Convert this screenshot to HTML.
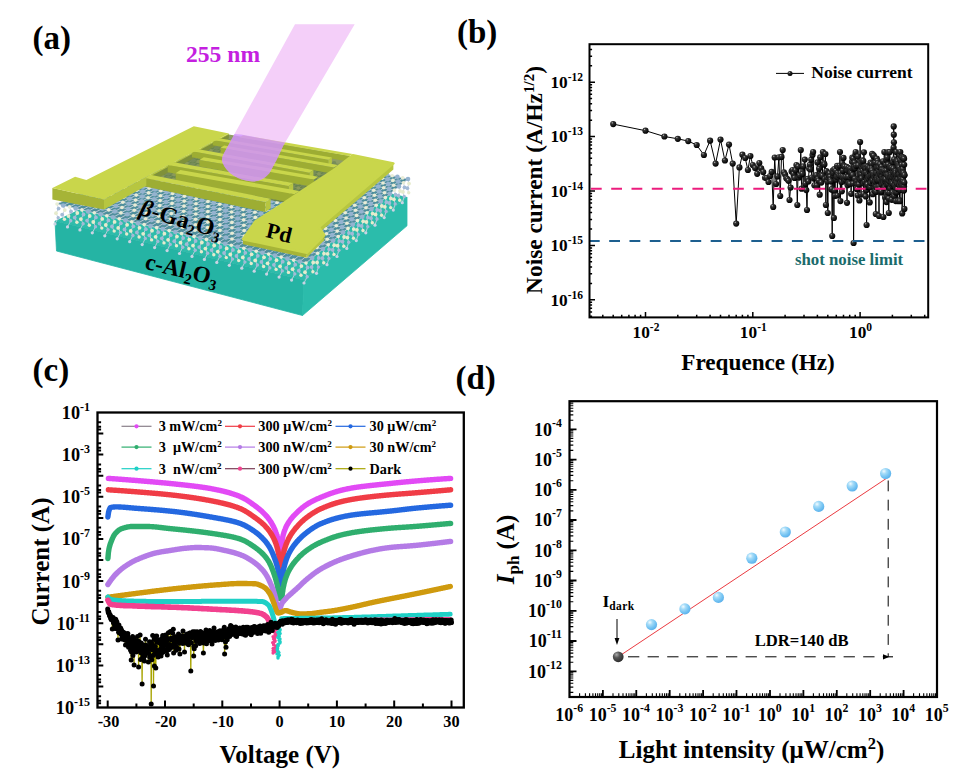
<!DOCTYPE html>
<html><head><meta charset="utf-8"><title>figure</title>
<style>
html,body{margin:0;padding:0;background:#fff;}
body{width:977px;height:775px;overflow:hidden;font-family:"Liberation Serif",serif;}
svg{display:block}
text{font-family:"Liberation Serif",serif;font-weight:bold;}
</style></head><body>
<svg width="977" height="775" viewBox="0 0 977 775">
<defs>
<radialGradient id="gk" cx="35%" cy="30%" r="70%"><stop offset="0" stop-color="#bbb"/><stop offset="0.25" stop-color="#333"/><stop offset="1" stop-color="#000"/></radialGradient>
<radialGradient id="gb" cx="35%" cy="30%" r="75%"><stop offset="0" stop-color="#f2fbff"/><stop offset="0.3" stop-color="#a6dcf8"/><stop offset="0.7" stop-color="#72c2f2"/><stop offset="1" stop-color="#58aeea"/></radialGradient>
<radialGradient id="gg" cx="35%" cy="30%" r="75%"><stop offset="0" stop-color="#aaa"/><stop offset="0.4" stop-color="#555"/><stop offset="1" stop-color="#2a2a2a"/></radialGradient>
<linearGradient id="beam" gradientUnits="userSpaceOnUse" x1="312" y1="25" x2="251" y2="180"><stop offset="0" stop-color="#efb4f6" stop-opacity="0.62"/><stop offset="0.62" stop-color="#eaa6f4" stop-opacity="0.68"/><stop offset="0.74" stop-color="#c98af0" stop-opacity="0.86"/><stop offset="1" stop-color="#c485ee" stop-opacity="0.9"/></linearGradient>
</defs>
<rect width="977" height="775" fill="#fff"/>
<g id="pa">
<text x="32.5" y="48.5" font-size="33" text-anchor="start" fill="#000" >(a)</text>
<text x="186" y="62" font-size="23.6" text-anchor="start" fill="#c41fe0" >255 nm</text>
<polygon points="55,221 304,280 407,197 200,152" fill="#2fbcab" />
<polygon points="55,221 304,280 302.5,315.5 56.5,251" fill="#25b4a4" stroke="#25b4a4" stroke-width="0.8"/>
<polygon points="304,280 407,197 407,225.8 302.5,315.5" fill="#2bbcab" stroke="#2bbcab" stroke-width="0.8"/>
<polygon points="57,204 306,263 408,179 197,134.5" fill="#4f8f9c" />
<path d="M197,134.5L202.3,135.6 M202.3,135.6L207.5,136.7 M207.5,136.7L212.8,137.8 M212.8,137.8L218.1,138.9 M218.1,138.9L223.4,140.1 M223.4,140.1L228.6,141.2 M228.6,141.2L233.9,142.3 M233.9,142.3L239.2,143.4 M239.2,143.4L244.5,144.5 M244.5,144.5L249.8,145.6 M249.8,145.6L255,146.7 M255,146.7L260.3,147.8 M260.3,147.8L265.6,149 M265.6,149L270.9,150.1 M270.9,150.1L276.1,151.2 M276.1,151.2L281.4,152.3 M281.4,152.3L286.7,153.4 M286.7,153.4L291.9,154.5 M291.9,154.5L297.2,155.6 M297.2,155.6L302.5,156.8 M302.5,156.8L307.8,157.9 M307.8,157.9L313.1,159 M313.1,159L318.3,160.1 M318.3,160.1L323.6,161.2 M323.6,161.2L328.9,162.3 M328.9,162.3L334.1,163.4 M334.1,163.4L339.4,164.5 M339.4,164.5L344.7,165.7 M344.7,165.7L350,166.8 M350,166.8L355.2,167.9 M355.2,167.9L360.5,169 M360.5,169L365.8,170.1 M365.8,170.1L371.1,171.2 M371.1,171.2L376.4,172.3 M376.4,172.3L381.6,173.4 M381.6,173.4L386.9,174.5 M386.9,174.5L392.2,175.7 M392.2,175.7L397.4,176.8 M397.4,176.8L402.7,177.9 M402.7,177.9L408,179 M190.9,137.6L196.2,138.7 M190.9,137.6L197,134.5 M196.2,138.7L201.5,139.8 M196.2,138.7L202.3,135.6 M201.5,139.8L206.8,140.9 M201.5,139.8L207.5,136.7 M206.8,140.9L212.1,142.1 M206.8,140.9L212.8,137.8 M212.1,142.1L217.4,143.2 M212.1,142.1L218.1,138.9 M217.4,143.2L222.8,144.3 M217.4,143.2L223.4,140.1 M222.8,144.3L228.1,145.4 M222.8,144.3L228.6,141.2 M228.1,145.4L233.4,146.6 M228.1,145.4L233.9,142.3 M233.4,146.6L238.7,147.7 M233.4,146.6L239.2,143.4 M238.7,147.7L244,148.8 M238.7,147.7L244.5,144.5 M244,148.8L249.3,150 M244,148.8L249.8,145.6 M249.3,150L254.7,151.1 M249.3,150L255,146.7 M254.7,151.1L260,152.2 M254.7,151.1L260.3,147.8 M260,152.2L265.3,153.3 M260,152.2L265.6,149 M265.3,153.3L270.6,154.5 M265.3,153.3L270.9,150.1 M270.6,154.5L275.9,155.6 M270.6,154.5L276.1,151.2 M275.9,155.6L281.2,156.7 M275.9,155.6L281.4,152.3 M281.2,156.7L286.6,157.9 M281.2,156.7L286.7,153.4 M286.6,157.9L291.9,159 M286.6,157.9L291.9,154.5 M291.9,159L297.2,160.1 M291.9,159L297.2,155.6 M297.2,160.1L302.5,161.2 M297.2,160.1L302.5,156.8 M302.5,161.2L307.8,162.4 M302.5,161.2L307.8,157.9 M307.8,162.4L313.1,163.5 M307.8,162.4L313.1,159 M313.1,163.5L318.5,164.6 M313.1,163.5L318.3,160.1 M318.5,164.6L323.8,165.8 M318.5,164.6L323.6,161.2 M323.8,165.8L329.1,166.9 M323.8,165.8L328.9,162.3 M329.1,166.9L334.4,168 M329.1,166.9L334.1,163.4 M334.4,168L339.7,169.1 M334.4,168L339.4,164.5 M339.7,169.1L345,170.3 M339.7,169.1L344.7,165.7 M345,170.3L350.4,171.4 M345,170.3L350,166.8 M350.4,171.4L355.7,172.5 M350.4,171.4L355.2,167.9 M355.7,172.5L361,173.7 M355.7,172.5L360.5,169 M361,173.7L366.3,174.8 M361,173.7L365.8,170.1 M366.3,174.8L371.6,175.9 M366.3,174.8L371.1,171.2 M371.6,175.9L376.9,177 M371.6,175.9L376.4,172.3 M376.9,177L382.3,178.2 M376.9,177L381.6,173.4 M382.3,178.2L387.6,179.3 M382.3,178.2L386.9,174.5 M387.6,179.3L392.9,180.4 M387.6,179.3L392.2,175.7 M392.9,180.4L398.2,181.6 M392.9,180.4L397.4,176.8 M398.2,181.6L403.5,182.7 M398.2,181.6L402.7,177.9 M403.5,182.7L408,179 M184.7,140.6L190,141.8 M184.7,140.6L190.9,137.6 M190,141.8L195.4,142.9 M190,141.8L196.2,138.7 M195.4,142.9L200.8,144 M195.4,142.9L201.5,139.8 M200.8,144L206.1,145.2 M200.8,144L206.8,140.9 M206.1,145.2L211.5,146.3 M206.1,145.2L212.1,142.1 M211.5,146.3L216.8,147.5 M211.5,146.3L217.4,143.2 M216.8,147.5L222.2,148.6 M216.8,147.5L222.8,144.3 M222.2,148.6L227.6,149.8 M222.2,148.6L228.1,145.4 M227.6,149.8L232.9,150.9 M227.6,149.8L233.4,146.6 M232.9,150.9L238.3,152.1 M232.9,150.9L238.7,147.7 M238.3,152.1L243.6,153.2 M238.3,152.1L244,148.8 M243.6,153.2L249,154.3 M243.6,153.2L249.3,150 M249,154.3L254.3,155.5 M249,154.3L254.7,151.1 M254.3,155.5L259.7,156.6 M254.3,155.5L260,152.2 M259.7,156.6L265.1,157.8 M259.7,156.6L265.3,153.3 M265.1,157.8L270.4,158.9 M265.1,157.8L270.6,154.5 M270.4,158.9L275.8,160.1 M270.4,158.9L275.9,155.6 M275.8,160.1L281.1,161.2 M275.8,160.1L281.2,156.7 M281.1,161.2L286.5,162.4 M281.1,161.2L286.6,157.9 M286.5,162.4L291.9,163.5 M286.5,162.4L291.9,159 M291.9,163.5L297.2,164.6 M291.9,163.5L297.2,160.1 M297.2,164.6L302.6,165.8 M297.2,164.6L302.5,161.2 M302.6,165.8L307.9,166.9 M302.6,165.8L307.8,162.4 M307.9,166.9L313.3,168.1 M307.9,166.9L313.1,163.5 M313.3,168.1L318.6,169.2 M313.3,168.1L318.5,164.6 M318.6,169.2L324,170.4 M318.6,169.2L323.8,165.8 M324,170.4L329.4,171.5 M324,170.4L329.1,166.9 M329.4,171.5L334.7,172.7 M329.4,171.5L334.4,168 M334.7,172.7L340.1,173.8 M334.7,172.7L339.7,169.1 M340.1,173.8L345.4,174.9 M340.1,173.8L345,170.3 M345.4,174.9L350.8,176.1 M345.4,174.9L350.4,171.4 M350.8,176.1L356.2,177.2 M350.8,176.1L355.7,172.5 M356.2,177.2L361.5,178.4 M356.2,177.2L361,173.7 M361.5,178.4L366.9,179.5 M361.5,178.4L366.3,174.8 M366.9,179.5L372.2,180.7 M366.9,179.5L371.6,175.9 M372.2,180.7L377.6,181.8 M372.2,180.7L376.9,177 M377.6,181.8L383,183 M377.6,181.8L382.3,178.2 M383,183L388.3,184.1 M383,183L387.6,179.3 M388.3,184.1L393.7,185.2 M388.3,184.1L392.9,180.4 M393.7,185.2L399,186.4 M393.7,185.2L398.2,181.6 M399,186.4L403.5,182.7 M178.5,143.7L183.9,144.8 M178.5,143.7L184.7,140.6 M183.9,144.8L189.3,146 M183.9,144.8L190,141.8 M189.3,146L194.7,147.2 M189.3,146L195.4,142.9 M194.7,147.2L200.1,148.3 M194.7,147.2L200.8,144 M200.1,148.3L205.5,149.5 M200.1,148.3L206.1,145.2 M205.5,149.5L210.9,150.7 M205.5,149.5L211.5,146.3 M210.9,150.7L216.3,151.8 M210.9,150.7L216.8,147.5 M216.3,151.8L221.7,153 M216.3,151.8L222.2,148.6 M221.7,153L227.1,154.1 M221.7,153L227.6,149.8 M227.1,154.1L232.5,155.3 M227.1,154.1L232.9,150.9 M232.5,155.3L237.9,156.5 M232.5,155.3L238.3,152.1 M237.9,156.5L243.3,157.6 M237.9,156.5L243.6,153.2 M243.3,157.6L248.7,158.8 M243.3,157.6L249,154.3 M248.7,158.8L254.1,159.9 M248.7,158.8L254.3,155.5 M254.1,159.9L259.5,161.1 M254.1,159.9L259.7,156.6 M259.5,161.1L264.9,162.3 M259.5,161.1L265.1,157.8 M264.9,162.3L270.3,163.4 M264.9,162.3L270.4,158.9 M270.3,163.4L275.7,164.6 M270.3,163.4L275.8,160.1 M275.7,164.6L281.1,165.7 M275.7,164.6L281.1,161.2 M281.1,165.7L286.5,166.9 M281.1,165.7L286.5,162.4 M286.5,166.9L291.9,168.1 M286.5,166.9L291.9,163.5 M291.9,168.1L297.3,169.2 M291.9,168.1L297.2,164.6 M297.3,169.2L302.7,170.4 M297.3,169.2L302.6,165.8 M302.7,170.4L308.1,171.5 M302.7,170.4L307.9,166.9 M308.1,171.5L313.5,172.7 M308.1,171.5L313.3,168.1 M313.5,172.7L318.9,173.9 M313.5,172.7L318.6,169.2 M318.9,173.9L324.3,175 M318.9,173.9L324,170.4 M324.3,175L329.7,176.2 M324.3,175L329.4,171.5 M329.7,176.2L335.1,177.3 M329.7,176.2L334.7,172.7 M335.1,177.3L340.5,178.5 M335.1,177.3L340.1,173.8 M340.5,178.5L345.9,179.7 M340.5,178.5L345.4,174.9 M345.9,179.7L351.3,180.8 M345.9,179.7L350.8,176.1 M351.3,180.8L356.7,182 M351.3,180.8L356.2,177.2 M356.7,182L362.1,183.1 M356.7,182L361.5,178.4 M362.1,183.1L367.5,184.3 M362.1,183.1L366.9,179.5 M367.5,184.3L372.9,185.5 M367.5,184.3L372.2,180.7 M372.9,185.5L378.3,186.6 M372.9,185.5L377.6,181.8 M378.3,186.6L383.7,187.8 M378.3,186.6L383,183 M383.7,187.8L389.1,188.9 M383.7,187.8L388.3,184.1 M389.1,188.9L394.5,190.1 M389.1,188.9L393.7,185.2 M394.5,190.1L399,186.4 M172.3,146.8L177.7,148 M172.3,146.8L178.5,143.7 M177.7,148L183.2,149.1 M177.7,148L183.9,144.8 M183.2,149.1L188.6,150.3 M183.2,149.1L189.3,146 M188.6,150.3L194,151.5 M188.6,150.3L194.7,147.2 M194,151.5L199.5,152.7 M194,151.5L200.1,148.3 M199.5,152.7L204.9,153.8 M199.5,152.7L205.5,149.5 M204.9,153.8L210.4,155 M204.9,153.8L210.9,150.7 M210.4,155L215.8,156.2 M210.4,155L216.3,151.8 M215.8,156.2L221.3,157.4 M215.8,156.2L221.7,153 M221.3,157.4L226.7,158.5 M221.3,157.4L227.1,154.1 M226.7,158.5L232.1,159.7 M226.7,158.5L232.5,155.3 M232.1,159.7L237.6,160.9 M232.1,159.7L237.9,156.5 M237.6,160.9L243,162.1 M237.6,160.9L243.3,157.6 M243,162.1L248.5,163.3 M243,162.1L248.7,158.8 M248.5,163.3L253.9,164.4 M248.5,163.3L254.1,159.9 M253.9,164.4L259.4,165.6 M253.9,164.4L259.5,161.1 M259.4,165.6L264.8,166.8 M259.4,165.6L264.9,162.3 M264.8,166.8L270.2,168 M264.8,166.8L270.3,163.4 M270.2,168L275.7,169.1 M270.2,168L275.7,164.6 M275.7,169.1L281.1,170.3 M275.7,169.1L281.1,165.7 M281.1,170.3L286.6,171.5 M281.1,170.3L286.5,166.9 M286.6,171.5L292,172.7 M286.6,171.5L291.9,168.1 M292,172.7L297.5,173.8 M292,172.7L297.3,169.2 M297.5,173.8L302.9,175 M297.5,173.8L302.7,170.4 M302.9,175L308.3,176.2 M302.9,175L308.1,171.5 M308.3,176.2L313.8,177.4 M308.3,176.2L313.5,172.7 M313.8,177.4L319.2,178.5 M313.8,177.4L318.9,173.9 M319.2,178.5L324.7,179.7 M319.2,178.5L324.3,175 M324.7,179.7L330.1,180.9 M324.7,179.7L329.7,176.2 M330.1,180.9L335.6,182.1 M330.1,180.9L335.1,177.3 M335.6,182.1L341,183.3 M335.6,182.1L340.5,178.5 M341,183.3L346.4,184.4 M341,183.3L345.9,179.7 M346.4,184.4L351.9,185.6 M346.4,184.4L351.3,180.8 M351.9,185.6L357.3,186.8 M351.9,185.6L356.7,182 M357.3,186.8L362.8,188 M357.3,186.8L362.1,183.1 M362.8,188L368.2,189.1 M362.8,188L367.5,184.3 M368.2,189.1L373.7,190.3 M368.2,189.1L372.9,185.5 M373.7,190.3L379.1,191.5 M373.7,190.3L378.3,186.6 M379.1,191.5L384.5,192.7 M379.1,191.5L383.7,187.8 M384.5,192.7L390,193.8 M384.5,192.7L389.1,188.9 M390,193.8L394.5,190.1 M166,149.9L171.5,151.1 M166,149.9L172.3,146.8 M171.5,151.1L177,152.3 M171.5,151.1L177.7,148 M177,152.3L182.5,153.5 M177,152.3L183.2,149.1 M182.5,153.5L188,154.7 M182.5,153.5L188.6,150.3 M188,154.7L193.4,155.8 M188,154.7L194,151.5 M193.4,155.8L198.9,157 M193.4,155.8L199.5,152.7 M198.9,157L204.4,158.2 M198.9,157L204.9,153.8 M204.4,158.2L209.9,159.4 M204.4,158.2L210.4,155 M209.9,159.4L215.4,160.6 M209.9,159.4L215.8,156.2 M215.4,160.6L220.9,161.8 M215.4,160.6L221.3,157.4 M220.9,161.8L226.4,163 M220.9,161.8L226.7,158.5 M226.4,163L231.8,164.2 M226.4,163L232.1,159.7 M231.8,164.2L237.3,165.4 M231.8,164.2L237.6,160.9 M237.3,165.4L242.8,166.6 M237.3,165.4L243,162.1 M242.8,166.6L248.3,167.8 M242.8,166.6L248.5,163.3 M248.3,167.8L253.8,169 M248.3,167.8L253.9,164.4 M253.8,169L259.3,170.2 M253.8,169L259.4,165.6 M259.3,170.2L264.7,171.4 M259.3,170.2L264.8,166.8 M264.7,171.4L270.2,172.5 M264.7,171.4L270.2,168 M270.2,172.5L275.7,173.7 M270.2,172.5L275.7,169.1 M275.7,173.7L281.2,174.9 M275.7,173.7L281.1,170.3 M281.2,174.9L286.7,176.1 M281.2,174.9L286.6,171.5 M286.7,176.1L292.2,177.3 M286.7,176.1L292,172.7 M292.2,177.3L297.7,178.5 M292.2,177.3L297.5,173.8 M297.7,178.5L303.1,179.7 M297.7,178.5L302.9,175 M303.1,179.7L308.6,180.9 M303.1,179.7L308.3,176.2 M308.6,180.9L314.1,182.1 M308.6,180.9L313.8,177.4 M314.1,182.1L319.6,183.3 M314.1,182.1L319.2,178.5 M319.6,183.3L325.1,184.5 M319.6,183.3L324.7,179.7 M325.1,184.5L330.6,185.7 M325.1,184.5L330.1,180.9 M330.6,185.7L336.1,186.9 M330.6,185.7L335.6,182.1 M336.1,186.9L341.5,188.1 M336.1,186.9L341,183.3 M341.5,188.1L347,189.2 M341.5,188.1L346.4,184.4 M347,189.2L352.5,190.4 M347,189.2L351.9,185.6 M352.5,190.4L358,191.6 M352.5,190.4L357.3,186.8 M358,191.6L363.5,192.8 M358,191.6L362.8,188 M363.5,192.8L369,194 M363.5,192.8L368.2,189.1 M369,194L374.5,195.2 M369,194L373.7,190.3 M374.5,195.2L379.9,196.4 M374.5,195.2L379.1,191.5 M379.9,196.4L385.4,197.6 M379.9,196.4L384.5,192.7 M385.4,197.6L390,193.8 M159.7,153L165.3,154.2 M159.7,153L166,149.9 M165.3,154.2L170.8,155.4 M165.3,154.2L171.5,151.1 M170.8,155.4L176.3,156.6 M170.8,155.4L177,152.3 M176.3,156.6L181.8,157.8 M176.3,156.6L182.5,153.5 M181.8,157.8L187.4,159 M181.8,157.8L188,154.7 M187.4,159L192.9,160.3 M187.4,159L193.4,155.8 M192.9,160.3L198.4,161.5 M192.9,160.3L198.9,157 M198.4,161.5L204,162.7 M198.4,161.5L204.4,158.2 M204,162.7L209.5,163.9 M204,162.7L209.9,159.4 M209.5,163.9L215,165.1 M209.5,163.9L215.4,160.6 M215,165.1L220.5,166.3 M215,165.1L220.9,161.8 M220.5,166.3L226.1,167.5 M220.5,166.3L226.4,163 M226.1,167.5L231.6,168.7 M226.1,167.5L231.8,164.2 M231.6,168.7L237.1,169.9 M231.6,168.7L237.3,165.4 M237.1,169.9L242.6,171.1 M237.1,169.9L242.8,166.6 M242.6,171.1L248.2,172.3 M242.6,171.1L248.3,167.8 M248.2,172.3L253.7,173.6 M248.2,172.3L253.8,169 M253.7,173.6L259.2,174.8 M253.7,173.6L259.3,170.2 M259.2,174.8L264.8,176 M259.2,174.8L264.7,171.4 M264.8,176L270.3,177.2 M264.8,176L270.2,172.5 M270.3,177.2L275.8,178.4 M270.3,177.2L275.7,173.7 M275.8,178.4L281.3,179.6 M275.8,178.4L281.2,174.9 M281.3,179.6L286.9,180.8 M281.3,179.6L286.7,176.1 M286.9,180.8L292.4,182 M286.9,180.8L292.2,177.3 M292.4,182L297.9,183.2 M292.4,182L297.7,178.5 M297.9,183.2L303.5,184.4 M297.9,183.2L303.1,179.7 M303.5,184.4L309,185.6 M303.5,184.4L308.6,180.9 M309,185.6L314.5,186.9 M309,185.6L314.1,182.1 M314.5,186.9L320,188.1 M314.5,186.9L319.6,183.3 M320,188.1L325.6,189.3 M320,188.1L325.1,184.5 M325.6,189.3L331.1,190.5 M325.6,189.3L330.6,185.7 M331.1,190.5L336.6,191.7 M331.1,190.5L336.1,186.9 M336.6,191.7L342.1,192.9 M336.6,191.7L341.5,188.1 M342.1,192.9L347.7,194.1 M342.1,192.9L347,189.2 M347.7,194.1L353.2,195.3 M347.7,194.1L352.5,190.4 M353.2,195.3L358.7,196.5 M353.2,195.3L358,191.6 M358.7,196.5L364.3,197.7 M358.7,196.5L363.5,192.8 M364.3,197.7L369.8,198.9 M364.3,197.7L369,194 M369.8,198.9L375.3,200.2 M369.8,198.9L374.5,195.2 M375.3,200.2L380.8,201.4 M375.3,200.2L379.9,196.4 M380.8,201.4L385.4,197.6 M153.4,156.1L159,157.4 M153.4,156.1L159.7,153 M159,157.4L164.6,158.6 M159,157.4L165.3,154.2 M164.6,158.6L170.1,159.8 M164.6,158.6L170.8,155.4 M170.1,159.8L175.7,161 M170.1,159.8L176.3,156.6 M175.7,161L181.3,162.3 M175.7,161L181.8,157.8 M181.3,162.3L186.8,163.5 M181.3,162.3L187.4,159 M186.8,163.5L192.4,164.7 M186.8,163.5L192.9,160.3 M192.4,164.7L198,165.9 M192.4,164.7L198.4,161.5 M198,165.9L203.5,167.2 M198,165.9L204,162.7 M203.5,167.2L209.1,168.4 M203.5,167.2L209.5,163.9 M209.1,168.4L214.7,169.6 M209.1,168.4L215,165.1 M214.7,169.6L220.3,170.8 M214.7,169.6L220.5,166.3 M220.3,170.8L225.8,172.1 M220.3,170.8L226.1,167.5 M225.8,172.1L231.4,173.3 M225.8,172.1L231.6,168.7 M231.4,173.3L237,174.5 M231.4,173.3L237.1,169.9 M237,174.5L242.5,175.7 M237,174.5L242.6,171.1 M242.5,175.7L248.1,177 M242.5,175.7L248.2,172.3 M248.1,177L253.7,178.2 M248.1,177L253.7,173.6 M253.7,178.2L259.3,179.4 M253.7,178.2L259.2,174.8 M259.3,179.4L264.8,180.6 M259.3,179.4L264.8,176 M264.8,180.6L270.4,181.9 M264.8,180.6L270.3,177.2 M270.4,181.9L276,183.1 M270.4,181.9L275.8,178.4 M276,183.1L281.5,184.3 M276,183.1L281.3,179.6 M281.5,184.3L287.1,185.5 M281.5,184.3L286.9,180.8 M287.1,185.5L292.7,186.8 M287.1,185.5L292.4,182 M292.7,186.8L298.3,188 M292.7,186.8L297.9,183.2 M298.3,188L303.8,189.2 M298.3,188L303.5,184.4 M303.8,189.2L309.4,190.4 M303.8,189.2L309,185.6 M309.4,190.4L315,191.7 M309.4,190.4L314.5,186.9 M315,191.7L320.5,192.9 M315,191.7L320,188.1 M320.5,192.9L326.1,194.1 M320.5,192.9L325.6,189.3 M326.1,194.1L331.7,195.4 M326.1,194.1L331.1,190.5 M331.7,195.4L337.2,196.6 M331.7,195.4L336.6,191.7 M337.2,196.6L342.8,197.8 M337.2,196.6L342.1,192.9 M342.8,197.8L348.4,199 M342.8,197.8L347.7,194.1 M348.4,199L354,200.3 M348.4,199L353.2,195.3 M354,200.3L359.5,201.5 M354,200.3L358.7,196.5 M359.5,201.5L365.1,202.7 M359.5,201.5L364.3,197.7 M365.1,202.7L370.7,203.9 M365.1,202.7L369.8,198.9 M370.7,203.9L376.2,205.2 M370.7,203.9L375.3,200.2 M376.2,205.2L380.8,201.4 M147.1,159.3L152.7,160.5 M147.1,159.3L153.4,156.1 M152.7,160.5L158.3,161.8 M152.7,160.5L159,157.4 M158.3,161.8L163.9,163 M158.3,161.8L164.6,158.6 M163.9,163L169.5,164.3 M163.9,163L170.1,159.8 M169.5,164.3L175.1,165.5 M169.5,164.3L175.7,161 M175.1,165.5L180.7,166.7 M175.1,165.5L181.3,162.3 M180.7,166.7L186.4,168 M180.7,166.7L186.8,163.5 M186.4,168L192,169.2 M186.4,168L192.4,164.7 M192,169.2L197.6,170.5 M192,169.2L198,165.9 M197.6,170.5L203.2,171.7 M197.6,170.5L203.5,167.2 M203.2,171.7L208.8,173 M203.2,171.7L209.1,168.4 M208.8,173L214.4,174.2 M208.8,173L214.7,169.6 M214.4,174.2L220,175.4 M214.4,174.2L220.3,170.8 M220,175.4L225.7,176.7 M220,175.4L225.8,172.1 M225.7,176.7L231.3,177.9 M225.7,176.7L231.4,173.3 M231.3,177.9L236.9,179.2 M231.3,177.9L237,174.5 M236.9,179.2L242.5,180.4 M236.9,179.2L242.5,175.7 M242.5,180.4L248.1,181.6 M242.5,180.4L248.1,177 M248.1,181.6L253.7,182.9 M248.1,181.6L253.7,178.2 M253.7,182.9L259.3,184.1 M253.7,182.9L259.3,179.4 M259.3,184.1L264.9,185.4 M259.3,184.1L264.8,180.6 M264.9,185.4L270.6,186.6 M264.9,185.4L270.4,181.9 M270.6,186.6L276.2,187.9 M270.6,186.6L276,183.1 M276.2,187.9L281.8,189.1 M276.2,187.9L281.5,184.3 M281.8,189.1L287.4,190.3 M281.8,189.1L287.1,185.5 M287.4,190.3L293,191.6 M287.4,190.3L292.7,186.8 M293,191.6L298.6,192.8 M293,191.6L298.3,188 M298.6,192.8L304.2,194.1 M298.6,192.8L303.8,189.2 M304.2,194.1L309.9,195.3 M304.2,194.1L309.4,190.4 M309.9,195.3L315.5,196.5 M309.9,195.3L315,191.7 M315.5,196.5L321.1,197.8 M315.5,196.5L320.5,192.9 M321.1,197.8L326.7,199 M321.1,197.8L326.1,194.1 M326.7,199L332.3,200.3 M326.7,199L331.7,195.4 M332.3,200.3L337.9,201.5 M332.3,200.3L337.2,196.6 M337.9,201.5L343.5,202.8 M337.9,201.5L342.8,197.8 M343.5,202.8L349.2,204 M343.5,202.8L348.4,199 M349.2,204L354.8,205.2 M349.2,204L354,200.3 M354.8,205.2L360.4,206.5 M354.8,205.2L359.5,201.5 M360.4,206.5L366,207.7 M360.4,206.5L365.1,202.7 M366,207.7L371.6,209 M366,207.7L370.7,203.9 M371.6,209L376.2,205.2 M140.7,162.5L146.3,163.7 M140.7,162.5L147.1,159.3 M146.3,163.7L152,165 M146.3,163.7L152.7,160.5 M152,165L157.6,166.2 M152,165L158.3,161.8 M157.6,166.2L163.3,167.5 M157.6,166.2L163.9,163 M163.3,167.5L168.9,168.8 M163.3,167.5L169.5,164.3 M168.9,168.8L174.6,170 M168.9,168.8L175.1,165.5 M174.6,170L180.3,171.3 M174.6,170L180.7,166.7 M180.3,171.3L185.9,172.5 M180.3,171.3L186.4,168 M185.9,172.5L191.6,173.8 M185.9,172.5L192,169.2 M191.6,173.8L197.2,175.1 M191.6,173.8L197.6,170.5 M197.2,175.1L202.9,176.3 M197.2,175.1L203.2,171.7 M202.9,176.3L208.6,177.6 M202.9,176.3L208.8,173 M208.6,177.6L214.2,178.8 M208.6,177.6L214.4,174.2 M214.2,178.8L219.9,180.1 M214.2,178.8L220,175.4 M219.9,180.1L225.5,181.3 M219.9,180.1L225.7,176.7 M225.5,181.3L231.2,182.6 M225.5,181.3L231.3,177.9 M231.2,182.6L236.8,183.9 M231.2,182.6L236.9,179.2 M236.8,183.9L242.5,185.1 M236.8,183.9L242.5,180.4 M242.5,185.1L248.2,186.4 M242.5,185.1L248.1,181.6 M248.2,186.4L253.8,187.6 M248.2,186.4L253.7,182.9 M253.8,187.6L259.5,188.9 M253.8,187.6L259.3,184.1 M259.5,188.9L265.1,190.2 M259.5,188.9L264.9,185.4 M265.1,190.2L270.8,191.4 M265.1,190.2L270.6,186.6 M270.8,191.4L276.4,192.7 M270.8,191.4L276.2,187.9 M276.4,192.7L282.1,193.9 M276.4,192.7L281.8,189.1 M282.1,193.9L287.8,195.2 M282.1,193.9L287.4,190.3 M287.8,195.2L293.4,196.4 M287.8,195.2L293,191.6 M293.4,196.4L299.1,197.7 M293.4,196.4L298.6,192.8 M299.1,197.7L304.7,199 M299.1,197.7L304.2,194.1 M304.7,199L310.4,200.2 M304.7,199L309.9,195.3 M310.4,200.2L316,201.5 M310.4,200.2L315.5,196.5 M316,201.5L321.7,202.7 M316,201.5L321.1,197.8 M321.7,202.7L327.4,204 M321.7,202.7L326.7,199 M327.4,204L333,205.3 M327.4,204L332.3,200.3 M333,205.3L338.7,206.5 M333,205.3L337.9,201.5 M338.7,206.5L344.3,207.8 M338.7,206.5L343.5,202.8 M344.3,207.8L350,209 M344.3,207.8L349.2,204 M350,209L355.6,210.3 M350,209L354.8,205.2 M355.6,210.3L361.3,211.5 M355.6,210.3L360.4,206.5 M361.3,211.5L367,212.8 M361.3,211.5L366,207.7 M367,212.8L371.6,209 M134.2,165.7L139.9,166.9 M134.2,165.7L140.7,162.5 M139.9,166.9L145.6,168.2 M139.9,166.9L146.3,163.7 M145.6,168.2L151.3,169.5 M145.6,168.2L152,165 M151.3,169.5L157,170.8 M151.3,169.5L157.6,166.2 M157,170.8L162.7,172 M157,170.8L163.3,167.5 M162.7,172L168.4,173.3 M162.7,172L168.9,168.8 M168.4,173.3L174.1,174.6 M168.4,173.3L174.6,170 M174.1,174.6L179.8,175.9 M174.1,174.6L180.3,171.3 M179.8,175.9L185.5,177.1 M179.8,175.9L185.9,172.5 M185.5,177.1L191.2,178.4 M185.5,177.1L191.6,173.8 M191.2,178.4L196.9,179.7 M191.2,178.4L197.2,175.1 M196.9,179.7L202.6,181 M196.9,179.7L202.9,176.3 M202.6,181L208.3,182.2 M202.6,181L208.6,177.6 M208.3,182.2L214,183.5 M208.3,182.2L214.2,178.8 M214,183.5L219.7,184.8 M214,183.5L219.9,180.1 M219.7,184.8L225.4,186.1 M219.7,184.8L225.5,181.3 M225.4,186.1L231.1,187.3 M225.4,186.1L231.2,182.6 M231.1,187.3L236.8,188.6 M231.1,187.3L236.8,183.9 M236.8,188.6L242.5,189.9 M236.8,188.6L242.5,185.1 M242.5,189.9L248.2,191.2 M242.5,189.9L248.2,186.4 M248.2,191.2L253.9,192.4 M248.2,191.2L253.8,187.6 M253.9,192.4L259.6,193.7 M253.9,192.4L259.5,188.9 M259.6,193.7L265.3,195 M259.6,193.7L265.1,190.2 M265.3,195L271,196.3 M265.3,195L270.8,191.4 M271,196.3L276.8,197.5 M271,196.3L276.4,192.7 M276.8,197.5L282.5,198.8 M276.8,197.5L282.1,193.9 M282.5,198.8L288.2,200.1 M282.5,198.8L287.8,195.2 M288.2,200.1L293.9,201.4 M288.2,200.1L293.4,196.4 M293.9,201.4L299.6,202.6 M293.9,201.4L299.1,197.7 M299.6,202.6L305.3,203.9 M299.6,202.6L304.7,199 M305.3,203.9L311,205.2 M305.3,203.9L310.4,200.2 M311,205.2L316.7,206.5 M311,205.2L316,201.5 M316.7,206.5L322.4,207.7 M316.7,206.5L321.7,202.7 M322.4,207.7L328.1,209 M322.4,207.7L327.4,204 M328.1,209L333.8,210.3 M328.1,209L333,205.3 M333.8,210.3L339.5,211.6 M333.8,210.3L338.7,206.5 M339.5,211.6L345.2,212.8 M339.5,211.6L344.3,207.8 M345.2,212.8L350.9,214.1 M345.2,212.8L350,209 M350.9,214.1L356.6,215.4 M350.9,214.1L355.6,210.3 M356.6,215.4L362.3,216.7 M356.6,215.4L361.3,211.5 M362.3,216.7L367,212.8 M127.7,168.9L133.5,170.2 M127.7,168.9L134.2,165.7 M133.5,170.2L139.2,171.5 M133.5,170.2L139.9,166.9 M139.2,171.5L145,172.8 M139.2,171.5L145.6,168.2 M145,172.8L150.7,174 M145,172.8L151.3,169.5 M150.7,174L156.5,175.3 M150.7,174L157,170.8 M156.5,175.3L162.2,176.6 M156.5,175.3L162.7,172 M162.2,176.6L168,177.9 M162.2,176.6L168.4,173.3 M168,177.9L173.7,179.2 M168,177.9L174.1,174.6 M173.7,179.2L179.4,180.5 M173.7,179.2L179.8,175.9 M179.4,180.5L185.2,181.8 M179.4,180.5L185.5,177.1 M185.2,181.8L190.9,183.1 M185.2,181.8L191.2,178.4 M190.9,183.1L196.7,184.4 M190.9,183.1L196.9,179.7 M196.7,184.4L202.4,185.7 M196.7,184.4L202.6,181 M202.4,185.7L208.2,187 M202.4,185.7L208.3,182.2 M208.2,187L213.9,188.3 M208.2,187L214,183.5 M213.9,188.3L219.7,189.6 M213.9,188.3L219.7,184.8 M219.7,189.6L225.4,190.8 M219.7,189.6L225.4,186.1 M225.4,190.8L231.2,192.1 M225.4,190.8L231.1,187.3 M231.2,192.1L236.9,193.4 M231.2,192.1L236.8,188.6 M236.9,193.4L242.6,194.7 M236.9,193.4L242.5,189.9 M242.6,194.7L248.4,196 M242.6,194.7L248.2,191.2 M248.4,196L254.1,197.3 M248.4,196L253.9,192.4 M254.1,197.3L259.9,198.6 M254.1,197.3L259.6,193.7 M259.9,198.6L265.6,199.9 M259.9,198.6L265.3,195 M265.6,199.9L271.4,201.2 M265.6,199.9L271,196.3 M271.4,201.2L277.1,202.5 M271.4,201.2L276.8,197.5 M277.1,202.5L282.9,203.8 M277.1,202.5L282.5,198.8 M282.9,203.8L288.6,205.1 M282.9,203.8L288.2,200.1 M288.6,205.1L294.3,206.3 M288.6,205.1L293.9,201.4 M294.3,206.3L300.1,207.6 M294.3,206.3L299.6,202.6 M300.1,207.6L305.8,208.9 M300.1,207.6L305.3,203.9 M305.8,208.9L311.6,210.2 M305.8,208.9L311,205.2 M311.6,210.2L317.3,211.5 M311.6,210.2L316.7,206.5 M317.3,211.5L323.1,212.8 M317.3,211.5L322.4,207.7 M323.1,212.8L328.8,214.1 M323.1,212.8L328.1,209 M328.8,214.1L334.6,215.4 M328.8,214.1L333.8,210.3 M334.6,215.4L340.3,216.7 M334.6,215.4L339.5,211.6 M340.3,216.7L346.1,218 M340.3,216.7L345.2,212.8 M346.1,218L351.8,219.3 M346.1,218L350.9,214.1 M351.8,219.3L357.5,220.6 M351.8,219.3L356.6,215.4 M357.5,220.6L362.3,216.7 M121.2,172.1L127,173.4 M121.2,172.1L127.7,168.9 M127,173.4L132.8,174.7 M127,173.4L133.5,170.2 M132.8,174.7L138.6,176.1 M132.8,174.7L139.2,171.5 M138.6,176.1L144.4,177.4 M138.6,176.1L145,172.8 M144.4,177.4L150.2,178.7 M144.4,177.4L150.7,174 M150.2,178.7L155.9,180 M150.2,178.7L156.5,175.3 M155.9,180L161.7,181.3 M155.9,180L162.2,176.6 M161.7,181.3L167.5,182.6 M161.7,181.3L168,177.9 M167.5,182.6L173.3,183.9 M167.5,182.6L173.7,179.2 M173.3,183.9L179.1,185.2 M173.3,183.9L179.4,180.5 M179.1,185.2L184.9,186.5 M179.1,185.2L185.2,181.8 M184.9,186.5L190.7,187.8 M184.9,186.5L190.9,183.1 M190.7,187.8L196.5,189.1 M190.7,187.8L196.7,184.4 M196.5,189.1L202.3,190.4 M196.5,189.1L202.4,185.7 M202.3,190.4L208,191.8 M202.3,190.4L208.2,187 M208,191.8L213.8,193.1 M208,191.8L213.9,188.3 M213.8,193.1L219.6,194.4 M213.8,193.1L219.7,189.6 M219.6,194.4L225.4,195.7 M219.6,194.4L225.4,190.8 M225.4,195.7L231.2,197 M225.4,195.7L231.2,192.1 M231.2,197L237,198.3 M231.2,197L236.9,193.4 M237,198.3L242.8,199.6 M237,198.3L242.6,194.7 M242.8,199.6L248.6,200.9 M242.8,199.6L248.4,196 M248.6,200.9L254.4,202.2 M248.6,200.9L254.1,197.3 M254.4,202.2L260.2,203.5 M254.4,202.2L259.9,198.6 M260.2,203.5L265.9,204.8 M260.2,203.5L265.6,199.9 M265.9,204.8L271.7,206.2 M265.9,204.8L271.4,201.2 M271.7,206.2L277.5,207.5 M271.7,206.2L277.1,202.5 M277.5,207.5L283.3,208.8 M277.5,207.5L282.9,203.8 M283.3,208.8L289.1,210.1 M283.3,208.8L288.6,205.1 M289.1,210.1L294.9,211.4 M289.1,210.1L294.3,206.3 M294.9,211.4L300.7,212.7 M294.9,211.4L300.1,207.6 M300.7,212.7L306.5,214 M300.7,212.7L305.8,208.9 M306.5,214L312.3,215.3 M306.5,214L311.6,210.2 M312.3,215.3L318,216.6 M312.3,215.3L317.3,211.5 M318,216.6L323.8,217.9 M318,216.6L323.1,212.8 M323.8,217.9L329.6,219.2 M323.8,217.9L328.8,214.1 M329.6,219.2L335.4,220.5 M329.6,219.2L334.6,215.4 M335.4,220.5L341.2,221.9 M335.4,220.5L340.3,216.7 M341.2,221.9L347,223.2 M341.2,221.9L346.1,218 M347,223.2L352.8,224.5 M347,223.2L351.8,219.3 M352.8,224.5L357.5,220.6 M114.6,175.4L120.4,176.7 M114.6,175.4L121.2,172.1 M120.4,176.7L126.3,178.1 M120.4,176.7L127,173.4 M126.3,178.1L132.1,179.4 M126.3,178.1L132.8,174.7 M132.1,179.4L138,180.7 M132.1,179.4L138.6,176.1 M138,180.7L143.8,182 M138,180.7L144.4,177.4 M143.8,182L149.6,183.4 M143.8,182L150.2,178.7 M149.6,183.4L155.5,184.7 M149.6,183.4L155.9,180 M155.5,184.7L161.3,186 M155.5,184.7L161.7,181.3 M161.3,186L167.1,187.3 M161.3,186L167.5,182.6 M167.1,187.3L173,188.7 M167.1,187.3L173.3,183.9 M173,188.7L178.8,190 M173,188.7L179.1,185.2 M178.8,190L184.6,191.3 M178.8,190L184.9,186.5 M184.6,191.3L190.5,192.6 M184.6,191.3L190.7,187.8 M190.5,192.6L196.3,194 M190.5,192.6L196.5,189.1 M196.3,194L202.1,195.3 M196.3,194L202.3,190.4 M202.1,195.3L208,196.6 M202.1,195.3L208,191.8 M208,196.6L213.8,197.9 M208,196.6L213.8,193.1 M213.8,197.9L219.6,199.3 M213.8,197.9L219.6,194.4 M219.6,199.3L225.5,200.6 M219.6,199.3L225.4,195.7 M225.5,200.6L231.3,201.9 M225.5,200.6L231.2,197 M231.3,201.9L237.1,203.2 M231.3,201.9L237,198.3 M237.1,203.2L243,204.6 M237.1,203.2L242.8,199.6 M243,204.6L248.8,205.9 M243,204.6L248.6,200.9 M248.8,205.9L254.6,207.2 M248.8,205.9L254.4,202.2 M254.6,207.2L260.5,208.5 M254.6,207.2L260.2,203.5 M260.5,208.5L266.3,209.9 M260.5,208.5L265.9,204.8 M266.3,209.9L272.1,211.2 M266.3,209.9L271.7,206.2 M272.1,211.2L278,212.5 M272.1,211.2L277.5,207.5 M278,212.5L283.8,213.8 M278,212.5L283.3,208.8 M283.8,213.8L289.6,215.2 M283.8,213.8L289.1,210.1 M289.6,215.2L295.5,216.5 M289.6,215.2L294.9,211.4 M295.5,216.5L301.3,217.8 M295.5,216.5L300.7,212.7 M301.3,217.8L307.1,219.2 M301.3,217.8L306.5,214 M307.1,219.2L313,220.5 M307.1,219.2L312.3,215.3 M313,220.5L318.8,221.8 M313,220.5L318,216.6 M318.8,221.8L324.6,223.1 M318.8,221.8L323.8,217.9 M324.6,223.1L330.5,224.5 M324.6,223.1L329.6,219.2 M330.5,224.5L336.3,225.8 M330.5,224.5L335.4,220.5 M336.3,225.8L342.1,227.1 M336.3,225.8L341.2,221.9 M342.1,227.1L348,228.4 M342.1,227.1L347,223.2 M348,228.4L352.8,224.5 M108,178.7L113.8,180 M108,178.7L114.6,175.4 M113.8,180L119.7,181.4 M113.8,180L120.4,176.7 M119.7,181.4L125.6,182.7 M119.7,181.4L126.3,178.1 M125.6,182.7L131.5,184.1 M125.6,182.7L132.1,179.4 M131.5,184.1L137.3,185.4 M131.5,184.1L138,180.7 M137.3,185.4L143.2,186.8 M137.3,185.4L143.8,182 M143.2,186.8L149.1,188.1 M143.2,186.8L149.6,183.4 M149.1,188.1L155,189.4 M149.1,188.1L155.5,184.7 M155,189.4L160.9,190.8 M155,189.4L161.3,186 M160.9,190.8L166.7,192.1 M160.9,190.8L167.1,187.3 M166.7,192.1L172.6,193.5 M166.7,192.1L173,188.7 M172.6,193.5L178.5,194.8 M172.6,193.5L178.8,190 M178.5,194.8L184.4,196.2 M178.5,194.8L184.6,191.3 M184.4,196.2L190.3,197.5 M184.4,196.2L190.5,192.6 M190.3,197.5L196.1,198.9 M190.3,197.5L196.3,194 M196.1,198.9L202,200.2 M196.1,198.9L202.1,195.3 M202,200.2L207.9,201.5 M202,200.2L208,196.6 M207.9,201.5L213.8,202.9 M207.9,201.5L213.8,197.9 M213.8,202.9L219.7,204.2 M213.8,202.9L219.6,199.3 M219.7,204.2L225.5,205.6 M219.7,204.2L225.5,200.6 M225.5,205.6L231.4,206.9 M225.5,205.6L231.3,201.9 M231.4,206.9L237.3,208.3 M231.4,206.9L237.1,203.2 M237.3,208.3L243.2,209.6 M237.3,208.3L243,204.6 M243.2,209.6L249.1,210.9 M243.2,209.6L248.8,205.9 M249.1,210.9L254.9,212.3 M249.1,210.9L254.6,207.2 M254.9,212.3L260.8,213.6 M254.9,212.3L260.5,208.5 M260.8,213.6L266.7,215 M260.8,213.6L266.3,209.9 M266.7,215L272.6,216.3 M266.7,215L272.1,211.2 M272.6,216.3L278.5,217.7 M272.6,216.3L278,212.5 M278.5,217.7L284.3,219 M278.5,217.7L283.8,213.8 M284.3,219L290.2,220.3 M284.3,219L289.6,215.2 M290.2,220.3L296.1,221.7 M290.2,220.3L295.5,216.5 M296.1,221.7L302,223 M296.1,221.7L301.3,217.8 M302,223L307.8,224.4 M302,223L307.1,219.2 M307.8,224.4L313.7,225.7 M307.8,224.4L313,220.5 M313.7,225.7L319.6,227.1 M313.7,225.7L318.8,221.8 M319.6,227.1L325.5,228.4 M319.6,227.1L324.6,223.1 M325.5,228.4L331.4,229.7 M325.5,228.4L330.5,224.5 M331.4,229.7L337.2,231.1 M331.4,229.7L336.3,225.8 M337.2,231.1L343.1,232.4 M337.2,231.1L342.1,227.1 M343.1,232.4L348,228.4 M101.2,182L107.1,183.4 M101.2,182L108,178.7 M107.1,183.4L113.1,184.8 M107.1,183.4L113.8,180 M113.1,184.8L119,186.1 M113.1,184.8L119.7,181.4 M119,186.1L124.9,187.5 M119,186.1L125.6,182.7 M124.9,187.5L130.8,188.9 M124.9,187.5L131.5,184.1 M130.8,188.9L136.8,190.2 M130.8,188.9L137.3,185.4 M136.8,190.2L142.7,191.6 M136.8,190.2L143.2,186.8 M142.7,191.6L148.6,192.9 M142.7,191.6L149.1,188.1 M148.6,192.9L154.5,194.3 M148.6,192.9L155,189.4 M154.5,194.3L160.5,195.7 M154.5,194.3L160.9,190.8 M160.5,195.7L166.4,197 M160.5,195.7L166.7,192.1 M166.4,197L172.3,198.4 M166.4,197L172.6,193.5 M172.3,198.4L178.2,199.7 M172.3,198.4L178.5,194.8 M178.2,199.7L184.2,201.1 M178.2,199.7L184.4,196.2 M184.2,201.1L190.1,202.5 M184.2,201.1L190.3,197.5 M190.1,202.5L196,203.8 M190.1,202.5L196.1,198.9 M196,203.8L201.9,205.2 M196,203.8L202,200.2 M201.9,205.2L207.9,206.5 M201.9,205.2L207.9,201.5 M207.9,206.5L213.8,207.9 M207.9,206.5L213.8,202.9 M213.8,207.9L219.7,209.3 M213.8,207.9L219.7,204.2 M219.7,209.3L225.6,210.6 M219.7,209.3L225.5,205.6 M225.6,210.6L231.6,212 M225.6,210.6L231.4,206.9 M231.6,212L237.5,213.3 M231.6,212L237.3,208.3 M237.5,213.3L243.4,214.7 M237.5,213.3L243.2,209.6 M243.4,214.7L249.3,216.1 M243.4,214.7L249.1,210.9 M249.3,216.1L255.3,217.4 M249.3,216.1L254.9,212.3 M255.3,217.4L261.2,218.8 M255.3,217.4L260.8,213.6 M261.2,218.8L267.1,220.1 M261.2,218.8L266.7,215 M267.1,220.1L273,221.5 M267.1,220.1L272.6,216.3 M273,221.5L279,222.9 M273,221.5L278.5,217.7 M279,222.9L284.9,224.2 M279,222.9L284.3,219 M284.9,224.2L290.8,225.6 M284.9,224.2L290.2,220.3 M290.8,225.6L296.7,226.9 M290.8,225.6L296.1,221.7 M296.7,226.9L302.7,228.3 M296.7,226.9L302,223 M302.7,228.3L308.6,229.7 M302.7,228.3L307.8,224.4 M308.6,229.7L314.5,231 M308.6,229.7L313.7,225.7 M314.5,231L320.4,232.4 M314.5,231L319.6,227.1 M320.4,232.4L326.4,233.7 M320.4,232.4L325.5,228.4 M326.4,233.7L332.3,235.1 M326.4,233.7L331.4,229.7 M332.3,235.1L338.2,236.5 M332.3,235.1L337.2,231.1 M338.2,236.5L343.1,232.4 M94.4,185.4L100.4,186.8 M94.4,185.4L101.2,182 M100.4,186.8L106.3,188.2 M100.4,186.8L107.1,183.4 M106.3,188.2L112.3,189.6 M106.3,188.2L113.1,184.8 M112.3,189.6L118.3,191 M112.3,189.6L119,186.1 M118.3,191L124.2,192.3 M118.3,191L124.9,187.5 M124.2,192.3L130.2,193.7 M124.2,192.3L130.8,188.9 M130.2,193.7L136.2,195.1 M130.2,193.7L136.8,190.2 M136.2,195.1L142.2,196.5 M136.2,195.1L142.7,191.6 M142.2,196.5L148.1,197.8 M142.2,196.5L148.6,192.9 M148.1,197.8L154.1,199.2 M148.1,197.8L154.5,194.3 M154.1,199.2L160.1,200.6 M154.1,199.2L160.5,195.7 M160.1,200.6L166,202 M160.1,200.6L166.4,197 M166,202L172,203.4 M166,202L172.3,198.4 M172,203.4L178,204.7 M172,203.4L178.2,199.7 M178,204.7L184,206.1 M178,204.7L184.2,201.1 M184,206.1L189.9,207.5 M184,206.1L190.1,202.5 M189.9,207.5L195.9,208.9 M189.9,207.5L196,203.8 M195.9,208.9L201.9,210.2 M195.9,208.9L201.9,205.2 M201.9,210.2L207.8,211.6 M201.9,210.2L207.9,206.5 M207.8,211.6L213.8,213 M207.8,211.6L213.8,207.9 M213.8,213L219.8,214.4 M213.8,213L219.7,209.3 M219.8,214.4L225.8,215.8 M219.8,214.4L225.6,210.6 M225.8,215.8L231.7,217.1 M225.8,215.8L231.6,212 M231.7,217.1L237.7,218.5 M231.7,217.1L237.5,213.3 M237.7,218.5L243.7,219.9 M237.7,218.5L243.4,214.7 M243.7,219.9L249.6,221.3 M243.7,219.9L249.3,216.1 M249.6,221.3L255.6,222.7 M249.6,221.3L255.3,217.4 M255.6,222.7L261.6,224 M255.6,222.7L261.2,218.8 M261.6,224L267.6,225.4 M261.6,224L267.1,220.1 M267.6,225.4L273.5,226.8 M267.6,225.4L273,221.5 M273.5,226.8L279.5,228.2 M273.5,226.8L279,222.9 M279.5,228.2L285.5,229.5 M279.5,228.2L284.9,224.2 M285.5,229.5L291.4,230.9 M285.5,229.5L290.8,225.6 M291.4,230.9L297.4,232.3 M291.4,230.9L296.7,226.9 M297.4,232.3L303.4,233.7 M297.4,232.3L302.7,228.3 M303.4,233.7L309.4,235.1 M303.4,233.7L308.6,229.7 M309.4,235.1L315.3,236.4 M309.4,235.1L314.5,231 M315.3,236.4L321.3,237.8 M315.3,236.4L320.4,232.4 M321.3,237.8L327.3,239.2 M321.3,237.8L326.4,233.7 M327.3,239.2L333.2,240.6 M327.3,239.2L332.3,235.1 M333.2,240.6L338.2,236.5 M87.4,188.9L93.5,190.3 M87.4,188.9L94.4,185.4 M93.5,190.3L99.5,191.7 M93.5,190.3L100.4,186.8 M99.5,191.7L105.5,193.1 M99.5,191.7L106.3,188.2 M105.5,193.1L111.5,194.5 M105.5,193.1L112.3,189.6 M111.5,194.5L117.5,195.9 M111.5,194.5L118.3,191 M117.5,195.9L123.6,197.3 M117.5,195.9L124.2,192.3 M123.6,197.3L129.6,198.7 M123.6,197.3L130.2,193.7 M129.6,198.7L135.6,200.1 M129.6,198.7L136.2,195.1 M135.6,200.1L141.6,201.4 M135.6,200.1L142.2,196.5 M141.6,201.4L147.6,202.8 M141.6,201.4L148.1,197.8 M147.6,202.8L153.7,204.2 M147.6,202.8L154.1,199.2 M153.7,204.2L159.7,205.6 M153.7,204.2L160.1,200.6 M159.7,205.6L165.7,207 M159.7,205.6L166,202 M165.7,207L171.7,208.4 M165.7,207L172,203.4 M171.7,208.4L177.7,209.8 M171.7,208.4L178,204.7 M177.7,209.8L183.7,211.2 M177.7,209.8L184,206.1 M183.7,211.2L189.8,212.6 M183.7,211.2L189.9,207.5 M189.8,212.6L195.8,214 M189.8,212.6L195.9,208.9 M195.8,214L201.8,215.4 M195.8,214L201.9,210.2 M201.8,215.4L207.8,216.8 M201.8,215.4L207.8,211.6 M207.8,216.8L213.8,218.2 M207.8,216.8L213.8,213 M213.8,218.2L219.9,219.6 M213.8,218.2L219.8,214.4 M219.9,219.6L225.9,221 M219.9,219.6L225.8,215.8 M225.9,221L231.9,222.4 M225.9,221L231.7,217.1 M231.9,222.4L237.9,223.8 M231.9,222.4L237.7,218.5 M237.9,223.8L243.9,225.2 M237.9,223.8L243.7,219.9 M243.9,225.2L249.9,226.6 M243.9,225.2L249.6,221.3 M249.9,226.6L256,228 M249.9,226.6L255.6,222.7 M256,228L262,229.4 M256,228L261.6,224 M262,229.4L268,230.8 M262,229.4L267.6,225.4 M268,230.8L274,232.2 M268,230.8L273.5,226.8 M274,232.2L280,233.6 M274,232.2L279.5,228.2 M280,233.6L286.1,235 M280,233.6L285.5,229.5 M286.1,235L292.1,236.4 M286.1,235L291.4,230.9 M292.1,236.4L298.1,237.7 M292.1,236.4L297.4,232.3 M298.1,237.7L304.1,239.1 M298.1,237.7L303.4,233.7 M304.1,239.1L310.1,240.5 M304.1,239.1L309.4,235.1 M310.1,240.5L316.1,241.9 M310.1,240.5L315.3,236.4 M316.1,241.9L322.2,243.3 M316.1,241.9L321.3,237.8 M322.2,243.3L328.2,244.7 M322.2,243.3L327.3,239.2 M328.2,244.7L333.2,240.6 M80.4,192.4L86.4,193.8 M80.4,192.4L87.4,188.9 M86.4,193.8L92.5,195.2 M86.4,193.8L93.5,190.3 M92.5,195.2L98.6,196.6 M92.5,195.2L99.5,191.7 M98.6,196.6L104.6,198.1 M98.6,196.6L105.5,193.1 M104.6,198.1L110.7,199.5 M104.6,198.1L111.5,194.5 M110.7,199.5L116.8,200.9 M110.7,199.5L117.5,195.9 M116.8,200.9L122.8,202.3 M116.8,200.9L123.6,197.3 M122.8,202.3L128.9,203.7 M122.8,202.3L129.6,198.7 M128.9,203.7L135,205.1 M128.9,203.7L135.6,200.1 M135,205.1L141,206.5 M135,205.1L141.6,201.4 M141,206.5L147.1,208 M141,206.5L147.6,202.8 M147.1,208L153.2,209.4 M147.1,208L153.7,204.2 M153.2,209.4L159.2,210.8 M153.2,209.4L159.7,205.6 M159.2,210.8L165.3,212.2 M159.2,210.8L165.7,207 M165.3,212.2L171.4,213.6 M165.3,212.2L171.7,208.4 M171.4,213.6L177.4,215 M171.4,213.6L177.7,209.8 M177.4,215L183.5,216.4 M177.4,215L183.7,211.2 M183.5,216.4L189.6,217.9 M183.5,216.4L189.8,212.6 M189.6,217.9L195.6,219.3 M189.6,217.9L195.8,214 M195.6,219.3L201.7,220.7 M195.6,219.3L201.8,215.4 M201.7,220.7L207.8,222.1 M201.7,220.7L207.8,216.8 M207.8,222.1L213.8,223.5 M207.8,222.1L213.8,218.2 M213.8,223.5L219.9,224.9 M213.8,223.5L219.9,219.6 M219.9,224.9L226,226.3 M219.9,224.9L225.9,221 M226,226.3L232,227.8 M226,226.3L231.9,222.4 M232,227.8L238.1,229.2 M232,227.8L237.9,223.8 M238.1,229.2L244.2,230.6 M238.1,229.2L243.9,225.2 M244.2,230.6L250.2,232 M244.2,230.6L249.9,226.6 M250.2,232L256.3,233.4 M250.2,232L256,228 M256.3,233.4L262.4,234.8 M256.3,233.4L262,229.4 M262.4,234.8L268.4,236.2 M262.4,234.8L268,230.8 M268.4,236.2L274.5,237.7 M268.4,236.2L274,232.2 M274.5,237.7L280.6,239.1 M274.5,237.7L280,233.6 M280.6,239.1L286.6,240.5 M280.6,239.1L286.1,235 M286.6,240.5L292.7,241.9 M286.6,240.5L292.1,236.4 M292.7,241.9L298.8,243.3 M292.7,241.9L298.1,237.7 M298.8,243.3L304.8,244.7 M298.8,243.3L304.1,239.1 M304.8,244.7L310.9,246.1 M304.8,244.7L310.1,240.5 M310.9,246.1L317,247.6 M310.9,246.1L316.1,241.9 M317,247.6L323,249 M317,247.6L322.2,243.3 M323,249L328.2,244.7 M73.1,196L79.2,197.4 M73.1,196L80.4,192.4 M79.2,197.4L85.3,198.9 M79.2,197.4L86.4,193.8 M85.3,198.9L91.4,200.3 M85.3,198.9L92.5,195.2 M91.4,200.3L97.6,201.7 M91.4,200.3L98.6,196.6 M97.6,201.7L103.7,203.2 M97.6,201.7L104.6,198.1 M103.7,203.2L109.8,204.6 M103.7,203.2L110.7,199.5 M109.8,204.6L115.9,206 M109.8,204.6L116.8,200.9 M115.9,206L122,207.5 M115.9,206L122.8,202.3 M122,207.5L128.1,208.9 M122,207.5L128.9,203.7 M128.1,208.9L134.3,210.3 M128.1,208.9L135,205.1 M134.3,210.3L140.4,211.8 M134.3,210.3L141,206.5 M140.4,211.8L146.5,213.2 M140.4,211.8L147.1,208 M146.5,213.2L152.6,214.6 M146.5,213.2L153.2,209.4 M152.6,214.6L158.7,216.1 M152.6,214.6L159.2,210.8 M158.7,216.1L164.8,217.5 M158.7,216.1L165.3,212.2 M164.8,217.5L170.9,218.9 M164.8,217.5L171.4,213.6 M170.9,218.9L177.1,220.4 M170.9,218.9L177.4,215 M177.1,220.4L183.2,221.8 M177.1,220.4L183.5,216.4 M183.2,221.8L189.3,223.2 M183.2,221.8L189.6,217.9 M189.3,223.2L195.4,224.7 M189.3,223.2L195.6,219.3 M195.4,224.7L201.5,226.1 M195.4,224.7L201.7,220.7 M201.5,226.1L207.6,227.5 M201.5,226.1L207.8,222.1 M207.6,227.5L213.8,229 M207.6,227.5L213.8,223.5 M213.8,229L219.9,230.4 M213.8,229L219.9,224.9 M219.9,230.4L226,231.8 M219.9,230.4L226,226.3 M226,231.8L232.1,233.3 M226,231.8L232,227.8 M232.1,233.3L238.2,234.7 M232.1,233.3L238.1,229.2 M238.2,234.7L244.3,236.1 M238.2,234.7L244.2,230.6 M244.3,236.1L250.5,237.6 M244.3,236.1L250.2,232 M250.5,237.6L256.6,239 M250.5,237.6L256.3,233.4 M256.6,239L262.7,240.4 M256.6,239L262.4,234.8 M262.7,240.4L268.8,241.9 M262.7,240.4L268.4,236.2 M268.8,241.9L274.9,243.3 M268.8,241.9L274.5,237.7 M274.9,243.3L281,244.7 M274.9,243.3L280.6,239.1 M281,244.7L287.1,246.2 M281,244.7L286.6,240.5 M287.1,246.2L293.3,247.6 M287.1,246.2L292.7,241.9 M293.3,247.6L299.4,249 M293.3,247.6L298.8,243.3 M299.4,249L305.5,250.5 M299.4,249L304.8,244.7 M305.5,250.5L311.6,251.9 M305.5,250.5L310.9,246.1 M311.6,251.9L317.7,253.3 M311.6,251.9L317,247.6 M317.7,253.3L323,249 M65.5,199.8L71.7,201.2 M65.5,199.8L73.1,196 M71.7,201.2L77.8,202.7 M71.7,201.2L79.2,197.4 M77.8,202.7L84,204.1 M77.8,202.7L85.3,198.9 M84,204.1L90.2,205.6 M84,204.1L91.4,200.3 M90.2,205.6L96.3,207 M90.2,205.6L97.6,201.7 M96.3,207L102.5,208.5 M96.3,207L103.7,203.2 M102.5,208.5L108.7,209.9 M102.5,208.5L109.8,204.6 M108.7,209.9L114.8,211.4 M108.7,209.9L115.9,206 M114.8,211.4L121,212.9 M114.8,211.4L122,207.5 M121,212.9L127.2,214.3 M121,212.9L128.1,208.9 M127.2,214.3L133.3,215.8 M127.2,214.3L134.3,210.3 M133.3,215.8L139.5,217.2 M133.3,215.8L140.4,211.8 M139.5,217.2L145.7,218.7 M139.5,217.2L146.5,213.2 M145.7,218.7L151.8,220.1 M145.7,218.7L152.6,214.6 M151.8,220.1L158,221.6 M151.8,220.1L158.7,216.1 M158,221.6L164.2,223 M158,221.6L164.8,217.5 M164.2,223L170.3,224.5 M164.2,223L170.9,218.9 M170.3,224.5L176.5,225.9 M170.3,224.5L177.1,220.4 M176.5,225.9L182.7,227.4 M176.5,225.9L183.2,221.8 M182.7,227.4L188.9,228.8 M182.7,227.4L189.3,223.2 M188.9,228.8L195,230.3 M188.9,228.8L195.4,224.7 M195,230.3L201.2,231.7 M195,230.3L201.5,226.1 M201.2,231.7L207.4,233.2 M201.2,231.7L207.6,227.5 M207.4,233.2L213.5,234.6 M207.4,233.2L213.8,229 M213.5,234.6L219.7,236.1 M213.5,234.6L219.9,230.4 M219.7,236.1L225.9,237.6 M219.7,236.1L226,231.8 M225.9,237.6L232,239 M225.9,237.6L232.1,233.3 M232,239L238.2,240.5 M232,239L238.2,234.7 M238.2,240.5L244.4,241.9 M238.2,240.5L244.3,236.1 M244.4,241.9L250.5,243.4 M244.4,241.9L250.5,237.6 M250.5,243.4L256.7,244.8 M250.5,243.4L256.6,239 M256.7,244.8L262.9,246.3 M256.7,244.8L262.7,240.4 M262.9,246.3L269,247.7 M262.9,246.3L268.8,241.9 M269,247.7L275.2,249.2 M269,247.7L274.9,243.3 M275.2,249.2L281.4,250.6 M275.2,249.2L281,244.7 M281.4,250.6L287.5,252.1 M281.4,250.6L287.1,246.2 M287.5,252.1L293.7,253.5 M287.5,252.1L293.3,247.6 M293.7,253.5L299.9,255 M293.7,253.5L299.4,249 M299.9,255L306,256.4 M299.9,255L305.5,250.5 M306,256.4L312.2,257.9 M306,256.4L311.6,251.9 M312.2,257.9L317.7,253.3 M57,204L63.2,205.5 M57,204L65.5,199.8 M63.2,205.5L69.5,206.9 M63.2,205.5L71.7,201.2 M69.5,206.9L75.7,208.4 M69.5,206.9L77.8,202.7 M75.7,208.4L81.9,209.9 M75.7,208.4L84,204.1 M81.9,209.9L88.1,211.4 M81.9,209.9L90.2,205.6 M88.1,211.4L94.3,212.8 M88.1,211.4L96.3,207 M94.3,212.8L100.6,214.3 M94.3,212.8L102.5,208.5 M100.6,214.3L106.8,215.8 M100.6,214.3L108.7,209.9 M106.8,215.8L113,217.3 M106.8,215.8L114.8,211.4 M113,217.3L119.2,218.8 M113,217.3L121,212.9 M119.2,218.8L125.5,220.2 M119.2,218.8L127.2,214.3 M125.5,220.2L131.7,221.7 M125.5,220.2L133.3,215.8 M131.7,221.7L137.9,223.2 M131.7,221.7L139.5,217.2 M137.9,223.2L144.2,224.6 M137.9,223.2L145.7,218.7 M144.2,224.6L150.4,226.1 M144.2,224.6L151.8,220.1 M150.4,226.1L156.6,227.6 M150.4,226.1L158,221.6 M156.6,227.6L162.8,229.1 M156.6,227.6L164.2,223 M162.8,229.1L169.1,230.6 M162.8,229.1L170.3,224.5 M169.1,230.6L175.3,232 M169.1,230.6L176.5,225.9 M175.3,232L181.5,233.5 M175.3,232L182.7,227.4 M181.5,233.5L187.7,235 M181.5,233.5L188.9,228.8 M187.7,235L194,236.4 M187.7,235L195,230.3 M194,236.4L200.2,237.9 M194,236.4L201.2,231.7 M200.2,237.9L206.4,239.4 M200.2,237.9L207.4,233.2 M206.4,239.4L212.6,240.9 M206.4,239.4L213.5,234.6 M212.6,240.9L218.8,242.4 M212.6,240.9L219.7,236.1 M218.8,242.4L225.1,243.8 M218.8,242.4L225.9,237.6 M225.1,243.8L231.3,245.3 M225.1,243.8L232,239 M231.3,245.3L237.5,246.8 M231.3,245.3L238.2,240.5 M237.5,246.8L243.8,248.2 M237.5,246.8L244.4,241.9 M243.8,248.2L250,249.7 M243.8,248.2L250.5,243.4 M250,249.7L256.2,251.2 M250,249.7L256.7,244.8 M256.2,251.2L262.4,252.7 M256.2,251.2L262.9,246.3 M262.4,252.7L268.6,254.1 M262.4,252.7L269,247.7 M268.6,254.1L274.9,255.6 M268.6,254.1L275.2,249.2 M274.9,255.6L281.1,257.1 M274.9,255.6L281.4,250.6 M281.1,257.1L287.3,258.6 M281.1,257.1L287.5,252.1 M287.3,258.6L293.6,260.1 M287.3,258.6L293.7,253.5 M293.6,260.1L299.8,261.5 M293.6,260.1L299.9,255 M299.8,261.5L306,263 M299.8,261.5L306,256.4 M306,263L312.2,257.9 M57,204L58.6,208.6 M58.6,208.6L56,213.2 M56,213.2L58.2,217.8 M58.2,217.8L55,224 M63.2,205.5L64.8,210.1 M64.8,210.1L62.2,214.7 M62.2,214.7L64.4,219.3 M69.5,206.9L71,211.5 M71,211.5L68.5,216.1 M68.5,216.1L70.7,220.8 M70.7,220.8L67.5,226.9 M75.7,208.4L77.3,213 M77.3,213L74.7,217.6 M74.7,217.6L76.9,222.2 M81.9,209.9L83.5,214.5 M83.5,214.5L80.9,219.1 M80.9,219.1L83.1,223.7 M83.1,223.7L79.9,229.9 M88.1,211.4L89.7,216 M89.7,216L87.1,220.6 M87.1,220.6L89.3,225.2 M94.3,212.8L95.9,217.4 M95.9,217.4L93.3,222 M93.3,222L95.5,226.7 M95.5,226.7L92.3,232.8 M100.6,214.3L102.2,218.9 M102.2,218.9L99.6,223.5 M99.6,223.5L101.8,228.1 M106.8,215.8L108.4,220.4 M108.4,220.4L105.8,225 M105.8,225L108,229.6 M108,229.6L104.8,235.8 M113,217.3L114.6,221.9 M114.6,221.9L112,226.5 M112,226.5L114.2,231.1 M119.2,218.8L120.8,223.3 M120.8,223.3L118.2,227.9 M118.2,227.9L120.5,232.6 M120.5,232.6L117.2,238.8 M125.5,220.2L127.1,224.8 M127.1,224.8L124.5,229.4 M124.5,229.4L126.7,234 M131.7,221.7L133.3,226.3 M133.3,226.3L130.7,230.9 M130.7,230.9L132.9,235.5 M132.9,235.5L129.7,241.7 M137.9,223.2L139.5,227.8 M139.5,227.8L136.9,232.4 M136.9,232.4L139.1,237 M144.2,224.6L145.8,229.2 M145.8,229.2L143.2,233.8 M143.2,233.8L145.3,238.4 M145.3,238.4L142.2,244.6 M150.4,226.1L152,230.7 M152,230.7L149.4,235.3 M149.4,235.3L151.6,239.9 M156.6,227.6L158.2,232.2 M158.2,232.2L155.6,236.8 M155.6,236.8L157.8,241.4 M157.8,241.4L154.6,247.6 M162.8,229.1L164.4,233.7 M164.4,233.7L161.8,238.3 M161.8,238.3L164,242.9 M169.1,230.6L170.7,235.2 M170.7,235.2L168.1,239.8 M168.1,239.8L170.2,244.4 M170.2,244.4L167.1,250.6 M175.3,232L176.9,236.6 M176.9,236.6L174.3,241.2 M174.3,241.2L176.5,245.8 M181.5,233.5L183.1,238.1 M183.1,238.1L180.5,242.7 M180.5,242.7L182.7,247.3 M182.7,247.3L179.5,253.5 M187.7,235L189.3,239.6 M189.3,239.6L186.7,244.2 M186.7,244.2L188.9,248.8 M194,236.4L195.6,241 M195.6,241L193,245.6 M193,245.6L195.2,250.2 M195.2,250.2L192,256.4 M200.2,237.9L201.8,242.5 M201.8,242.5L199.2,247.1 M199.2,247.1L201.4,251.7 M206.4,239.4L208,244 M208,244L205.4,248.6 M205.4,248.6L207.6,253.2 M207.6,253.2L204.4,259.4 M212.6,240.9L214.2,245.5 M214.2,245.5L211.6,250.1 M211.6,250.1L213.8,254.7 M218.8,242.4L220.4,247 M220.4,247L217.8,251.6 M217.8,251.6L220,256.2 M220,256.2L216.8,262.4 M225.1,243.8L226.7,248.4 M226.7,248.4L224.1,253 M224.1,253L226.3,257.6 M231.3,245.3L232.9,249.9 M232.9,249.9L230.3,254.5 M230.3,254.5L232.5,259.1 M232.5,259.1L229.3,265.3 M237.5,246.8L239.1,251.4 M239.1,251.4L236.5,256 M236.5,256L238.7,260.6 M243.8,248.2L245.3,252.8 M245.3,252.8L242.8,257.4 M242.8,257.4L244.9,262.1 M244.9,262.1L241.8,268.2 M250,249.7L251.6,254.3 M251.6,254.3L249,258.9 M249,258.9L251.2,263.5 M256.2,251.2L257.8,255.8 M257.8,255.8L255.2,260.4 M255.2,260.4L257.4,265 M257.4,265L254.2,271.2 M262.4,252.7L264,257.3 M264,257.3L261.4,261.9 M261.4,261.9L263.6,266.5 M268.6,254.1L270.2,258.8 M270.2,258.8L267.6,263.3 M267.6,263.3L269.8,267.9 M269.8,267.9L266.6,274.1 M274.9,255.6L276.5,260.2 M276.5,260.2L273.9,264.8 M273.9,264.8L276.1,269.4 M281.1,257.1L282.7,261.7 M282.7,261.7L280.1,266.3 M280.1,266.3L282.3,270.9 M282.3,270.9L279.1,277.1 M287.3,258.6L288.9,263.2 M288.9,263.2L286.3,267.8 M286.3,267.8L288.5,272.4 M293.6,260.1L295.2,264.7 M295.2,264.7L292.6,269.2 M292.6,269.2L294.8,273.9 M294.8,273.9L291.6,280.1 M299.8,261.5L301.4,266.1 M301.4,266.1L298.8,270.7 M298.8,270.7L301,275.3 M306,263L307.6,267.6 M307.6,267.6L305,272.2 M305,272.2L307.2,276.8 M307.2,276.8L304,283 M312.2,257.9L313.2,262.5 M313.2,262.5L311.6,267.1 M311.6,267.1L312.9,271.7 M317.7,253.3L318.7,257.9 M318.7,257.9L317.1,262.5 M317.1,262.5L318.4,267.1 M318.4,267.1L316.5,273.3 M323,249L324,253.6 M324,253.6L322.4,258.2 M322.4,258.2L323.7,262.8 M328.2,244.7L329.1,249.3 M329.1,249.3L327.6,253.9 M327.6,253.9L328.9,258.5 M328.9,258.5L327,264.7 M333.2,240.6L334.2,245.2 M334.2,245.2L332.6,249.8 M332.6,249.8L334,254.4 M338.2,236.5L339.2,241.1 M339.2,241.1L337.6,245.7 M337.6,245.7L338.9,250.3 M338.9,250.3L337,256.5 M343.1,232.4L344.1,237 M344.1,237L342.5,241.6 M342.5,241.6L343.8,246.2 M348,228.4L348.9,233 M348.9,233L347.4,237.6 M347.4,237.6L348.7,242.2 M348.7,242.2L346.8,248.4 M352.8,224.5L353.7,229.1 M353.7,229.1L352.2,233.7 M352.2,233.7L353.5,238.3 M357.5,220.6L358.5,225.2 M358.5,225.2L356.9,229.8 M356.9,229.8L358.3,234.4 M358.3,234.4L356.3,240.6 M362.3,216.7L363.2,221.3 M363.2,221.3L361.7,225.9 M361.7,225.9L363,230.5 M367,212.8L367.9,217.4 M367.9,217.4L366.4,222 M366.4,222L367.7,226.6 M367.7,226.6L365.8,232.8 M371.6,209L372.6,213.6 M372.6,213.6L371,218.2 M371,218.2L372.3,222.8 M376.2,205.2L377.2,209.8 M377.2,209.8L375.6,214.4 M375.6,214.4L377,219 M377,219L375,225.2 M380.8,201.4L381.8,206 M381.8,206L380.2,210.6 M380.2,210.6L381.6,215.2 M385.4,197.6L386.4,202.2 M386.4,202.2L384.8,206.8 M384.8,206.8L386.1,211.4 M386.1,211.4L384.2,217.6 M390,193.8L390.9,198.4 M390.9,198.4L389.4,203 M389.4,203L390.7,207.6 M394.5,190.1L395.5,194.7 M395.5,194.7L393.9,199.3 M393.9,199.3L395.2,203.9 M395.2,203.9L393.3,210.1 M399,186.4L400,191 M400,191L398.4,195.6 M398.4,195.6L399.7,200.2 M403.5,182.7L404.5,187.3 M404.5,187.3L402.9,191.9 M402.9,191.9L404.2,196.5 M404.2,196.5L402.3,202.7 M408,179L409,183.6 M409,183.6L407.4,188.2 M407.4,188.2L408.7,192.8" stroke="#c3cedb" stroke-width="0.9" fill="none"/>
<g fill="#94b3cf"><circle cx="197" cy="134.5" r="2.3"/><circle cx="207.5" cy="136.7" r="2.3"/><circle cx="218.1" cy="138.9" r="2.3"/><circle cx="228.6" cy="141.2" r="2.3"/><circle cx="239.2" cy="143.4" r="2.3"/><circle cx="249.8" cy="145.6" r="2.3"/><circle cx="260.3" cy="147.8" r="2.3"/><circle cx="270.9" cy="150.1" r="2.3"/><circle cx="281.4" cy="152.3" r="2.3"/><circle cx="291.9" cy="154.5" r="2.3"/><circle cx="302.5" cy="156.8" r="2.3"/><circle cx="313.1" cy="159" r="2.3"/><circle cx="323.6" cy="161.2" r="2.3"/><circle cx="334.1" cy="163.4" r="2.3"/><circle cx="344.7" cy="165.7" r="2.3"/><circle cx="355.2" cy="167.9" r="2.3"/><circle cx="365.8" cy="170.1" r="2.3"/><circle cx="376.4" cy="172.3" r="2.3"/><circle cx="386.9" cy="174.5" r="2.3"/><circle cx="397.4" cy="176.8" r="2.3"/><circle cx="408" cy="179" r="2.3"/><circle cx="196.2" cy="138.7" r="2.3"/><circle cx="206.8" cy="140.9" r="2.3"/><circle cx="217.4" cy="143.2" r="2.3"/><circle cx="228.1" cy="145.4" r="2.3"/><circle cx="238.7" cy="147.7" r="2.3"/><circle cx="249.3" cy="150" r="2.3"/><circle cx="260" cy="152.2" r="2.3"/><circle cx="270.6" cy="154.5" r="2.3"/><circle cx="281.2" cy="156.7" r="2.3"/><circle cx="291.9" cy="159" r="2.3"/><circle cx="302.5" cy="161.2" r="2.3"/><circle cx="313.1" cy="163.5" r="2.3"/><circle cx="323.8" cy="165.8" r="2.3"/><circle cx="334.4" cy="168" r="2.3"/><circle cx="345" cy="170.3" r="2.3"/><circle cx="355.7" cy="172.5" r="2.3"/><circle cx="366.3" cy="174.8" r="2.3"/><circle cx="376.9" cy="177" r="2.3"/><circle cx="387.6" cy="179.3" r="2.3"/><circle cx="398.2" cy="181.6" r="2.3"/><circle cx="184.7" cy="140.6" r="2.3"/><circle cx="195.4" cy="142.9" r="2.3"/><circle cx="206.1" cy="145.2" r="2.3"/><circle cx="216.8" cy="147.5" r="2.3"/><circle cx="227.6" cy="149.8" r="2.3"/><circle cx="238.3" cy="152.1" r="2.3"/><circle cx="249" cy="154.3" r="2.3"/><circle cx="259.7" cy="156.6" r="2.3"/><circle cx="270.4" cy="158.9" r="2.3"/><circle cx="281.1" cy="161.2" r="2.3"/><circle cx="291.9" cy="163.5" r="2.3"/><circle cx="302.6" cy="165.8" r="2.3"/><circle cx="313.3" cy="168.1" r="2.3"/><circle cx="324" cy="170.4" r="2.3"/><circle cx="334.7" cy="172.7" r="2.3"/><circle cx="345.4" cy="174.9" r="2.3"/><circle cx="356.2" cy="177.2" r="2.3"/><circle cx="366.9" cy="179.5" r="2.3"/><circle cx="377.6" cy="181.8" r="2.3"/><circle cx="388.3" cy="184.1" r="2.3"/><circle cx="399" cy="186.4" r="2.3"/><circle cx="183.9" cy="144.8" r="2.3"/><circle cx="194.7" cy="147.2" r="2.3"/><circle cx="205.5" cy="149.5" r="2.3"/><circle cx="216.3" cy="151.8" r="2.3"/><circle cx="227.1" cy="154.1" r="2.3"/><circle cx="237.9" cy="156.5" r="2.3"/><circle cx="248.7" cy="158.8" r="2.3"/><circle cx="259.5" cy="161.1" r="2.3"/><circle cx="270.3" cy="163.4" r="2.3"/><circle cx="281.1" cy="165.7" r="2.3"/><circle cx="291.9" cy="168.1" r="2.3"/><circle cx="302.7" cy="170.4" r="2.3"/><circle cx="313.5" cy="172.7" r="2.3"/><circle cx="324.3" cy="175" r="2.3"/><circle cx="335.1" cy="177.3" r="2.3"/><circle cx="345.9" cy="179.7" r="2.3"/><circle cx="356.7" cy="182" r="2.3"/><circle cx="367.5" cy="184.3" r="2.3"/><circle cx="378.3" cy="186.6" r="2.3"/><circle cx="389.1" cy="188.9" r="2.3"/><circle cx="172.3" cy="146.8" r="2.3"/><circle cx="183.2" cy="149.1" r="2.3"/><circle cx="194" cy="151.5" r="2.3"/><circle cx="204.9" cy="153.8" r="2.3"/><circle cx="215.8" cy="156.2" r="2.3"/><circle cx="226.7" cy="158.5" r="2.3"/><circle cx="237.6" cy="160.9" r="2.3"/><circle cx="248.5" cy="163.3" r="2.3"/><circle cx="259.4" cy="165.6" r="2.3"/><circle cx="270.2" cy="168" r="2.3"/><circle cx="281.1" cy="170.3" r="2.3"/><circle cx="292" cy="172.7" r="2.3"/><circle cx="302.9" cy="175" r="2.3"/><circle cx="313.8" cy="177.4" r="2.3"/><circle cx="324.7" cy="179.7" r="2.3"/><circle cx="335.6" cy="182.1" r="2.3"/><circle cx="346.4" cy="184.4" r="2.3"/><circle cx="357.3" cy="186.8" r="2.3"/><circle cx="368.2" cy="189.1" r="2.3"/><circle cx="379.1" cy="191.5" r="2.3"/><circle cx="390" cy="193.8" r="2.3"/><circle cx="171.5" cy="151.1" r="2.3"/><circle cx="182.5" cy="153.5" r="2.3"/><circle cx="193.4" cy="155.8" r="2.3"/><circle cx="204.4" cy="158.2" r="2.3"/><circle cx="215.4" cy="160.6" r="2.3"/><circle cx="226.4" cy="163" r="2.3"/><circle cx="237.3" cy="165.4" r="2.3"/><circle cx="248.3" cy="167.8" r="2.3"/><circle cx="259.3" cy="170.2" r="2.3"/><circle cx="270.2" cy="172.5" r="2.3"/><circle cx="281.2" cy="174.9" r="2.3"/><circle cx="292.2" cy="177.3" r="2.3"/><circle cx="303.1" cy="179.7" r="2.3"/><circle cx="314.1" cy="182.1" r="2.3"/><circle cx="325.1" cy="184.5" r="2.3"/><circle cx="336.1" cy="186.9" r="2.3"/><circle cx="347" cy="189.2" r="2.3"/><circle cx="358" cy="191.6" r="2.3"/><circle cx="369" cy="194" r="2.3"/><circle cx="379.9" cy="196.4" r="2.3"/><circle cx="159.7" cy="153" r="2.3"/><circle cx="170.8" cy="155.4" r="2.3"/><circle cx="181.8" cy="157.8" r="2.3"/><circle cx="192.9" cy="160.3" r="2.3"/><circle cx="204" cy="162.7" r="2.3"/><circle cx="215" cy="165.1" r="2.3"/><circle cx="226.1" cy="167.5" r="2.3"/><circle cx="237.1" cy="169.9" r="2.3"/><circle cx="248.2" cy="172.3" r="2.3"/><circle cx="259.2" cy="174.8" r="2.3"/><circle cx="270.3" cy="177.2" r="2.3"/><circle cx="281.3" cy="179.6" r="2.3"/><circle cx="292.4" cy="182" r="2.3"/><circle cx="303.5" cy="184.4" r="2.3"/><circle cx="314.5" cy="186.9" r="2.3"/><circle cx="325.6" cy="189.3" r="2.3"/><circle cx="336.6" cy="191.7" r="2.3"/><circle cx="347.7" cy="194.1" r="2.3"/><circle cx="358.7" cy="196.5" r="2.3"/><circle cx="369.8" cy="198.9" r="2.3"/><circle cx="380.8" cy="201.4" r="2.3"/><circle cx="159" cy="157.4" r="2.3"/><circle cx="170.1" cy="159.8" r="2.3"/><circle cx="181.3" cy="162.3" r="2.3"/><circle cx="192.4" cy="164.7" r="2.3"/><circle cx="203.5" cy="167.2" r="2.3"/><circle cx="214.7" cy="169.6" r="2.3"/><circle cx="225.8" cy="172.1" r="2.3"/><circle cx="237" cy="174.5" r="2.3"/><circle cx="248.1" cy="177" r="2.3"/><circle cx="259.3" cy="179.4" r="2.3"/><circle cx="270.4" cy="181.9" r="2.3"/><circle cx="281.5" cy="184.3" r="2.3"/><circle cx="292.7" cy="186.8" r="2.3"/><circle cx="303.8" cy="189.2" r="2.3"/><circle cx="315" cy="191.7" r="2.3"/><circle cx="326.1" cy="194.1" r="2.3"/><circle cx="337.2" cy="196.6" r="2.3"/><circle cx="348.4" cy="199" r="2.3"/><circle cx="359.5" cy="201.5" r="2.3"/><circle cx="370.7" cy="203.9" r="2.3"/><circle cx="147.1" cy="159.3" r="2.3"/><circle cx="158.3" cy="161.8" r="2.3"/><circle cx="169.5" cy="164.3" r="2.3"/><circle cx="180.7" cy="166.7" r="2.3"/><circle cx="192" cy="169.2" r="2.3"/><circle cx="203.2" cy="171.7" r="2.3"/><circle cx="214.4" cy="174.2" r="2.3"/><circle cx="225.7" cy="176.7" r="2.3"/><circle cx="236.9" cy="179.2" r="2.3"/><circle cx="248.1" cy="181.6" r="2.3"/><circle cx="259.3" cy="184.1" r="2.3"/><circle cx="270.6" cy="186.6" r="2.3"/><circle cx="281.8" cy="189.1" r="2.3"/><circle cx="293" cy="191.6" r="2.3"/><circle cx="304.2" cy="194.1" r="2.3"/><circle cx="315.5" cy="196.5" r="2.3"/><circle cx="326.7" cy="199" r="2.3"/><circle cx="337.9" cy="201.5" r="2.3"/><circle cx="349.2" cy="204" r="2.3"/><circle cx="360.4" cy="206.5" r="2.3"/><circle cx="371.6" cy="209" r="2.3"/><circle cx="146.3" cy="163.7" r="2.3"/><circle cx="157.6" cy="166.2" r="2.3"/><circle cx="168.9" cy="168.8" r="2.3"/><circle cx="180.3" cy="171.3" r="2.3"/><circle cx="191.6" cy="173.8" r="2.3"/><circle cx="202.9" cy="176.3" r="2.3"/><circle cx="214.2" cy="178.8" r="2.3"/><circle cx="225.5" cy="181.3" r="2.3"/><circle cx="236.8" cy="183.9" r="2.3"/><circle cx="248.2" cy="186.4" r="2.3"/><circle cx="259.5" cy="188.9" r="2.3"/><circle cx="270.8" cy="191.4" r="2.3"/><circle cx="282.1" cy="193.9" r="2.3"/><circle cx="293.4" cy="196.4" r="2.3"/><circle cx="304.7" cy="199" r="2.3"/><circle cx="316" cy="201.5" r="2.3"/><circle cx="327.4" cy="204" r="2.3"/><circle cx="338.7" cy="206.5" r="2.3"/><circle cx="350" cy="209" r="2.3"/><circle cx="361.3" cy="211.5" r="2.3"/><circle cx="134.2" cy="165.7" r="2.3"/><circle cx="145.6" cy="168.2" r="2.3"/><circle cx="157" cy="170.8" r="2.3"/><circle cx="168.4" cy="173.3" r="2.3"/><circle cx="179.8" cy="175.9" r="2.3"/><circle cx="191.2" cy="178.4" r="2.3"/><circle cx="202.6" cy="181" r="2.3"/><circle cx="214" cy="183.5" r="2.3"/><circle cx="225.4" cy="186.1" r="2.3"/><circle cx="236.8" cy="188.6" r="2.3"/><circle cx="248.2" cy="191.2" r="2.3"/><circle cx="259.6" cy="193.7" r="2.3"/><circle cx="271" cy="196.3" r="2.3"/><circle cx="282.5" cy="198.8" r="2.3"/><circle cx="293.9" cy="201.4" r="2.3"/><circle cx="305.3" cy="203.9" r="2.3"/><circle cx="316.7" cy="206.5" r="2.3"/><circle cx="328.1" cy="209" r="2.3"/><circle cx="339.5" cy="211.6" r="2.3"/><circle cx="350.9" cy="214.1" r="2.3"/><circle cx="362.3" cy="216.7" r="2.3"/><circle cx="133.5" cy="170.2" r="2.3"/><circle cx="145" cy="172.8" r="2.3"/><circle cx="156.5" cy="175.3" r="2.3"/><circle cx="168" cy="177.9" r="2.3"/><circle cx="179.4" cy="180.5" r="2.3"/><circle cx="190.9" cy="183.1" r="2.3"/><circle cx="202.4" cy="185.7" r="2.3"/><circle cx="213.9" cy="188.3" r="2.3"/><circle cx="225.4" cy="190.8" r="2.3"/><circle cx="236.9" cy="193.4" r="2.3"/><circle cx="248.4" cy="196" r="2.3"/><circle cx="259.9" cy="198.6" r="2.3"/><circle cx="271.4" cy="201.2" r="2.3"/><circle cx="282.9" cy="203.8" r="2.3"/><circle cx="294.3" cy="206.3" r="2.3"/><circle cx="305.8" cy="208.9" r="2.3"/><circle cx="317.3" cy="211.5" r="2.3"/><circle cx="328.8" cy="214.1" r="2.3"/><circle cx="340.3" cy="216.7" r="2.3"/><circle cx="351.8" cy="219.3" r="2.3"/><circle cx="121.2" cy="172.1" r="2.3"/><circle cx="132.8" cy="174.7" r="2.3"/><circle cx="144.4" cy="177.4" r="2.3"/><circle cx="155.9" cy="180" r="2.3"/><circle cx="167.5" cy="182.6" r="2.3"/><circle cx="179.1" cy="185.2" r="2.3"/><circle cx="190.7" cy="187.8" r="2.3"/><circle cx="202.3" cy="190.4" r="2.3"/><circle cx="213.8" cy="193.1" r="2.3"/><circle cx="225.4" cy="195.7" r="2.3"/><circle cx="237" cy="198.3" r="2.3"/><circle cx="248.6" cy="200.9" r="2.3"/><circle cx="260.2" cy="203.5" r="2.3"/><circle cx="271.7" cy="206.2" r="2.3"/><circle cx="283.3" cy="208.8" r="2.3"/><circle cx="294.9" cy="211.4" r="2.3"/><circle cx="306.5" cy="214" r="2.3"/><circle cx="318" cy="216.6" r="2.3"/><circle cx="329.6" cy="219.2" r="2.3"/><circle cx="341.2" cy="221.9" r="2.3"/><circle cx="352.8" cy="224.5" r="2.3"/><circle cx="120.4" cy="176.7" r="2.3"/><circle cx="132.1" cy="179.4" r="2.3"/><circle cx="143.8" cy="182" r="2.3"/><circle cx="155.5" cy="184.7" r="2.3"/><circle cx="167.1" cy="187.3" r="2.3"/><circle cx="178.8" cy="190" r="2.3"/><circle cx="190.5" cy="192.6" r="2.3"/><circle cx="202.1" cy="195.3" r="2.3"/><circle cx="213.8" cy="197.9" r="2.3"/><circle cx="225.5" cy="200.6" r="2.3"/><circle cx="237.1" cy="203.2" r="2.3"/><circle cx="248.8" cy="205.9" r="2.3"/><circle cx="260.5" cy="208.5" r="2.3"/><circle cx="272.1" cy="211.2" r="2.3"/><circle cx="283.8" cy="213.8" r="2.3"/><circle cx="295.5" cy="216.5" r="2.3"/><circle cx="307.1" cy="219.2" r="2.3"/><circle cx="318.8" cy="221.8" r="2.3"/><circle cx="330.5" cy="224.5" r="2.3"/><circle cx="342.1" cy="227.1" r="2.3"/><circle cx="108" cy="178.7" r="2.3"/><circle cx="119.7" cy="181.4" r="2.3"/><circle cx="131.5" cy="184.1" r="2.3"/><circle cx="143.2" cy="186.8" r="2.3"/><circle cx="155" cy="189.4" r="2.3"/><circle cx="166.7" cy="192.1" r="2.3"/><circle cx="178.5" cy="194.8" r="2.3"/><circle cx="190.3" cy="197.5" r="2.3"/><circle cx="202" cy="200.2" r="2.3"/><circle cx="213.8" cy="202.9" r="2.3"/><circle cx="225.5" cy="205.6" r="2.3"/><circle cx="237.3" cy="208.3" r="2.3"/><circle cx="249.1" cy="210.9" r="2.3"/><circle cx="260.8" cy="213.6" r="2.3"/><circle cx="272.6" cy="216.3" r="2.3"/><circle cx="284.3" cy="219" r="2.3"/><circle cx="296.1" cy="221.7" r="2.3"/><circle cx="307.8" cy="224.4" r="2.3"/><circle cx="319.6" cy="227.1" r="2.3"/><circle cx="331.4" cy="229.7" r="2.3"/><circle cx="343.1" cy="232.4" r="2.3"/><circle cx="107.1" cy="183.4" r="2.3"/><circle cx="119" cy="186.1" r="2.3"/><circle cx="130.8" cy="188.9" r="2.3"/><circle cx="142.7" cy="191.6" r="2.3"/><circle cx="154.5" cy="194.3" r="2.3"/><circle cx="166.4" cy="197" r="2.3"/><circle cx="178.2" cy="199.7" r="2.3"/><circle cx="190.1" cy="202.5" r="2.3"/><circle cx="201.9" cy="205.2" r="2.3"/><circle cx="213.8" cy="207.9" r="2.3"/><circle cx="225.6" cy="210.6" r="2.3"/><circle cx="237.5" cy="213.3" r="2.3"/><circle cx="249.3" cy="216.1" r="2.3"/><circle cx="261.2" cy="218.8" r="2.3"/><circle cx="273" cy="221.5" r="2.3"/><circle cx="284.9" cy="224.2" r="2.3"/><circle cx="296.7" cy="226.9" r="2.3"/><circle cx="308.6" cy="229.7" r="2.3"/><circle cx="320.4" cy="232.4" r="2.3"/><circle cx="332.3" cy="235.1" r="2.3"/><circle cx="94.4" cy="185.4" r="2.3"/><circle cx="106.3" cy="188.2" r="2.3"/><circle cx="118.3" cy="191" r="2.3"/><circle cx="130.2" cy="193.7" r="2.3"/><circle cx="142.2" cy="196.5" r="2.3"/><circle cx="154.1" cy="199.2" r="2.3"/><circle cx="166" cy="202" r="2.3"/><circle cx="178" cy="204.7" r="2.3"/><circle cx="189.9" cy="207.5" r="2.3"/><circle cx="201.9" cy="210.2" r="2.3"/><circle cx="213.8" cy="213" r="2.3"/><circle cx="225.8" cy="215.8" r="2.3"/><circle cx="237.7" cy="218.5" r="2.3"/><circle cx="249.6" cy="221.3" r="2.3"/><circle cx="261.6" cy="224" r="2.3"/><circle cx="273.5" cy="226.8" r="2.3"/><circle cx="285.5" cy="229.5" r="2.3"/><circle cx="297.4" cy="232.3" r="2.3"/><circle cx="309.4" cy="235.1" r="2.3"/><circle cx="321.3" cy="237.8" r="2.3"/><circle cx="333.2" cy="240.6" r="2.3"/><circle cx="93.5" cy="190.3" r="2.3"/><circle cx="105.5" cy="193.1" r="2.3"/><circle cx="117.5" cy="195.9" r="2.3"/><circle cx="129.6" cy="198.7" r="2.3"/><circle cx="141.6" cy="201.4" r="2.3"/><circle cx="153.7" cy="204.2" r="2.3"/><circle cx="165.7" cy="207" r="2.3"/><circle cx="177.7" cy="209.8" r="2.3"/><circle cx="189.8" cy="212.6" r="2.3"/><circle cx="201.8" cy="215.4" r="2.3"/><circle cx="213.8" cy="218.2" r="2.3"/><circle cx="225.9" cy="221" r="2.3"/><circle cx="237.9" cy="223.8" r="2.3"/><circle cx="249.9" cy="226.6" r="2.3"/><circle cx="262" cy="229.4" r="2.3"/><circle cx="274" cy="232.2" r="2.3"/><circle cx="286.1" cy="235" r="2.3"/><circle cx="298.1" cy="237.7" r="2.3"/><circle cx="310.1" cy="240.5" r="2.3"/><circle cx="322.2" cy="243.3" r="2.3"/><circle cx="80.4" cy="192.4" r="2.3"/><circle cx="92.5" cy="195.2" r="2.3"/><circle cx="104.6" cy="198.1" r="2.3"/><circle cx="116.8" cy="200.9" r="2.3"/><circle cx="128.9" cy="203.7" r="2.3"/><circle cx="141" cy="206.5" r="2.3"/><circle cx="153.2" cy="209.4" r="2.3"/><circle cx="165.3" cy="212.2" r="2.3"/><circle cx="177.4" cy="215" r="2.3"/><circle cx="189.6" cy="217.9" r="2.3"/><circle cx="201.7" cy="220.7" r="2.3"/><circle cx="213.8" cy="223.5" r="2.3"/><circle cx="226" cy="226.3" r="2.3"/><circle cx="238.1" cy="229.2" r="2.3"/><circle cx="250.2" cy="232" r="2.3"/><circle cx="262.4" cy="234.8" r="2.3"/><circle cx="274.5" cy="237.7" r="2.3"/><circle cx="286.6" cy="240.5" r="2.3"/><circle cx="298.8" cy="243.3" r="2.3"/><circle cx="310.9" cy="246.1" r="2.3"/><circle cx="323" cy="249" r="2.3"/><circle cx="79.2" cy="197.4" r="2.3"/><circle cx="91.4" cy="200.3" r="2.3"/><circle cx="103.7" cy="203.2" r="2.3"/><circle cx="115.9" cy="206" r="2.3"/><circle cx="128.1" cy="208.9" r="2.3"/><circle cx="140.4" cy="211.8" r="2.3"/><circle cx="152.6" cy="214.6" r="2.3"/><circle cx="164.8" cy="217.5" r="2.3"/><circle cx="177.1" cy="220.4" r="2.3"/><circle cx="189.3" cy="223.2" r="2.3"/><circle cx="201.5" cy="226.1" r="2.3"/><circle cx="213.8" cy="229" r="2.3"/><circle cx="226" cy="231.8" r="2.3"/><circle cx="238.2" cy="234.7" r="2.3"/><circle cx="250.5" cy="237.6" r="2.3"/><circle cx="262.7" cy="240.4" r="2.3"/><circle cx="274.9" cy="243.3" r="2.3"/><circle cx="287.1" cy="246.2" r="2.3"/><circle cx="299.4" cy="249" r="2.3"/><circle cx="311.6" cy="251.9" r="2.3"/><circle cx="65.5" cy="199.8" r="2.3"/><circle cx="77.8" cy="202.7" r="2.3"/><circle cx="90.2" cy="205.6" r="2.3"/><circle cx="102.5" cy="208.5" r="2.3"/><circle cx="114.8" cy="211.4" r="2.3"/><circle cx="127.2" cy="214.3" r="2.3"/><circle cx="139.5" cy="217.2" r="2.3"/><circle cx="151.8" cy="220.1" r="2.3"/><circle cx="164.2" cy="223" r="2.3"/><circle cx="176.5" cy="225.9" r="2.3"/><circle cx="188.9" cy="228.8" r="2.3"/><circle cx="201.2" cy="231.7" r="2.3"/><circle cx="213.5" cy="234.6" r="2.3"/><circle cx="225.9" cy="237.6" r="2.3"/><circle cx="238.2" cy="240.5" r="2.3"/><circle cx="250.5" cy="243.4" r="2.3"/><circle cx="262.9" cy="246.3" r="2.3"/><circle cx="275.2" cy="249.2" r="2.3"/><circle cx="287.5" cy="252.1" r="2.3"/><circle cx="299.9" cy="255" r="2.3"/><circle cx="312.2" cy="257.9" r="2.3"/><circle cx="63.2" cy="205.5" r="2.3"/><circle cx="75.7" cy="208.4" r="2.3"/><circle cx="88.1" cy="211.4" r="2.3"/><circle cx="100.6" cy="214.3" r="2.3"/><circle cx="113" cy="217.3" r="2.3"/><circle cx="125.5" cy="220.2" r="2.3"/><circle cx="137.9" cy="223.2" r="2.3"/><circle cx="150.4" cy="226.1" r="2.3"/><circle cx="162.8" cy="229.1" r="2.3"/><circle cx="175.3" cy="232" r="2.3"/><circle cx="187.7" cy="235" r="2.3"/><circle cx="200.2" cy="237.9" r="2.3"/><circle cx="212.6" cy="240.9" r="2.3"/><circle cx="225.1" cy="243.8" r="2.3"/><circle cx="237.5" cy="246.8" r="2.3"/><circle cx="250" cy="249.7" r="2.3"/><circle cx="262.4" cy="252.7" r="2.3"/><circle cx="274.9" cy="255.6" r="2.3"/><circle cx="287.3" cy="258.6" r="2.3"/><circle cx="299.8" cy="261.5" r="2.3"/></g>
<g fill="#e9edd6"><circle cx="202.3" cy="135.6" r="1.8"/><circle cx="212.8" cy="137.8" r="1.8"/><circle cx="223.4" cy="140.1" r="1.8"/><circle cx="233.9" cy="142.3" r="1.8"/><circle cx="244.5" cy="144.5" r="1.8"/><circle cx="255" cy="146.7" r="1.8"/><circle cx="265.6" cy="149" r="1.8"/><circle cx="276.1" cy="151.2" r="1.8"/><circle cx="286.7" cy="153.4" r="1.8"/><circle cx="297.2" cy="155.6" r="1.8"/><circle cx="307.8" cy="157.9" r="1.8"/><circle cx="318.3" cy="160.1" r="1.8"/><circle cx="328.9" cy="162.3" r="1.8"/><circle cx="339.4" cy="164.5" r="1.8"/><circle cx="350" cy="166.8" r="1.8"/><circle cx="360.5" cy="169" r="1.8"/><circle cx="371.1" cy="171.2" r="1.8"/><circle cx="381.6" cy="173.4" r="1.8"/><circle cx="392.2" cy="175.7" r="1.8"/><circle cx="402.7" cy="177.9" r="1.8"/><circle cx="190.9" cy="137.6" r="1.8"/><circle cx="201.5" cy="139.8" r="1.8"/><circle cx="212.1" cy="142.1" r="1.8"/><circle cx="222.8" cy="144.3" r="1.8"/><circle cx="233.4" cy="146.6" r="1.8"/><circle cx="244" cy="148.8" r="1.8"/><circle cx="254.7" cy="151.1" r="1.8"/><circle cx="265.3" cy="153.3" r="1.8"/><circle cx="275.9" cy="155.6" r="1.8"/><circle cx="286.6" cy="157.9" r="1.8"/><circle cx="297.2" cy="160.1" r="1.8"/><circle cx="307.8" cy="162.4" r="1.8"/><circle cx="318.5" cy="164.6" r="1.8"/><circle cx="329.1" cy="166.9" r="1.8"/><circle cx="339.7" cy="169.1" r="1.8"/><circle cx="350.4" cy="171.4" r="1.8"/><circle cx="361" cy="173.7" r="1.8"/><circle cx="371.6" cy="175.9" r="1.8"/><circle cx="382.3" cy="178.2" r="1.8"/><circle cx="392.9" cy="180.4" r="1.8"/><circle cx="403.5" cy="182.7" r="1.8"/><circle cx="190" cy="141.8" r="1.8"/><circle cx="200.8" cy="144" r="1.8"/><circle cx="211.5" cy="146.3" r="1.8"/><circle cx="222.2" cy="148.6" r="1.8"/><circle cx="232.9" cy="150.9" r="1.8"/><circle cx="243.6" cy="153.2" r="1.8"/><circle cx="254.3" cy="155.5" r="1.8"/><circle cx="265.1" cy="157.8" r="1.8"/><circle cx="275.8" cy="160.1" r="1.8"/><circle cx="286.5" cy="162.4" r="1.8"/><circle cx="297.2" cy="164.6" r="1.8"/><circle cx="307.9" cy="166.9" r="1.8"/><circle cx="318.6" cy="169.2" r="1.8"/><circle cx="329.4" cy="171.5" r="1.8"/><circle cx="340.1" cy="173.8" r="1.8"/><circle cx="350.8" cy="176.1" r="1.8"/><circle cx="361.5" cy="178.4" r="1.8"/><circle cx="372.2" cy="180.7" r="1.8"/><circle cx="383" cy="183" r="1.8"/><circle cx="393.7" cy="185.2" r="1.8"/><circle cx="178.5" cy="143.7" r="1.8"/><circle cx="189.3" cy="146" r="1.8"/><circle cx="200.1" cy="148.3" r="1.8"/><circle cx="210.9" cy="150.7" r="1.8"/><circle cx="221.7" cy="153" r="1.8"/><circle cx="232.5" cy="155.3" r="1.8"/><circle cx="243.3" cy="157.6" r="1.8"/><circle cx="254.1" cy="159.9" r="1.8"/><circle cx="264.9" cy="162.3" r="1.8"/><circle cx="275.7" cy="164.6" r="1.8"/><circle cx="286.5" cy="166.9" r="1.8"/><circle cx="297.3" cy="169.2" r="1.8"/><circle cx="308.1" cy="171.5" r="1.8"/><circle cx="318.9" cy="173.9" r="1.8"/><circle cx="329.7" cy="176.2" r="1.8"/><circle cx="340.5" cy="178.5" r="1.8"/><circle cx="351.3" cy="180.8" r="1.8"/><circle cx="362.1" cy="183.1" r="1.8"/><circle cx="372.9" cy="185.5" r="1.8"/><circle cx="383.7" cy="187.8" r="1.8"/><circle cx="394.5" cy="190.1" r="1.8"/><circle cx="177.7" cy="148" r="1.8"/><circle cx="188.6" cy="150.3" r="1.8"/><circle cx="199.5" cy="152.7" r="1.8"/><circle cx="210.4" cy="155" r="1.8"/><circle cx="221.3" cy="157.4" r="1.8"/><circle cx="232.1" cy="159.7" r="1.8"/><circle cx="243" cy="162.1" r="1.8"/><circle cx="253.9" cy="164.4" r="1.8"/><circle cx="264.8" cy="166.8" r="1.8"/><circle cx="275.7" cy="169.1" r="1.8"/><circle cx="286.6" cy="171.5" r="1.8"/><circle cx="297.5" cy="173.8" r="1.8"/><circle cx="308.3" cy="176.2" r="1.8"/><circle cx="319.2" cy="178.5" r="1.8"/><circle cx="330.1" cy="180.9" r="1.8"/><circle cx="341" cy="183.3" r="1.8"/><circle cx="351.9" cy="185.6" r="1.8"/><circle cx="362.8" cy="188" r="1.8"/><circle cx="373.7" cy="190.3" r="1.8"/><circle cx="384.5" cy="192.7" r="1.8"/><circle cx="166" cy="149.9" r="1.8"/><circle cx="177" cy="152.3" r="1.8"/><circle cx="188" cy="154.7" r="1.8"/><circle cx="198.9" cy="157" r="1.8"/><circle cx="209.9" cy="159.4" r="1.8"/><circle cx="220.9" cy="161.8" r="1.8"/><circle cx="231.8" cy="164.2" r="1.8"/><circle cx="242.8" cy="166.6" r="1.8"/><circle cx="253.8" cy="169" r="1.8"/><circle cx="264.7" cy="171.4" r="1.8"/><circle cx="275.7" cy="173.7" r="1.8"/><circle cx="286.7" cy="176.1" r="1.8"/><circle cx="297.7" cy="178.5" r="1.8"/><circle cx="308.6" cy="180.9" r="1.8"/><circle cx="319.6" cy="183.3" r="1.8"/><circle cx="330.6" cy="185.7" r="1.8"/><circle cx="341.5" cy="188.1" r="1.8"/><circle cx="352.5" cy="190.4" r="1.8"/><circle cx="363.5" cy="192.8" r="1.8"/><circle cx="374.5" cy="195.2" r="1.8"/><circle cx="385.4" cy="197.6" r="1.8"/><circle cx="165.3" cy="154.2" r="1.8"/><circle cx="176.3" cy="156.6" r="1.8"/><circle cx="187.4" cy="159" r="1.8"/><circle cx="198.4" cy="161.5" r="1.8"/><circle cx="209.5" cy="163.9" r="1.8"/><circle cx="220.5" cy="166.3" r="1.8"/><circle cx="231.6" cy="168.7" r="1.8"/><circle cx="242.6" cy="171.1" r="1.8"/><circle cx="253.7" cy="173.6" r="1.8"/><circle cx="264.8" cy="176" r="1.8"/><circle cx="275.8" cy="178.4" r="1.8"/><circle cx="286.9" cy="180.8" r="1.8"/><circle cx="297.9" cy="183.2" r="1.8"/><circle cx="309" cy="185.6" r="1.8"/><circle cx="320" cy="188.1" r="1.8"/><circle cx="331.1" cy="190.5" r="1.8"/><circle cx="342.1" cy="192.9" r="1.8"/><circle cx="353.2" cy="195.3" r="1.8"/><circle cx="364.3" cy="197.7" r="1.8"/><circle cx="375.3" cy="200.2" r="1.8"/><circle cx="153.4" cy="156.1" r="1.8"/><circle cx="164.6" cy="158.6" r="1.8"/><circle cx="175.7" cy="161" r="1.8"/><circle cx="186.8" cy="163.5" r="1.8"/><circle cx="198" cy="165.9" r="1.8"/><circle cx="209.1" cy="168.4" r="1.8"/><circle cx="220.3" cy="170.8" r="1.8"/><circle cx="231.4" cy="173.3" r="1.8"/><circle cx="242.5" cy="175.7" r="1.8"/><circle cx="253.7" cy="178.2" r="1.8"/><circle cx="264.8" cy="180.6" r="1.8"/><circle cx="276" cy="183.1" r="1.8"/><circle cx="287.1" cy="185.5" r="1.8"/><circle cx="298.3" cy="188" r="1.8"/><circle cx="309.4" cy="190.4" r="1.8"/><circle cx="320.5" cy="192.9" r="1.8"/><circle cx="331.7" cy="195.4" r="1.8"/><circle cx="342.8" cy="197.8" r="1.8"/><circle cx="354" cy="200.3" r="1.8"/><circle cx="365.1" cy="202.7" r="1.8"/><circle cx="376.2" cy="205.2" r="1.8"/><circle cx="152.7" cy="160.5" r="1.8"/><circle cx="163.9" cy="163" r="1.8"/><circle cx="175.1" cy="165.5" r="1.8"/><circle cx="186.4" cy="168" r="1.8"/><circle cx="197.6" cy="170.5" r="1.8"/><circle cx="208.8" cy="173" r="1.8"/><circle cx="220" cy="175.4" r="1.8"/><circle cx="231.3" cy="177.9" r="1.8"/><circle cx="242.5" cy="180.4" r="1.8"/><circle cx="253.7" cy="182.9" r="1.8"/><circle cx="264.9" cy="185.4" r="1.8"/><circle cx="276.2" cy="187.9" r="1.8"/><circle cx="287.4" cy="190.3" r="1.8"/><circle cx="298.6" cy="192.8" r="1.8"/><circle cx="309.9" cy="195.3" r="1.8"/><circle cx="321.1" cy="197.8" r="1.8"/><circle cx="332.3" cy="200.3" r="1.8"/><circle cx="343.5" cy="202.8" r="1.8"/><circle cx="354.8" cy="205.2" r="1.8"/><circle cx="366" cy="207.7" r="1.8"/><circle cx="140.7" cy="162.5" r="1.8"/><circle cx="152" cy="165" r="1.8"/><circle cx="163.3" cy="167.5" r="1.8"/><circle cx="174.6" cy="170" r="1.8"/><circle cx="185.9" cy="172.5" r="1.8"/><circle cx="197.2" cy="175.1" r="1.8"/><circle cx="208.6" cy="177.6" r="1.8"/><circle cx="219.9" cy="180.1" r="1.8"/><circle cx="231.2" cy="182.6" r="1.8"/><circle cx="242.5" cy="185.1" r="1.8"/><circle cx="253.8" cy="187.6" r="1.8"/><circle cx="265.1" cy="190.2" r="1.8"/><circle cx="276.4" cy="192.7" r="1.8"/><circle cx="287.8" cy="195.2" r="1.8"/><circle cx="299.1" cy="197.7" r="1.8"/><circle cx="310.4" cy="200.2" r="1.8"/><circle cx="321.7" cy="202.7" r="1.8"/><circle cx="333" cy="205.3" r="1.8"/><circle cx="344.3" cy="207.8" r="1.8"/><circle cx="355.6" cy="210.3" r="1.8"/><circle cx="367" cy="212.8" r="1.8"/><circle cx="139.9" cy="166.9" r="1.8"/><circle cx="151.3" cy="169.5" r="1.8"/><circle cx="162.7" cy="172" r="1.8"/><circle cx="174.1" cy="174.6" r="1.8"/><circle cx="185.5" cy="177.1" r="1.8"/><circle cx="196.9" cy="179.7" r="1.8"/><circle cx="208.3" cy="182.2" r="1.8"/><circle cx="219.7" cy="184.8" r="1.8"/><circle cx="231.1" cy="187.3" r="1.8"/><circle cx="242.5" cy="189.9" r="1.8"/><circle cx="253.9" cy="192.4" r="1.8"/><circle cx="265.3" cy="195" r="1.8"/><circle cx="276.8" cy="197.5" r="1.8"/><circle cx="288.2" cy="200.1" r="1.8"/><circle cx="299.6" cy="202.6" r="1.8"/><circle cx="311" cy="205.2" r="1.8"/><circle cx="322.4" cy="207.7" r="1.8"/><circle cx="333.8" cy="210.3" r="1.8"/><circle cx="345.2" cy="212.8" r="1.8"/><circle cx="356.6" cy="215.4" r="1.8"/><circle cx="127.7" cy="168.9" r="1.8"/><circle cx="139.2" cy="171.5" r="1.8"/><circle cx="150.7" cy="174" r="1.8"/><circle cx="162.2" cy="176.6" r="1.8"/><circle cx="173.7" cy="179.2" r="1.8"/><circle cx="185.2" cy="181.8" r="1.8"/><circle cx="196.7" cy="184.4" r="1.8"/><circle cx="208.2" cy="187" r="1.8"/><circle cx="219.7" cy="189.6" r="1.8"/><circle cx="231.2" cy="192.1" r="1.8"/><circle cx="242.6" cy="194.7" r="1.8"/><circle cx="254.1" cy="197.3" r="1.8"/><circle cx="265.6" cy="199.9" r="1.8"/><circle cx="277.1" cy="202.5" r="1.8"/><circle cx="288.6" cy="205.1" r="1.8"/><circle cx="300.1" cy="207.6" r="1.8"/><circle cx="311.6" cy="210.2" r="1.8"/><circle cx="323.1" cy="212.8" r="1.8"/><circle cx="334.6" cy="215.4" r="1.8"/><circle cx="346.1" cy="218" r="1.8"/><circle cx="357.5" cy="220.6" r="1.8"/><circle cx="127" cy="173.4" r="1.8"/><circle cx="138.6" cy="176.1" r="1.8"/><circle cx="150.2" cy="178.7" r="1.8"/><circle cx="161.7" cy="181.3" r="1.8"/><circle cx="173.3" cy="183.9" r="1.8"/><circle cx="184.9" cy="186.5" r="1.8"/><circle cx="196.5" cy="189.1" r="1.8"/><circle cx="208" cy="191.8" r="1.8"/><circle cx="219.6" cy="194.4" r="1.8"/><circle cx="231.2" cy="197" r="1.8"/><circle cx="242.8" cy="199.6" r="1.8"/><circle cx="254.4" cy="202.2" r="1.8"/><circle cx="265.9" cy="204.8" r="1.8"/><circle cx="277.5" cy="207.5" r="1.8"/><circle cx="289.1" cy="210.1" r="1.8"/><circle cx="300.7" cy="212.7" r="1.8"/><circle cx="312.3" cy="215.3" r="1.8"/><circle cx="323.8" cy="217.9" r="1.8"/><circle cx="335.4" cy="220.5" r="1.8"/><circle cx="347" cy="223.2" r="1.8"/><circle cx="114.6" cy="175.4" r="1.8"/><circle cx="126.3" cy="178.1" r="1.8"/><circle cx="138" cy="180.7" r="1.8"/><circle cx="149.6" cy="183.4" r="1.8"/><circle cx="161.3" cy="186" r="1.8"/><circle cx="173" cy="188.7" r="1.8"/><circle cx="184.6" cy="191.3" r="1.8"/><circle cx="196.3" cy="194" r="1.8"/><circle cx="208" cy="196.6" r="1.8"/><circle cx="219.6" cy="199.3" r="1.8"/><circle cx="231.3" cy="201.9" r="1.8"/><circle cx="243" cy="204.6" r="1.8"/><circle cx="254.6" cy="207.2" r="1.8"/><circle cx="266.3" cy="209.9" r="1.8"/><circle cx="278" cy="212.5" r="1.8"/><circle cx="289.6" cy="215.2" r="1.8"/><circle cx="301.3" cy="217.8" r="1.8"/><circle cx="313" cy="220.5" r="1.8"/><circle cx="324.6" cy="223.1" r="1.8"/><circle cx="336.3" cy="225.8" r="1.8"/><circle cx="348" cy="228.4" r="1.8"/><circle cx="113.8" cy="180" r="1.8"/><circle cx="125.6" cy="182.7" r="1.8"/><circle cx="137.3" cy="185.4" r="1.8"/><circle cx="149.1" cy="188.1" r="1.8"/><circle cx="160.9" cy="190.8" r="1.8"/><circle cx="172.6" cy="193.5" r="1.8"/><circle cx="184.4" cy="196.2" r="1.8"/><circle cx="196.1" cy="198.9" r="1.8"/><circle cx="207.9" cy="201.5" r="1.8"/><circle cx="219.7" cy="204.2" r="1.8"/><circle cx="231.4" cy="206.9" r="1.8"/><circle cx="243.2" cy="209.6" r="1.8"/><circle cx="254.9" cy="212.3" r="1.8"/><circle cx="266.7" cy="215" r="1.8"/><circle cx="278.5" cy="217.7" r="1.8"/><circle cx="290.2" cy="220.3" r="1.8"/><circle cx="302" cy="223" r="1.8"/><circle cx="313.7" cy="225.7" r="1.8"/><circle cx="325.5" cy="228.4" r="1.8"/><circle cx="337.2" cy="231.1" r="1.8"/><circle cx="101.2" cy="182" r="1.8"/><circle cx="113.1" cy="184.8" r="1.8"/><circle cx="124.9" cy="187.5" r="1.8"/><circle cx="136.8" cy="190.2" r="1.8"/><circle cx="148.6" cy="192.9" r="1.8"/><circle cx="160.5" cy="195.7" r="1.8"/><circle cx="172.3" cy="198.4" r="1.8"/><circle cx="184.2" cy="201.1" r="1.8"/><circle cx="196" cy="203.8" r="1.8"/><circle cx="207.9" cy="206.5" r="1.8"/><circle cx="219.7" cy="209.3" r="1.8"/><circle cx="231.6" cy="212" r="1.8"/><circle cx="243.4" cy="214.7" r="1.8"/><circle cx="255.3" cy="217.4" r="1.8"/><circle cx="267.1" cy="220.1" r="1.8"/><circle cx="279" cy="222.9" r="1.8"/><circle cx="290.8" cy="225.6" r="1.8"/><circle cx="302.7" cy="228.3" r="1.8"/><circle cx="314.5" cy="231" r="1.8"/><circle cx="326.4" cy="233.7" r="1.8"/><circle cx="338.2" cy="236.5" r="1.8"/><circle cx="100.4" cy="186.8" r="1.8"/><circle cx="112.3" cy="189.6" r="1.8"/><circle cx="124.2" cy="192.3" r="1.8"/><circle cx="136.2" cy="195.1" r="1.8"/><circle cx="148.1" cy="197.8" r="1.8"/><circle cx="160.1" cy="200.6" r="1.8"/><circle cx="172" cy="203.4" r="1.8"/><circle cx="184" cy="206.1" r="1.8"/><circle cx="195.9" cy="208.9" r="1.8"/><circle cx="207.8" cy="211.6" r="1.8"/><circle cx="219.8" cy="214.4" r="1.8"/><circle cx="231.7" cy="217.1" r="1.8"/><circle cx="243.7" cy="219.9" r="1.8"/><circle cx="255.6" cy="222.7" r="1.8"/><circle cx="267.6" cy="225.4" r="1.8"/><circle cx="279.5" cy="228.2" r="1.8"/><circle cx="291.4" cy="230.9" r="1.8"/><circle cx="303.4" cy="233.7" r="1.8"/><circle cx="315.3" cy="236.4" r="1.8"/><circle cx="327.3" cy="239.2" r="1.8"/><circle cx="87.4" cy="188.9" r="1.8"/><circle cx="99.5" cy="191.7" r="1.8"/><circle cx="111.5" cy="194.5" r="1.8"/><circle cx="123.6" cy="197.3" r="1.8"/><circle cx="135.6" cy="200.1" r="1.8"/><circle cx="147.6" cy="202.8" r="1.8"/><circle cx="159.7" cy="205.6" r="1.8"/><circle cx="171.7" cy="208.4" r="1.8"/><circle cx="183.7" cy="211.2" r="1.8"/><circle cx="195.8" cy="214" r="1.8"/><circle cx="207.8" cy="216.8" r="1.8"/><circle cx="219.9" cy="219.6" r="1.8"/><circle cx="231.9" cy="222.4" r="1.8"/><circle cx="243.9" cy="225.2" r="1.8"/><circle cx="256" cy="228" r="1.8"/><circle cx="268" cy="230.8" r="1.8"/><circle cx="280" cy="233.6" r="1.8"/><circle cx="292.1" cy="236.4" r="1.8"/><circle cx="304.1" cy="239.1" r="1.8"/><circle cx="316.1" cy="241.9" r="1.8"/><circle cx="328.2" cy="244.7" r="1.8"/><circle cx="86.4" cy="193.8" r="1.8"/><circle cx="98.6" cy="196.6" r="1.8"/><circle cx="110.7" cy="199.5" r="1.8"/><circle cx="122.8" cy="202.3" r="1.8"/><circle cx="135" cy="205.1" r="1.8"/><circle cx="147.1" cy="208" r="1.8"/><circle cx="159.2" cy="210.8" r="1.8"/><circle cx="171.4" cy="213.6" r="1.8"/><circle cx="183.5" cy="216.4" r="1.8"/><circle cx="195.6" cy="219.3" r="1.8"/><circle cx="207.8" cy="222.1" r="1.8"/><circle cx="219.9" cy="224.9" r="1.8"/><circle cx="232" cy="227.8" r="1.8"/><circle cx="244.2" cy="230.6" r="1.8"/><circle cx="256.3" cy="233.4" r="1.8"/><circle cx="268.4" cy="236.2" r="1.8"/><circle cx="280.6" cy="239.1" r="1.8"/><circle cx="292.7" cy="241.9" r="1.8"/><circle cx="304.8" cy="244.7" r="1.8"/><circle cx="317" cy="247.6" r="1.8"/><circle cx="73.1" cy="196" r="1.8"/><circle cx="85.3" cy="198.9" r="1.8"/><circle cx="97.6" cy="201.7" r="1.8"/><circle cx="109.8" cy="204.6" r="1.8"/><circle cx="122" cy="207.5" r="1.8"/><circle cx="134.3" cy="210.3" r="1.8"/><circle cx="146.5" cy="213.2" r="1.8"/><circle cx="158.7" cy="216.1" r="1.8"/><circle cx="170.9" cy="218.9" r="1.8"/><circle cx="183.2" cy="221.8" r="1.8"/><circle cx="195.4" cy="224.7" r="1.8"/><circle cx="207.6" cy="227.5" r="1.8"/><circle cx="219.9" cy="230.4" r="1.8"/><circle cx="232.1" cy="233.3" r="1.8"/><circle cx="244.3" cy="236.1" r="1.8"/><circle cx="256.6" cy="239" r="1.8"/><circle cx="268.8" cy="241.9" r="1.8"/><circle cx="281" cy="244.7" r="1.8"/><circle cx="293.3" cy="247.6" r="1.8"/><circle cx="305.5" cy="250.5" r="1.8"/><circle cx="317.7" cy="253.3" r="1.8"/><circle cx="71.7" cy="201.2" r="1.8"/><circle cx="84" cy="204.1" r="1.8"/><circle cx="96.3" cy="207" r="1.8"/><circle cx="108.7" cy="209.9" r="1.8"/><circle cx="121" cy="212.9" r="1.8"/><circle cx="133.3" cy="215.8" r="1.8"/><circle cx="145.7" cy="218.7" r="1.8"/><circle cx="158" cy="221.6" r="1.8"/><circle cx="170.3" cy="224.5" r="1.8"/><circle cx="182.7" cy="227.4" r="1.8"/><circle cx="195" cy="230.3" r="1.8"/><circle cx="207.4" cy="233.2" r="1.8"/><circle cx="219.7" cy="236.1" r="1.8"/><circle cx="232" cy="239" r="1.8"/><circle cx="244.4" cy="241.9" r="1.8"/><circle cx="256.7" cy="244.8" r="1.8"/><circle cx="269" cy="247.7" r="1.8"/><circle cx="281.4" cy="250.6" r="1.8"/><circle cx="293.7" cy="253.5" r="1.8"/><circle cx="306" cy="256.4" r="1.8"/><circle cx="57" cy="204" r="1.8"/><circle cx="69.5" cy="206.9" r="1.8"/><circle cx="81.9" cy="209.9" r="1.8"/><circle cx="94.3" cy="212.8" r="1.8"/><circle cx="106.8" cy="215.8" r="1.8"/><circle cx="119.2" cy="218.8" r="1.8"/><circle cx="131.7" cy="221.7" r="1.8"/><circle cx="144.2" cy="224.6" r="1.8"/><circle cx="156.6" cy="227.6" r="1.8"/><circle cx="169.1" cy="230.6" r="1.8"/><circle cx="181.5" cy="233.5" r="1.8"/><circle cx="194" cy="236.4" r="1.8"/><circle cx="206.4" cy="239.4" r="1.8"/><circle cx="218.8" cy="242.4" r="1.8"/><circle cx="231.3" cy="245.3" r="1.8"/><circle cx="243.8" cy="248.2" r="1.8"/><circle cx="256.2" cy="251.2" r="1.8"/><circle cx="268.6" cy="254.1" r="1.8"/><circle cx="281.1" cy="257.1" r="1.8"/><circle cx="293.6" cy="260.1" r="1.8"/><circle cx="306" cy="263" r="1.8"/></g>
<g fill="#a3bad6"><circle cx="58.6" cy="208.6" r="1.9"/><circle cx="58.2" cy="217.8" r="1.7"/><circle cx="62.2" cy="214.7" r="1.9"/><circle cx="71" cy="211.5" r="1.9"/><circle cx="70.7" cy="220.8" r="1.7"/><circle cx="74.7" cy="217.6" r="1.9"/><circle cx="83.5" cy="214.5" r="1.9"/><circle cx="83.1" cy="223.7" r="1.7"/><circle cx="87.1" cy="220.6" r="1.9"/><circle cx="95.9" cy="217.4" r="1.9"/><circle cx="95.5" cy="226.7" r="1.7"/><circle cx="99.6" cy="223.5" r="1.9"/><circle cx="108.4" cy="220.4" r="1.9"/><circle cx="108" cy="229.6" r="1.7"/><circle cx="112" cy="226.5" r="1.9"/><circle cx="120.8" cy="223.3" r="1.9"/><circle cx="120.5" cy="232.6" r="1.7"/><circle cx="124.5" cy="229.4" r="1.9"/><circle cx="133.3" cy="226.3" r="1.9"/><circle cx="132.9" cy="235.5" r="1.7"/><circle cx="136.9" cy="232.4" r="1.9"/><circle cx="145.8" cy="229.2" r="1.9"/><circle cx="145.3" cy="238.4" r="1.7"/><circle cx="149.4" cy="235.3" r="1.9"/><circle cx="158.2" cy="232.2" r="1.9"/><circle cx="157.8" cy="241.4" r="1.7"/><circle cx="161.8" cy="238.3" r="1.9"/><circle cx="170.7" cy="235.2" r="1.9"/><circle cx="170.2" cy="244.4" r="1.7"/><circle cx="174.3" cy="241.2" r="1.9"/><circle cx="183.1" cy="238.1" r="1.9"/><circle cx="182.7" cy="247.3" r="1.7"/><circle cx="186.7" cy="244.2" r="1.9"/><circle cx="195.6" cy="241" r="1.9"/><circle cx="195.2" cy="250.2" r="1.7"/><circle cx="199.2" cy="247.1" r="1.9"/><circle cx="208" cy="244" r="1.9"/><circle cx="207.6" cy="253.2" r="1.7"/><circle cx="211.6" cy="250.1" r="1.9"/><circle cx="220.4" cy="247" r="1.9"/><circle cx="220" cy="256.2" r="1.7"/><circle cx="224.1" cy="253" r="1.9"/><circle cx="232.9" cy="249.9" r="1.9"/><circle cx="232.5" cy="259.1" r="1.7"/><circle cx="236.5" cy="256" r="1.9"/><circle cx="245.3" cy="252.8" r="1.9"/><circle cx="244.9" cy="262.1" r="1.7"/><circle cx="249" cy="258.9" r="1.9"/><circle cx="257.8" cy="255.8" r="1.9"/><circle cx="257.4" cy="265" r="1.7"/><circle cx="261.4" cy="261.9" r="1.9"/><circle cx="270.2" cy="258.8" r="1.9"/><circle cx="269.8" cy="267.9" r="1.7"/><circle cx="273.9" cy="264.8" r="1.9"/><circle cx="282.7" cy="261.7" r="1.9"/><circle cx="282.3" cy="270.9" r="1.7"/><circle cx="286.3" cy="267.8" r="1.9"/><circle cx="295.2" cy="264.7" r="1.9"/><circle cx="294.8" cy="273.9" r="1.7"/><circle cx="298.8" cy="270.7" r="1.9"/><circle cx="307.6" cy="267.6" r="1.9"/><circle cx="307.2" cy="276.8" r="1.7"/><circle cx="311.6" cy="267.1" r="1.9"/><circle cx="318.7" cy="257.9" r="1.9"/><circle cx="318.4" cy="267.1" r="1.7"/><circle cx="322.4" cy="258.2" r="1.9"/><circle cx="329.1" cy="249.3" r="1.9"/><circle cx="328.9" cy="258.5" r="1.7"/><circle cx="332.6" cy="249.8" r="1.9"/><circle cx="339.2" cy="241.1" r="1.9"/><circle cx="338.9" cy="250.3" r="1.7"/><circle cx="342.5" cy="241.6" r="1.9"/><circle cx="348.9" cy="233" r="1.9"/><circle cx="348.7" cy="242.2" r="1.7"/><circle cx="352.2" cy="233.7" r="1.9"/><circle cx="358.5" cy="225.2" r="1.9"/><circle cx="358.3" cy="234.4" r="1.7"/><circle cx="361.7" cy="225.9" r="1.9"/><circle cx="367.9" cy="217.4" r="1.9"/><circle cx="367.7" cy="226.6" r="1.7"/><circle cx="371" cy="218.2" r="1.9"/><circle cx="377.2" cy="209.8" r="1.9"/><circle cx="377" cy="219" r="1.7"/><circle cx="380.2" cy="210.6" r="1.9"/><circle cx="386.4" cy="202.2" r="1.9"/><circle cx="386.1" cy="211.4" r="1.7"/><circle cx="389.4" cy="203" r="1.9"/><circle cx="395.5" cy="194.7" r="1.9"/><circle cx="395.2" cy="203.9" r="1.7"/><circle cx="398.4" cy="195.6" r="1.9"/><circle cx="404.5" cy="187.3" r="1.9"/><circle cx="404.2" cy="196.5" r="1.7"/><circle cx="407.4" cy="188.2" r="1.9"/></g>
<g fill="#e6ebcd"><circle cx="56" cy="213.2" r="1.9"/><circle cx="64.8" cy="210.1" r="1.9"/><circle cx="64.4" cy="219.3" r="1.7"/><circle cx="68.5" cy="216.1" r="1.9"/><circle cx="77.3" cy="213" r="1.9"/><circle cx="76.9" cy="222.2" r="1.7"/><circle cx="80.9" cy="219.1" r="1.9"/><circle cx="89.7" cy="216" r="1.9"/><circle cx="89.3" cy="225.2" r="1.7"/><circle cx="93.3" cy="222" r="1.9"/><circle cx="102.2" cy="218.9" r="1.9"/><circle cx="101.8" cy="228.1" r="1.7"/><circle cx="105.8" cy="225" r="1.9"/><circle cx="114.6" cy="221.9" r="1.9"/><circle cx="114.2" cy="231.1" r="1.7"/><circle cx="118.2" cy="227.9" r="1.9"/><circle cx="127.1" cy="224.8" r="1.9"/><circle cx="126.7" cy="234" r="1.7"/><circle cx="130.7" cy="230.9" r="1.9"/><circle cx="139.5" cy="227.8" r="1.9"/><circle cx="139.1" cy="237" r="1.7"/><circle cx="143.2" cy="233.8" r="1.9"/><circle cx="152" cy="230.7" r="1.9"/><circle cx="151.6" cy="239.9" r="1.7"/><circle cx="155.6" cy="236.8" r="1.9"/><circle cx="164.4" cy="233.7" r="1.9"/><circle cx="164" cy="242.9" r="1.7"/><circle cx="168.1" cy="239.8" r="1.9"/><circle cx="176.9" cy="236.6" r="1.9"/><circle cx="176.5" cy="245.8" r="1.7"/><circle cx="180.5" cy="242.7" r="1.9"/><circle cx="189.3" cy="239.6" r="1.9"/><circle cx="188.9" cy="248.8" r="1.7"/><circle cx="193" cy="245.6" r="1.9"/><circle cx="201.8" cy="242.5" r="1.9"/><circle cx="201.4" cy="251.7" r="1.7"/><circle cx="205.4" cy="248.6" r="1.9"/><circle cx="214.2" cy="245.5" r="1.9"/><circle cx="213.8" cy="254.7" r="1.7"/><circle cx="217.8" cy="251.6" r="1.9"/><circle cx="226.7" cy="248.4" r="1.9"/><circle cx="226.3" cy="257.6" r="1.7"/><circle cx="230.3" cy="254.5" r="1.9"/><circle cx="239.1" cy="251.4" r="1.9"/><circle cx="238.7" cy="260.6" r="1.7"/><circle cx="242.8" cy="257.4" r="1.9"/><circle cx="251.6" cy="254.3" r="1.9"/><circle cx="251.2" cy="263.5" r="1.7"/><circle cx="255.2" cy="260.4" r="1.9"/><circle cx="264" cy="257.3" r="1.9"/><circle cx="263.6" cy="266.5" r="1.7"/><circle cx="267.6" cy="263.3" r="1.9"/><circle cx="276.5" cy="260.2" r="1.9"/><circle cx="276.1" cy="269.4" r="1.7"/><circle cx="280.1" cy="266.3" r="1.9"/><circle cx="288.9" cy="263.2" r="1.9"/><circle cx="288.5" cy="272.4" r="1.7"/><circle cx="292.6" cy="269.2" r="1.9"/><circle cx="301.4" cy="266.1" r="1.9"/><circle cx="301" cy="275.3" r="1.7"/><circle cx="305" cy="272.2" r="1.9"/><circle cx="313.2" cy="262.5" r="1.9"/><circle cx="312.9" cy="271.7" r="1.7"/><circle cx="317.1" cy="262.5" r="1.9"/><circle cx="324" cy="253.6" r="1.9"/><circle cx="323.7" cy="262.8" r="1.7"/><circle cx="327.6" cy="253.9" r="1.9"/><circle cx="334.2" cy="245.2" r="1.9"/><circle cx="334" cy="254.4" r="1.7"/><circle cx="337.6" cy="245.7" r="1.9"/><circle cx="344.1" cy="237" r="1.9"/><circle cx="343.8" cy="246.2" r="1.7"/><circle cx="347.4" cy="237.6" r="1.9"/><circle cx="353.7" cy="229.1" r="1.9"/><circle cx="353.5" cy="238.3" r="1.7"/><circle cx="356.9" cy="229.8" r="1.9"/><circle cx="363.2" cy="221.3" r="1.9"/><circle cx="363" cy="230.5" r="1.7"/><circle cx="366.4" cy="222" r="1.9"/><circle cx="372.6" cy="213.6" r="1.9"/><circle cx="372.3" cy="222.8" r="1.7"/><circle cx="375.6" cy="214.4" r="1.9"/><circle cx="381.8" cy="206" r="1.9"/><circle cx="381.6" cy="215.2" r="1.7"/><circle cx="384.8" cy="206.8" r="1.9"/><circle cx="390.9" cy="198.4" r="1.9"/><circle cx="390.7" cy="207.6" r="1.7"/><circle cx="393.9" cy="199.3" r="1.9"/><circle cx="400" cy="191" r="1.9"/><circle cx="399.7" cy="200.2" r="1.7"/><circle cx="402.9" cy="191.9" r="1.9"/><circle cx="409" cy="183.6" r="1.9"/><circle cx="408.7" cy="192.8" r="1.7"/></g>
<g fill="#c9d3e3"><circle cx="55" cy="224" r="1.6"/><circle cx="67.5" cy="226.9" r="1.6"/><circle cx="79.9" cy="229.9" r="1.6"/><circle cx="92.3" cy="232.8" r="1.6"/><circle cx="104.8" cy="235.8" r="1.6"/><circle cx="117.2" cy="238.8" r="1.6"/><circle cx="129.7" cy="241.7" r="1.6"/><circle cx="142.2" cy="244.6" r="1.6"/><circle cx="154.6" cy="247.6" r="1.6"/><circle cx="167.1" cy="250.6" r="1.6"/><circle cx="179.5" cy="253.5" r="1.6"/><circle cx="192" cy="256.4" r="1.6"/><circle cx="204.4" cy="259.4" r="1.6"/><circle cx="216.8" cy="262.4" r="1.6"/><circle cx="229.3" cy="265.3" r="1.6"/><circle cx="241.8" cy="268.2" r="1.6"/><circle cx="254.2" cy="271.2" r="1.6"/><circle cx="266.6" cy="274.1" r="1.6"/><circle cx="279.1" cy="277.1" r="1.6"/><circle cx="291.6" cy="280.1" r="1.6"/><circle cx="304" cy="283" r="1.6"/><circle cx="316.5" cy="273.3" r="1.6"/><circle cx="327" cy="264.7" r="1.6"/><circle cx="337" cy="256.5" r="1.6"/><circle cx="346.8" cy="248.4" r="1.6"/><circle cx="356.3" cy="240.6" r="1.6"/><circle cx="365.8" cy="232.8" r="1.6"/><circle cx="375" cy="225.2" r="1.6"/><circle cx="384.2" cy="217.6" r="1.6"/><circle cx="393.3" cy="210.1" r="1.6"/><circle cx="402.3" cy="202.7" r="1.6"/></g>
<polygon points="228.9,133.4 146.3,176.8 146.3,184.8 228.9,138.4" fill="#b7c640" />
<polygon points="146.3,178.5 228.9,134.5 352.8,156.5 286.4,203" fill="#6f8238" opacity="0.78"/>
<polygon points="239.7,137.4 349.4,156.1 349.4,161.7 239.7,142.1" fill="#9dad33" />
<polygon points="239.7,137.4 349.4,156.1 352.6,153.9 243,135.2" fill="#c9d64b" />
<polygon points="212.8,140.1 328.4,159.8 328.4,165.8 212.8,145.2" fill="#9dad33" />
<polygon points="328.4,159.8 331.9,157.4 331.9,163.4 328.4,165.8" fill="#b7c640" />
<polygon points="212.8,140.1 328.4,159.8 331.9,157.4 216.2,137.8" fill="#c9d64b" />
<polygon points="220.6,147.8 334.1,167.4 334.1,173.9 220.6,153.3" fill="#9dad33" />
<polygon points="220.6,147.8 334.1,167.4 337.9,165 224.2,145.4" fill="#c9d64b" />
<polygon points="192,151.3 309.4,172.7 309.4,179.7 192,157.2" fill="#9dad33" />
<polygon points="309.4,172.7 313.4,170.1 313.4,177.1 309.4,179.7" fill="#b7c640" />
<polygon points="192,151.3 309.4,172.7 313.4,170.1 196,148.7" fill="#c9d64b" />
<polygon points="199.4,159.9 313.9,179.5 313.9,187.1 199.4,166.4" fill="#9dad33" />
<polygon points="199.4,159.9 313.9,179.5 318.1,176.8 203.8,157.2" fill="#c9d64b" />
<polygon points="167.7,165.1 288.6,186.1 288.6,194.4 167.7,172.2" fill="#9dad33" />
<polygon points="288.6,186.1 293.2,183.1 293.2,191.4 288.6,194.4" fill="#b7c640" />
<polygon points="167.7,165.1 288.6,186.1 293.2,183.1 172.3,162.1" fill="#c9d64b" />
<polygon points="175.6,173.2 294.6,194.2 294.6,203.2 175.6,180.8" fill="#9dad33" />
<polygon points="175.6,173.2 294.6,194.2 299.4,191 180.4,170" fill="#c9d64b" />
<polygon points="144.9,178.1 265.4,202.1 265.4,211.9 144.9,186.4" fill="#9dad33" />
<polygon points="265.4,202.1 270.6,198.7 270.6,208.5 265.4,211.9" fill="#b7c640" />
<polygon points="144.9,178.1 265.4,202.1 270.6,198.7 150.1,174.7" fill="#c9d64b" />
<polygon points="243,239.2 306.7,252.8 306.7,257.8 243,244.2" fill="#a6b437" />
<polygon points="306.7,252.8 324.3,235.2 324.3,240.2 306.7,257.8" fill="#b7c640" />
<polygon points="318.9,227 393.4,163.4 393.4,169.4 318.9,233" fill="#b7c640" />
<polygon points="324.3,235.2 318.9,227 318.9,233 324.3,240.2" fill="#a6b437" />
<polygon points="352.8,155.2 393.4,163.4 318.9,227 324.3,235.2 306.7,252.8 243,239.2 255.2,221.6 278.3,206.7 286.4,201.3 333.8,170.1" fill="#c9d64b" stroke="#c9d64b" stroke-width="2.5" stroke-linejoin="round"/>
<polygon points="52.4,188.1 104,199.5 104,209.5 52.4,199.6" fill="#a6b437" />
<polygon points="104,199.5 146.3,176.8 146.3,185.8 104,209.5" fill="#b7c640" />
<polygon points="52.4,188.1 75.1,176.8 86.4,179.9 193.8,126.2 228.9,133.4 146.3,176.8 104,199.5" fill="#c9d64b" />
<path d="M295,24.2 L354.7,24.2 L283.4,145.4 Q277,160 269.4,173.3 Q262,182 252,181.6 Q241,180.5 233.4,175.6 Q225,170 222.3,162 Q221.3,158.5 223.5,154 Z" fill="#eeb2f6" fill-opacity="0.62"/>
<clipPath id="devclip"><polygon points="193.8,126.2 228.9,133.4 241,134.5 352.8,155.2 393,163 300,215 146,178"/></clipPath>
<path d="M295,24.2 L354.7,24.2 L283.4,145.4 Q277,160 269.4,173.3 Q262,182 252,181.6 Q241,180.5 233.4,175.6 Q225,170 222.3,162 Q221.3,158.5 223.5,154 Z" fill="#c684ff" fill-opacity="0.58" clip-path="url(#devclip)"/>
<text transform="translate(138.5,214.6) rotate(16.5)" font-size="23.8"><tspan font-style="italic">&#946;</tspan>-Ga<tspan font-size="15" baseline-shift="-5">2</tspan>O<tspan font-size="15" baseline-shift="-5">3</tspan></text>
<text transform="translate(144,268.5) rotate(13.5)" font-size="23.2">c-Al<tspan font-size="15" baseline-shift="-5">2</tspan>O<tspan font-size="15" baseline-shift="-5">3</tspan></text>
<text transform="translate(265,237) rotate(13.5)" font-size="22">Pd</text>
</g>
<g id="pb">
<text x="457" y="42.5" font-size="33" text-anchor="start" fill="#000" >(b)</text>
<polyline fill="none" stroke="#000" stroke-width="1" points="613.2,124.1 645.5,130.7 664.4,136.5 677.8,138.8 688.2,141.1 696.7,145 703.9,155 710.1,140.7 715.6,163.6 720.5,139.6 724.9,160.5 729,144.6 732.7,163.6 736.2,223.6 739.4,167.4 742.4,154.7 745.2,158 747.9,170 750.4,156 752.8,165 755.1,168.1 757.2,173.8 759.3,163 761.3,168.4 763.2,172 765,177.8 766.8,178 768.5,182 770.1,176 771.7,171.9 773.2,207 774.7,157.5 776.1,184 777.5,176.4 778.9,157.3 780.2,196 781.5,156.9 782.7,150 783.9,172.3 785.1,174.5 786.3,178.2 787.4,179.1 788.5,180.8 789.5,200 790.6,187.6 791.6,171.4 792.6,170 793.6,173.9 794.6,178 795.5,170.3 796.4,165 797.3,205 798.2,166.5 799.1,177.6 799.9,175.5 800.8,150 801.6,188.7 802.4,173.9 803.2,166.4 804,186 804.8,159.6 805.5,183.7 806.3,190.1 807,210 807.7,178.8 808.4,181.5 809.1,168.6 809.8,164.8 810.5,169.4 811.2,159.7 811.8,177.5 812.5,155.1 813.1,152 813.8,178.6 814.4,185.3 815,177.7 815.6,177.5 816.2,175.2 816.8,185.5 817.4,162.4 818,179.2 818.6,180.6 819.1,168.6 819.7,194.7 820.2,157.4 820.8,175.9 821.3,182.6 821.8,174.9 822.4,175.9 822.9,152 823.4,164.5 823.9,163.3 824.4,164.4 824.9,179 825.4,154 825.9,205 826.4,171 826.9,177.9 827.3,181.6 827.8,213 828.3,178 828.7,175.2 829.2,175.1 829.6,173.4 830.1,176.8 830.5,179.8 831,181.4 831.4,189.6 831.8,189.2 832.2,236 832.7,170.6 833.1,175.5 833.5,173.2 833.9,217.9 834.3,169.2 834.7,190.4 835.1,195.8 835.5,172.2 835.9,170.8 836.3,179.7 836.7,176.7 837.1,165.8 837.4,195.5 837.8,173.1 838.2,174.5 838.6,167.5 838.9,177.5 839.3,175.5 839.7,165.7 840,152 840.4,201.1 840.7,173 841.1,176 841.4,181.9 841.8,191.3 842.1,163.2 842.5,176.4 842.8,170.8 843.1,178.5 843.5,157.9 843.8,177.3 844.1,165.8 844.5,166.6 844.8,181.5 845.1,177.6 845.4,179.8 845.8,177.1 846.1,169.5 846.4,169.6 846.7,166.9 847,202.8 847.3,177.5 847.6,185.2 847.9,170.5 848.2,176.9 848.5,182.8 848.8,168 849.1,170.8 849.4,183.3 849.7,169.7 850,184 850.3,168.8 850.6,177.5 850.9,172.5 851.1,193.8 851.4,175.5 851.7,172.9 852,161.8 852.3,157.7 852.5,168.7 852.8,175.1 853.1,183.5 853.3,158.6 853.6,243 853.9,168.3 854.1,165.5 854.4,166.9 854.7,162.6 854.9,178.8 855.2,168.3 855.4,154.6 855.7,152 856,165.8 856.2,183.2 856.5,182.8 856.7,189 857,181.9 857.2,184.4 857.5,188.7 857.7,195.4 858,156.5 858.2,165.3 858.4,182.2 858.7,180.9 858.9,184.5 859.2,178.1 859.4,200.5 859.6,173.1 859.9,175.7 860.1,142 860.3,171.2 860.6,174.7 860.8,179.9 861,194.6 861.3,174.3 861.5,180.5 861.7,178.4 861.9,167.6 862.2,160.3 862.4,168 862.6,170.8 862.8,164.8 863,162.5 863.3,160.9 863.5,194.1 863.7,183.5 863.9,152.3 864.1,167.1 864.3,167.4 864.5,173.7 864.8,181.7 865,177.2 865.2,175.5 865.4,166.3 865.6,173.8 865.8,196.4 866,168.5 866.2,172.9 866.4,190.2 866.6,225 866.8,187 867,180.3 867.2,166 867.4,184.6 867.6,173.9 867.8,168 868,166.9 868.2,177.8 868.4,177.9 868.6,177.3 868.8,178.8 869,170.9 869.2,167.5 869.4,169.1 869.6,176.5 869.7,202.4 869.9,168.3 870.1,183.8 870.3,187.2 870.5,162.7 870.7,177 870.9,183.2 871.1,175.3 871.2,177.2 871.4,175.6 871.6,163.9 871.8,168.4 872,170.4 872.1,153.9 872.3,180.9 872.5,174.4 872.7,194.2 872.9,180.4 873,173.1 873.2,155.9 873.4,155.1 873.6,174.5 873.7,155.8 873.9,163.8 874.1,175.3 874.3,177.6 874.4,190.8 874.6,187.2 874.8,163.9 874.9,184.5 875.1,174.9 875.3,162.6 875.4,190.7 875.6,181.9 875.8,214 875.9,173.3 876.1,191.9 876.3,187.1 876.4,173.1 876.6,167.7 876.8,158.6 876.9,180.2 877.1,177.8 877.3,179.4 877.4,187.8 877.6,167.4 877.7,160.8 877.9,163.3 878.1,173.8 878.2,180.5 878.4,170.7 878.5,186.6 878.7,176.3 878.8,167.1 879,216 879.1,177.6 879.3,178.4 879.5,188.4 879.6,180.4 879.8,173.4 879.9,187.4 880.1,164.3 880.2,188.5 880.4,175.2 880.5,173.1 880.7,180.5 880.8,175.3 881,174.5 881.1,192.5 881.3,191.4 881.4,172.5 881.6,184.8 881.7,166.6 881.9,169.7 882,179.6 882.1,176.5 882.3,182.3 882.4,171.9 882.6,178.7 882.7,184.4 882.9,180.6 883,161.3 883.2,178.8 883.3,169.9 883.4,217 883.6,175.3 883.7,182.7 883.9,183.3 884,183.5 884.1,173 884.3,152 884.4,170.8 884.6,187.7 884.7,178.8 884.8,181.1 885,179.3 885.1,197.4 885.2,179.4 885.4,180.3 885.5,181.5 885.6,179.2 885.8,188.3 885.9,163.6 886,164.9 886.2,173.5 886.3,170.3 886.4,202.1 886.6,160.6 886.7,159.8 886.8,175.1 887,185.6 887.1,195.9 887.2,157.6 887.4,184.4 887.5,182 887.6,192.6 887.7,166.3 887.9,175 888,180 888.1,164.6 888.3,152.2 888.4,176.1 888.5,184 888.6,177.6 888.8,213 888.9,198.5 889,180.5 889.1,180.8 889.3,178.1 889.4,177.6 889.5,169.3 889.6,192.7 889.8,152 889.9,181.5 890,167.4 890.1,176.2 890.3,188.4 890.4,166.4 890.5,167.9 890.6,178.9 890.7,175.4 890.9,177.7 891,172.1 891.1,168.6 891.2,167.9 891.3,174.8 891.5,178.2 891.6,168.1 891.7,167.8 891.8,199.8 891.9,176.8 892,185.8 892.2,181.4 892.3,183.4 892.4,177.2 892.5,177.7 892.6,192.5 892.7,162 892.9,183.5 893,171.1 893.1,174.9 893.2,172.3 893.3,168.4 893.4,150 893.6,147.5 893.7,126.4 893.8,134.7 893.9,142.3 894,194.2 894.1,159.4 894.2,196.1 894.3,177.6 894.5,184.5 894.6,172 894.7,176.4 894.8,181 894.9,171.7 895,185.6 895.1,177 895.2,177.7 895.3,175.7 895.4,174.2 895.6,192.4 895.7,171.3 895.8,201.1 895.9,173.1 896,186.1 896.1,187.9 896.2,179.3 896.3,152 896.4,179.1 896.5,174.9 896.6,186.1 896.7,182.7 896.8,192.3 896.9,177.1 897.1,160.8 897.2,163.1 897.3,189 897.4,175.1 897.5,183.9 897.6,161.5 897.7,201.1 897.8,174.6 897.9,179.4 898,172.1 898.1,163.9 898.2,163.6 898.3,164.2 898.4,172.3 898.5,170.4 898.6,165.7 898.7,170.9 898.8,175.1 898.9,182.9 899,166.8 899.1,170.6 899.2,167.4 899.3,174.6 899.4,179.9 899.5,174.7 899.6,200.2 899.7,155.4 899.8,185.5 899.9,201.2 900,160.4 900.1,190.1 900.2,179.4 900.3,152 900.4,169.6 900.5,170 900.6,177.3 900.7,182.7 900.8,175.5 900.9,176.5 901,178.6 901.1,183.3 901.2,171.4 901.3,173.9 901.4,160.7 901.5,170.4 901.6,171.4 901.7,164.8 901.8,183.7 901.9,172.4 902,156.8 902,185.5 902.1,180.5 902.2,213.4 902.3,157.7 902.4,184 902.5,185.8 902.6,176.5 902.7,178.8 902.8,172.6 902.9,169.1 903,174.8 903.1,179.5 903.2,172.7 903.3,181.8 903.4,173.6 903.4,186.9 903.5,173.2 903.6,157.7 903.7,189.7 903.8,184.8 903.9,190.6 904,186.2 904.1,158.8 904.2,164.8 904.3,182.5 904.4,175.3 904.4,208.9 904.5,175.1"/>
<g fill="url(#gk)">
<circle cx="613.2" cy="124.1" r="3.1"/>
<circle cx="645.5" cy="130.7" r="3.1"/>
<circle cx="664.4" cy="136.5" r="3.1"/>
<circle cx="677.8" cy="138.8" r="3.1"/>
<circle cx="688.2" cy="141.1" r="3.1"/>
<circle cx="696.7" cy="145" r="3.1"/>
<circle cx="703.9" cy="155" r="3.1"/>
<circle cx="710.1" cy="140.7" r="3.1"/>
<circle cx="715.6" cy="163.6" r="3.1"/>
<circle cx="720.5" cy="139.6" r="3.1"/>
<circle cx="724.9" cy="160.5" r="3.1"/>
<circle cx="729" cy="144.6" r="3.1"/>
<circle cx="732.7" cy="163.6" r="3.1"/>
<circle cx="736.2" cy="223.6" r="3.1"/>
<circle cx="739.4" cy="167.4" r="3.1"/>
<circle cx="742.4" cy="154.7" r="3.1"/>
<circle cx="745.2" cy="158" r="3.1"/>
<circle cx="747.9" cy="170" r="3.1"/>
<circle cx="750.4" cy="156" r="3.1"/>
<circle cx="752.8" cy="165" r="3.1"/>
<circle cx="755.1" cy="168.1" r="3.1"/>
<circle cx="757.2" cy="173.8" r="3.1"/>
<circle cx="759.3" cy="163" r="3.1"/>
<circle cx="761.3" cy="168.4" r="3.1"/>
<circle cx="763.2" cy="172" r="3.1"/>
<circle cx="765" cy="177.8" r="3.1"/>
<circle cx="766.8" cy="178" r="3.1"/>
<circle cx="768.5" cy="182" r="3.1"/>
<circle cx="770.1" cy="176" r="3.1"/>
<circle cx="771.7" cy="171.9" r="3.1"/>
<circle cx="773.2" cy="207" r="3.1"/>
<circle cx="774.7" cy="157.5" r="3.1"/>
<circle cx="776.1" cy="184" r="3.1"/>
<circle cx="777.5" cy="176.4" r="3.1"/>
<circle cx="778.9" cy="157.3" r="3.1"/>
<circle cx="780.2" cy="196" r="3.1"/>
<circle cx="781.5" cy="156.9" r="3.1"/>
<circle cx="782.7" cy="150" r="3.1"/>
<circle cx="783.9" cy="172.3" r="3.1"/>
<circle cx="785.1" cy="174.5" r="3.1"/>
<circle cx="786.3" cy="178.2" r="3.1"/>
<circle cx="787.4" cy="179.1" r="3.1"/>
<circle cx="788.5" cy="180.8" r="3.1"/>
<circle cx="789.5" cy="200" r="3.1"/>
<circle cx="790.6" cy="187.6" r="3.1"/>
<circle cx="791.6" cy="171.4" r="3.1"/>
<circle cx="792.6" cy="170" r="3.1"/>
<circle cx="793.6" cy="173.9" r="3.1"/>
<circle cx="794.6" cy="178" r="3.1"/>
<circle cx="795.5" cy="170.3" r="3.1"/>
<circle cx="796.4" cy="165" r="3.1"/>
<circle cx="797.3" cy="205" r="3.1"/>
<circle cx="798.2" cy="166.5" r="3.1"/>
<circle cx="799.1" cy="177.6" r="3.1"/>
<circle cx="799.9" cy="175.5" r="3.1"/>
<circle cx="800.8" cy="150" r="3.1"/>
<circle cx="801.6" cy="188.7" r="3.1"/>
<circle cx="802.4" cy="173.9" r="3.1"/>
<circle cx="803.2" cy="166.4" r="3.1"/>
<circle cx="804" cy="186" r="3.1"/>
<circle cx="804.8" cy="159.6" r="3.1"/>
<circle cx="805.5" cy="183.7" r="3.1"/>
<circle cx="806.3" cy="190.1" r="3.1"/>
<circle cx="807" cy="210" r="3.1"/>
<circle cx="807.7" cy="178.8" r="3.1"/>
<circle cx="808.4" cy="181.5" r="3.1"/>
<circle cx="809.1" cy="168.6" r="3.1"/>
<circle cx="809.8" cy="164.8" r="3.1"/>
<circle cx="810.5" cy="169.4" r="3.1"/>
<circle cx="811.2" cy="159.7" r="3.1"/>
<circle cx="811.8" cy="177.5" r="3.1"/>
<circle cx="812.5" cy="155.1" r="3.1"/>
<circle cx="813.1" cy="152" r="3.1"/>
<circle cx="813.8" cy="178.6" r="3.1"/>
<circle cx="814.4" cy="185.3" r="3.1"/>
<circle cx="815" cy="177.7" r="3.1"/>
<circle cx="815.6" cy="177.5" r="3.1"/>
<circle cx="816.2" cy="175.2" r="3.1"/>
<circle cx="816.8" cy="185.5" r="3.1"/>
<circle cx="817.4" cy="162.4" r="3.1"/>
<circle cx="818" cy="179.2" r="3.1"/>
<circle cx="818.6" cy="180.6" r="3.1"/>
<circle cx="819.1" cy="168.6" r="3.1"/>
<circle cx="819.7" cy="194.7" r="3.1"/>
<circle cx="820.2" cy="157.4" r="3.1"/>
<circle cx="820.8" cy="175.9" r="3.1"/>
<circle cx="821.3" cy="182.6" r="3.1"/>
<circle cx="821.8" cy="174.9" r="3.1"/>
<circle cx="822.4" cy="175.9" r="3.1"/>
<circle cx="822.9" cy="152" r="3.1"/>
<circle cx="823.4" cy="164.5" r="3.1"/>
<circle cx="823.9" cy="163.3" r="3.1"/>
<circle cx="824.4" cy="164.4" r="3.1"/>
<circle cx="824.9" cy="179" r="3.1"/>
<circle cx="825.4" cy="154" r="3.1"/>
<circle cx="825.9" cy="205" r="3.1"/>
<circle cx="826.4" cy="171" r="3.1"/>
<circle cx="826.9" cy="177.9" r="3.1"/>
<circle cx="827.3" cy="181.6" r="3.1"/>
<circle cx="827.8" cy="213" r="3.1"/>
<circle cx="828.3" cy="178" r="3.1"/>
<circle cx="828.7" cy="175.2" r="3.1"/>
<circle cx="829.2" cy="175.1" r="3.1"/>
<circle cx="829.6" cy="173.4" r="3.1"/>
<circle cx="830.1" cy="176.8" r="3.1"/>
<circle cx="830.5" cy="179.8" r="3.1"/>
<circle cx="831" cy="181.4" r="3.1"/>
<circle cx="831.4" cy="189.6" r="3.1"/>
<circle cx="831.8" cy="189.2" r="3.1"/>
<circle cx="832.2" cy="236" r="3.1"/>
<circle cx="832.7" cy="170.6" r="3.1"/>
<circle cx="833.1" cy="175.5" r="3.1"/>
<circle cx="833.5" cy="173.2" r="3.1"/>
<circle cx="833.9" cy="217.9" r="3.1"/>
<circle cx="834.3" cy="169.2" r="3.1"/>
<circle cx="834.7" cy="190.4" r="3.1"/>
<circle cx="835.1" cy="195.8" r="3.1"/>
<circle cx="835.5" cy="172.2" r="3.1"/>
<circle cx="835.9" cy="170.8" r="3.1"/>
<circle cx="836.3" cy="179.7" r="3.1"/>
<circle cx="836.7" cy="176.7" r="3.1"/>
<circle cx="837.1" cy="165.8" r="3.1"/>
<circle cx="837.4" cy="195.5" r="3.1"/>
<circle cx="837.8" cy="173.1" r="3.1"/>
<circle cx="838.2" cy="174.5" r="3.1"/>
<circle cx="838.6" cy="167.5" r="3.1"/>
<circle cx="838.9" cy="177.5" r="3.1"/>
<circle cx="839.3" cy="175.5" r="3.1"/>
<circle cx="839.7" cy="165.7" r="3.1"/>
<circle cx="840" cy="152" r="3.1"/>
<circle cx="840.4" cy="201.1" r="3.1"/>
<circle cx="840.7" cy="173" r="3.1"/>
<circle cx="841.1" cy="176" r="3.1"/>
<circle cx="841.4" cy="181.9" r="3.1"/>
<circle cx="841.8" cy="191.3" r="3.1"/>
<circle cx="842.1" cy="163.2" r="3.1"/>
<circle cx="842.5" cy="176.4" r="3.1"/>
<circle cx="842.8" cy="170.8" r="3.1"/>
<circle cx="843.1" cy="178.5" r="3.1"/>
<circle cx="843.5" cy="157.9" r="3.1"/>
<circle cx="843.8" cy="177.3" r="3.1"/>
<circle cx="844.1" cy="165.8" r="3.1"/>
<circle cx="844.5" cy="166.6" r="3.1"/>
<circle cx="844.8" cy="181.5" r="3.1"/>
<circle cx="845.1" cy="177.6" r="3.1"/>
<circle cx="845.4" cy="179.8" r="3.1"/>
<circle cx="845.8" cy="177.1" r="3.1"/>
<circle cx="846.1" cy="169.5" r="3.1"/>
<circle cx="846.4" cy="169.6" r="3.1"/>
<circle cx="846.7" cy="166.9" r="3.1"/>
<circle cx="847" cy="202.8" r="3.1"/>
<circle cx="847.3" cy="177.5" r="3.1"/>
<circle cx="847.6" cy="185.2" r="3.1"/>
<circle cx="847.9" cy="170.5" r="3.1"/>
<circle cx="848.2" cy="176.9" r="3.1"/>
<circle cx="848.5" cy="182.8" r="3.1"/>
<circle cx="848.8" cy="168" r="3.1"/>
<circle cx="849.1" cy="170.8" r="3.1"/>
<circle cx="849.4" cy="183.3" r="3.1"/>
<circle cx="849.7" cy="169.7" r="3.1"/>
<circle cx="850" cy="184" r="3.1"/>
<circle cx="850.3" cy="168.8" r="3.1"/>
<circle cx="850.6" cy="177.5" r="3.1"/>
<circle cx="850.9" cy="172.5" r="3.1"/>
<circle cx="851.1" cy="193.8" r="3.1"/>
<circle cx="851.4" cy="175.5" r="3.1"/>
<circle cx="851.7" cy="172.9" r="3.1"/>
<circle cx="852" cy="161.8" r="3.1"/>
<circle cx="852.3" cy="157.7" r="3.1"/>
<circle cx="852.5" cy="168.7" r="3.1"/>
<circle cx="852.8" cy="175.1" r="3.1"/>
<circle cx="853.1" cy="183.5" r="3.1"/>
<circle cx="853.3" cy="158.6" r="3.1"/>
<circle cx="853.6" cy="243" r="3.1"/>
<circle cx="853.9" cy="168.3" r="3.1"/>
<circle cx="854.1" cy="165.5" r="3.1"/>
<circle cx="854.4" cy="166.9" r="3.1"/>
<circle cx="854.7" cy="162.6" r="3.1"/>
<circle cx="854.9" cy="178.8" r="3.1"/>
<circle cx="855.2" cy="168.3" r="3.1"/>
<circle cx="855.4" cy="154.6" r="3.1"/>
<circle cx="855.7" cy="152" r="3.1"/>
<circle cx="856" cy="165.8" r="3.1"/>
<circle cx="856.2" cy="183.2" r="3.1"/>
<circle cx="856.5" cy="182.8" r="3.1"/>
<circle cx="856.7" cy="189" r="3.1"/>
<circle cx="857" cy="181.9" r="3.1"/>
<circle cx="857.2" cy="184.4" r="3.1"/>
<circle cx="857.5" cy="188.7" r="3.1"/>
<circle cx="857.7" cy="195.4" r="3.1"/>
<circle cx="858" cy="156.5" r="3.1"/>
<circle cx="858.2" cy="165.3" r="3.1"/>
<circle cx="858.4" cy="182.2" r="3.1"/>
<circle cx="858.7" cy="180.9" r="3.1"/>
<circle cx="858.9" cy="184.5" r="3.1"/>
<circle cx="859.2" cy="178.1" r="3.1"/>
<circle cx="859.4" cy="200.5" r="3.1"/>
<circle cx="859.6" cy="173.1" r="3.1"/>
<circle cx="859.9" cy="175.7" r="3.1"/>
<circle cx="860.1" cy="142" r="3.1"/>
<circle cx="860.3" cy="171.2" r="3.1"/>
<circle cx="860.6" cy="174.7" r="3.1"/>
<circle cx="860.8" cy="179.9" r="3.1"/>
<circle cx="861" cy="194.6" r="3.1"/>
<circle cx="861.3" cy="174.3" r="3.1"/>
<circle cx="861.5" cy="180.5" r="3.1"/>
<circle cx="861.7" cy="178.4" r="3.1"/>
<circle cx="861.9" cy="167.6" r="3.1"/>
<circle cx="862.2" cy="160.3" r="3.1"/>
<circle cx="862.4" cy="168" r="3.1"/>
<circle cx="862.6" cy="170.8" r="3.1"/>
<circle cx="862.8" cy="164.8" r="3.1"/>
<circle cx="863" cy="162.5" r="3.1"/>
<circle cx="863.3" cy="160.9" r="3.1"/>
<circle cx="863.5" cy="194.1" r="3.1"/>
<circle cx="863.7" cy="183.5" r="3.1"/>
<circle cx="863.9" cy="152.3" r="3.1"/>
<circle cx="864.1" cy="167.1" r="3.1"/>
<circle cx="864.3" cy="167.4" r="3.1"/>
<circle cx="864.5" cy="173.7" r="3.1"/>
<circle cx="864.8" cy="181.7" r="3.1"/>
<circle cx="865" cy="177.2" r="3.1"/>
<circle cx="865.2" cy="175.5" r="3.1"/>
<circle cx="865.4" cy="166.3" r="3.1"/>
<circle cx="865.6" cy="173.8" r="3.1"/>
<circle cx="865.8" cy="196.4" r="3.1"/>
<circle cx="866" cy="168.5" r="3.1"/>
<circle cx="866.2" cy="172.9" r="3.1"/>
<circle cx="866.4" cy="190.2" r="3.1"/>
<circle cx="866.6" cy="225" r="3.1"/>
<circle cx="866.8" cy="187" r="3.1"/>
<circle cx="867" cy="180.3" r="3.1"/>
<circle cx="867.2" cy="166" r="3.1"/>
<circle cx="867.4" cy="184.6" r="3.1"/>
<circle cx="867.6" cy="173.9" r="3.1"/>
<circle cx="867.8" cy="168" r="3.1"/>
<circle cx="868" cy="166.9" r="3.1"/>
<circle cx="868.2" cy="177.8" r="3.1"/>
<circle cx="868.4" cy="177.9" r="3.1"/>
<circle cx="868.6" cy="177.3" r="3.1"/>
<circle cx="868.8" cy="178.8" r="3.1"/>
<circle cx="869" cy="170.9" r="3.1"/>
<circle cx="869.2" cy="167.5" r="3.1"/>
<circle cx="869.4" cy="169.1" r="3.1"/>
<circle cx="869.6" cy="176.5" r="3.1"/>
<circle cx="869.7" cy="202.4" r="3.1"/>
<circle cx="869.9" cy="168.3" r="3.1"/>
<circle cx="870.1" cy="183.8" r="3.1"/>
<circle cx="870.3" cy="187.2" r="3.1"/>
<circle cx="870.5" cy="162.7" r="3.1"/>
<circle cx="870.7" cy="177" r="3.1"/>
<circle cx="870.9" cy="183.2" r="3.1"/>
<circle cx="871.1" cy="175.3" r="3.1"/>
<circle cx="871.2" cy="177.2" r="3.1"/>
<circle cx="871.4" cy="175.6" r="3.1"/>
<circle cx="871.6" cy="163.9" r="3.1"/>
<circle cx="871.8" cy="168.4" r="3.1"/>
<circle cx="872" cy="170.4" r="3.1"/>
<circle cx="872.1" cy="153.9" r="3.1"/>
<circle cx="872.3" cy="180.9" r="3.1"/>
<circle cx="872.5" cy="174.4" r="3.1"/>
<circle cx="872.7" cy="194.2" r="3.1"/>
<circle cx="872.9" cy="180.4" r="3.1"/>
<circle cx="873" cy="173.1" r="3.1"/>
<circle cx="873.2" cy="155.9" r="3.1"/>
<circle cx="873.4" cy="155.1" r="3.1"/>
<circle cx="873.6" cy="174.5" r="3.1"/>
<circle cx="873.7" cy="155.8" r="3.1"/>
<circle cx="873.9" cy="163.8" r="3.1"/>
<circle cx="874.1" cy="175.3" r="3.1"/>
<circle cx="874.3" cy="177.6" r="3.1"/>
<circle cx="874.4" cy="190.8" r="3.1"/>
<circle cx="874.6" cy="187.2" r="3.1"/>
<circle cx="874.8" cy="163.9" r="3.1"/>
<circle cx="874.9" cy="184.5" r="3.1"/>
<circle cx="875.1" cy="174.9" r="3.1"/>
<circle cx="875.3" cy="162.6" r="3.1"/>
<circle cx="875.4" cy="190.7" r="3.1"/>
<circle cx="875.6" cy="181.9" r="3.1"/>
<circle cx="875.8" cy="214" r="3.1"/>
<circle cx="875.9" cy="173.3" r="3.1"/>
<circle cx="876.1" cy="191.9" r="3.1"/>
<circle cx="876.3" cy="187.1" r="3.1"/>
<circle cx="876.4" cy="173.1" r="3.1"/>
<circle cx="876.6" cy="167.7" r="3.1"/>
<circle cx="876.8" cy="158.6" r="3.1"/>
<circle cx="876.9" cy="180.2" r="3.1"/>
<circle cx="877.1" cy="177.8" r="3.1"/>
<circle cx="877.3" cy="179.4" r="3.1"/>
<circle cx="877.4" cy="187.8" r="3.1"/>
<circle cx="877.6" cy="167.4" r="3.1"/>
<circle cx="877.7" cy="160.8" r="3.1"/>
<circle cx="877.9" cy="163.3" r="3.1"/>
<circle cx="878.1" cy="173.8" r="3.1"/>
<circle cx="878.2" cy="180.5" r="3.1"/>
<circle cx="878.4" cy="170.7" r="3.1"/>
<circle cx="878.5" cy="186.6" r="3.1"/>
<circle cx="878.7" cy="176.3" r="3.1"/>
<circle cx="878.8" cy="167.1" r="3.1"/>
<circle cx="879" cy="216" r="3.1"/>
<circle cx="879.1" cy="177.6" r="3.1"/>
<circle cx="879.3" cy="178.4" r="3.1"/>
<circle cx="879.5" cy="188.4" r="3.1"/>
<circle cx="879.6" cy="180.4" r="3.1"/>
<circle cx="879.8" cy="173.4" r="3.1"/>
<circle cx="879.9" cy="187.4" r="3.1"/>
<circle cx="880.1" cy="164.3" r="3.1"/>
<circle cx="880.2" cy="188.5" r="3.1"/>
<circle cx="880.4" cy="175.2" r="3.1"/>
<circle cx="880.5" cy="173.1" r="3.1"/>
<circle cx="880.7" cy="180.5" r="3.1"/>
<circle cx="880.8" cy="175.3" r="3.1"/>
<circle cx="881" cy="174.5" r="3.1"/>
<circle cx="881.1" cy="192.5" r="3.1"/>
<circle cx="881.3" cy="191.4" r="3.1"/>
<circle cx="881.4" cy="172.5" r="3.1"/>
<circle cx="881.6" cy="184.8" r="3.1"/>
<circle cx="881.7" cy="166.6" r="3.1"/>
<circle cx="881.9" cy="169.7" r="3.1"/>
<circle cx="882" cy="179.6" r="3.1"/>
<circle cx="882.1" cy="176.5" r="3.1"/>
<circle cx="882.3" cy="182.3" r="3.1"/>
<circle cx="882.4" cy="171.9" r="3.1"/>
<circle cx="882.6" cy="178.7" r="3.1"/>
<circle cx="882.7" cy="184.4" r="3.1"/>
<circle cx="882.9" cy="180.6" r="3.1"/>
<circle cx="883" cy="161.3" r="3.1"/>
<circle cx="883.2" cy="178.8" r="3.1"/>
<circle cx="883.3" cy="169.9" r="3.1"/>
<circle cx="883.4" cy="217" r="3.1"/>
<circle cx="883.6" cy="175.3" r="3.1"/>
<circle cx="883.7" cy="182.7" r="3.1"/>
<circle cx="883.9" cy="183.3" r="3.1"/>
<circle cx="884" cy="183.5" r="3.1"/>
<circle cx="884.1" cy="173" r="3.1"/>
<circle cx="884.3" cy="152" r="3.1"/>
<circle cx="884.4" cy="170.8" r="3.1"/>
<circle cx="884.6" cy="187.7" r="3.1"/>
<circle cx="884.7" cy="178.8" r="3.1"/>
<circle cx="884.8" cy="181.1" r="3.1"/>
<circle cx="885" cy="179.3" r="3.1"/>
<circle cx="885.1" cy="197.4" r="3.1"/>
<circle cx="885.2" cy="179.4" r="3.1"/>
<circle cx="885.4" cy="180.3" r="3.1"/>
<circle cx="885.5" cy="181.5" r="3.1"/>
<circle cx="885.6" cy="179.2" r="3.1"/>
<circle cx="885.8" cy="188.3" r="3.1"/>
<circle cx="885.9" cy="163.6" r="3.1"/>
<circle cx="886" cy="164.9" r="3.1"/>
<circle cx="886.2" cy="173.5" r="3.1"/>
<circle cx="886.3" cy="170.3" r="3.1"/>
<circle cx="886.4" cy="202.1" r="3.1"/>
<circle cx="886.6" cy="160.6" r="3.1"/>
<circle cx="886.7" cy="159.8" r="3.1"/>
<circle cx="886.8" cy="175.1" r="3.1"/>
<circle cx="887" cy="185.6" r="3.1"/>
<circle cx="887.1" cy="195.9" r="3.1"/>
<circle cx="887.2" cy="157.6" r="3.1"/>
<circle cx="887.4" cy="184.4" r="3.1"/>
<circle cx="887.5" cy="182" r="3.1"/>
<circle cx="887.6" cy="192.6" r="3.1"/>
<circle cx="887.7" cy="166.3" r="3.1"/>
<circle cx="887.9" cy="175" r="3.1"/>
<circle cx="888" cy="180" r="3.1"/>
<circle cx="888.1" cy="164.6" r="3.1"/>
<circle cx="888.3" cy="152.2" r="3.1"/>
<circle cx="888.4" cy="176.1" r="3.1"/>
<circle cx="888.5" cy="184" r="3.1"/>
<circle cx="888.6" cy="177.6" r="3.1"/>
<circle cx="888.8" cy="213" r="3.1"/>
<circle cx="888.9" cy="198.5" r="3.1"/>
<circle cx="889" cy="180.5" r="3.1"/>
<circle cx="889.1" cy="180.8" r="3.1"/>
<circle cx="889.3" cy="178.1" r="3.1"/>
<circle cx="889.4" cy="177.6" r="3.1"/>
<circle cx="889.5" cy="169.3" r="3.1"/>
<circle cx="889.6" cy="192.7" r="3.1"/>
<circle cx="889.8" cy="152" r="3.1"/>
<circle cx="889.9" cy="181.5" r="3.1"/>
<circle cx="890" cy="167.4" r="3.1"/>
<circle cx="890.1" cy="176.2" r="3.1"/>
<circle cx="890.3" cy="188.4" r="3.1"/>
<circle cx="890.4" cy="166.4" r="3.1"/>
<circle cx="890.5" cy="167.9" r="3.1"/>
<circle cx="890.6" cy="178.9" r="3.1"/>
<circle cx="890.7" cy="175.4" r="3.1"/>
<circle cx="890.9" cy="177.7" r="3.1"/>
<circle cx="891" cy="172.1" r="3.1"/>
<circle cx="891.1" cy="168.6" r="3.1"/>
<circle cx="891.2" cy="167.9" r="3.1"/>
<circle cx="891.3" cy="174.8" r="3.1"/>
<circle cx="891.5" cy="178.2" r="3.1"/>
<circle cx="891.6" cy="168.1" r="3.1"/>
<circle cx="891.7" cy="167.8" r="3.1"/>
<circle cx="891.8" cy="199.8" r="3.1"/>
<circle cx="891.9" cy="176.8" r="3.1"/>
<circle cx="892" cy="185.8" r="3.1"/>
<circle cx="892.2" cy="181.4" r="3.1"/>
<circle cx="892.3" cy="183.4" r="3.1"/>
<circle cx="892.4" cy="177.2" r="3.1"/>
<circle cx="892.5" cy="177.7" r="3.1"/>
<circle cx="892.6" cy="192.5" r="3.1"/>
<circle cx="892.7" cy="162" r="3.1"/>
<circle cx="892.9" cy="183.5" r="3.1"/>
<circle cx="893" cy="171.1" r="3.1"/>
<circle cx="893.1" cy="174.9" r="3.1"/>
<circle cx="893.2" cy="172.3" r="3.1"/>
<circle cx="893.3" cy="168.4" r="3.1"/>
<circle cx="893.4" cy="150" r="3.1"/>
<circle cx="893.6" cy="147.5" r="3.1"/>
<circle cx="893.7" cy="126.4" r="3.1"/>
<circle cx="893.8" cy="134.7" r="3.1"/>
<circle cx="893.9" cy="142.3" r="3.1"/>
<circle cx="894" cy="194.2" r="3.1"/>
<circle cx="894.1" cy="159.4" r="3.1"/>
<circle cx="894.2" cy="196.1" r="3.1"/>
<circle cx="894.3" cy="177.6" r="3.1"/>
<circle cx="894.5" cy="184.5" r="3.1"/>
<circle cx="894.6" cy="172" r="3.1"/>
<circle cx="894.7" cy="176.4" r="3.1"/>
<circle cx="894.8" cy="181" r="3.1"/>
<circle cx="894.9" cy="171.7" r="3.1"/>
<circle cx="895" cy="185.6" r="3.1"/>
<circle cx="895.1" cy="177" r="3.1"/>
<circle cx="895.2" cy="177.7" r="3.1"/>
<circle cx="895.3" cy="175.7" r="3.1"/>
<circle cx="895.4" cy="174.2" r="3.1"/>
<circle cx="895.6" cy="192.4" r="3.1"/>
<circle cx="895.7" cy="171.3" r="3.1"/>
<circle cx="895.8" cy="201.1" r="3.1"/>
<circle cx="895.9" cy="173.1" r="3.1"/>
<circle cx="896" cy="186.1" r="3.1"/>
<circle cx="896.1" cy="187.9" r="3.1"/>
<circle cx="896.2" cy="179.3" r="3.1"/>
<circle cx="896.3" cy="152" r="3.1"/>
<circle cx="896.4" cy="179.1" r="3.1"/>
<circle cx="896.5" cy="174.9" r="3.1"/>
<circle cx="896.6" cy="186.1" r="3.1"/>
<circle cx="896.7" cy="182.7" r="3.1"/>
<circle cx="896.8" cy="192.3" r="3.1"/>
<circle cx="896.9" cy="177.1" r="3.1"/>
<circle cx="897.1" cy="160.8" r="3.1"/>
<circle cx="897.2" cy="163.1" r="3.1"/>
<circle cx="897.3" cy="189" r="3.1"/>
<circle cx="897.4" cy="175.1" r="3.1"/>
<circle cx="897.5" cy="183.9" r="3.1"/>
<circle cx="897.6" cy="161.5" r="3.1"/>
<circle cx="897.7" cy="201.1" r="3.1"/>
<circle cx="897.8" cy="174.6" r="3.1"/>
<circle cx="897.9" cy="179.4" r="3.1"/>
<circle cx="898" cy="172.1" r="3.1"/>
<circle cx="898.1" cy="163.9" r="3.1"/>
<circle cx="898.2" cy="163.6" r="3.1"/>
<circle cx="898.3" cy="164.2" r="3.1"/>
<circle cx="898.4" cy="172.3" r="3.1"/>
<circle cx="898.5" cy="170.4" r="3.1"/>
<circle cx="898.6" cy="165.7" r="3.1"/>
<circle cx="898.7" cy="170.9" r="3.1"/>
<circle cx="898.8" cy="175.1" r="3.1"/>
<circle cx="898.9" cy="182.9" r="3.1"/>
<circle cx="899" cy="166.8" r="3.1"/>
<circle cx="899.1" cy="170.6" r="3.1"/>
<circle cx="899.2" cy="167.4" r="3.1"/>
<circle cx="899.3" cy="174.6" r="3.1"/>
<circle cx="899.4" cy="179.9" r="3.1"/>
<circle cx="899.5" cy="174.7" r="3.1"/>
<circle cx="899.6" cy="200.2" r="3.1"/>
<circle cx="899.7" cy="155.4" r="3.1"/>
<circle cx="899.8" cy="185.5" r="3.1"/>
<circle cx="899.9" cy="201.2" r="3.1"/>
<circle cx="900" cy="160.4" r="3.1"/>
<circle cx="900.1" cy="190.1" r="3.1"/>
<circle cx="900.2" cy="179.4" r="3.1"/>
<circle cx="900.3" cy="152" r="3.1"/>
<circle cx="900.4" cy="169.6" r="3.1"/>
<circle cx="900.5" cy="170" r="3.1"/>
<circle cx="900.6" cy="177.3" r="3.1"/>
<circle cx="900.7" cy="182.7" r="3.1"/>
<circle cx="900.8" cy="175.5" r="3.1"/>
<circle cx="900.9" cy="176.5" r="3.1"/>
<circle cx="901" cy="178.6" r="3.1"/>
<circle cx="901.1" cy="183.3" r="3.1"/>
<circle cx="901.2" cy="171.4" r="3.1"/>
<circle cx="901.3" cy="173.9" r="3.1"/>
<circle cx="901.4" cy="160.7" r="3.1"/>
<circle cx="901.5" cy="170.4" r="3.1"/>
<circle cx="901.6" cy="171.4" r="3.1"/>
<circle cx="901.7" cy="164.8" r="3.1"/>
<circle cx="901.8" cy="183.7" r="3.1"/>
<circle cx="901.9" cy="172.4" r="3.1"/>
<circle cx="902" cy="156.8" r="3.1"/>
<circle cx="902" cy="185.5" r="3.1"/>
<circle cx="902.1" cy="180.5" r="3.1"/>
<circle cx="902.2" cy="213.4" r="3.1"/>
<circle cx="902.3" cy="157.7" r="3.1"/>
<circle cx="902.4" cy="184" r="3.1"/>
<circle cx="902.5" cy="185.8" r="3.1"/>
<circle cx="902.6" cy="176.5" r="3.1"/>
<circle cx="902.7" cy="178.8" r="3.1"/>
<circle cx="902.8" cy="172.6" r="3.1"/>
<circle cx="902.9" cy="169.1" r="3.1"/>
<circle cx="903" cy="174.8" r="3.1"/>
<circle cx="903.1" cy="179.5" r="3.1"/>
<circle cx="903.2" cy="172.7" r="3.1"/>
<circle cx="903.3" cy="181.8" r="3.1"/>
<circle cx="903.4" cy="173.6" r="3.1"/>
<circle cx="903.4" cy="186.9" r="3.1"/>
<circle cx="903.5" cy="173.2" r="3.1"/>
<circle cx="903.6" cy="157.7" r="3.1"/>
<circle cx="903.7" cy="189.7" r="3.1"/>
<circle cx="903.8" cy="184.8" r="3.1"/>
<circle cx="903.9" cy="190.6" r="3.1"/>
<circle cx="904" cy="186.2" r="3.1"/>
<circle cx="904.1" cy="158.8" r="3.1"/>
<circle cx="904.2" cy="164.8" r="3.1"/>
<circle cx="904.3" cy="182.5" r="3.1"/>
<circle cx="904.4" cy="175.3" r="3.1"/>
<circle cx="904.4" cy="208.9" r="3.1"/>
<circle cx="904.5" cy="175.1" r="3.1"/>
</g>
<line x1="589.5" y1="188.8" x2="928.2" y2="188.8" stroke="#ec1c7d" stroke-width="2" stroke-dasharray="10.8 9.5" stroke-dashoffset="-1.4"/>
<line x1="589.5" y1="241.0" x2="928.2" y2="241.0" stroke="#1d5f8f" stroke-width="2" stroke-dasharray="10.8 9.5" stroke-dashoffset="0.6"/>
<rect x="589.5" y="44.2" width="338.70000000000005" height="273.2" fill="none" stroke="#000" stroke-width="2"/>
<path d="M589.5,299.8h5.5 M589.5,283.4h2.6 M589.5,273.8h2.6 M589.5,267h2.6 M589.5,261.8h2.6 M589.5,257.5h2.6 M589.5,253.8h2.6 M589.5,250.7h2.6 M589.5,247.9h2.6 M589.5,245.4h5.5 M589.5,229h2.6 M589.5,219.4h2.6 M589.5,212.6h2.6 M589.5,207.4h2.6 M589.5,203.1h2.6 M589.5,199.4h2.6 M589.5,196.3h2.6 M589.5,193.5h2.6 M589.5,191h5.5 M589.5,174.6h2.6 M589.5,165h2.6 M589.5,158.2h2.6 M589.5,153h2.6 M589.5,148.7h2.6 M589.5,145h2.6 M589.5,141.9h2.6 M589.5,139.1h2.6 M589.5,136.6h5.5 M589.5,120.2h2.6 M589.5,110.6h2.6 M589.5,103.8h2.6 M589.5,98.6h2.6 M589.5,94.3h2.6 M589.5,90.6h2.6 M589.5,87.5h2.6 M589.5,84.7h2.6 M589.5,82.2h5.5 M589.5,65.8h2.6 M589.5,56.2h2.6 M589.5,49.4h2.6 M589.5,316.2h2.6 M589.5,311.9h2.6 M589.5,308.2h2.6 M589.5,305.1h2.6 M589.5,302.3h2.6 M602.8,317.4v-2.6 M613.2,317.4v-2.6 M621.7,317.4v-2.6 M628.9,317.4v-2.6 M635.1,317.4v-2.6 M640.6,317.4v-2.6 M645.5,317.4v-5.5 M677.8,317.4v-2.6 M696.7,317.4v-2.6 M710.1,317.4v-2.6 M720.5,317.4v-2.6 M729,317.4v-2.6 M736.2,317.4v-2.6 M742.4,317.4v-2.6 M747.9,317.4v-2.6 M752.8,317.4v-5.5 M785.1,317.4v-2.6 M804,317.4v-2.6 M817.4,317.4v-2.6 M827.8,317.4v-2.6 M836.3,317.4v-2.6 M843.5,317.4v-2.6 M849.7,317.4v-2.6 M855.2,317.4v-2.6 M860.1,317.4v-5.5 M892.4,317.4v-2.6 M911.3,317.4v-2.6 M924.7,317.4v-2.6" stroke="#000" stroke-width="1.5" fill="none"/>
<text x="583" y="305.6" font-size="17.3" text-anchor="end" fill="#000" >10<tspan font-size="11.5" baseline-shift="7.5">-16</tspan></text>
<text x="583" y="251.2" font-size="17.3" text-anchor="end" fill="#000" >10<tspan font-size="11.5" baseline-shift="7.5">-15</tspan></text>
<text x="583" y="196.8" font-size="17.3" text-anchor="end" fill="#000" >10<tspan font-size="11.5" baseline-shift="7.5">-14</tspan></text>
<text x="583" y="142.4" font-size="17.3" text-anchor="end" fill="#000" >10<tspan font-size="11.5" baseline-shift="7.5">-13</tspan></text>
<text x="583" y="88" font-size="17.3" text-anchor="end" fill="#000" >10<tspan font-size="11.5" baseline-shift="7.5">-12</tspan></text>
<text x="646" y="338.3" font-size="17.3" text-anchor="middle" fill="#000" >10<tspan font-size="11.5" baseline-shift="7.5">-2</tspan></text>
<text x="753.3" y="338.3" font-size="17.3" text-anchor="middle" fill="#000" >10<tspan font-size="11.5" baseline-shift="7.5">-1</tspan></text>
<text x="860.6" y="338.3" font-size="17.3" text-anchor="middle" fill="#000" >10<tspan font-size="11.5" baseline-shift="7.5">0</tspan></text>
<text x="758" y="370" font-size="23.2" text-anchor="middle" fill="#000" >Frequence (Hz)</text>
<text transform="translate(541.5,180) rotate(-90)" font-size="23.4" text-anchor="middle">Noise current (A/Hz<tspan font-size="15" baseline-shift="8">1/2</tspan>)</text>
<line x1="776" y1="73.4" x2="804" y2="73.4" stroke="#000" stroke-width="1"/>
<circle cx="790" cy="73.4" r="2.5" fill="url(#gk)"/>
<text x="811.3" y="78.4" font-size="17.5" text-anchor="start" fill="#000" >Noise current</text>
<text x="795" y="265.4" font-size="16.8" text-anchor="start" fill="#1a6b6b" >shot noise limit</text>
</g>
<g id="pc">
<text x="32.5" y="380.5" font-size="33" text-anchor="start" fill="#000" >(c)</text>
<polyline fill="none" stroke="#e24af5" stroke-width="5.4" stroke-linejoin="round" stroke-linecap="round" points="108.4,478.4 108.4,478.4 108.9,478.4 109.4,478.5 109.9,478.5 110.4,478.5 110.9,478.6 111.4,478.6 111.9,478.6 112.4,478.7 112.9,478.7 113.4,478.8 113.9,478.8 114.4,478.8 114.9,478.9 115.4,478.9 115.9,478.9 116.4,479 116.9,479 117.4,479 117.9,479.1 118.4,479.1 118.9,479.2 119.4,479.2 119.9,479.2 120.4,479.3 120.9,479.3 121.4,479.3 121.9,479.4 122.4,479.4 122.9,479.5 123.4,479.5 123.9,479.5 124.4,479.6 124.9,479.6 125.4,479.6 125.9,479.7 126.4,479.7 126.9,479.8 127.4,479.8 127.9,479.8 128.4,479.9 128.9,479.9 129.4,480 129.9,480 130.4,480 130.9,480.1 131.4,480.1 131.9,480.2 132.4,480.2 132.9,480.2 133.4,480.3 133.9,480.3 134.4,480.3 134.9,480.4 135.4,480.4 135.9,480.5 136.4,480.5 136.9,480.5 137.4,480.6 137.9,480.6 138.4,480.7 138.9,480.7 139.4,480.8 139.9,480.8 140.4,480.8 140.9,480.9 141.4,480.9 141.9,481 142.4,481 142.9,481 143.4,481.1 143.9,481.1 144.4,481.2 144.9,481.2 145.4,481.2 145.9,481.3 146.4,481.3 146.9,481.4 147.4,481.4 147.9,481.5 148.4,481.5 148.9,481.5 149.4,481.6 149.9,481.6 150.4,481.7 150.9,481.7 151.4,481.8 151.9,481.8 152.4,481.8 152.9,481.9 153.4,481.9 153.9,482 154.4,482 154.9,482.1 155.4,482.1 155.9,482.2 156.4,482.2 156.9,482.3 157.4,482.3 157.9,482.3 158.4,482.4 158.9,482.4 159.4,482.5 159.9,482.5 160.4,482.6 160.9,482.6 161.4,482.7 161.9,482.7 162.4,482.8 162.9,482.8 163.4,482.9 163.9,482.9 164.4,482.9 164.9,483 165.4,483 165.9,483.1 166.4,483.1 166.9,483.2 167.4,483.2 167.9,483.3 168.4,483.3 168.9,483.4 169.4,483.4 169.9,483.5 170.4,483.5 170.9,483.6 171.4,483.6 171.9,483.7 172.4,483.7 172.9,483.8 173.4,483.8 173.9,483.9 174.4,483.9 174.9,484 175.4,484 175.9,484.1 176.4,484.2 176.9,484.2 177.4,484.3 177.9,484.3 178.4,484.4 178.9,484.4 179.4,484.5 179.9,484.5 180.4,484.6 180.9,484.6 181.4,484.7 181.9,484.7 182.4,484.8 182.9,484.8 183.4,484.9 183.9,484.9 184.4,485 184.9,485.1 185.4,485.1 185.9,485.2 186.4,485.2 186.9,485.3 187.4,485.3 187.9,485.4 188.4,485.5 188.9,485.5 189.4,485.6 189.9,485.6 190.4,485.7 190.9,485.7 191.4,485.8 191.9,485.9 192.4,485.9 192.9,486 193.4,486 193.9,486.1 194.4,486.2 194.9,486.2 195.4,486.3 195.9,486.4 196.4,486.4 196.9,486.5 197.4,486.5 197.9,486.6 198.4,486.7 198.9,486.7 199.4,486.8 199.9,486.9 200.4,487 200.9,487 201.4,487.1 201.9,487.2 202.4,487.2 202.9,487.3 203.4,487.4 203.9,487.5 204.4,487.5 204.9,487.6 205.4,487.7 205.9,487.8 206.4,487.8 206.9,487.9 207.4,488 207.9,488.1 208.4,488.2 208.9,488.3 209.4,488.3 209.9,488.4 210.4,488.5 210.9,488.6 211.4,488.7 211.9,488.8 212.4,488.9 212.9,489 213.4,489.1 213.9,489.2 214.4,489.3 214.9,489.4 215.4,489.5 215.9,489.6 216.4,489.7 216.9,489.8 217.4,489.9 217.9,490 218.4,490.1 218.9,490.2 219.4,490.3 219.9,490.4 220.4,490.5 220.9,490.6 221.4,490.8 221.9,490.9 222.4,491 222.9,491.1 223.4,491.2 223.9,491.3 224.4,491.5 224.9,491.6 225.4,491.7 225.9,491.9 226.4,492 226.9,492.1 227.4,492.3 227.9,492.4 228.4,492.5 228.9,492.7 229.4,492.8 229.9,493 230.4,493.1 230.9,493.3 231.4,493.4 231.9,493.6 232.4,493.7 232.9,493.9 233.4,494.1 233.9,494.2 234.4,494.4 234.9,494.6 235.4,494.7 235.9,494.9 236.4,495.1 236.9,495.3 237.4,495.5 237.9,495.7 238.4,495.8 238.9,496 239.4,496.3 239.9,496.5 240.4,496.7 240.9,496.9 241.4,497.1 241.9,497.4 242.4,497.6 242.9,497.9 243.4,498.1 243.9,498.4 244.4,498.7 244.9,498.9 245.4,499.2 245.9,499.5 246.4,499.8 246.9,500.1 247.4,500.5 247.9,500.8 248.4,501.1 248.9,501.5 249.4,501.8 249.9,502.1 250.4,502.5 250.9,502.8 251.4,503.2 251.9,503.6 252.4,503.9 252.9,504.3 253.4,504.6 253.9,505 254.4,505.3 254.9,505.7 255.4,506.1 255.9,506.4 256.4,506.8 256.9,507.2 257.4,507.6 257.9,508 258.4,508.4 258.9,508.8 259.4,509.2 259.9,509.6 260.4,510 260.9,510.5 261.4,510.9 261.9,511.4 262.4,511.8 262.9,512.3 263.4,512.8 263.9,513.3 264.4,513.8 264.9,514.3 265.4,514.8 265.9,515.4 266.4,516 266.9,516.5 267.4,517.1 267.9,517.8 268.4,518.4 268.9,519.1 269.4,519.8 269.9,520.5 270.4,521.2 270.9,522 271.4,522.8 271.9,523.7 272.4,524.6 272.9,525.5 273.4,526.5 273.9,527.5 274.4,528.6 274.9,529.7 274.9,529.9 275,530.1 275.1,530.3 275.2,530.6 275.3,530.8 275.4,531.1 275.5,531.3 275.6,531.6 275.8,531.8 275.8,532.1 275.9,532.4 276,532.7 276.1,532.9 276.2,533.2 276.3,533.5 276.4,533.8 276.5,534.1 276.6,534.4 276.8,534.7 276.8,535 276.9,535.4 277,535.7 277.1,536 277.2,536.4 277.3,536.7 277.4,537.1 277.5,537.4 277.6,537.8 277.8,538.2 277.8,538.6 277.9,539 278,539.4 278.1,539.8 278.2,540.3 278.3,540.7 278.4,541.2 278.5,541.7 278.6,542.2 278.8,542.7 278.8,543.2 278.9,543.7 279,544.3 279.1,545 279.2,545.7 279.3,546.5 279.4,547.3 279.5,548.2 279.6,549.1 279.8,550.2 279.8,551.3 279.9,552.5 280,553.9 280.1,555.4 280.2,557.1 280.3,559.2 280.4,560 280.5,560 280.6,560 280.8,560 280.8,560 280.9,560 280.9,560 281,560 281.1,557.3 281.2,553.9 281.3,551.4 281.4,549.4 281.5,547.7 281.6,546.3 281.8,545 281.8,543.9 281.9,542.9 282,542 282.1,541.1 282.2,540.3 282.3,539.6 282.4,538.9 282.5,538.3 282.6,537.7 282.8,537.2 282.8,536.7 282.9,536.2 283,535.8 283.1,535.4 283.2,535 283.3,534.6 283.4,534.3 283.5,533.9 283.6,533.5 283.8,533.2 283.8,532.9 283.9,532.5 284,532.2 284.1,531.9 284.2,531.6 284.3,531.3 284.4,531 284.5,530.7 284.6,530.4 284.8,530.2 284.8,529.9 284.9,529.6 285,529.4 285.1,529.1 285.2,528.9 285.3,528.6 285.4,528.4 285.5,528.1 285.6,527.9 285.8,527.7 285.8,527.5 285.9,527.2 286,527 286.1,526.8 286.2,526.6 286.3,526.4 286.4,526.2 286.5,526 286.6,525.8 286.8,525.6 286.8,525.4 286.9,525.3 287.4,524.4 287.9,523.5 288.4,522.7 288.9,521.9 289.4,521.2 289.9,520.5 290.4,519.8 290.9,519.1 291.4,518.5 291.9,517.9 292.4,517.3 292.9,516.7 293.4,516.2 293.9,515.6 294.4,515.1 294.9,514.6 295.4,514.1 295.9,513.6 296.4,513.1 296.9,512.6 297.4,512.1 297.9,511.7 298.4,511.2 298.9,510.7 299.4,510.3 299.9,509.8 300.4,509.4 300.9,508.9 301.4,508.5 301.9,508.1 302.4,507.7 302.9,507.2 303.4,506.9 303.9,506.5 304.4,506.1 304.9,505.7 305.4,505.4 305.9,505 306.4,504.7 306.9,504.4 307.4,504.1 307.9,503.7 308.4,503.4 308.9,503.1 309.4,502.9 309.9,502.6 310.4,502.3 310.9,502 311.4,501.7 311.9,501.5 312.4,501.2 312.9,501 313.4,500.7 313.9,500.5 314.4,500.2 314.9,500 315.4,499.7 315.9,499.5 316.4,499.3 316.9,499.1 317.4,498.8 317.9,498.6 318.4,498.4 318.9,498.2 319.4,498 319.9,497.7 320.4,497.5 320.9,497.3 321.4,497.1 321.9,496.9 322.4,496.7 322.9,496.5 323.4,496.3 323.9,496.1 324.4,495.9 324.9,495.7 325.4,495.5 325.9,495.3 326.4,495.1 326.9,494.9 327.4,494.7 327.9,494.5 328.4,494.3 328.9,494.2 329.4,494 329.9,493.8 330.4,493.6 330.9,493.4 331.4,493.3 331.9,493.1 332.4,492.9 332.9,492.8 333.4,492.6 333.9,492.4 334.4,492.3 334.9,492.1 335.4,491.9 335.9,491.8 336.4,491.6 336.9,491.5 337.4,491.3 337.9,491.2 338.4,491.1 338.9,490.9 339.4,490.8 339.9,490.6 340.4,490.5 340.9,490.4 341.4,490.2 341.9,490.1 342.4,490 342.9,489.9 343.4,489.7 343.9,489.6 344.4,489.5 344.9,489.4 345.4,489.3 345.9,489.2 346.4,489.1 346.9,489 347.4,488.9 347.9,488.7 348.4,488.6 348.9,488.6 349.4,488.5 349.9,488.4 350.4,488.3 350.9,488.2 351.4,488.1 351.9,488 352.4,487.9 352.9,487.8 353.4,487.8 353.9,487.7 354.4,487.6 354.9,487.5 355.4,487.4 355.9,487.4 356.4,487.3 356.9,487.2 357.4,487.1 357.9,487.1 358.4,487 358.9,486.9 359.4,486.9 359.9,486.8 360.4,486.7 360.9,486.7 361.4,486.6 361.9,486.5 362.4,486.5 362.9,486.4 363.4,486.4 363.9,486.3 364.4,486.2 364.9,486.2 365.4,486.1 365.9,486.1 366.4,486 366.9,485.9 367.4,485.9 367.9,485.8 368.4,485.8 368.9,485.7 369.4,485.7 369.9,485.6 370.4,485.5 370.9,485.5 371.4,485.4 371.9,485.4 372.4,485.3 372.9,485.3 373.4,485.2 373.9,485.2 374.4,485.1 374.9,485.1 375.4,485 375.9,485 376.4,484.9 376.9,484.8 377.4,484.8 377.9,484.7 378.4,484.7 378.9,484.6 379.4,484.6 379.9,484.5 380.4,484.5 380.9,484.4 381.4,484.4 381.9,484.3 382.4,484.3 382.9,484.2 383.4,484.2 383.9,484.1 384.4,484.1 384.9,484 385.4,484 385.9,483.9 386.4,483.9 386.9,483.8 387.4,483.8 387.9,483.7 388.4,483.7 388.9,483.6 389.4,483.6 389.9,483.5 390.4,483.5 390.9,483.4 391.4,483.4 391.9,483.3 392.4,483.3 392.9,483.2 393.4,483.1 393.9,483.1 394.4,483 394.9,483 395.4,482.9 395.9,482.9 396.4,482.8 396.9,482.8 397.4,482.7 397.9,482.7 398.4,482.6 398.9,482.6 399.4,482.5 399.9,482.5 400.4,482.4 400.9,482.4 401.4,482.3 401.9,482.3 402.4,482.2 402.9,482.2 403.4,482.1 403.9,482.1 404.4,482 404.9,482 405.4,481.9 405.9,481.9 406.4,481.8 406.9,481.8 407.4,481.7 407.9,481.7 408.4,481.7 408.9,481.6 409.4,481.6 409.9,481.5 410.4,481.5 410.9,481.4 411.4,481.4 411.9,481.3 412.4,481.3 412.9,481.2 413.4,481.2 413.9,481.2 414.4,481.1 414.9,481.1 415.4,481 415.9,481 416.4,480.9 416.9,480.9 417.4,480.9 417.9,480.8 418.4,480.8 418.9,480.7 419.4,480.7 419.9,480.6 420.4,480.6 420.9,480.6 421.4,480.5 421.9,480.5 422.4,480.4 422.9,480.4 423.4,480.4 423.9,480.3 424.4,480.3 424.9,480.2 425.4,480.2 425.9,480.2 426.4,480.1 426.9,480.1 427.4,480 427.9,480 428.4,480 428.9,479.9 429.4,479.9 429.9,479.9 430.4,479.8 430.9,479.8 431.4,479.7 431.9,479.7 432.4,479.7 432.9,479.6 433.4,479.6 433.9,479.6 434.4,479.5 434.9,479.5 435.4,479.4 435.9,479.4 436.4,479.4 436.9,479.3 437.4,479.3 437.9,479.3 438.4,479.2 438.9,479.2 439.4,479.2 439.9,479.1 440.4,479.1 440.9,479.1 441.4,479 441.9,479 442.4,478.9 442.9,478.9 443.4,478.9 443.9,478.8 444.4,478.8 444.9,478.8 445.4,478.7 445.9,478.7 446.4,478.7 446.9,478.6 447.4,478.6 447.9,478.6 448.4,478.5 448.9,478.5 449.4,478.5 449.9,478.4 450.4,478.4 450.6,478.4"/>
<polyline fill="none" stroke="#f03c46" stroke-width="5.4" stroke-linejoin="round" stroke-linecap="round" points="108.4,489.8 108.8,489.8 109.3,489.9 109.8,489.9 110.3,489.9 110.8,490 111.3,490 111.8,490 112.3,490.1 112.8,490.1 113.3,490.1 113.8,490.2 114.3,490.2 114.8,490.2 115.3,490.3 115.8,490.3 116.3,490.3 116.8,490.4 117.3,490.4 117.8,490.4 118.3,490.5 118.8,490.5 119.3,490.5 119.8,490.6 120.3,490.6 120.8,490.6 121.3,490.7 121.8,490.7 122.3,490.8 122.8,490.8 123.3,490.8 123.8,490.9 124.3,490.9 124.8,490.9 125.3,491 125.8,491 126.3,491 126.8,491.1 127.3,491.1 127.8,491.2 128.3,491.2 128.8,491.2 129.3,491.3 129.8,491.3 130.3,491.3 130.8,491.4 131.3,491.4 131.8,491.5 132.3,491.5 132.8,491.5 133.3,491.6 133.8,491.6 134.3,491.6 134.8,491.7 135.3,491.7 135.8,491.8 136.3,491.8 136.8,491.8 137.3,491.9 137.8,491.9 138.3,492 138.8,492 139.3,492 139.8,492.1 140.3,492.1 140.8,492.2 141.3,492.2 141.8,492.2 142.3,492.3 142.8,492.3 143.3,492.4 143.8,492.4 144.3,492.4 144.8,492.5 145.3,492.5 145.8,492.6 146.3,492.6 146.8,492.6 147.3,492.7 147.8,492.7 148.3,492.8 148.8,492.8 149.3,492.9 149.8,492.9 150.3,492.9 150.8,493 151.3,493 151.8,493.1 152.3,493.1 152.8,493.2 153.3,493.2 153.8,493.2 154.3,493.3 154.8,493.3 155.3,493.4 155.8,493.4 156.3,493.5 156.8,493.5 157.3,493.5 157.8,493.6 158.3,493.6 158.8,493.7 159.3,493.7 159.8,493.8 160.3,493.8 160.8,493.9 161.3,493.9 161.8,494 162.3,494 162.8,494.1 163.3,494.1 163.8,494.2 164.3,494.2 164.8,494.3 165.3,494.3 165.8,494.4 166.3,494.4 166.8,494.5 167.3,494.5 167.8,494.6 168.3,494.6 168.8,494.7 169.3,494.7 169.8,494.8 170.3,494.8 170.8,494.9 171.3,494.9 171.8,495 172.3,495.1 172.8,495.1 173.3,495.2 173.8,495.2 174.3,495.3 174.8,495.3 175.3,495.4 175.8,495.4 176.3,495.5 176.8,495.6 177.3,495.6 177.8,495.7 178.3,495.7 178.8,495.8 179.3,495.9 179.8,495.9 180.3,496 180.8,496.1 181.3,496.1 181.8,496.2 182.3,496.2 182.8,496.3 183.3,496.4 183.8,496.4 184.3,496.5 184.8,496.6 185.3,496.6 185.8,496.7 186.3,496.8 186.8,496.8 187.3,496.9 187.8,497 188.3,497 188.8,497.1 189.3,497.2 189.8,497.2 190.3,497.3 190.8,497.4 191.3,497.5 191.8,497.5 192.3,497.6 192.8,497.7 193.3,497.7 193.8,497.8 194.3,497.9 194.8,498 195.3,498 195.8,498.1 196.3,498.2 196.8,498.3 197.3,498.4 197.8,498.4 198.3,498.5 198.8,498.6 199.3,498.7 199.8,498.8 200.3,498.8 200.8,498.9 201.3,499 201.8,499.1 202.3,499.2 202.8,499.3 203.3,499.3 203.8,499.4 204.3,499.5 204.8,499.6 205.3,499.7 205.8,499.8 206.3,499.9 206.8,500 207.3,500.1 207.8,500.1 208.3,500.2 208.8,500.3 209.3,500.4 209.8,500.5 210.3,500.6 210.8,500.7 211.3,500.8 211.8,500.9 212.3,501 212.8,501.1 213.3,501.2 213.8,501.3 214.3,501.4 214.8,501.5 215.3,501.6 215.8,501.7 216.3,501.8 216.8,501.9 217.3,502 217.8,502.1 218.3,502.2 218.8,502.3 219.3,502.5 219.8,502.6 220.3,502.7 220.8,502.8 221.3,502.9 221.8,503 222.3,503.1 222.8,503.2 223.3,503.4 223.8,503.5 224.3,503.6 224.8,503.7 225.3,503.9 225.8,504 226.3,504.1 226.8,504.2 227.3,504.4 227.8,504.5 228.3,504.6 228.8,504.8 229.3,504.9 229.8,505 230.3,505.2 230.8,505.3 231.3,505.5 231.8,505.6 232.3,505.8 232.8,505.9 233.3,506.1 233.8,506.2 234.3,506.4 234.8,506.6 235.3,506.7 235.8,506.9 236.3,507.1 236.8,507.3 237.3,507.5 237.8,507.6 238.3,507.8 238.8,508 239.3,508.2 239.8,508.4 240.3,508.6 240.8,508.8 241.3,509.1 241.8,509.3 242.3,509.5 242.8,509.8 243.3,510 243.8,510.3 244.3,510.6 244.8,510.8 245.3,511.1 245.8,511.4 246.3,511.7 246.8,512 247.3,512.3 247.8,512.6 248.3,513 248.8,513.3 249.3,513.6 249.8,513.9 250.3,514.3 250.8,514.6 251.3,515 251.8,515.3 252.3,515.7 252.8,516 253.3,516.4 253.8,516.7 254.3,517.1 254.8,517.4 255.3,517.8 255.8,518.1 256.3,518.5 256.8,518.9 257.3,519.2 257.8,519.6 258.3,520 258.8,520.4 259.3,520.8 259.8,521.2 260.3,521.6 260.8,522 261.3,522.4 261.8,522.9 262.3,523.3 262.8,523.8 263.3,524.2 263.8,524.7 264.3,525.2 264.8,525.7 265.3,526.2 265.8,526.8 266.3,527.3 266.8,527.9 267.3,528.4 267.8,529 268.3,529.7 268.8,530.3 269.3,531 269.8,531.7 270.3,532.4 270.8,533.2 271.3,534 271.8,534.8 272.3,535.7 272.8,536.6 273.3,537.6 273.8,538.6 274.3,539.7 274.8,540.8 274.9,541 274.9,541.2 275.1,541.4 275.2,541.7 275.2,542 275.4,542.2 275.4,542.5 275.6,542.7 275.7,543 275.8,543.3 275.9,543.6 275.9,543.8 276.1,544.1 276.2,544.4 276.2,544.7 276.4,545 276.4,545.3 276.6,545.6 276.7,546 276.8,546.3 276.9,546.6 276.9,547 277.1,547.3 277.2,547.7 277.2,548.1 277.4,548.4 277.4,548.8 277.6,549.2 277.7,549.6 277.8,550 277.9,550.5 277.9,550.9 278.1,551.4 278.2,551.8 278.2,552.3 278.4,552.8 278.4,553.3 278.6,553.9 278.7,554.4 278.8,555 278.9,555.6 278.9,556.3 279.1,557 279.2,557.8 279.2,558.6 279.4,559.5 279.4,560.4 279.6,561.4 279.7,562.5 279.8,563.7 279.9,565 279.9,566.5 280.1,568 280.2,568 280.2,568 280.4,568 280.4,568 280.6,568 280.7,568 280.8,568 280.8,568 280.9,568 280.9,568 281.1,568 281.2,568 281.2,568 281.4,568 281.4,568 281.6,568 281.7,567.7 281.8,566.3 281.9,565 281.9,563.8 282.1,562.7 282.2,561.7 282.2,560.8 282.4,560 282.4,559.2 282.6,558.4 282.7,557.7 282.8,557 282.9,556.4 282.9,555.9 283.1,555.4 283.2,554.9 283.2,554.4 283.4,553.9 283.4,553.4 283.6,553 283.7,552.5 283.8,552.1 283.9,551.7 283.9,551.3 284.1,550.9 284.2,550.5 284.2,550.1 284.4,549.8 284.4,549.4 284.6,549 284.7,548.7 284.8,548.4 284.9,548 284.9,547.7 285.1,547.4 285.2,547.1 285.2,546.8 285.4,546.5 285.4,546.2 285.6,545.9 285.7,545.6 285.8,545.3 285.9,545 285.9,544.8 286.1,544.5 286.2,544.2 286.2,544 286.4,543.7 286.4,543.5 286.6,543.2 286.7,543 286.8,542.7 286.8,542.6 287.3,541.4 287.8,540.4 288.3,539.3 288.8,538.3 289.3,537.4 289.8,536.5 290.3,535.7 290.8,534.8 291.3,534.1 291.8,533.3 292.3,532.6 292.8,531.9 293.3,531.2 293.8,530.5 294.3,529.9 294.8,529.2 295.3,528.6 295.8,528 296.3,527.5 296.8,526.9 297.3,526.3 297.8,525.8 298.3,525.2 298.8,524.7 299.3,524.2 299.8,523.7 300.3,523.2 300.8,522.7 301.3,522.2 301.8,521.7 302.3,521.2 302.8,520.8 303.3,520.3 303.8,519.9 304.3,519.4 304.8,519 305.3,518.6 305.8,518.2 306.3,517.8 306.8,517.4 307.3,517 307.8,516.7 308.3,516.3 308.8,515.9 309.3,515.6 309.8,515.2 310.3,514.9 310.8,514.5 311.3,514.2 311.8,513.8 312.3,513.5 312.8,513.2 313.3,512.9 313.8,512.6 314.3,512.3 314.8,512 315.3,511.7 315.8,511.4 316.3,511.1 316.8,510.8 317.3,510.5 317.8,510.3 318.3,510 318.8,509.8 319.3,509.5 319.8,509.3 320.3,509.1 320.8,508.8 321.3,508.6 321.8,508.4 322.3,508.2 322.8,507.9 323.3,507.7 323.8,507.5 324.3,507.3 324.8,507.1 325.3,506.9 325.8,506.7 326.3,506.5 326.8,506.3 327.3,506.1 327.8,505.9 328.3,505.7 328.8,505.5 329.3,505.3 329.8,505.2 330.3,505 330.8,504.8 331.3,504.6 331.8,504.5 332.3,504.3 332.8,504.1 333.3,504 333.8,503.8 334.3,503.6 334.8,503.5 335.3,503.3 335.8,503.2 336.3,503 336.8,502.9 337.3,502.7 337.8,502.6 338.3,502.4 338.8,502.3 339.3,502.2 339.8,502 340.3,501.9 340.8,501.8 341.3,501.7 341.8,501.5 342.3,501.4 342.8,501.3 343.3,501.2 343.8,501 344.3,500.9 344.8,500.8 345.3,500.7 345.8,500.6 346.3,500.5 346.8,500.4 347.3,500.3 347.8,500.2 348.3,500.1 348.8,500 349.3,499.9 349.8,499.8 350.3,499.7 350.8,499.6 351.3,499.5 351.8,499.4 352.3,499.3 352.8,499.2 353.3,499.2 353.8,499.1 354.3,499 354.8,498.9 355.3,498.8 355.8,498.7 356.3,498.7 356.8,498.6 357.3,498.5 357.8,498.4 358.3,498.4 358.8,498.3 359.3,498.2 359.8,498.1 360.3,498.1 360.8,498 361.3,497.9 361.8,497.9 362.3,497.8 362.8,497.7 363.3,497.7 363.8,497.6 364.3,497.5 364.8,497.5 365.3,497.4 365.8,497.3 366.3,497.3 366.8,497.2 367.3,497.2 367.8,497.1 368.3,497 368.8,497 369.3,496.9 369.8,496.9 370.3,496.8 370.8,496.7 371.3,496.7 371.8,496.6 372.3,496.6 372.8,496.5 373.3,496.5 373.8,496.4 374.3,496.3 374.8,496.3 375.3,496.2 375.8,496.2 376.3,496.1 376.8,496.1 377.3,496 377.8,496 378.3,495.9 378.8,495.9 379.3,495.8 379.8,495.8 380.3,495.7 380.8,495.7 381.3,495.6 381.8,495.6 382.3,495.5 382.8,495.5 383.3,495.4 383.8,495.4 384.3,495.3 384.8,495.3 385.3,495.2 385.8,495.2 386.3,495.1 386.8,495.1 387.3,495 387.8,495 388.3,495 388.8,494.9 389.3,494.9 389.8,494.8 390.3,494.8 390.8,494.7 391.3,494.7 391.8,494.6 392.3,494.6 392.8,494.6 393.3,494.5 393.8,494.5 394.3,494.4 394.8,494.4 395.3,494.4 395.8,494.3 396.3,494.3 396.8,494.2 397.3,494.2 397.8,494.2 398.3,494.1 398.8,494.1 399.3,494 399.8,494 400.3,494 400.8,493.9 401.3,493.9 401.8,493.9 402.3,493.8 402.8,493.8 403.3,493.7 403.8,493.7 404.3,493.7 404.8,493.6 405.3,493.6 405.8,493.6 406.3,493.5 406.8,493.5 407.3,493.5 407.8,493.4 408.3,493.4 408.8,493.3 409.3,493.3 409.8,493.3 410.3,493.2 410.8,493.2 411.3,493.2 411.8,493.1 412.3,493.1 412.8,493 413.3,493 413.8,493 414.3,492.9 414.8,492.9 415.3,492.8 415.8,492.8 416.3,492.8 416.8,492.7 417.3,492.7 417.8,492.6 418.3,492.6 418.8,492.5 419.3,492.5 419.8,492.5 420.3,492.4 420.8,492.4 421.3,492.3 421.8,492.3 422.3,492.3 422.8,492.2 423.3,492.2 423.8,492.1 424.3,492.1 424.8,492 425.3,492 425.8,492 426.3,491.9 426.8,491.9 427.3,491.8 427.8,491.8 428.3,491.7 428.8,491.7 429.3,491.7 429.8,491.6 430.3,491.6 430.8,491.5 431.3,491.5 431.8,491.4 432.3,491.4 432.8,491.4 433.3,491.3 433.8,491.3 434.3,491.2 434.8,491.2 435.3,491.1 435.8,491.1 436.3,491.1 436.8,491 437.3,491 437.8,490.9 438.3,490.9 438.8,490.8 439.3,490.8 439.8,490.7 440.3,490.7 440.8,490.7 441.3,490.6 441.8,490.6 442.3,490.5 442.8,490.5 443.3,490.4 443.8,490.4 444.3,490.4 444.8,490.3 445.3,490.3 445.8,490.2 446.3,490.2 446.8,490.1 447.3,490.1 447.8,490 448.3,490 448.8,490 449.3,489.9 449.8,489.9 450.3,489.8 450.6,489.8"/>
<polyline fill="none" stroke="#2468e0" stroke-width="5.4" stroke-linejoin="round" stroke-linecap="round" points="107.9,517 108.1,515.3 108.6,512 109.1,510.2 109.6,508.9 110.1,507.9 110.6,507.6 111.1,507.4 111.6,507.3 112.1,507.2 112.6,507.1 113.1,507.1 113.6,507 114.1,507 114.6,506.9 115.1,506.9 115.6,506.9 116.1,506.9 116.6,506.9 117.1,506.9 117.6,506.9 118.1,506.9 118.6,506.9 119.1,507 119.6,507 120.1,507 120.6,507 121.1,507.1 121.6,507.1 122.1,507.1 122.6,507.1 123.1,507.2 123.6,507.2 124.1,507.2 124.6,507.3 125.1,507.3 125.6,507.4 126.1,507.4 126.6,507.5 127.1,507.5 127.6,507.5 128.1,507.6 128.6,507.6 129.1,507.7 129.6,507.7 130.1,507.8 130.6,507.8 131.1,507.9 131.6,507.9 132.1,507.9 132.6,508 133.1,508 133.6,508.1 134.1,508.1 134.6,508.2 135.1,508.2 135.6,508.2 136.1,508.3 136.6,508.3 137.1,508.4 137.6,508.4 138.1,508.4 138.6,508.5 139.1,508.5 139.6,508.5 140.1,508.6 140.6,508.6 141.1,508.7 141.6,508.7 142.1,508.7 142.6,508.8 143.1,508.8 143.6,508.8 144.1,508.9 144.6,508.9 145.1,509 145.6,509 146.1,509 146.6,509.1 147.1,509.1 147.6,509.1 148.1,509.2 148.6,509.2 149.1,509.3 149.6,509.3 150.1,509.3 150.6,509.4 151.1,509.4 151.6,509.5 152.1,509.5 152.6,509.5 153.1,509.6 153.6,509.6 154.1,509.7 154.6,509.7 155.1,509.7 155.6,509.8 156.1,509.8 156.6,509.9 157.1,509.9 157.6,509.9 158.1,510 158.6,510 159.1,510.1 159.6,510.1 160.1,510.2 160.6,510.2 161.1,510.2 161.6,510.3 162.1,510.3 162.6,510.4 163.1,510.4 163.6,510.5 164.1,510.5 164.6,510.6 165.1,510.6 165.6,510.7 166.1,510.7 166.6,510.8 167.1,510.8 167.6,510.9 168.1,510.9 168.6,511 169.1,511 169.6,511.1 170.1,511.1 170.6,511.2 171.1,511.2 171.6,511.3 172.1,511.3 172.6,511.4 173.1,511.4 173.6,511.5 174.1,511.5 174.6,511.6 175.1,511.7 175.6,511.7 176.1,511.8 176.6,511.8 177.1,511.9 177.6,511.9 178.1,512 178.6,512.1 179.1,512.1 179.6,512.2 180.1,512.3 180.6,512.3 181.1,512.4 181.6,512.4 182.1,512.5 182.6,512.6 183.1,512.6 183.6,512.7 184.1,512.8 184.6,512.8 185.1,512.9 185.6,513 186.1,513 186.6,513.1 187.1,513.2 187.6,513.3 188.1,513.3 188.6,513.4 189.1,513.5 189.6,513.5 190.1,513.6 190.6,513.7 191.1,513.8 191.6,513.8 192.1,513.9 192.6,514 193.1,514.1 193.6,514.1 194.1,514.2 194.6,514.3 195.1,514.4 195.6,514.4 196.1,514.5 196.6,514.6 197.1,514.7 197.6,514.8 198.1,514.8 198.6,514.9 199.1,515 199.6,515.1 200.1,515.2 200.6,515.3 201.1,515.3 201.6,515.4 202.1,515.5 202.6,515.6 203.1,515.7 203.6,515.8 204.1,515.8 204.6,515.9 205.1,516 205.6,516.1 206.1,516.2 206.6,516.3 207.1,516.3 207.6,516.4 208.1,516.5 208.6,516.6 209.1,516.7 209.6,516.8 210.1,516.9 210.6,517 211.1,517 211.6,517.1 212.1,517.2 212.6,517.3 213.1,517.4 213.6,517.5 214.1,517.6 214.6,517.7 215.1,517.7 215.6,517.8 216.1,517.9 216.6,518 217.1,518.1 217.6,518.2 218.1,518.3 218.6,518.4 219.1,518.5 219.6,518.5 220.1,518.6 220.6,518.7 221.1,518.8 221.6,518.9 222.1,519 222.6,519.1 223.1,519.2 223.6,519.3 224.1,519.4 224.6,519.5 225.1,519.6 225.6,519.7 226.1,519.8 226.6,519.9 227.1,520 227.6,520.1 228.1,520.2 228.6,520.3 229.1,520.4 229.6,520.5 230.1,520.6 230.6,520.7 231.1,520.9 231.6,521 232.1,521.1 232.6,521.2 233.1,521.3 233.6,521.5 234.1,521.6 234.6,521.7 235.1,521.9 235.6,522 236.1,522.2 236.6,522.3 237.1,522.4 237.6,522.6 238.1,522.8 238.6,522.9 239.1,523.1 239.6,523.3 240.1,523.4 240.6,523.6 241.1,523.8 241.6,524 242.1,524.2 242.6,524.4 243.1,524.6 243.6,524.9 244.1,525.1 244.6,525.3 245.1,525.6 245.6,525.9 246.1,526.1 246.6,526.4 247.1,526.7 247.6,526.9 248.1,527.2 248.6,527.5 249.1,527.8 249.6,528.1 250.1,528.5 250.6,528.8 251.1,529.1 251.6,529.4 252.1,529.8 252.6,530.1 253.1,530.4 253.6,530.8 254.1,531.1 254.6,531.5 255.1,531.8 255.6,532.2 256.1,532.6 256.6,532.9 257.1,533.3 257.6,533.7 258.1,534.1 258.6,534.5 259.1,535 259.6,535.4 260.1,535.8 260.6,536.3 261.1,536.8 261.6,537.3 262.1,537.7 262.6,538.3 263.1,538.8 263.6,539.3 264.1,539.9 264.6,540.4 265.1,541 265.6,541.6 266.1,542.2 266.6,542.9 267.1,543.6 267.6,544.2 268.1,545 268.6,545.7 269.1,546.5 269.6,547.3 270.1,548.2 270.6,549.1 271.1,550.1 271.6,551.1 272.1,552.2 272.6,553.3 273.1,554.5 273.6,555.8 274.1,557.1 274.6,558.4 274.7,558.6 274.8,558.9 274.9,559.1 275,559.4 275.1,559.7 275.2,560 275.2,560.3 275.4,560.6 275.5,560.9 275.6,561.1 275.7,561.4 275.8,561.7 275.9,562 276,562.3 276.1,562.6 276.2,563 276.2,563.3 276.4,563.6 276.5,563.9 276.6,564.3 276.7,564.6 276.8,565 276.9,565.3 277,565.7 277.1,566.1 277.2,566.4 277.2,566.8 277.4,567.2 277.5,567.6 277.6,568 277.7,568.4 277.8,568.9 277.9,569.3 278,569.7 278.1,570.2 278.2,570.6 278.2,571.1 278.4,571.6 278.5,572 278.6,572.5 278.7,573 278.8,573.5 278.9,574.1 279,574.9 279.1,575.6 279.2,576.5 279.2,577.3 279.4,578.3 279.5,579.3 279.6,580.4 279.7,581.7 279.8,583 279.9,584.6 280,585 280.1,585 280.2,585 280.2,585 280.4,585 280.5,585 280.6,585 280.6,585 280.7,585 280.8,585 280.9,585 281,585 281.1,585 281.2,585 281.2,585 281.4,585 281.5,585 281.6,585 281.7,584.9 281.8,583.6 281.9,582.3 282,581.2 282.1,580.1 282.2,579.1 282.2,578.1 282.4,577.2 282.5,576.4 282.6,575.6 282.7,574.9 282.8,574.1 282.9,573.5 283,572.9 283.1,572.3 283.2,571.7 283.2,571.1 283.4,570.6 283.5,570.1 283.6,569.6 283.7,569.1 283.8,568.6 283.9,568.2 284,567.7 284.1,567.3 284.2,566.8 284.2,566.4 284.4,566 284.5,565.6 284.6,565.2 284.7,564.8 284.8,564.5 284.9,564.1 285,563.8 285.1,563.4 285.2,563.1 285.2,562.7 285.4,562.4 285.5,562.1 285.6,561.8 285.7,561.4 285.8,561.1 285.9,560.8 286,560.5 286.1,560.2 286.2,560 286.2,559.7 286.4,559.4 286.5,559.1 286.6,558.9 286.6,558.7 287.1,557.4 287.6,556.3 288.1,555.1 288.6,554.1 289.1,553.1 289.6,552.1 290.1,551.2 290.6,550.4 291.1,549.5 291.6,548.7 292.1,548 292.6,547.2 293.1,546.5 293.6,545.8 294.1,545.2 294.6,544.5 295.1,543.9 295.6,543.3 296.1,542.7 296.6,542.1 297.1,541.5 297.6,541 298.1,540.4 298.6,539.9 299.1,539.4 299.6,538.8 300.1,538.3 300.6,537.8 301.1,537.3 301.6,536.9 302.1,536.4 302.6,535.9 303.1,535.5 303.6,535 304.1,534.6 304.6,534.2 305.1,533.8 305.6,533.4 306.1,533 306.6,532.6 307.1,532.2 307.6,531.8 308.1,531.4 308.6,531.1 309.1,530.7 309.6,530.3 310.1,530 310.6,529.6 311.1,529.2 311.6,528.9 312.1,528.6 312.6,528.2 313.1,527.9 313.6,527.6 314.1,527.3 314.6,527 315.1,526.7 315.6,526.4 316.1,526.1 316.6,525.8 317.1,525.5 317.6,525.3 318.1,525 318.6,524.8 319.1,524.5 319.6,524.3 320.1,524.1 320.6,523.8 321.1,523.6 321.6,523.4 322.1,523.2 322.6,523 323.1,522.8 323.6,522.6 324.1,522.4 324.6,522.2 325.1,522 325.6,521.8 326.1,521.6 326.6,521.4 327.1,521.2 327.6,521 328.1,520.9 328.6,520.7 329.1,520.5 329.6,520.3 330.1,520.2 330.6,520 331.1,519.8 331.6,519.7 332.1,519.5 332.6,519.4 333.1,519.2 333.6,519.1 334.1,518.9 334.6,518.8 335.1,518.6 335.6,518.5 336.1,518.4 336.6,518.2 337.1,518.1 337.6,518 338.1,517.8 338.6,517.7 339.1,517.6 339.6,517.5 340.1,517.3 340.6,517.2 341.1,517.1 341.6,517 342.1,516.9 342.6,516.8 343.1,516.7 343.6,516.6 344.1,516.4 344.6,516.3 345.1,516.2 345.6,516.1 346.1,516 346.6,516 347.1,515.9 347.6,515.8 348.1,515.7 348.6,515.6 349.1,515.5 349.6,515.4 350.1,515.3 350.6,515.3 351.1,515.2 351.6,515.1 352.1,515 352.6,514.9 353.1,514.9 353.6,514.8 354.1,514.7 354.6,514.7 355.1,514.6 355.6,514.5 356.1,514.5 356.6,514.4 357.1,514.3 357.6,514.3 358.1,514.2 358.6,514.2 359.1,514.1 359.6,514.1 360.1,514 360.6,513.9 361.1,513.9 361.6,513.8 362.1,513.8 362.6,513.7 363.1,513.7 363.6,513.6 364.1,513.6 364.6,513.5 365.1,513.5 365.6,513.4 366.1,513.4 366.6,513.3 367.1,513.3 367.6,513.2 368.1,513.2 368.6,513.1 369.1,513.1 369.6,513 370.1,513 370.6,513 371.1,512.9 371.6,512.9 372.1,512.8 372.6,512.8 373.1,512.7 373.6,512.7 374.1,512.6 374.6,512.6 375.1,512.5 375.6,512.5 376.1,512.5 376.6,512.4 377.1,512.4 377.6,512.3 378.1,512.3 378.6,512.2 379.1,512.2 379.6,512.1 380.1,512.1 380.6,512 381.1,512 381.6,511.9 382.1,511.9 382.6,511.8 383.1,511.8 383.6,511.7 384.1,511.7 384.6,511.6 385.1,511.6 385.6,511.5 386.1,511.5 386.6,511.4 387.1,511.4 387.6,511.3 388.1,511.3 388.6,511.2 389.1,511.2 389.6,511.1 390.1,511.1 390.6,511 391.1,511 391.6,510.9 392.1,510.9 392.6,510.8 393.1,510.8 393.6,510.7 394.1,510.6 394.6,510.6 395.1,510.5 395.6,510.5 396.1,510.4 396.6,510.4 397.1,510.3 397.6,510.2 398.1,510.2 398.6,510.1 399.1,510.1 399.6,510 400.1,509.9 400.6,509.9 401.1,509.8 401.6,509.8 402.1,509.7 402.6,509.6 403.1,509.6 403.6,509.5 404.1,509.5 404.6,509.4 405.1,509.3 405.6,509.3 406.1,509.2 406.6,509.2 407.1,509.1 407.6,509 408.1,509 408.6,508.9 409.1,508.9 409.6,508.8 410.1,508.8 410.6,508.7 411.1,508.7 411.6,508.6 412.1,508.5 412.6,508.5 413.1,508.4 413.6,508.4 414.1,508.3 414.6,508.3 415.1,508.2 415.6,508.2 416.1,508.1 416.6,508.1 417.1,508 417.6,508 418.1,507.9 418.6,507.9 419.1,507.8 419.6,507.8 420.1,507.8 420.6,507.7 421.1,507.7 421.6,507.6 422.1,507.6 422.6,507.5 423.1,507.5 423.6,507.4 424.1,507.4 424.6,507.3 425.1,507.3 425.6,507.2 426.1,507.2 426.6,507.2 427.1,507.1 427.6,507.1 428.1,507 428.6,507 429.1,506.9 429.6,506.9 430.1,506.8 430.6,506.8 431.1,506.8 431.6,506.7 432.1,506.7 432.6,506.6 433.1,506.6 433.6,506.5 434.1,506.5 434.6,506.5 435.1,506.4 435.6,506.4 436.1,506.3 436.6,506.3 437.1,506.2 437.6,506.2 438.1,506.2 438.6,506.1 439.1,506.1 439.6,506 440.1,506 440.6,506 441.1,505.9 441.6,505.9 442.1,505.8 442.6,505.8 443.1,505.8 443.6,505.7 444.1,505.7 444.6,505.7 445.1,505.6 445.6,505.6 446.1,505.5 446.6,505.5 447.1,505.5 447.6,505.4 448.1,505.4 448.6,505.3 449.1,505.3 449.6,505.3 450.1,505.2 450.6,505.2 450.6,505.2"/>
<polyline fill="none" stroke="#2fae6e" stroke-width="5.4" stroke-linejoin="round" stroke-linecap="round" points="107.9,558.5 107.9,558.5 108.4,552.6 108.9,549.3 109.4,547 109.9,545.2 110.4,543.7 110.9,542.3 111.4,541 111.9,539.7 112.4,538.6 112.9,537.5 113.4,536.4 113.9,535.5 114.4,534.7 114.9,534 115.4,533.3 115.9,532.8 116.4,532.3 116.9,531.8 117.4,531.3 117.9,530.9 118.4,530.5 118.9,530.1 119.4,529.8 119.9,529.5 120.4,529.2 120.9,529 121.4,528.7 121.9,528.6 122.4,528.4 122.9,528.2 123.4,528.1 123.9,527.9 124.4,527.8 124.9,527.7 125.4,527.5 125.9,527.4 126.4,527.3 126.9,527.2 127.4,527 127.9,526.9 128.4,526.9 128.9,526.8 129.4,526.7 129.9,526.6 130.4,526.6 130.9,526.5 131.4,526.5 131.9,526.5 132.4,526.5 132.9,526.5 133.4,526.5 133.9,526.5 134.4,526.5 134.9,526.5 135.4,526.5 135.9,526.5 136.4,526.5 136.9,526.5 137.4,526.5 137.9,526.5 138.4,526.5 138.9,526.5 139.4,526.5 139.9,526.5 140.4,526.5 140.9,526.5 141.4,526.5 141.9,526.5 142.4,526.5 142.9,526.5 143.4,526.5 143.9,526.5 144.4,526.5 144.9,526.5 145.4,526.5 145.9,526.5 146.4,526.5 146.9,526.5 147.4,526.5 147.9,526.5 148.4,526.5 148.9,526.5 149.4,526.5 149.9,526.6 150.4,526.6 150.9,526.6 151.4,526.6 151.9,526.7 152.4,526.7 152.9,526.7 153.4,526.8 153.9,526.8 154.4,526.9 154.9,526.9 155.4,526.9 155.9,527 156.4,527 156.9,527.1 157.4,527.1 157.9,527.2 158.4,527.2 158.9,527.3 159.4,527.4 159.9,527.4 160.4,527.5 160.9,527.5 161.4,527.6 161.9,527.7 162.4,527.7 162.9,527.8 163.4,527.8 163.9,527.9 164.4,528 164.9,528 165.4,528.1 165.9,528.1 166.4,528.2 166.9,528.3 167.4,528.3 167.9,528.4 168.4,528.4 168.9,528.5 169.4,528.5 169.9,528.6 170.4,528.6 170.9,528.7 171.4,528.7 171.9,528.8 172.4,528.8 172.9,528.9 173.4,528.9 173.9,529 174.4,529 174.9,529.1 175.4,529.1 175.9,529.2 176.4,529.2 176.9,529.3 177.4,529.3 177.9,529.4 178.4,529.4 178.9,529.5 179.4,529.5 179.9,529.6 180.4,529.6 180.9,529.7 181.4,529.7 181.9,529.8 182.4,529.8 182.9,529.9 183.4,529.9 183.9,530 184.4,530 184.9,530.1 185.4,530.1 185.9,530.2 186.4,530.2 186.9,530.3 187.4,530.4 187.9,530.4 188.4,530.5 188.9,530.5 189.4,530.6 189.9,530.6 190.4,530.7 190.9,530.7 191.4,530.8 191.9,530.8 192.4,530.9 192.9,531 193.4,531 193.9,531.1 194.4,531.1 194.9,531.2 195.4,531.2 195.9,531.3 196.4,531.4 196.9,531.4 197.4,531.5 197.9,531.5 198.4,531.6 198.9,531.7 199.4,531.7 199.9,531.8 200.4,531.8 200.9,531.9 201.4,532 201.9,532 202.4,532.1 202.9,532.2 203.4,532.2 203.9,532.3 204.4,532.4 204.9,532.4 205.4,532.5 205.9,532.6 206.4,532.6 206.9,532.7 207.4,532.8 207.9,532.8 208.4,532.9 208.9,533 209.4,533.1 209.9,533.1 210.4,533.2 210.9,533.3 211.4,533.3 211.9,533.4 212.4,533.5 212.9,533.6 213.4,533.6 213.9,533.7 214.4,533.8 214.9,533.9 215.4,533.9 215.9,534 216.4,534.1 216.9,534.2 217.4,534.2 217.9,534.3 218.4,534.4 218.9,534.5 219.4,534.6 219.9,534.6 220.4,534.7 220.9,534.8 221.4,534.9 221.9,535 222.4,535 222.9,535.1 223.4,535.2 223.9,535.3 224.4,535.4 224.9,535.5 225.4,535.5 225.9,535.6 226.4,535.7 226.9,535.8 227.4,535.9 227.9,536 228.4,536.1 228.9,536.2 229.4,536.3 229.9,536.4 230.4,536.5 230.9,536.6 231.4,536.7 231.9,536.8 232.4,536.9 232.9,537 233.4,537.2 233.9,537.3 234.4,537.4 234.9,537.5 235.4,537.7 235.9,537.8 236.4,537.9 236.9,538.1 237.4,538.2 237.9,538.3 238.4,538.5 238.9,538.6 239.4,538.8 239.9,539 240.4,539.1 240.9,539.3 241.4,539.5 241.9,539.7 242.4,539.9 242.9,540.1 243.4,540.3 243.9,540.6 244.4,540.8 244.9,541 245.4,541.3 245.9,541.5 246.4,541.8 246.9,542.1 247.4,542.4 247.9,542.7 248.4,543 248.9,543.3 249.4,543.6 249.9,543.9 250.4,544.2 250.9,544.6 251.4,544.9 251.9,545.2 252.4,545.6 252.9,545.9 253.4,546.2 253.9,546.6 254.4,546.9 254.9,547.3 255.4,547.6 255.9,548 256.4,548.4 256.9,548.8 257.4,549.1 257.9,549.5 258.4,549.9 258.9,550.3 259.4,550.8 259.9,551.2 260.4,551.6 260.9,552.1 261.4,552.5 261.9,553 262.4,553.5 262.9,554 263.4,554.5 263.9,555.1 264.4,555.6 264.9,556.2 265.4,556.8 265.9,557.4 266.4,558.1 266.9,558.8 267.4,559.5 267.9,560.2 268.4,561 268.9,561.8 269.4,562.7 269.9,563.7 270.4,564.7 270.9,565.8 271.4,567 271.9,568.2 272.4,569.5 272.9,570.8 273.4,572.1 273.9,573.5 274.4,574.9 274.4,575.1 274.5,575.4 274.6,575.7 274.8,576 274.8,576.3 274.9,576.6 275,576.9 275.1,577.2 275.2,577.5 275.3,577.8 275.4,578.2 275.5,578.5 275.6,578.9 275.8,579.2 275.8,579.5 275.9,579.9 276,580.3 276.1,580.6 276.2,581 276.3,581.4 276.4,581.7 276.5,582.1 276.6,582.5 276.8,582.9 276.8,583.3 276.9,583.7 277,584.1 277.1,584.5 277.2,585 277.3,585.4 277.4,585.8 277.5,586.3 277.6,586.8 277.8,587.3 277.8,587.9 277.9,588.6 278,589.2 278.1,589.9 278.2,590.6 278.3,591.3 278.4,592.1 278.5,592.9 278.6,593.7 278.8,594.6 278.8,595.6 278.9,596.6 279,597.7 279.1,598.5 279.2,598.5 279.3,598.5 279.4,598.5 279.5,598.5 279.6,598.5 279.8,598.5 279.8,598.5 279.9,598.5 280,598.5 280.1,598.5 280.2,598.5 280.3,598.5 280.4,598.5 280.4,598.5 280.5,598.5 280.6,598.5 280.8,598.5 280.8,598.5 280.9,598.5 281,598.5 281.1,598.5 281.2,598.5 281.3,598.5 281.4,598.5 281.5,598.5 281.6,598.5 281.8,598.5 281.8,598.5 281.9,597.6 282,596.6 282.1,595.6 282.2,594.8 282.3,593.9 282.4,593.1 282.5,592.4 282.6,591.7 282.8,591 282.8,590.3 282.9,589.7 283,589.1 283.1,588.5 283.2,588 283.3,587.5 283.4,586.9 283.5,586.4 283.6,586 283.8,585.5 283.8,585 283.9,584.6 284,584.1 284.1,583.7 284.2,583.3 284.3,582.9 284.4,582.5 284.5,582.1 284.6,581.8 284.8,581.4 284.8,581 284.9,580.7 285,580.3 285.1,580 285.2,579.7 285.3,579.3 285.4,579 285.5,578.7 285.6,578.4 285.8,578.1 285.8,577.8 285.9,577.5 286,577.2 286.1,576.9 286.2,576.7 286.3,576.4 286.4,576.2 286.9,574.9 287.4,573.7 287.9,572.6 288.4,571.6 288.9,570.6 289.4,569.7 289.9,568.8 290.4,568 290.9,567.2 291.4,566.4 291.9,565.6 292.4,564.9 292.9,564.2 293.4,563.6 293.9,562.9 294.4,562.3 294.9,561.7 295.4,561.1 295.9,560.5 296.4,559.9 296.9,559.4 297.4,558.8 297.9,558.3 298.4,557.8 298.9,557.2 299.4,556.7 299.9,556.2 300.4,555.7 300.9,555.3 301.4,554.8 301.9,554.3 302.4,553.9 302.9,553.4 303.4,553 303.9,552.6 304.4,552.2 304.9,551.8 305.4,551.4 305.9,551 306.4,550.6 306.9,550.3 307.4,549.9 307.9,549.5 308.4,549.2 308.9,548.9 309.4,548.5 309.9,548.2 310.4,547.9 310.9,547.5 311.4,547.2 311.9,546.9 312.4,546.6 312.9,546.3 313.4,546 313.9,545.7 314.4,545.4 314.9,545.2 315.4,544.9 315.9,544.6 316.4,544.4 316.9,544.1 317.4,543.8 317.9,543.6 318.4,543.4 318.9,543.1 319.4,542.9 319.9,542.6 320.4,542.4 320.9,542.2 321.4,542 321.9,541.7 322.4,541.5 322.9,541.3 323.4,541.1 323.9,540.9 324.4,540.7 324.9,540.5 325.4,540.3 325.9,540.1 326.4,539.9 326.9,539.7 327.4,539.5 327.9,539.3 328.4,539.1 328.9,538.9 329.4,538.7 329.9,538.5 330.4,538.3 330.9,538.2 331.4,538 331.9,537.8 332.4,537.6 332.9,537.5 333.4,537.3 333.9,537.1 334.4,537 334.9,536.8 335.4,536.7 335.9,536.5 336.4,536.3 336.9,536.2 337.4,536 337.9,535.9 338.4,535.8 338.9,535.6 339.4,535.5 339.9,535.3 340.4,535.2 340.9,535.1 341.4,534.9 341.9,534.8 342.4,534.7 342.9,534.6 343.4,534.4 343.9,534.3 344.4,534.2 344.9,534.1 345.4,534 345.9,533.9 346.4,533.8 346.9,533.7 347.4,533.6 347.9,533.5 348.4,533.4 348.9,533.3 349.4,533.2 349.9,533.1 350.4,533 350.9,532.9 351.4,532.8 351.9,532.7 352.4,532.6 352.9,532.5 353.4,532.4 353.9,532.4 354.4,532.3 354.9,532.2 355.4,532.1 355.9,532 356.4,532 356.9,531.9 357.4,531.8 357.9,531.7 358.4,531.7 358.9,531.6 359.4,531.5 359.9,531.4 360.4,531.4 360.9,531.3 361.4,531.2 361.9,531.2 362.4,531.1 362.9,531 363.4,531 363.9,530.9 364.4,530.8 364.9,530.8 365.4,530.7 365.9,530.6 366.4,530.6 366.9,530.5 367.4,530.5 367.9,530.4 368.4,530.3 368.9,530.3 369.4,530.2 369.9,530.2 370.4,530.1 370.9,530 371.4,530 371.9,529.9 372.4,529.9 372.9,529.8 373.4,529.8 373.9,529.7 374.4,529.7 374.9,529.6 375.4,529.6 375.9,529.5 376.4,529.5 376.9,529.4 377.4,529.4 377.9,529.3 378.4,529.3 378.9,529.2 379.4,529.2 379.9,529.1 380.4,529.1 380.9,529 381.4,529 381.9,528.9 382.4,528.9 382.9,528.8 383.4,528.8 383.9,528.7 384.4,528.7 384.9,528.6 385.4,528.6 385.9,528.6 386.4,528.5 386.9,528.5 387.4,528.4 387.9,528.4 388.4,528.3 388.9,528.3 389.4,528.3 389.9,528.2 390.4,528.2 390.9,528.1 391.4,528.1 391.9,528 392.4,528 392.9,528 393.4,527.9 393.9,527.9 394.4,527.9 394.9,527.8 395.4,527.8 395.9,527.8 396.4,527.7 396.9,527.7 397.4,527.6 397.9,527.6 398.4,527.6 398.9,527.5 399.4,527.5 399.9,527.5 400.4,527.5 400.9,527.4 401.4,527.4 401.9,527.4 402.4,527.3 402.9,527.3 403.4,527.3 403.9,527.2 404.4,527.2 404.9,527.2 405.4,527.1 405.9,527.1 406.4,527.1 406.9,527 407.4,527 407.9,527 408.4,526.9 408.9,526.9 409.4,526.9 409.9,526.8 410.4,526.8 410.9,526.8 411.4,526.7 411.9,526.7 412.4,526.7 412.9,526.6 413.4,526.6 413.9,526.5 414.4,526.5 414.9,526.5 415.4,526.4 415.9,526.4 416.4,526.4 416.9,526.3 417.4,526.3 417.9,526.2 418.4,526.2 418.9,526.2 419.4,526.1 419.9,526.1 420.4,526 420.9,526 421.4,526 421.9,525.9 422.4,525.9 422.9,525.8 423.4,525.8 423.9,525.8 424.4,525.7 424.9,525.7 425.4,525.6 425.9,525.6 426.4,525.5 426.9,525.5 427.4,525.5 427.9,525.4 428.4,525.4 428.9,525.3 429.4,525.3 429.9,525.2 430.4,525.2 430.9,525.2 431.4,525.1 431.9,525.1 432.4,525 432.9,525 433.4,524.9 433.9,524.9 434.4,524.9 434.9,524.8 435.4,524.8 435.9,524.7 436.4,524.7 436.9,524.6 437.4,524.6 437.9,524.5 438.4,524.5 438.9,524.5 439.4,524.4 439.9,524.4 440.4,524.3 440.9,524.3 441.4,524.2 441.9,524.2 442.4,524.1 442.9,524.1 443.4,524.1 443.9,524 444.4,524 444.9,523.9 445.4,523.9 445.9,523.8 446.4,523.8 446.9,523.7 447.4,523.7 447.9,523.6 448.4,523.6 448.9,523.6 449.4,523.5 449.9,523.5 450.4,523.4 450.6,523.4"/>
<polyline fill="none" stroke="#b47be6" stroke-width="5.4" stroke-linejoin="round" stroke-linecap="round" points="107.9,584.5 108,584.4 108.5,583.6 109,582.9 109.5,582.1 110,581.4 110.5,580.7 111,580 111.5,579.3 112,578.7 112.5,578 113,577.4 113.5,576.8 114,576.2 114.5,575.6 115,575 115.5,574.5 116,574 116.5,573.5 117,573 117.5,572.5 118,572.1 118.5,571.6 119,571.1 119.5,570.7 120,570.3 120.5,569.8 121,569.4 121.5,569 122,568.6 122.5,568.2 123,567.8 123.5,567.5 124,567.1 124.5,566.7 125,566.4 125.5,566 126,565.7 126.5,565.4 127,565 127.5,564.7 128,564.4 128.5,564.1 129,563.8 129.5,563.5 130,563.2 130.5,562.9 131,562.6 131.5,562.3 132,562 132.5,561.7 133,561.5 133.5,561.2 134,561 134.5,560.7 135,560.5 135.5,560.3 136,560 136.5,559.8 137,559.6 137.5,559.4 138,559.2 138.5,559 139,558.8 139.5,558.5 140,558.3 140.5,558.1 141,557.9 141.5,557.7 142,557.5 142.5,557.3 143,557.1 143.5,556.9 144,556.7 144.5,556.5 145,556.4 145.5,556.2 146,556 146.5,555.8 147,555.6 147.5,555.4 148,555.3 148.5,555.1 149,554.9 149.5,554.8 150,554.6 150.5,554.4 151,554.3 151.5,554.1 152,554 152.5,553.8 153,553.7 153.5,553.5 154,553.4 154.5,553.3 155,553.1 155.5,553 156,552.9 156.5,552.8 157,552.7 157.5,552.6 158,552.5 158.5,552.4 159,552.3 159.5,552.2 160,552.1 160.5,552 161,551.9 161.5,551.8 162,551.7 162.5,551.6 163,551.6 163.5,551.5 164,551.4 164.5,551.3 165,551.3 165.5,551.2 166,551.1 166.5,551 167,551 167.5,550.9 168,550.8 168.5,550.7 169,550.7 169.5,550.6 170,550.5 170.5,550.4 171,550.3 171.5,550.3 172,550.2 172.5,550.1 173,550 173.5,549.9 174,549.9 174.5,549.8 175,549.7 175.5,549.6 176,549.5 176.5,549.4 177,549.4 177.5,549.3 178,549.2 178.5,549.1 179,549.1 179.5,549 180,548.9 180.5,548.8 181,548.8 181.5,548.7 182,548.6 182.5,548.6 183,548.5 183.5,548.4 184,548.4 184.5,548.3 185,548.3 185.5,548.3 186,548.2 186.5,548.2 187,548.1 187.5,548.1 188,548 188.5,548 189,547.9 189.5,547.9 190,547.9 190.5,547.8 191,547.8 191.5,547.7 192,547.7 192.5,547.7 193,547.6 193.5,547.6 194,547.6 194.5,547.6 195,547.5 195.5,547.5 196,547.5 196.5,547.5 197,547.5 197.5,547.5 198,547.5 198.5,547.5 199,547.5 199.5,547.5 200,547.5 200.5,547.5 201,547.5 201.5,547.6 202,547.6 202.5,547.6 203,547.6 203.5,547.6 204,547.6 204.5,547.7 205,547.7 205.5,547.7 206,547.7 206.5,547.7 207,547.8 207.5,547.8 208,547.8 208.5,547.8 209,547.9 209.5,547.9 210,547.9 210.5,547.9 211,548 211.5,548 212,548.1 212.5,548.1 213,548.2 213.5,548.3 214,548.3 214.5,548.4 215,548.5 215.5,548.5 216,548.6 216.5,548.7 217,548.8 217.5,548.9 218,549 218.5,549.1 219,549.2 219.5,549.3 220,549.4 220.5,549.5 221,549.6 221.5,549.7 222,549.8 222.5,550 223,550.1 223.5,550.2 224,550.3 224.5,550.4 225,550.5 225.5,550.6 226,550.7 226.5,550.8 227,550.9 227.5,551 228,551.2 228.5,551.3 229,551.4 229.5,551.5 230,551.6 230.5,551.8 231,551.9 231.5,552 232,552.1 232.5,552.3 233,552.4 233.5,552.5 234,552.7 234.5,552.8 235,553 235.5,553.1 236,553.3 236.5,553.4 237,553.6 237.5,553.7 238,553.9 238.5,554.1 239,554.2 239.5,554.4 240,554.6 240.5,554.8 241,555 241.5,555.2 242,555.4 242.5,555.6 243,555.8 243.5,556 244,556.3 244.5,556.5 245,556.8 245.5,557 246,557.3 246.5,557.5 247,557.8 247.5,558.1 248,558.4 248.5,558.7 249,558.9 249.5,559.3 250,559.6 250.5,559.9 251,560.2 251.5,560.5 252,560.9 252.5,561.2 253,561.5 253.5,561.9 254,562.3 254.5,562.6 255,563 255.5,563.4 256,563.8 256.5,564.2 257,564.6 257.5,565 258,565.4 258.5,565.9 259,566.3 259.5,566.8 260,567.3 260.5,567.8 261,568.3 261.5,568.8 262,569.4 262.5,569.9 263,570.5 263.5,571.1 264,571.7 264.5,572.4 265,573.1 265.5,573.8 266,574.6 266.5,575.4 267,576.2 267.5,577.1 268,578.1 268.5,579.1 269,580.1 269.5,581.2 270,582.3 270.5,583.5 271,584.6 271.5,585.8 272,587 272.5,588.3 272.6,588.4 272.6,588.7 272.8,589 272.9,589.3 272.9,589.5 273.1,589.8 273.1,590.1 273.2,590.4 273.4,590.7 273.4,591 273.6,591.3 273.6,591.6 273.8,591.9 273.9,592.2 273.9,592.5 274.1,592.8 274.1,593.2 274.2,593.5 274.4,593.8 274.4,594.2 274.6,594.5 274.6,594.8 274.8,595.2 274.9,595.5 274.9,595.9 275.1,596.2 275.1,596.6 275.2,597 275.4,597.3 275.4,597.7 275.6,598.1 275.6,598.6 275.8,599.2 275.9,599.7 275.9,600.2 276.1,600.8 276.1,601.4 276.2,602 276.4,602.7 276.4,603.4 276.6,604.1 276.6,604.9 276.8,605.7 276.9,606.5 276.9,607.4 277.1,607.5 277.1,607.5 277.2,607.5 277.4,607.5 277.4,607.5 277.6,607.5 277.6,607.5 277.8,607.5 277.9,607.5 277.9,607.5 278.1,607.5 278.1,607.5 278.2,607.5 278.4,607.5 278.4,607.5 278.5,607.5 278.6,607.5 278.6,607.5 278.8,607.5 278.9,607.5 278.9,607.5 279.1,607.5 279.1,607.5 279.2,607.5 279.4,607.5 279.4,607.5 279.6,607.5 279.6,607.5 279.8,607.5 279.9,607.5 279.9,607.5 280.1,607.5 280.1,607.5 280.2,607.5 280.4,607.5 280.4,607.4 280.6,607 280.6,606.7 280.8,606.4 280.9,606.1 280.9,605.8 281.1,605.5 281.1,605.2 281.2,604.9 281.4,604.7 281.4,604.4 281.6,604.2 281.6,604 281.8,603.8 281.9,603.5 281.9,603.3 282.1,603.1 282.1,602.9 282.2,602.7 282.4,602.5 282.4,602.4 282.6,602.2 282.6,602.1 282.8,602 282.9,601.9 282.9,601.8 283.1,601.7 283.1,601.6 283.2,601.5 283.4,601.4 283.4,601.3 283.6,601.2 283.6,601.1 283.8,601 283.9,600.9 283.9,600.7 284.1,600.6 284.1,600.5 284.2,600.4 284.4,600.3 284.4,600.2 284.5,600.1 285,599.6 285.5,599 286,598.5 286.5,597.9 287,597.4 287.5,596.9 288,596.4 288.5,596 289,595.5 289.5,595.1 290,594.7 290.5,594.2 291,593.8 291.5,593.3 292,592.9 292.5,592.4 293,592 293.5,591.5 294,591.1 294.5,590.7 295,590.2 295.5,589.8 296,589.3 296.5,588.9 297,588.4 297.5,588 298,587.5 298.5,587 299,586.6 299.5,586.1 300,585.6 300.5,585.1 301,584.6 301.5,584.1 302,583.6 302.5,583.2 303,582.7 303.5,582.2 304,581.8 304.5,581.3 305,580.9 305.5,580.4 306,580 306.5,579.6 307,579.2 307.5,578.7 308,578.3 308.5,577.9 309,577.5 309.5,577.1 310,576.7 310.5,576.3 311,575.9 311.5,575.5 312,575.1 312.5,574.7 313,574.3 313.5,573.9 314,573.5 314.5,573.2 315,572.8 315.5,572.5 316,572.1 316.5,571.8 317,571.4 317.5,571.1 318,570.8 318.5,570.4 319,570.1 319.5,569.8 320,569.5 320.5,569.2 321,568.9 321.5,568.6 322,568.3 322.5,568 323,567.8 323.5,567.5 324,567.2 324.5,566.9 325,566.7 325.5,566.4 326,566.1 326.5,565.9 327,565.6 327.5,565.4 328,565.1 328.5,564.9 329,564.6 329.5,564.4 330,564.1 330.5,563.9 331,563.6 331.5,563.4 332,563.2 332.5,563 333,562.7 333.5,562.5 334,562.3 334.5,562.1 335,561.9 335.5,561.6 336,561.4 336.5,561.2 337,561 337.5,560.8 338,560.6 338.5,560.4 339,560.2 339.5,560 340,559.8 340.5,559.6 341,559.5 341.5,559.3 342,559.1 342.5,558.9 343,558.7 343.5,558.5 344,558.4 344.5,558.2 345,558 345.5,557.9 346,557.7 346.5,557.5 347,557.4 347.5,557.2 348,557 348.5,556.9 349,556.7 349.5,556.6 350,556.4 350.5,556.3 351,556.1 351.5,556 352,555.8 352.5,555.6 353,555.5 353.5,555.3 354,555.2 354.5,555 355,554.9 355.5,554.8 356,554.6 356.5,554.5 357,554.3 357.5,554.2 358,554 358.5,553.9 359,553.7 359.5,553.6 360,553.5 360.5,553.3 361,553.2 361.5,553.1 362,552.9 362.5,552.8 363,552.7 363.5,552.5 364,552.4 364.5,552.3 365,552.1 365.5,552 366,551.9 366.5,551.8 367,551.6 367.5,551.5 368,551.4 368.5,551.3 369,551.2 369.5,551 370,550.9 370.5,550.8 371,550.7 371.5,550.6 372,550.5 372.5,550.4 373,550.3 373.5,550.2 374,550.1 374.5,550 375,549.9 375.5,549.8 376,549.7 376.5,549.6 377,549.5 377.5,549.4 378,549.3 378.5,549.2 379,549.1 379.5,549 380,548.9 380.5,548.8 381,548.8 381.5,548.7 382,548.6 382.5,548.5 383,548.4 383.5,548.4 384,548.3 384.5,548.2 385,548.1 385.5,548.1 386,548 386.5,547.9 387,547.9 387.5,547.8 388,547.7 388.5,547.7 389,547.6 389.5,547.6 390,547.5 390.5,547.4 391,547.4 391.5,547.3 392,547.3 392.5,547.2 393,547.2 393.5,547.1 394,547.1 394.5,547 395,547 395.5,547 396,546.9 396.5,546.9 397,546.8 397.5,546.8 398,546.8 398.5,546.7 399,546.7 399.5,546.6 400,546.6 400.5,546.6 401,546.5 401.5,546.5 402,546.5 402.5,546.4 403,546.4 403.5,546.4 404,546.3 404.5,546.3 405,546.3 405.5,546.2 406,546.2 406.5,546.2 407,546.1 407.5,546.1 408,546 408.5,546 409,546 409.5,545.9 410,545.9 410.5,545.8 411,545.8 411.5,545.8 412,545.7 412.5,545.7 413,545.6 413.5,545.6 414,545.5 414.5,545.5 415,545.5 415.5,545.4 416,545.4 416.5,545.3 417,545.3 417.5,545.2 418,545.2 418.5,545.1 419,545.1 419.5,545 420,545 420.5,544.9 421,544.9 421.5,544.8 422,544.8 422.5,544.7 423,544.6 423.5,544.6 424,544.5 424.5,544.5 425,544.4 425.5,544.4 426,544.3 426.5,544.3 427,544.2 427.5,544.2 428,544.1 428.5,544 429,544 429.5,543.9 430,543.9 430.5,543.8 431,543.8 431.5,543.7 432,543.6 432.5,543.6 433,543.5 433.5,543.5 434,543.4 434.5,543.4 435,543.3 435.5,543.2 436,543.2 436.5,543.1 437,543.1 437.5,543 438,542.9 438.5,542.9 439,542.8 439.5,542.8 440,542.7 440.5,542.6 441,542.6 441.5,542.5 442,542.5 442.5,542.4 443,542.3 443.5,542.3 444,542.2 444.5,542.2 445,542.1 445.5,542 446,542 446.5,541.9 447,541.8 447.5,541.8 448,541.7 448.5,541.7 449,541.6 449.5,541.5 450,541.5 450.5,541.4 450.6,541.4"/>
<polyline fill="none" stroke="#cf9a0e" stroke-width="5.4" stroke-linejoin="round" stroke-linecap="round" points="107.9,597.3 108.3,597.2 108.7,597.2 109.1,597.1 109.5,597.1 109.9,597 110.3,597 110.7,596.9 111.1,596.8 111.5,596.8 111.9,596.7 112.3,596.7 112.7,596.6 113.1,596.6 113.5,596.5 113.9,596.4 114.3,596.4 114.7,596.3 115.1,596.3 115.5,596.2 115.9,596.2 116.3,596.1 116.7,596 117.1,596 117.5,595.9 117.9,595.9 118.3,595.8 118.7,595.8 119.1,595.7 119.5,595.7 119.9,595.6 120.3,595.5 120.7,595.5 121.1,595.4 121.5,595.4 121.9,595.3 122.3,595.3 122.7,595.2 123.1,595.2 123.5,595.1 123.9,595.1 124.3,595 124.7,594.9 125.1,594.9 125.5,594.8 125.9,594.8 126.3,594.7 126.7,594.7 127.1,594.6 127.5,594.6 127.9,594.5 128.3,594.5 128.7,594.4 129.1,594.3 129.5,594.3 129.9,594.2 130.3,594.2 130.7,594.1 131.1,594.1 131.5,594 131.9,594 132.3,593.9 132.7,593.9 133.1,593.8 133.5,593.8 133.9,593.7 134.3,593.7 134.7,593.6 135.1,593.6 135.5,593.5 135.9,593.5 136.3,593.4 136.7,593.3 137.1,593.3 137.5,593.2 137.9,593.2 138.3,593.1 138.7,593.1 139.1,593 139.5,593 139.9,592.9 140.3,592.9 140.7,592.8 141.1,592.8 141.5,592.7 141.9,592.7 142.3,592.6 142.7,592.6 143.1,592.5 143.5,592.5 143.9,592.4 144.3,592.4 144.7,592.3 145.1,592.3 145.5,592.2 145.9,592.2 146.3,592.1 146.7,592.1 147.1,592 147.5,592 147.9,591.9 148.3,591.9 148.7,591.8 149.1,591.8 149.5,591.7 149.9,591.6 150.3,591.6 150.7,591.5 151.1,591.5 151.5,591.4 151.9,591.4 152.3,591.3 152.7,591.3 153.1,591.2 153.5,591.2 153.9,591.1 154.3,591.1 154.7,591 155.1,591 155.5,590.9 155.9,590.9 156.3,590.8 156.7,590.8 157.1,590.7 157.5,590.7 157.9,590.6 158.3,590.6 158.7,590.6 159.1,590.5 159.5,590.5 159.9,590.4 160.3,590.4 160.7,590.3 161.1,590.3 161.5,590.2 161.9,590.2 162.3,590.1 162.7,590.1 163.1,590 163.5,590 163.9,589.9 164.3,589.9 164.7,589.8 165.1,589.8 165.5,589.7 165.9,589.7 166.3,589.6 166.7,589.6 167.1,589.6 167.5,589.5 167.9,589.5 168.3,589.4 168.7,589.4 169.1,589.3 169.5,589.3 169.9,589.2 170.3,589.2 170.7,589.1 171.1,589.1 171.5,589.1 171.9,589 172.3,589 172.7,588.9 173.1,588.9 173.5,588.8 173.9,588.8 174.3,588.7 174.7,588.7 175.1,588.7 175.5,588.6 175.9,588.6 176.3,588.5 176.7,588.5 177.1,588.5 177.5,588.4 177.9,588.4 178.3,588.3 178.7,588.3 179.1,588.2 179.5,588.2 179.9,588.2 180.3,588.1 180.7,588.1 181.1,588 181.5,588 181.9,588 182.3,587.9 182.7,587.9 183.1,587.8 183.5,587.8 183.9,587.8 184.3,587.7 184.7,587.7 185.1,587.6 185.5,587.6 185.9,587.6 186.3,587.5 186.7,587.5 187.1,587.4 187.5,587.4 187.9,587.4 188.3,587.3 188.7,587.3 189.1,587.2 189.5,587.2 189.9,587.2 190.3,587.1 190.7,587.1 191.1,587 191.5,587 191.9,587 192.3,586.9 192.7,586.9 193.1,586.8 193.5,586.8 193.9,586.8 194.3,586.7 194.7,586.7 195.1,586.7 195.5,586.6 195.9,586.6 196.3,586.5 196.7,586.5 197.1,586.5 197.5,586.4 197.9,586.4 198.3,586.4 198.7,586.3 199.1,586.3 199.5,586.2 199.9,586.2 200.3,586.2 200.7,586.1 201.1,586.1 201.5,586.1 201.9,586 202.3,586 202.7,586 203.1,585.9 203.5,585.9 203.9,585.9 204.3,585.8 204.7,585.8 205.1,585.8 205.5,585.7 205.9,585.7 206.3,585.7 206.7,585.6 207.1,585.6 207.5,585.6 207.9,585.5 208.3,585.5 208.7,585.5 209.1,585.4 209.5,585.4 209.9,585.4 210.3,585.3 210.7,585.3 211.1,585.3 211.5,585.2 211.9,585.2 212.3,585.2 212.7,585.1 213.1,585.1 213.5,585.1 213.9,585 214.3,585 214.7,585 215.1,585 215.5,584.9 215.9,584.9 216.3,584.9 216.7,584.8 217.1,584.8 217.5,584.8 217.9,584.8 218.3,584.7 218.7,584.7 219.1,584.7 219.5,584.7 219.9,584.6 220.3,584.6 220.7,584.6 221.1,584.5 221.5,584.5 221.9,584.5 222.3,584.4 222.7,584.4 223.1,584.4 223.5,584.4 223.9,584.3 224.3,584.3 224.7,584.3 225.1,584.2 225.5,584.2 225.9,584.2 226.3,584.1 226.7,584.1 227.1,584.1 227.5,584.1 227.9,584 228.3,584 228.7,584 229.1,583.9 229.5,583.9 229.9,583.9 230.3,583.9 230.7,583.8 231.1,583.8 231.5,583.8 231.9,583.8 232.3,583.7 232.7,583.7 233.1,583.7 233.5,583.7 233.9,583.7 234.3,583.6 234.7,583.6 235.1,583.6 235.5,583.6 235.9,583.6 236.3,583.6 236.7,583.5 237.1,583.5 237.5,583.5 237.9,583.5 238.3,583.5 238.7,583.5 239.1,583.5 239.5,583.5 239.9,583.5 240.3,583.5 240.7,583.5 241.1,583.5 241.5,583.5 241.9,583.5 242.3,583.5 242.7,583.5 243.1,583.5 243.5,583.5 243.9,583.5 244.3,583.5 244.7,583.5 245.1,583.5 245.5,583.5 245.9,583.5 246.3,583.5 246.7,583.5 247.1,583.5 247.5,583.6 247.9,583.6 248.3,583.6 248.7,583.6 249.1,583.6 249.5,583.6 249.9,583.6 250.3,583.6 250.7,583.6 251.1,583.6 251.5,583.6 251.9,583.6 252.3,583.6 252.7,583.7 253.1,583.7 253.5,583.7 253.9,583.7 254.3,583.7 254.7,583.7 255.1,583.8 255.5,583.8 255.9,583.9 256.3,583.9 256.7,584 257.1,584.1 257.5,584.2 257.9,584.4 258.3,584.5 258.7,584.6 259.1,584.8 259.5,584.9 259.9,585.1 260.3,585.3 260.7,585.4 261.1,585.6 261.5,585.8 261.9,586 262.3,586.2 262.7,586.4 263.1,586.6 263.5,586.9 263.9,587.1 264.3,587.3 264.7,587.6 265.1,587.9 265.5,588.2 265.9,588.6 266.3,589 266.7,589.4 267.1,589.9 267.5,590.4 267.9,590.9 268.3,591.4 268.7,592 269.1,592.5 269.5,593.1 269.9,593.8 270.3,594.4 270.7,595.2 271.1,596.1 271.5,597 271.9,598 272.3,599 272.7,600 273.1,601.1 273.5,602.2 273.9,603.2 274.3,604.4 274.7,605.7 275.1,607.1 275.5,608.4 275.9,609.7 276.3,610.6 276.7,611.3 277.1,611.9 277.5,612.5 277.9,612.9 278.3,613 278.7,613 279.1,612.9 279.5,612.8 279.9,612.7 280.3,612.6 280.7,612.5 281.1,612.4 281.5,612.2 281.9,612.1 282.3,611.9 282.7,611.7 283.1,611.4 283.5,611.2 283.9,611 284.3,610.9 284.7,610.7 285.1,610.6 285.5,610.6 285.9,610.6 286.3,610.7 286.7,610.7 287.1,610.8 287.5,610.9 287.9,611.1 288.3,611.2 288.7,611.4 289.1,611.5 289.5,611.7 289.9,611.8 290.3,611.9 290.7,612 291.1,612.1 291.5,612.2 291.9,612.3 292.3,612.4 292.7,612.5 293.1,612.7 293.5,612.8 293.9,612.9 294.3,612.9 294.7,613 295.1,613.1 295.5,613.2 295.9,613.3 296.3,613.4 296.7,613.4 297.1,613.5 297.5,613.6 297.9,613.7 298.3,613.7 298.7,613.8 299.1,613.8 299.5,613.9 299.9,613.9 300.3,614 300.7,614 301.1,614 301.5,614 301.9,614 302.3,614 302.7,614 303.1,614 303.5,614 303.9,614 304.3,613.9 304.7,613.9 305.1,613.9 305.5,613.9 305.9,613.9 306.3,613.9 306.7,613.9 307.1,613.8 307.5,613.8 307.9,613.8 308.3,613.8 308.7,613.8 309.1,613.7 309.5,613.7 309.9,613.7 310.3,613.7 310.7,613.6 311.1,613.6 311.5,613.6 311.9,613.6 312.3,613.5 312.7,613.5 313.1,613.4 313.5,613.4 313.9,613.3 314.3,613.3 314.7,613.2 315.1,613.2 315.5,613.1 315.9,613 316.3,613 316.7,612.9 317.1,612.8 317.5,612.8 317.9,612.7 318.3,612.6 318.7,612.6 319.1,612.5 319.5,612.5 319.9,612.4 320.3,612.4 320.7,612.3 321.1,612.3 321.5,612.2 321.9,612.2 322.3,612.1 322.7,612.1 323.1,612 323.5,612 323.9,611.9 324.3,611.9 324.7,611.8 325.1,611.8 325.5,611.7 325.9,611.7 326.3,611.6 326.7,611.6 327.1,611.5 327.5,611.5 327.9,611.4 328.3,611.4 328.7,611.3 329.1,611.3 329.5,611.2 329.9,611.2 330.3,611.1 330.7,611.1 331.1,611 331.5,611 331.9,610.9 332.3,610.8 332.7,610.8 333.1,610.7 333.5,610.7 333.9,610.6 334.3,610.5 334.7,610.5 335.1,610.4 335.5,610.3 335.9,610.3 336.3,610.2 336.7,610.1 337.1,610.1 337.5,610 337.9,609.9 338.3,609.8 338.7,609.8 339.1,609.7 339.5,609.6 339.9,609.5 340.3,609.5 340.7,609.4 341.1,609.3 341.5,609.2 341.9,609.2 342.3,609.1 342.7,609 343.1,608.9 343.5,608.9 343.9,608.8 344.3,608.7 344.7,608.6 345.1,608.5 345.5,608.5 345.9,608.4 346.3,608.3 346.7,608.2 347.1,608.1 347.5,608.1 347.9,608 348.3,607.9 348.7,607.8 349.1,607.7 349.5,607.6 349.9,607.6 350.3,607.5 350.7,607.4 351.1,607.3 351.5,607.2 351.9,607.1 352.3,607.1 352.7,607 353.1,606.9 353.5,606.8 353.9,606.7 354.3,606.6 354.7,606.6 355.1,606.5 355.5,606.4 355.9,606.3 356.3,606.2 356.7,606.1 357.1,606 357.5,605.9 357.9,605.8 358.3,605.7 358.7,605.7 359.1,605.6 359.5,605.5 359.9,605.4 360.3,605.3 360.7,605.2 361.1,605.1 361.5,605 361.9,604.9 362.3,604.8 362.7,604.7 363.1,604.6 363.5,604.5 363.9,604.4 364.3,604.3 364.7,604.2 365.1,604.2 365.5,604.1 365.9,604 366.3,603.9 366.7,603.8 367.1,603.7 367.5,603.6 367.9,603.5 368.3,603.4 368.7,603.3 369.1,603.2 369.5,603.1 369.9,603 370.3,602.9 370.7,602.9 371.1,602.8 371.5,602.7 371.9,602.6 372.3,602.5 372.7,602.4 373.1,602.3 373.5,602.2 373.9,602.1 374.3,602.1 374.7,602 375.1,601.9 375.5,601.8 375.9,601.7 376.3,601.6 376.7,601.6 377.1,601.5 377.5,601.4 377.9,601.3 378.3,601.2 378.7,601.1 379.1,601.1 379.5,601 379.9,600.9 380.3,600.8 380.7,600.7 381.1,600.6 381.5,600.6 381.9,600.5 382.3,600.4 382.7,600.3 383.1,600.2 383.5,600.2 383.9,600.1 384.3,600 384.7,599.9 385.1,599.8 385.5,599.8 385.9,599.7 386.3,599.6 386.7,599.5 387.1,599.4 387.5,599.4 387.9,599.3 388.3,599.2 388.7,599.1 389.1,599 389.5,599 389.9,598.9 390.3,598.8 390.7,598.7 391.1,598.6 391.5,598.6 391.9,598.5 392.3,598.4 392.7,598.3 393.1,598.2 393.5,598.2 393.9,598.1 394.3,598 394.7,597.9 395.1,597.9 395.5,597.8 395.9,597.7 396.3,597.6 396.7,597.5 397.1,597.5 397.5,597.4 397.9,597.3 398.3,597.2 398.7,597.2 399.1,597.1 399.5,597 399.9,596.9 400.3,596.8 400.7,596.8 401.1,596.7 401.5,596.6 401.9,596.5 402.3,596.4 402.7,596.4 403.1,596.3 403.5,596.2 403.9,596.1 404.3,596.1 404.7,596 405.1,595.9 405.5,595.8 405.9,595.7 406.3,595.7 406.7,595.6 407.1,595.5 407.5,595.4 407.9,595.3 408.3,595.3 408.7,595.2 409.1,595.1 409.5,595 409.9,594.9 410.3,594.9 410.7,594.8 411.1,594.7 411.5,594.6 411.9,594.5 412.3,594.4 412.7,594.4 413.1,594.3 413.5,594.2 413.9,594.1 414.3,594 414.7,594 415.1,593.9 415.5,593.8 415.9,593.7 416.3,593.6 416.7,593.5 417.1,593.5 417.5,593.4 417.9,593.3 418.3,593.2 418.7,593.1 419.1,593.1 419.5,593 419.9,592.9 420.3,592.8 420.7,592.7 421.1,592.6 421.5,592.6 421.9,592.5 422.3,592.4 422.7,592.3 423.1,592.2 423.5,592.1 423.9,592.1 424.3,592 424.7,591.9 425.1,591.8 425.5,591.7 425.9,591.6 426.3,591.6 426.7,591.5 427.1,591.4 427.5,591.3 427.9,591.2 428.3,591.1 428.7,591.1 429.1,591 429.5,590.9 429.9,590.8 430.3,590.7 430.7,590.6 431.1,590.5 431.5,590.5 431.9,590.4 432.3,590.3 432.7,590.2 433.1,590.1 433.5,590 433.9,590 434.3,589.9 434.7,589.8 435.1,589.7 435.5,589.6 435.9,589.5 436.3,589.5 436.7,589.4 437.1,589.3 437.5,589.2 437.9,589.1 438.3,589 438.7,588.9 439.1,588.9 439.5,588.8 439.9,588.7 440.3,588.6 440.7,588.5 441.1,588.4 441.5,588.3 441.9,588.3 442.3,588.2 442.7,588.1 443.1,588 443.5,587.9 443.9,587.8 444.3,587.7 444.7,587.7 445.1,587.6 445.5,587.5 445.9,587.4 446.3,587.3 446.7,587.2 447.1,587.2 447.5,587.1 447.9,587 448.3,586.9 448.7,586.8 449.1,586.7 449.5,586.6 449.9,586.6 450.3,586.5"/>
<polyline fill="none" stroke="#1fd0c6" stroke-width="5.0" stroke-linejoin="round" stroke-linecap="round" points="107.9,597 108.3,597.5 108.7,598.1 109.1,598.5 109.5,598.8 109.9,599 110.3,599.1 110.7,599.3 111.1,599.4 111.5,599.5 111.9,599.6 112.3,599.7 112.7,599.8 113.1,599.9 113.5,599.9 113.9,600 114.3,600.1 114.7,600.1 115.1,600.2 115.5,600.2 115.9,600.2 116.3,600.3 116.7,600.3 117.1,600.3 117.5,600.4 117.9,600.4 118.3,600.4 118.7,600.5 119.1,600.5 119.5,600.5 119.9,600.5 120.3,600.6 120.7,600.6 121.1,600.6 121.5,600.6 121.9,600.7 122.3,600.7 122.7,600.7 123.1,600.7 123.5,600.8 123.9,600.8 124.3,600.8 124.7,600.8 125.1,600.8 125.5,600.9 125.9,600.9 126.3,600.9 126.7,600.9 127.1,600.9 127.5,601 127.9,601 128.3,601 128.7,601 129.1,601 129.5,601 129.9,601 130.3,601.1 130.7,601.1 131.1,601.1 131.5,601.1 131.9,601.1 132.3,601.1 132.7,601.1 133.1,601.1 133.5,601.1 133.9,601.2 134.3,601.2 134.7,601.2 135.1,601.2 135.5,601.2 135.9,601.2 136.3,601.2 136.7,601.2 137.1,601.2 137.5,601.2 137.9,601.2 138.3,601.2 138.7,601.2 139.1,601.2 139.5,601.3 139.9,601.3 140.3,601.3 140.7,601.3 141.1,601.3 141.5,601.3 141.9,601.3 142.3,601.3 142.7,601.3 143.1,601.3 143.5,601.3 143.9,601.3 144.3,601.3 144.7,601.3 145.1,601.3 145.5,601.3 145.9,601.4 146.3,601.4 146.7,601.4 147.1,601.4 147.5,601.4 147.9,601.4 148.3,601.4 148.7,601.4 149.1,601.4 149.5,601.4 149.9,601.4 150.3,601.4 150.7,601.4 151.1,601.4 151.5,601.4 151.9,601.4 152.3,601.4 152.7,601.4 153.1,601.4 153.5,601.5 153.9,601.5 154.3,601.5 154.7,601.5 155.1,601.5 155.5,601.5 155.9,601.5 156.3,601.5 156.7,601.5 157.1,601.5 157.5,601.5 157.9,601.5 158.3,601.5 158.7,601.5 159.1,601.5 159.5,601.5 159.9,601.5 160.3,601.5 160.7,601.5 161.1,601.5 161.5,601.5 161.9,601.5 162.3,601.5 162.7,601.5 163.1,601.5 163.5,601.5 163.9,601.6 164.3,601.6 164.7,601.6 165.1,601.6 165.5,601.6 165.9,601.6 166.3,601.6 166.7,601.6 167.1,601.6 167.5,601.6 167.9,601.6 168.3,601.6 168.7,601.6 169.1,601.6 169.5,601.6 169.9,601.6 170.3,601.6 170.7,601.6 171.1,601.6 171.5,601.6 171.9,601.6 172.3,601.6 172.7,601.6 173.1,601.6 173.5,601.6 173.9,601.6 174.3,601.6 174.7,601.6 175.1,601.6 175.5,601.6 175.9,601.6 176.3,601.6 176.7,601.6 177.1,601.6 177.5,601.6 177.9,601.6 178.3,601.6 178.7,601.6 179.1,601.6 179.5,601.6 179.9,601.6 180.3,601.6 180.7,601.6 181.1,601.6 181.5,601.6 181.9,601.6 182.3,601.6 182.7,601.6 183.1,601.6 183.5,601.6 183.9,601.6 184.3,601.6 184.7,601.6 185.1,601.6 185.5,601.6 185.9,601.6 186.3,601.6 186.7,601.6 187.1,601.5 187.5,601.5 187.9,601.5 188.3,601.5 188.7,601.5 189.1,601.5 189.5,601.5 189.9,601.5 190.3,601.5 190.7,601.5 191.1,601.5 191.5,601.5 191.9,601.5 192.3,601.5 192.7,601.5 193.1,601.5 193.5,601.5 193.9,601.5 194.3,601.5 194.7,601.5 195.1,601.4 195.5,601.4 195.9,601.4 196.3,601.4 196.7,601.4 197.1,601.4 197.5,601.4 197.9,601.4 198.3,601.4 198.7,601.4 199.1,601.4 199.5,601.4 199.9,601.4 200.3,601.4 200.7,601.4 201.1,601.4 201.5,601.4 201.9,601.3 202.3,601.3 202.7,601.3 203.1,601.3 203.5,601.3 203.9,601.3 204.3,601.3 204.7,601.3 205.1,601.3 205.5,601.3 205.9,601.3 206.3,601.3 206.7,601.3 207.1,601.3 207.5,601.3 207.9,601.3 208.3,601.3 208.7,601.3 209.1,601.3 209.5,601.3 209.9,601.2 210.3,601.2 210.7,601.2 211.1,601.2 211.5,601.2 211.9,601.2 212.3,601.2 212.7,601.2 213.1,601.2 213.5,601.2 213.9,601.2 214.3,601.2 214.7,601.2 215.1,601.2 215.5,601.2 215.9,601.2 216.3,601.2 216.7,601.2 217.1,601.2 217.5,601.2 217.9,601.2 218.3,601.2 218.7,601.2 219.1,601.2 219.5,601.2 219.9,601.2 220.3,601.2 220.7,601.2 221.1,601.2 221.5,601.2 221.9,601.2 222.3,601.2 222.7,601.2 223.1,601.2 223.5,601.2 223.9,601.2 224.3,601.2 224.7,601.2 225.1,601.2 225.5,601.2 225.9,601.2 226.3,601.2 226.7,601.2 227.1,601.2 227.5,601.2 227.9,601.2 228.3,601.2 228.7,601.2 229.1,601.2 229.5,601.2 229.9,601.2 230.3,601.2 230.7,601.2 231.1,601.2 231.5,601.2 231.9,601.2 232.3,601.2 232.7,601.2 233.1,601.2 233.5,601.2 233.9,601.2 234.3,601.2 234.7,601.2 235.1,601.2 235.5,601.2 235.9,601.2 236.3,601.2 236.7,601.2 237.1,601.2 237.5,601.2 237.9,601.2 238.3,601.2 238.7,601.2 239.1,601.2 239.5,601.2 239.9,601.2 240.3,601.2 240.7,601.2 241.1,601.2 241.5,601.2 241.9,601.2 242.3,601.2 242.7,601.2 243.1,601.2 243.5,601.3 243.9,601.3 244.3,601.3 244.7,601.3 245.1,601.3 245.5,601.3 245.9,601.3 246.3,601.3 246.7,601.3 247.1,601.3 247.5,601.3 247.9,601.3 248.3,601.3 248.7,601.3 249.1,601.3 249.5,601.3 249.9,601.3 250.3,601.3 250.7,601.3 251.1,601.3 251.5,601.3 251.9,601.3 252.3,601.3 252.7,601.3 253.1,601.3 253.5,601.3 253.9,601.3 254.3,601.3 254.7,601.3 255.1,601.3 255.5,601.3 255.9,601.3 256.3,601.3 256.7,601.3 257.1,601.4 257.5,601.4 257.9,601.4 258.3,601.4 258.7,601.4 259.1,601.4 259.5,601.4 259.9,601.4 260.3,601.4 260.7,601.4 261.1,601.4 261.5,601.4 261.9,601.4 262.3,601.5 262.7,601.6 263.1,601.7 263.5,601.8 263.9,602 264.3,602.2 264.7,602.3 265.1,602.6 265.5,602.8 265.9,603.1 266.3,603.3 266.7,603.6 267.1,603.9 267.5,604.2 267.9,604.6 268.3,604.9 268.7,605.3 269.1,605.9 269.5,606.6 269.9,607.5 270.3,608.3 270.7,609.3 271.1,610.2 271.5,611.3 271.9,612.4 272.3,613.7 272.7,615 273.1,616.3 273.5,617.7 273.9,619.2 274.3,620.8 274.7,622.4 275.1,624.2 275.5,626"/>
<polyline fill="none" stroke="#1fd0c6" stroke-width="4.8" stroke-linejoin="round" stroke-linecap="round" points="281.5,618.6 281.9,618.6 282.3,618.6 282.7,618.6 283.1,618.6 283.5,618.5 283.9,618.5 284.3,618.5 284.7,618.5 285.1,618.5 285.5,618.5 285.9,618.5 286.3,618.5 286.7,618.5 287.1,618.5 287.5,618.5 287.9,618.4 288.3,618.4 288.7,618.4 289.1,618.4 289.5,618.4 289.9,618.4 290.3,618.4 290.7,618.4 291.1,618.4 291.5,618.4 291.9,618.4 292.3,618.4 292.7,618.4 293.1,618.3 293.5,618.3 293.9,618.3 294.3,618.3 294.7,618.3 295.1,618.3 295.5,618.3 295.9,618.3 296.3,618.3 296.7,618.3 297.1,618.3 297.5,618.3 297.9,618.3 298.3,618.3 298.7,618.3 299.1,618.3 299.5,618.3 299.9,618.3 300.3,618.2 300.7,618.2 301.1,618.2 301.5,618.2 301.9,618.2 302.3,618.2 302.7,618.2 303.1,618.2 303.5,618.2 303.9,618.2 304.3,618.2 304.7,618.2 305.1,618.2 305.5,618.2 305.9,618.2 306.3,618.2 306.7,618.2 307.1,618.2 307.5,618.2 307.9,618.2 308.3,618.2 308.7,618.2 309.1,618.1 309.5,618.1 309.9,618.1 310.3,618.1 310.7,618.1 311.1,618.1 311.5,618.1 311.9,618.1 312.3,618.1 312.7,618.1 313.1,618.1 313.5,618.1 313.9,618.1 314.3,618.1 314.7,618.1 315.1,618.1 315.5,618.1 315.9,618.1 316.3,618.1 316.7,618.1 317.1,618 317.5,618 317.9,618 318.3,618 318.7,618 319.1,618 319.5,618 319.9,618 320.3,618 320.7,618 321.1,618 321.5,618 321.9,618 322.3,618 322.7,618 323.1,617.9 323.5,617.9 323.9,617.9 324.3,617.9 324.7,617.9 325.1,617.9 325.5,617.9 325.9,617.9 326.3,617.9 326.7,617.9 327.1,617.9 327.5,617.9 327.9,617.9 328.3,617.9 328.7,617.8 329.1,617.8 329.5,617.8 329.9,617.8 330.3,617.8 330.7,617.8 331.1,617.8 331.5,617.8 331.9,617.8 332.3,617.8 332.7,617.8 333.1,617.8 333.5,617.7 333.9,617.7 334.3,617.7 334.7,617.7 335.1,617.7 335.5,617.7 335.9,617.7 336.3,617.7 336.7,617.7 337.1,617.7 337.5,617.7 337.9,617.7 338.3,617.6 338.7,617.6 339.1,617.6 339.5,617.6 339.9,617.6 340.3,617.6 340.7,617.6 341.1,617.6 341.5,617.6 341.9,617.6 342.3,617.6 342.7,617.5 343.1,617.5 343.5,617.5 343.9,617.5 344.3,617.5 344.7,617.5 345.1,617.5 345.5,617.5 345.9,617.5 346.3,617.5 346.7,617.4 347.1,617.4 347.5,617.4 347.9,617.4 348.3,617.4 348.7,617.4 349.1,617.4 349.5,617.4 349.9,617.4 350.3,617.4 350.7,617.3 351.1,617.3 351.5,617.3 351.9,617.3 352.3,617.3 352.7,617.3 353.1,617.3 353.5,617.3 353.9,617.3 354.3,617.3 354.7,617.2 355.1,617.2 355.5,617.2 355.9,617.2 356.3,617.2 356.7,617.2 357.1,617.2 357.5,617.2 357.9,617.2 358.3,617.1 358.7,617.1 359.1,617.1 359.5,617.1 359.9,617.1 360.3,617.1 360.7,617.1 361.1,617.1 361.5,617.1 361.9,617 362.3,617 362.7,617 363.1,617 363.5,617 363.9,617 364.3,617 364.7,617 365.1,616.9 365.5,616.9 365.9,616.9 366.3,616.9 366.7,616.9 367.1,616.9 367.5,616.9 367.9,616.9 368.3,616.8 368.7,616.8 369.1,616.8 369.5,616.8 369.9,616.8 370.3,616.8 370.7,616.8 371.1,616.8 371.5,616.7 371.9,616.7 372.3,616.7 372.7,616.7 373.1,616.7 373.5,616.7 373.9,616.7 374.3,616.7 374.7,616.6 375.1,616.6 375.5,616.6 375.9,616.6 376.3,616.6 376.7,616.6 377.1,616.6 377.5,616.5 377.9,616.5 378.3,616.5 378.7,616.5 379.1,616.5 379.5,616.5 379.9,616.5 380.3,616.5 380.7,616.4 381.1,616.4 381.5,616.4 381.9,616.4 382.3,616.4 382.7,616.4 383.1,616.4 383.5,616.3 383.9,616.3 384.3,616.3 384.7,616.3 385.1,616.3 385.5,616.3 385.9,616.3 386.3,616.3 386.7,616.2 387.1,616.2 387.5,616.2 387.9,616.2 388.3,616.2 388.7,616.2 389.1,616.2 389.5,616.1 389.9,616.1 390.3,616.1 390.7,616.1 391.1,616.1 391.5,616.1 391.9,616.1 392.3,616.1 392.7,616 393.1,616 393.5,616 393.9,616 394.3,616 394.7,616 395.1,616 395.5,615.9 395.9,615.9 396.3,615.9 396.7,615.9 397.1,615.9 397.5,615.9 397.9,615.9 398.3,615.9 398.7,615.8 399.1,615.8 399.5,615.8 399.9,615.8 400.3,615.8 400.7,615.8 401.1,615.8 401.5,615.8 401.9,615.7 402.3,615.7 402.7,615.7 403.1,615.7 403.5,615.7 403.9,615.7 404.3,615.7 404.7,615.7 405.1,615.6 405.5,615.6 405.9,615.6 406.3,615.6 406.7,615.6 407.1,615.6 407.5,615.6 407.9,615.6 408.3,615.5 408.7,615.5 409.1,615.5 409.5,615.5 409.9,615.5 410.3,615.5 410.7,615.5 411.1,615.4 411.5,615.4 411.9,615.4 412.3,615.4 412.7,615.4 413.1,615.4 413.5,615.4 413.9,615.4 414.3,615.3 414.7,615.3 415.1,615.3 415.5,615.3 415.9,615.3 416.3,615.3 416.7,615.3 417.1,615.3 417.5,615.2 417.9,615.2 418.3,615.2 418.7,615.2 419.1,615.2 419.5,615.2 419.9,615.2 420.3,615.2 420.7,615.1 421.1,615.1 421.5,615.1 421.9,615.1 422.3,615.1 422.7,615.1 423.1,615.1 423.5,615.1 423.9,615 424.3,615 424.7,615 425.1,615 425.5,615 425.9,615 426.3,615 426.7,615 427.1,614.9 427.5,614.9 427.9,614.9 428.3,614.9 428.7,614.9 429.1,614.9 429.5,614.9 429.9,614.9 430.3,614.8 430.7,614.8 431.1,614.8 431.5,614.8 431.9,614.8 432.3,614.8 432.7,614.8 433.1,614.8 433.5,614.7 433.9,614.7 434.3,614.7 434.7,614.7 435.1,614.7 435.5,614.7 435.9,614.7 436.3,614.7 436.7,614.6 437.1,614.6 437.5,614.6 437.9,614.6 438.3,614.6 438.7,614.6 439.1,614.6 439.5,614.6 439.9,614.5 440.3,614.5 440.7,614.5 441.1,614.5 441.5,614.5 441.9,614.5 442.3,614.5 442.7,614.4 443.1,614.4 443.5,614.4 443.9,614.4 444.3,614.4 444.7,614.4 445.1,614.4 445.5,614.4 445.9,614.3 446.3,614.3 446.7,614.3 447.1,614.3 447.5,614.3 447.9,614.3 448.3,614.3 448.7,614.3 449.1,614.2 449.5,614.2 449.9,614.2 450.3,614.2"/>
<polyline fill="none" stroke="#f2418f" stroke-width="5.6" stroke-linejoin="round" stroke-linecap="round" points="107.9,600.2 108.3,600.9 108.7,601.8 109.1,602.6 109.5,603.3 109.9,603.9 110.3,604.2 110.7,604.3 111.1,604.4 111.5,604.5 111.9,604.5 112.3,604.6 112.7,604.6 113.1,604.7 113.5,604.7 113.9,604.8 114.3,604.8 114.7,604.9 115.1,604.9 115.5,605 115.9,605 116.3,605.1 116.7,605.1 117.1,605.1 117.5,605.2 117.9,605.2 118.3,605.2 118.7,605.3 119.1,605.3 119.5,605.3 119.9,605.4 120.3,605.4 120.7,605.4 121.1,605.4 121.5,605.5 121.9,605.5 122.3,605.5 122.7,605.5 123.1,605.5 123.5,605.6 123.9,605.6 124.3,605.6 124.7,605.6 125.1,605.6 125.5,605.6 125.9,605.6 126.3,605.7 126.7,605.7 127.1,605.7 127.5,605.7 127.9,605.7 128.3,605.7 128.7,605.7 129.1,605.7 129.5,605.8 129.9,605.8 130.3,605.8 130.7,605.8 131.1,605.8 131.5,605.8 131.9,605.8 132.3,605.8 132.7,605.9 133.1,605.9 133.5,605.9 133.9,605.9 134.3,605.9 134.7,605.9 135.1,605.9 135.5,606 135.9,606 136.3,606 136.7,606 137.1,606 137.5,606.1 137.9,606.1 138.3,606.1 138.7,606.1 139.1,606.1 139.5,606.1 139.9,606.2 140.3,606.2 140.7,606.2 141.1,606.2 141.5,606.2 141.9,606.2 142.3,606.3 142.7,606.3 143.1,606.3 143.5,606.3 143.9,606.3 144.3,606.3 144.7,606.3 145.1,606.4 145.5,606.4 145.9,606.4 146.3,606.4 146.7,606.4 147.1,606.4 147.5,606.4 147.9,606.4 148.3,606.5 148.7,606.5 149.1,606.5 149.5,606.5 149.9,606.5 150.3,606.5 150.7,606.5 151.1,606.6 151.5,606.6 151.9,606.6 152.3,606.6 152.7,606.6 153.1,606.6 153.5,606.6 153.9,606.6 154.3,606.6 154.7,606.7 155.1,606.7 155.5,606.7 155.9,606.7 156.3,606.7 156.7,606.7 157.1,606.7 157.5,606.7 157.9,606.8 158.3,606.8 158.7,606.8 159.1,606.8 159.5,606.8 159.9,606.8 160.3,606.8 160.7,606.8 161.1,606.8 161.5,606.9 161.9,606.9 162.3,606.9 162.7,606.9 163.1,606.9 163.5,606.9 163.9,606.9 164.3,606.9 164.7,607 165.1,607 165.5,607 165.9,607 166.3,607 166.7,607 167.1,607 167.5,607 167.9,607.1 168.3,607.1 168.7,607.1 169.1,607.1 169.5,607.1 169.9,607.1 170.3,607.1 170.7,607.1 171.1,607.2 171.5,607.2 171.9,607.2 172.3,607.2 172.7,607.2 173.1,607.2 173.5,607.2 173.9,607.3 174.3,607.3 174.7,607.3 175.1,607.3 175.5,607.3 175.9,607.3 176.3,607.3 176.7,607.4 177.1,607.4 177.5,607.4 177.9,607.4 178.3,607.4 178.7,607.4 179.1,607.5 179.5,607.5 179.9,607.5 180.3,607.5 180.7,607.5 181.1,607.5 181.5,607.6 181.9,607.6 182.3,607.6 182.7,607.6 183.1,607.6 183.5,607.7 183.9,607.7 184.3,607.7 184.7,607.7 185.1,607.7 185.5,607.7 185.9,607.8 186.3,607.8 186.7,607.8 187.1,607.8 187.5,607.8 187.9,607.9 188.3,607.9 188.7,607.9 189.1,607.9 189.5,607.9 189.9,608 190.3,608 190.7,608 191.1,608 191.5,608 191.9,608.1 192.3,608.1 192.7,608.1 193.1,608.1 193.5,608.1 193.9,608.2 194.3,608.2 194.7,608.2 195.1,608.2 195.5,608.2 195.9,608.3 196.3,608.3 196.7,608.3 197.1,608.3 197.5,608.3 197.9,608.4 198.3,608.4 198.7,608.4 199.1,608.4 199.5,608.4 199.9,608.5 200.3,608.5 200.7,608.5 201.1,608.5 201.5,608.6 201.9,608.6 202.3,608.6 202.7,608.6 203.1,608.6 203.5,608.7 203.9,608.7 204.3,608.7 204.7,608.7 205.1,608.7 205.5,608.8 205.9,608.8 206.3,608.8 206.7,608.8 207.1,608.9 207.5,608.9 207.9,608.9 208.3,608.9 208.7,608.9 209.1,609 209.5,609 209.9,609 210.3,609 210.7,609.1 211.1,609.1 211.5,609.1 211.9,609.1 212.3,609.1 212.7,609.2 213.1,609.2 213.5,609.2 213.9,609.2 214.3,609.3 214.7,609.3 215.1,609.3 215.5,609.3 215.9,609.3 216.3,609.4 216.7,609.4 217.1,609.4 217.5,609.4 217.9,609.5 218.3,609.5 218.7,609.5 219.1,609.5 219.5,609.5 219.9,609.6 220.3,609.6 220.7,609.6 221.1,609.6 221.5,609.6 221.9,609.7 222.3,609.7 222.7,609.7 223.1,609.7 223.5,609.7 223.9,609.8 224.3,609.8 224.7,609.8 225.1,609.8 225.5,609.8 225.9,609.9 226.3,609.9 226.7,609.9 227.1,609.9 227.5,610 227.9,610 228.3,610 228.7,610 229.1,610 229.5,610.1 229.9,610.1 230.3,610.1 230.7,610.1 231.1,610.1 231.5,610.2 231.9,610.2 232.3,610.2 232.7,610.2 233.1,610.3 233.5,610.3 233.9,610.3 234.3,610.3 234.7,610.4 235.1,610.4 235.5,610.4 235.9,610.4 236.3,610.5 236.7,610.5 237.1,610.5 237.5,610.5 237.9,610.6 238.3,610.6 238.7,610.6 239.1,610.7 239.5,610.7 239.9,610.7 240.3,610.8 240.7,610.8 241.1,610.8 241.5,610.9 241.9,610.9 242.3,610.9 242.7,610.9 243.1,611 243.5,611 243.9,611 244.3,611.1 244.7,611.1 245.1,611.1 245.5,611.2 245.9,611.2 246.3,611.2 246.7,611.3 247.1,611.3 247.5,611.3 247.9,611.4 248.3,611.4 248.7,611.5 249.1,611.5 249.5,611.5 249.9,611.6 250.3,611.6 250.7,611.7 251.1,611.7 251.5,611.8 251.9,611.8 252.3,611.9 252.7,611.9 253.1,612 253.5,612 253.9,612.1 254.3,612.1 254.7,612.2 255.1,612.3 255.5,612.3 255.9,612.4 256.3,612.5 256.7,612.5 257.1,612.6 257.5,612.7 257.9,612.7 258.3,612.8 258.7,612.9 259.1,613 259.5,613.1 259.9,613.2 260.3,613.2 260.7,613.4 261.1,613.5 261.5,613.6 261.9,613.8 262.3,614 262.7,614.2 263.1,614.4 263.5,614.6 263.9,614.9 264.3,615.1 264.7,615.4 265.1,615.7 265.5,616 265.9,616.4 266.3,616.7 266.7,617.1 267.1,617.6 267.5,618.2 267.9,618.9 268.3,619.6 268.7,620.4 269.1,621.3 269.5,622.1 269.9,623.1 270.3,624.2 270.7,625.4 271.1,626.7 271.5,628"/>
<polyline fill="none" stroke="#f2418f" stroke-width="3.0" stroke-linejoin="round" stroke-linecap="round" points="279.5,621 279.9,621 280.3,621 280.7,620.9 281.1,620.9 281.5,620.9 281.9,620.9 282.3,620.8 282.7,620.8 283.1,620.8 283.5,620.8 283.9,620.7 284.3,620.7 284.7,620.7 285.1,620.7 285.5,620.6 285.9,620.6 286.3,620.6 286.7,620.6 287.1,620.5 287.5,620.5 287.9,620.5 288.3,620.5 288.7,620.5 289.1,620.4 289.5,620.4 289.9,620.4 290.3,620.4 290.7,620.4 291.1,620.3 291.5,620.3 291.9,620.3 292.3,620.3 292.7,620.3 293.1,620.2 293.5,620.2 293.9,620.2 294.3,620.2 294.7,620.2 295.1,620.1 295.5,620.1 295.9,620.1 296.3,620.1 296.7,620.1 297.1,620.1 297.5,620.1 297.9,620.1 298.3,620 298.7,620 299.1,620 299.5,620 299.9,620 300.3,620 300.7,620 301.1,620 301.5,620 301.9,620 302.3,620 302.7,619.9 303.1,619.9 303.5,619.9 303.9,619.9 304.3,619.9 304.7,619.9 305.1,619.9 305.5,619.9 305.9,619.9 306.3,619.9 306.7,619.9 307.1,619.9 307.5,619.9 307.9,619.9 308.3,619.9 308.7,619.8 309.1,619.8 309.5,619.8 309.9,619.8 310.3,619.8 310.7,619.8 311.1,619.8 311.5,619.8 311.9,619.8 312.3,619.8 312.7,619.8 313.1,619.8 313.5,619.8 313.9,619.8 314.3,619.8 314.7,619.8 315.1,619.8 315.5,619.8 315.9,619.7 316.3,619.7 316.7,619.7 317.1,619.7 317.5,619.7 317.9,619.7 318.3,619.7 318.7,619.7 319.1,619.7 319.5,619.7 319.9,619.7 320.3,619.7 320.7,619.7 321.1,619.7 321.5,619.7 321.9,619.7 322.3,619.7 322.7,619.7 323.1,619.7 323.5,619.7 323.9,619.7 324.3,619.7 324.7,619.7 325.1,619.6 325.5,619.6 325.9,619.6 326.3,619.6 326.7,619.6 327.1,619.6 327.5,619.6 327.9,619.6 328.3,619.6 328.7,619.6 329.1,619.6 329.5,619.6 329.9,619.6 330.3,619.6 330.7,619.6 331.1,619.6 331.5,619.6 331.9,619.6 332.3,619.6 332.7,619.6 333.1,619.6 333.5,619.6 333.9,619.6 334.3,619.6 334.7,619.6 335.1,619.6 335.5,619.6 335.9,619.6 336.3,619.6 336.7,619.5 337.1,619.5 337.5,619.5 337.9,619.5 338.3,619.5 338.7,619.5 339.1,619.5 339.5,619.5 339.9,619.5 340.3,619.5 340.7,619.5 341.1,619.5 341.5,619.5 341.9,619.5 342.3,619.5 342.7,619.5 343.1,619.5 343.5,619.5 343.9,619.5 344.3,619.5 344.7,619.5 345.1,619.5 345.5,619.5 345.9,619.5 346.3,619.5 346.7,619.5 347.1,619.5 347.5,619.5 347.9,619.4 348.3,619.4 348.7,619.4 349.1,619.4 349.5,619.4 349.9,619.4 350.3,619.4 350.7,619.4 351.1,619.4 351.5,619.4 351.9,619.4 352.3,619.4 352.7,619.4 353.1,619.4 353.5,619.4 353.9,619.4 354.3,619.4 354.7,619.4 355.1,619.4 355.5,619.4 355.9,619.4 356.3,619.4 356.7,619.4 357.1,619.4 357.5,619.3 357.9,619.3 358.3,619.3 358.7,619.3 359.1,619.3 359.5,619.3 359.9,619.3 360.3,619.3 360.7,619.3 361.1,619.3 361.5,619.3 361.9,619.3 362.3,619.3 362.7,619.3 363.1,619.3 363.5,619.3 363.9,619.3 364.3,619.3 364.7,619.3 365.1,619.3 365.5,619.3 365.9,619.3 366.3,619.3 366.7,619.2 367.1,619.2 367.5,619.2 367.9,619.2 368.3,619.2 368.7,619.2 369.1,619.2 369.5,619.2 369.9,619.2 370.3,619.2 370.7,619.2 371.1,619.2 371.5,619.2 371.9,619.2 372.3,619.2 372.7,619.2 373.1,619.2 373.5,619.2 373.9,619.2 374.3,619.2 374.7,619.2 375.1,619.2 375.5,619.2 375.9,619.2 376.3,619.1 376.7,619.1 377.1,619.1 377.5,619.1 377.9,619.1 378.3,619.1 378.7,619.1 379.1,619.1 379.5,619.1 379.9,619.1 380.3,619.1 380.7,619.1 381.1,619.1 381.5,619.1 381.9,619.1 382.3,619.1 382.7,619.1 383.1,619.1 383.5,619.1 383.9,619.1 384.3,619.1 384.7,619.1 385.1,619.1 385.5,619 385.9,619 386.3,619 386.7,619 387.1,619 387.5,619 387.9,619 388.3,619 388.7,619 389.1,619 389.5,619 389.9,619 390.3,619 390.7,619 391.1,619 391.5,619 391.9,619 392.3,619 392.7,619 393.1,619 393.5,619 393.9,619 394.3,619 394.7,619 395.1,618.9 395.5,618.9 395.9,618.9 396.3,618.9 396.7,618.9 397.1,618.9 397.5,618.9 397.9,618.9 398.3,618.9 398.7,618.9 399.1,618.9 399.5,618.9 399.9,618.9 400.3,618.9 400.7,618.9 401.1,618.9 401.5,618.9 401.9,618.9 402.3,618.9 402.7,618.9 403.1,618.9 403.5,618.9 403.9,618.9 404.3,618.9 404.7,618.9 405.1,618.8 405.5,618.8 405.9,618.8 406.3,618.8 406.7,618.8 407.1,618.8 407.5,618.8 407.9,618.8 408.3,618.8 408.7,618.8 409.1,618.8 409.5,618.8 409.9,618.8 410.3,618.8 410.7,618.8 411.1,618.8 411.5,618.8 411.9,618.8 412.3,618.8 412.7,618.8 413.1,618.8 413.5,618.8 413.9,618.8 414.3,618.8 414.7,618.7 415.1,618.7 415.5,618.7 415.9,618.7 416.3,618.7 416.7,618.7 417.1,618.7 417.5,618.7 417.9,618.7 418.3,618.7 418.7,618.7 419.1,618.7 419.5,618.7 419.9,618.7 420.3,618.7 420.7,618.7 421.1,618.7 421.5,618.7 421.9,618.7 422.3,618.7 422.7,618.7 423.1,618.7 423.5,618.7 423.9,618.7 424.3,618.7 424.7,618.7 425.1,618.6 425.5,618.6 425.9,618.6 426.3,618.6 426.7,618.6 427.1,618.6 427.5,618.6 427.9,618.6 428.3,618.6 428.7,618.6 429.1,618.6 429.5,618.6 429.9,618.6 430.3,618.6 430.7,618.6 431.1,618.6 431.5,618.6 431.9,618.6 432.3,618.6 432.7,618.6 433.1,618.6 433.5,618.6 433.9,618.6 434.3,618.6 434.7,618.6 435.1,618.5 435.5,618.5 435.9,618.5 436.3,618.5 436.7,618.5 437.1,618.5 437.5,618.5 437.9,618.5 438.3,618.5 438.7,618.5 439.1,618.5 439.5,618.5 439.9,618.5 440.3,618.5 440.7,618.5 441.1,618.5 441.5,618.5 441.9,618.5 442.3,618.5 442.7,618.5 443.1,618.5 443.5,618.5 443.9,618.5 444.3,618.5 444.7,618.5 445.1,618.5 445.5,618.4 445.9,618.4 446.3,618.4 446.7,618.4 447.1,618.4 447.5,618.4 447.9,618.4 448.3,618.4 448.7,618.4 449.1,618.4 449.5,618.4 449.9,618.4 450.3,618.4"/>
<polyline fill="none" stroke="#f2418f" stroke-width="1.5" points="275.1,624 275.6,625.2 275.8,626.3 276.4,627.5 275.6,628.6 276.3,629.8 272.7,631 274.5,632.1 276.4,633.3 275.2,634.4 276.2,635.6 273.1,636.8 274.5,637.9 273.6,639.1 274.8,640.2 274.9,641.4 272.7,642.6 273.5,643.7 273.7,644.9 276.3,646 275.7,647.2 273.2,648.4 275.8,649.5 273.2,650.7 275.1,651.8 273.1,653"/>
<g fill="#f2418f"><circle cx="275.1" cy="624" r="1.7"/><circle cx="275.6" cy="625.2" r="1.7"/><circle cx="275.8" cy="626.3" r="1.7"/><circle cx="276.4" cy="627.5" r="1.7"/><circle cx="275.6" cy="628.6" r="1.7"/><circle cx="276.3" cy="629.8" r="1.7"/><circle cx="272.7" cy="631" r="1.7"/><circle cx="274.5" cy="632.1" r="1.7"/><circle cx="276.4" cy="633.3" r="1.7"/><circle cx="275.2" cy="634.4" r="1.7"/><circle cx="276.2" cy="635.6" r="1.7"/><circle cx="273.1" cy="636.8" r="1.7"/><circle cx="274.5" cy="637.9" r="1.7"/><circle cx="273.6" cy="639.1" r="1.7"/><circle cx="274.8" cy="640.2" r="1.7"/><circle cx="274.9" cy="641.4" r="1.7"/><circle cx="272.7" cy="642.6" r="1.7"/><circle cx="273.5" cy="643.7" r="1.7"/><circle cx="273.7" cy="644.9" r="1.7"/><circle cx="276.3" cy="646" r="1.7"/><circle cx="275.7" cy="647.2" r="1.7"/><circle cx="273.2" cy="648.4" r="1.7"/><circle cx="275.8" cy="649.5" r="1.7"/><circle cx="273.2" cy="650.7" r="1.7"/><circle cx="275.1" cy="651.8" r="1.7"/><circle cx="273.1" cy="653" r="1.7"/></g>
<polyline fill="none" stroke="#1fd0c6" stroke-width="1.5" points="277,624 279.8,625.4 277.7,626.7 277.7,628.1 280.1,629.4 279.8,630.8 277.9,632.2 280.1,633.5 278.7,634.9 279.2,636.2 277.7,637.6 280,639 279.2,640.3 280.1,641.7 279.9,643 278,644.4 278.2,645.8 277.5,647.1 277.5,648.5 277.2,649.8 278,651.2 278.9,652.6 277,653.9 279.2,655.3 278.1,656.6 278,658"/>
<g fill="#1fd0c6"><circle cx="277" cy="624" r="1.7"/><circle cx="279.8" cy="625.4" r="1.7"/><circle cx="277.7" cy="626.7" r="1.7"/><circle cx="277.7" cy="628.1" r="1.7"/><circle cx="280.1" cy="629.4" r="1.7"/><circle cx="279.8" cy="630.8" r="1.7"/><circle cx="277.9" cy="632.2" r="1.7"/><circle cx="280.1" cy="633.5" r="1.7"/><circle cx="278.7" cy="634.9" r="1.7"/><circle cx="279.2" cy="636.2" r="1.7"/><circle cx="277.7" cy="637.6" r="1.7"/><circle cx="280" cy="639" r="1.7"/><circle cx="279.2" cy="640.3" r="1.7"/><circle cx="280.1" cy="641.7" r="1.7"/><circle cx="279.9" cy="643" r="1.7"/><circle cx="278" cy="644.4" r="1.7"/><circle cx="278.2" cy="645.8" r="1.7"/><circle cx="277.5" cy="647.1" r="1.7"/><circle cx="277.5" cy="648.5" r="1.7"/><circle cx="277.2" cy="649.8" r="1.7"/><circle cx="278" cy="651.2" r="1.7"/><circle cx="278.9" cy="652.6" r="1.7"/><circle cx="277" cy="653.9" r="1.7"/><circle cx="279.2" cy="655.3" r="1.7"/><circle cx="278.1" cy="656.6" r="1.7"/><circle cx="278" cy="658" r="1.7"/></g>
<polyline fill="none" stroke="#a8a400" stroke-width="1.3" points="107.7,609 108,611.1 108.3,612.4 108.6,611.9 108.8,612 109.1,613.7 109.4,614.8 109.7,616 110,614.8 110.3,615.4 110.6,617.6 110.9,618 111.1,619.3 111.4,619.4 111.7,618.8 112,618.7 112.3,629.1 112.6,619.6 112.9,618.3 113.1,617.6 113.4,622.3 113.7,623 114,621.7 114.3,623.1 114.6,624.7 114.9,626.6 115.1,628.5 115.4,625.8 115.7,619.2 116,628.3 116.3,621.3 116.6,626.1 116.9,621.9 117.2,627.5 117.4,625.1 117.7,629 118,640.1 118.3,628.8 118.6,632.2 118.9,625 119.2,629 119.4,632.7 119.7,630.3 120,632.3 120.3,631.7 120.6,628.1 120.9,633.9 121.2,629.4 121.5,639.1 121.7,631.1 122,635.6 122.3,633.5 122.6,637.1 122.9,631.9 123.2,637.8 123.5,634.2 123.7,639.3 124,637.4 124.3,635.9 124.6,633 124.9,640 125.2,638.7 125.5,645.1 125.7,634.8 126,640 126.3,640 126.6,639.1 126.9,638.9 127.2,639.1 127.5,635.3 127.8,633.4 128,636.8 128.3,642.2 128.6,647.2 128.9,644.7 129.2,645.3 129.5,644.1 129.8,644 130,641.5 130.3,644.8 130.6,650.2 130.9,639.5 131.2,660 131.5,651.9 131.8,643.1 132.1,647.1 132.3,646.8 132.6,636.6 132.9,655.4 133.2,652.2 133.5,644 133.8,647.2 134.1,665 134.3,639.1 134.6,643.3 134.9,646 135.2,650.1 135.5,648.2 135.8,645 136.1,651.9 136.4,641 136.6,649.3 136.9,651.1 137.2,644 137.5,636.4 137.8,641.2 138.1,647.3 138.4,649 138.6,667 138.9,641.4 139.2,646.8 139.5,650.3 139.8,646.2 140.1,634.9 140.4,651.5 140.6,659.5 140.9,652.8 141.2,643 141.5,645.7 141.8,649.1 142.1,684 142.4,651.3 142.7,648.7 142.9,656.3 143.2,647.9 143.5,658 143.8,644.9 144.1,646 144.4,661 144.7,656 144.9,652.1 145.2,650.3 145.5,639.3 145.8,645.1 146.1,645.7 146.4,646.1 146.7,652 147,647.2 147.2,653.1 147.5,649.4 147.8,647.3 148.1,649.6 148.4,662 148.7,653.4 149,646.5 149.2,647.7 149.5,641.8 149.8,657.2 150.1,656.3 150.4,647.8 150.7,646.2 151,642.2 151.2,704 151.5,649.5 151.8,659.7 152.1,649.6 152.4,644.2 152.7,635.5 153,655.5 153.3,649.1 153.5,686 153.8,648.9 154.1,639.5 154.4,665.9 154.7,653.5 155,650.6 155.3,646.6 155.5,636.3 155.8,668 156.1,639.2 156.4,650.3 156.7,636 157,642.3 157.3,653.2 157.6,655.3 157.8,640.5 158.1,657 158.4,651 158.7,650.8 159,641.1 159.3,642.5 159.6,642.4 159.8,639.7 160.1,642.2 160.4,652.2 160.7,649.1 161,656.1 161.3,644.9 161.6,653 161.8,640 162.1,644.3 162.4,638.1 162.7,635.5 163,648.3 163.3,652.1 163.6,648.8 163.9,651.3 164.1,645.6 164.4,640.4 164.7,644.5 165,642.1 165.3,638.1 165.6,635 165.9,636 166.1,643.6 166.4,644.4 166.7,641 167,650.8 167.3,655 167.6,646.3 167.9,649.5 168.2,638.8 168.4,632.7 168.7,646.8 169,639.2 169.3,649.6 169.6,644.4 169.9,647.8 170.2,646.5 170.4,631.6 170.7,646.1 171,638.8 171.3,638.3 171.6,639.9 171.9,646 172.2,646.6 172.4,647.2 172.7,633.2 173,638.7 173.3,629.3 173.6,653 173.9,644.7 174.2,637.5 174.5,642.7 174.7,642.6 175,646.5 175.3,637 175.6,636.9 175.9,637.1 176.2,650.2 176.5,646.7 176.7,640.3 177,642.1 177.3,641.4 177.6,641.8 177.9,639.7 178.2,638.9 178.5,634.1 178.8,637.3 179,649.1 179.3,643.3 179.6,640.8 179.9,654 180.2,640.7 180.5,642.1 180.8,636.9 181,641.2 181.3,641.4 181.6,636.2 181.9,636 182.2,636.3 182.5,636 182.8,643.4 183,631 183.3,638.9 183.6,637.5 183.9,637.5 184.2,640.1 184.5,652 184.8,640 185.1,639.1 185.3,637.3 185.6,639.1 185.9,643 186.2,638 186.5,635.1 186.8,634.6 187.1,635.2 187.3,634.1 187.6,643.5 187.9,640.6 188.2,638.3 188.5,644.7 188.8,636.7 189.1,642 189.4,642.1 189.6,633.2 189.9,633.1 190.2,635.5 190.5,642.4 190.8,671 191.1,634.2 191.4,642.8 191.6,637.3 191.9,637.2 192.2,636.6 192.5,637.4 192.8,631.7 193.1,634.8 193.4,633.8 193.7,656 193.9,646.4 194.2,648.8 194.5,637.1 194.8,631.8 195.1,636.7 195.4,634.7 195.7,645.7 195.9,640.3 196.2,635.4 196.5,641.6 196.8,640.1 197.1,631.8 197.4,635.9 197.7,637 197.9,637.9 198.2,638.3 198.5,636.5 198.8,638.5 199.1,635.5 199.4,634.2 199.7,643.4 200,638.9 200.2,639.2 200.5,631.4 200.8,636.8 201.1,640.5 201.4,632.5 201.7,641.5 202,635.8 202.2,638.8 202.5,636.7 202.8,638 203.1,641.7 203.4,653 203.7,643 204,634 204.3,633.4 204.5,639.6 204.8,632.8 205.1,635.4 205.4,640.2 205.7,641.3 206,629.9 206.3,638.6 206.5,643.8 206.8,641.1 207.1,635.6 207.4,634.2 207.7,635.3 208,632 208.3,635.4 208.5,635.6 208.8,635.7 209.1,640.7 209.4,635.3 209.7,630.6 210,640.1 210.3,632 210.6,634.3 210.8,635.5 211.1,634.7 211.4,632.1 211.7,634.9 212,644.1 212.3,633.5 212.6,635.3 212.8,640 213.1,638.5 213.4,638.6 213.7,638.9 214,628.1 214.3,632.3 214.6,636 214.9,637.4 215.1,640.4 215.4,637.2 215.7,634.5 216,635.5 216.3,634.5 216.6,636.2 216.9,637.8 217.1,633.9 217.4,632.1 217.7,631.9 218,639.3 218.3,639.9 218.6,638.8 218.9,638.2 219.1,638.1 219.4,634.9 219.7,637.4 220,630.8 220.3,634 220.6,632 220.9,637.5 221.2,632.5 221.4,634.2 221.7,636.1 222,639.7 222.3,631.5 222.6,630.9 222.9,637.5 223.2,630.2 223.4,636 223.7,632.1 224,633.8 224.3,627.3 224.6,654 224.9,632.2 225.2,630.6 225.5,641.9 225.7,636.6 226,647.2 226.3,635.4 226.6,632.5 226.9,634.1 227.2,639.8 227.5,633.5 227.7,635.3 228,635.5 228.3,630 228.6,633.9 228.9,631.4 229.2,628.6 229.5,636.6 229.7,635.7 230,633.4 230.3,629.6 230.6,625.4 230.9,634.8 231.2,632.6 231.5,626.5 231.8,632.6 232,627 232.3,632.6 232.6,633.2 232.9,634 233.2,633.4 233.5,633.2 233.8,630.2 234,631.7 234.3,631.4 234.6,631.9 234.9,632.9 235.2,633.5 235.5,635.5 235.8,627 236.1,632.9 236.3,631.7 236.6,636.6 236.9,633.9 237.2,628.7 237.5,632.7 237.8,630.8 238.1,633.8 238.3,629.7 238.6,631.5 238.9,631.4 239.2,631.5 239.5,630.5 239.8,627.9 240.1,632.5 240.3,633.5 240.6,631.3 240.9,629.4 241.2,631.8 241.5,632.5 241.8,630.9 242.1,631.2 242.4,634 242.6,628.9 242.9,630 243.2,627.3 243.5,629.6 243.8,629.5 244.1,629 244.4,629.5 244.6,634.5 244.9,630.4 245.2,630.6 245.5,635.2 245.8,630.6 246.1,627.2 246.4,631.4 246.7,628.7 246.9,633.8 247.2,628 247.5,629.3 247.8,627.2 248.1,630.6 248.4,628.3 248.7,630.2 248.9,629.5 249.2,629 249.5,632.1 249.8,632 250.1,630.2 250.4,628.3 250.7,627.9 251,630.5 251.2,634.7 251.5,629 251.8,628.3 252.1,628.5 252.4,627.6 252.7,627.8 253,629.3 253.2,632.6 253.5,629.7 253.8,628.6 254.1,626.4 254.4,630 254.7,629.5 255,627 255.2,627.3 255.5,629.3 255.8,631.4 256.1,630.6 256.4,629.7 256.7,628.6 257,629.9 257.3,629.2 257.5,633.5 257.8,626.9 258.1,628.4 258.4,631.6 258.7,628.5 259,631.8 259.3,628.9 259.5,629.2 259.8,628.1 260.1,626.1 260.4,626.8 260.7,633.2 261,630 261.3,629.9 261.6,630.5 261.8,629.7 262.1,630.6 262.4,628 262.7,628 263,630.4 263.3,627.7 263.6,625.7 263.8,627.8 264.1,627.1 264.4,629.4 264.7,626.7 265,626 265.3,627.4 265.6,631.1 265.8,627.9 266.1,628.2 266.4,627.9 266.7,628.4 267,629.6 267.3,630.5 267.6,624.4 267.9,630.3 268.1,627.6 268.4,626.9 268.7,632.3 269,627.1 269.3,631.2 269.6,629.2 269.9,625.2 270.1,628.2 270.4,628.6 270.7,626.8 271,622.3 271.3,626.3 271.6,626.5 271.9,624.6 272.2,630.4 272.4,626.2 272.7,625.9 273,626 273.3,625 273.6,624.9 273.9,626.6 274.2,626.9 274.4,625.2 274.7,626 275,623.3 275.3,627 275.6,624.4 275.9,626.2 276.2,623.9 276.4,624.6 276.7,625.7 277,624.3 277.3,627.4 277.6,625 277.9,624.8 278.2,624 278.5,625.9 278.7,625.4 279,624.2 279.3,622.5 279.6,623 279.9,623.8 280.2,622.5 280.5,621.6 280.7,621.3 281,621.4 281.3,622 281.6,621.3 281.9,621.9 282.2,624.3 282.5,623.4 282.8,620.8 283,622 283.3,621.7 283.6,621.5 283.9,622.5 284.2,621.2 284.5,621.2 284.8,621.2 285,621.4 285.3,622.7 285.6,622.2 285.9,620.3 286.2,621.1 286.5,620.8 286.8,622.2 287,621.7 287.3,622.3 287.6,621.4 287.9,619.8 288.2,621.9 288.5,621.7 288.8,622 289.1,620.3 289.3,621.6 289.6,620.9 289.9,620.9 290.2,621.8 290.5,621.8 290.8,620.7 291.1,620 291.3,619.3 291.6,621 291.9,622.5 292.2,621.5 292.5,619.5 292.8,620.7 293.1,621.9 293.4,623 293.6,622.6 293.9,621.8 294.2,621.7 294.5,620.5 294.8,621.1 295.1,621.2 295.4,620.8 295.6,621.6 295.9,621.1 296.2,621.8 296.5,622.8 296.8,622.2 297.1,621.9 297.4,621.3 297.6,620.1 297.9,621.4 298.2,622 298.5,620.6 298.8,622.6 299.1,621.2 299.4,621.8 299.7,621.2 299.9,620.4 300.2,623.4 300.5,620.5 300.8,622.3 301.1,621 301.4,621.8 301.7,620.8 301.9,621.1 302.2,622.3 302.5,623.3 302.8,620.7 303.1,621.5 303.4,622.4 303.7,620.9 304,622.1 304.2,620.8 304.5,622 304.8,621.9 305.1,622.6 305.4,621.8 305.7,620.4 306,622.1 306.2,620.5 306.5,622.2 306.8,622.9 307.1,622 307.4,621 307.7,622.6 308,621.7 308.2,620.4 308.5,621.2 308.8,622.8 309.1,621.2 309.4,621.6 309.7,621.2 310,620 310.3,621 310.5,621.8 310.8,621.7 311.1,621.3 311.4,619.6 311.7,622.6 312,622.1 312.3,622.4 312.5,622.7 312.8,621.1 313.1,621 313.4,621.8 313.7,623 314,620 314.3,621.3 314.6,620.9 314.8,622 315.1,622.8 315.4,621.2 315.7,620.4 316,621.5 316.3,621.2 316.6,620.1 316.8,622.3 317.1,621 317.4,622.1 317.7,620.3 318,622.5 318.3,620.2 318.6,622.4 318.9,619.9 319.1,622.7 319.4,621.2 319.7,620.1 320,621.3 320.3,621.8 320.6,620.6 320.9,621.1 321.1,621.7 321.4,621.3 321.7,618.7 322,621.1 322.3,621.9 322.6,621.8 322.9,622.4 323.1,620.9 323.4,623.8 323.7,622.2 324,621.8 324.3,622.5 324.6,622.4 324.9,621.6 325.2,620.9 325.4,622.4 325.7,621.9 326,619.8 326.3,620.5 326.6,621.9 326.9,621.6 327.2,621.8 327.4,622.1 327.7,621.6 328,622.9 328.3,621 328.6,621.1 328.9,621.8 329.2,622.2 329.5,622.2 329.7,622.8 330,621.1 330.3,622.6 330.6,621.9 330.9,620.6 331.2,621.4 331.5,623.4 331.7,622.2 332,621.1 332.3,619.3 332.6,620.8 332.9,620.9 333.2,621.6 333.5,623.6 333.7,622.2 334,621.8 334.3,620.7 334.6,620.4 334.9,621.3 335.2,621.1 335.5,624.2 335.8,621.1 336,620.9 336.3,622.5 336.6,621.6 336.9,620.4 337.2,622.7 337.5,621.2 337.8,620.3 338,621.8 338.3,621.9 338.6,621.2 338.9,622.1 339.2,622.2 339.5,620.7 339.8,619.6 340.1,619.3 340.3,621.4 340.6,622.6 340.9,622.4 341.2,622.8 341.5,623.2 341.8,621.5 342.1,622.5 342.3,620.1 342.6,622.1 342.9,621.9 343.2,621.4 343.5,621.1 343.8,620.5 344.1,621.6 344.3,622.6 344.6,621.2 344.9,622 345.2,620.9 345.5,621.7 345.8,620.6 346.1,621.8 346.4,621.3 346.6,621.8 346.9,621 347.2,620.4 347.5,621.2 347.8,622.4 348.1,622.9 348.4,621.2 348.6,622.2 348.9,622.2 349.2,621.9 349.5,620.1 349.8,621.8 350.1,620.6 350.4,622.6 350.7,622.2 350.9,622.1 351.2,619.2 351.5,622.1 351.8,622.1 352.1,620.4 352.4,622.4 352.7,621.6 352.9,621.3 353.2,620.9 353.5,620.6 353.8,621.1 354.1,624.3 354.4,621.7 354.7,621.7 354.9,620.9 355.2,620.9 355.5,621 355.8,620.7 356.1,622.3 356.4,621.3 356.7,622.3 357,620.5 357.2,622.3 357.5,621.5 357.8,622.1 358.1,621.4 358.4,620.7 358.7,622.6 359,621.1 359.2,621.4 359.5,620.7 359.8,621.7 360.1,621.1 360.4,621.8 360.7,621.8 361,620.9 361.3,620.2 361.5,621.9 361.8,622.3 362.1,622.1 362.4,620.5 362.7,622 363,621.8 363.3,621.8 363.5,621.9 363.8,621.2 364.1,621.7 364.4,622.3 364.7,621 365,620.2 365.3,621.4 365.6,621.7 365.8,619.8 366.1,620.9 366.4,622 366.7,621.4 367,621.6 367.3,620.4 367.6,622.3 367.8,623.1 368.1,621.3 368.4,620.8 368.7,620.5 369,622.3 369.3,621.6 369.6,620.8 369.8,622.6 370.1,622.2 370.4,622 370.7,619.9 371,621.4 371.3,622.1 371.6,620.4 371.9,622.3 372.1,622.8 372.4,622.4 372.7,620.9 373,620.9 373.3,622.3 373.6,622.4 373.9,622.6 374.1,622.6 374.4,621.4 374.7,621.1 375,619.8 375.3,622.2 375.6,623.5 375.9,621.1 376.2,621.1 376.4,622.1 376.7,621.8 377,620.3 377.3,620.9 377.6,620.5 377.9,623.3 378.2,620.9 378.4,622.3 378.7,623.2 379,623.2 379.3,622.8 379.6,623 379.9,620.4 380.2,621.2 380.4,620.8 380.7,621.2 381,623.9 381.3,620 381.6,622 381.9,620.4 382.2,622.7 382.5,622.7 382.7,621 383,623.4 383.3,621.6 383.6,622.7 383.9,621.8 384.2,621 384.5,621.2 384.7,621.4 385,622.1 385.3,621.6 385.6,623.6 385.9,621.3 386.2,621.1 386.5,620.9 386.8,620.8 387,620.2 387.3,620.6 387.6,622.3 387.9,621.6 388.2,621.3 388.5,621.8 388.8,622.5 389,622.1 389.3,622.2 389.6,621 389.9,621.3 390.2,620.8 390.5,621.4 390.8,620.8 391,621.2 391.3,621.3 391.6,621.3 391.9,621.3 392.2,621.1 392.5,622.7 392.8,621.2 393.1,620.6 393.3,621.7 393.6,620.5 393.9,620.5 394.2,621.6 394.5,620 394.8,618.6 395.1,621.8 395.3,622.4 395.6,620 395.9,620.7 396.2,622 396.5,619.7 396.8,620.7 397.1,620.4 397.4,621.3 397.6,619.7 397.9,622.3 398.2,621.4 398.5,621.8 398.8,621.2 399.1,619.6 399.4,621.4 399.6,620.3 399.9,621.5 400.2,620.7 400.5,621.2 400.8,621.3 401.1,622.2 401.4,622.2 401.6,620.6 401.9,621.5 402.2,622.8 402.5,621.9 402.8,620.8 403.1,621.4 403.4,621.2 403.7,622.3 403.9,621.5 404.2,621.8 404.5,623.5 404.8,620.3 405.1,620.6 405.4,619.9 405.7,620.1 405.9,622.3 406.2,621.8 406.5,623 406.8,619.7 407.1,620.7 407.4,622.8 407.7,622.4 408,622.3 408.2,622.3 408.5,621.5 408.8,621.5 409.1,621.5 409.4,622.3 409.7,621.4 410,621.8 410.2,622.8 410.5,620.5 410.8,620.8 411.1,622 411.4,621.3 411.7,621.4 412,623.4 412.2,621.9 412.5,621.1 412.8,622.5 413.1,623.8 413.4,620.5 413.7,620.9 414,621.6 414.3,620.9 414.5,623.5 414.8,622 415.1,621.1 415.4,621.9 415.7,620.8 416,621 416.3,621.6 416.5,623.6 416.8,619.5 417.1,621.9 417.4,622.7 417.7,622.2 418,623.2 418.3,621.9 418.6,621.6 418.8,621.4 419.1,620.7 419.4,623 419.7,620.4 420,621.4 420.3,621 420.6,620.8 420.8,619.5 421.1,621.2 421.4,621.6 421.7,621.6 422,622.3 422.3,621.4 422.6,620.9 422.9,621.8 423.1,622.1 423.4,620.7 423.7,620.1 424,620.6 424.3,622.5 424.6,622.4 424.9,620.7 425.1,621.6 425.4,622.3 425.7,622.7 426,620.9 426.3,621.3 426.6,622.8 426.9,623.7 427.1,622.9 427.4,620.5 427.7,621.9 428,621.2 428.3,621.4 428.6,620.9 428.9,621.1 429.2,621.5 429.4,623.1 429.7,622.1 430,621.9 430.3,621.5 430.6,620.8 430.9,621.3 431.2,622.6 431.4,622.2 431.7,623.3 432,621.7 432.3,621.5 432.6,620 432.9,621.9 433.2,619.9 433.5,622.9 433.7,620.9 434,621.5 434.3,620.3 434.6,621.1 434.9,620.7 435.2,622.5 435.5,621.7 435.7,620.4 436,619.8 436.3,621.4 436.6,621.1 436.9,620.5 437.2,622 437.5,621.3 437.7,621.6 438,621 438.3,621 438.6,621.1 438.9,620.1 439.2,622.1 439.5,621.9 439.8,619.9 440,621.6 440.3,622.5 440.6,621.7 440.9,622.7 441.2,621.3 441.5,621.5 441.8,620.3 442,620.7 442.3,619.9 442.6,620.7 442.9,621.7 443.2,622 443.5,622.5 443.8,621.6 444.1,620.6 444.3,621.9 444.6,621.4 444.9,623.1 445.2,623.3 445.5,622.4 445.8,620.5 446.1,621 446.3,621.7 446.6,620.9 446.9,622 447.2,622.1 447.5,622.3 447.8,621.7 448.1,620.7 448.3,620.7 448.6,621.4 448.9,622.7 449.2,622.9 449.5,622.4 449.8,621.8 450.1,622.1 450.4,622.2 450.6,622.7 450.9,622.3 451.2,620.1 451.5,622.4"/>
<g fill="#000">
<circle cx="107.7" cy="609" r="2.5"/>
<circle cx="108" cy="611.1" r="2.5"/>
<circle cx="108.3" cy="612.4" r="2.5"/>
<circle cx="108.6" cy="611.9" r="2.5"/>
<circle cx="108.8" cy="612" r="2.5"/>
<circle cx="109.1" cy="613.7" r="2.5"/>
<circle cx="109.4" cy="614.8" r="2.5"/>
<circle cx="109.7" cy="616" r="2.5"/>
<circle cx="110" cy="614.8" r="2.5"/>
<circle cx="110.3" cy="615.4" r="2.5"/>
<circle cx="110.6" cy="617.6" r="2.5"/>
<circle cx="110.9" cy="618" r="2.5"/>
<circle cx="111.1" cy="619.3" r="2.5"/>
<circle cx="111.4" cy="619.4" r="2.5"/>
<circle cx="111.7" cy="618.8" r="2.5"/>
<circle cx="112" cy="618.7" r="2.5"/>
<circle cx="112.3" cy="629.1" r="2.5"/>
<circle cx="112.6" cy="619.6" r="2.5"/>
<circle cx="112.9" cy="618.3" r="2.5"/>
<circle cx="113.1" cy="617.6" r="2.5"/>
<circle cx="113.4" cy="622.3" r="2.5"/>
<circle cx="113.7" cy="623" r="2.5"/>
<circle cx="114" cy="621.7" r="2.5"/>
<circle cx="114.3" cy="623.1" r="2.5"/>
<circle cx="114.6" cy="624.7" r="2.5"/>
<circle cx="114.9" cy="626.6" r="2.5"/>
<circle cx="115.1" cy="628.5" r="2.5"/>
<circle cx="115.4" cy="625.8" r="2.5"/>
<circle cx="115.7" cy="619.2" r="2.5"/>
<circle cx="116" cy="628.3" r="2.5"/>
<circle cx="116.3" cy="621.3" r="2.5"/>
<circle cx="116.6" cy="626.1" r="2.5"/>
<circle cx="116.9" cy="621.9" r="2.5"/>
<circle cx="117.2" cy="627.5" r="2.5"/>
<circle cx="117.4" cy="625.1" r="2.5"/>
<circle cx="117.7" cy="629" r="2.5"/>
<circle cx="118" cy="640.1" r="2.5"/>
<circle cx="118.3" cy="628.8" r="2.5"/>
<circle cx="118.6" cy="632.2" r="2.5"/>
<circle cx="118.9" cy="625" r="2.5"/>
<circle cx="119.2" cy="629" r="2.5"/>
<circle cx="119.4" cy="632.7" r="2.5"/>
<circle cx="119.7" cy="630.3" r="2.5"/>
<circle cx="120" cy="632.3" r="2.5"/>
<circle cx="120.3" cy="631.7" r="2.5"/>
<circle cx="120.6" cy="628.1" r="2.5"/>
<circle cx="120.9" cy="633.9" r="2.5"/>
<circle cx="121.2" cy="629.4" r="2.5"/>
<circle cx="121.5" cy="639.1" r="2.5"/>
<circle cx="121.7" cy="631.1" r="2.5"/>
<circle cx="122" cy="635.6" r="2.5"/>
<circle cx="122.3" cy="633.5" r="2.5"/>
<circle cx="122.6" cy="637.1" r="2.5"/>
<circle cx="122.9" cy="631.9" r="2.5"/>
<circle cx="123.2" cy="637.8" r="2.5"/>
<circle cx="123.5" cy="634.2" r="2.5"/>
<circle cx="123.7" cy="639.3" r="2.5"/>
<circle cx="124" cy="637.4" r="2.5"/>
<circle cx="124.3" cy="635.9" r="2.5"/>
<circle cx="124.6" cy="633" r="2.5"/>
<circle cx="124.9" cy="640" r="2.5"/>
<circle cx="125.2" cy="638.7" r="2.5"/>
<circle cx="125.5" cy="645.1" r="2.5"/>
<circle cx="125.7" cy="634.8" r="2.5"/>
<circle cx="126" cy="640" r="2.5"/>
<circle cx="126.3" cy="640" r="2.5"/>
<circle cx="126.6" cy="639.1" r="2.5"/>
<circle cx="126.9" cy="638.9" r="2.5"/>
<circle cx="127.2" cy="639.1" r="2.5"/>
<circle cx="127.5" cy="635.3" r="2.5"/>
<circle cx="127.8" cy="633.4" r="2.5"/>
<circle cx="128" cy="636.8" r="2.5"/>
<circle cx="128.3" cy="642.2" r="2.5"/>
<circle cx="128.6" cy="647.2" r="2.5"/>
<circle cx="128.9" cy="644.7" r="2.5"/>
<circle cx="129.2" cy="645.3" r="2.5"/>
<circle cx="129.5" cy="644.1" r="2.5"/>
<circle cx="129.8" cy="644" r="2.5"/>
<circle cx="130" cy="641.5" r="2.5"/>
<circle cx="130.3" cy="644.8" r="2.5"/>
<circle cx="130.6" cy="650.2" r="2.5"/>
<circle cx="130.9" cy="639.5" r="2.5"/>
<circle cx="131.2" cy="660" r="2.5"/>
<circle cx="131.5" cy="651.9" r="2.5"/>
<circle cx="131.8" cy="643.1" r="2.5"/>
<circle cx="132.1" cy="647.1" r="2.5"/>
<circle cx="132.3" cy="646.8" r="2.5"/>
<circle cx="132.6" cy="636.6" r="2.5"/>
<circle cx="132.9" cy="655.4" r="2.5"/>
<circle cx="133.2" cy="652.2" r="2.5"/>
<circle cx="133.5" cy="644" r="2.5"/>
<circle cx="133.8" cy="647.2" r="2.5"/>
<circle cx="134.1" cy="665" r="2.5"/>
<circle cx="134.3" cy="639.1" r="2.5"/>
<circle cx="134.6" cy="643.3" r="2.5"/>
<circle cx="134.9" cy="646" r="2.5"/>
<circle cx="135.2" cy="650.1" r="2.5"/>
<circle cx="135.5" cy="648.2" r="2.5"/>
<circle cx="135.8" cy="645" r="2.5"/>
<circle cx="136.1" cy="651.9" r="2.5"/>
<circle cx="136.4" cy="641" r="2.5"/>
<circle cx="136.6" cy="649.3" r="2.5"/>
<circle cx="136.9" cy="651.1" r="2.5"/>
<circle cx="137.2" cy="644" r="2.5"/>
<circle cx="137.5" cy="636.4" r="2.5"/>
<circle cx="137.8" cy="641.2" r="2.5"/>
<circle cx="138.1" cy="647.3" r="2.5"/>
<circle cx="138.4" cy="649" r="2.5"/>
<circle cx="138.6" cy="667" r="2.5"/>
<circle cx="138.9" cy="641.4" r="2.5"/>
<circle cx="139.2" cy="646.8" r="2.5"/>
<circle cx="139.5" cy="650.3" r="2.5"/>
<circle cx="139.8" cy="646.2" r="2.5"/>
<circle cx="140.1" cy="634.9" r="2.5"/>
<circle cx="140.4" cy="651.5" r="2.5"/>
<circle cx="140.6" cy="659.5" r="2.5"/>
<circle cx="140.9" cy="652.8" r="2.5"/>
<circle cx="141.2" cy="643" r="2.5"/>
<circle cx="141.5" cy="645.7" r="2.5"/>
<circle cx="141.8" cy="649.1" r="2.5"/>
<circle cx="142.1" cy="684" r="2.5"/>
<circle cx="142.4" cy="651.3" r="2.5"/>
<circle cx="142.7" cy="648.7" r="2.5"/>
<circle cx="142.9" cy="656.3" r="2.5"/>
<circle cx="143.2" cy="647.9" r="2.5"/>
<circle cx="143.5" cy="658" r="2.5"/>
<circle cx="143.8" cy="644.9" r="2.5"/>
<circle cx="144.1" cy="646" r="2.5"/>
<circle cx="144.4" cy="661" r="2.5"/>
<circle cx="144.7" cy="656" r="2.5"/>
<circle cx="144.9" cy="652.1" r="2.5"/>
<circle cx="145.2" cy="650.3" r="2.5"/>
<circle cx="145.5" cy="639.3" r="2.5"/>
<circle cx="145.8" cy="645.1" r="2.5"/>
<circle cx="146.1" cy="645.7" r="2.5"/>
<circle cx="146.4" cy="646.1" r="2.5"/>
<circle cx="146.7" cy="652" r="2.5"/>
<circle cx="147" cy="647.2" r="2.5"/>
<circle cx="147.2" cy="653.1" r="2.5"/>
<circle cx="147.5" cy="649.4" r="2.5"/>
<circle cx="147.8" cy="647.3" r="2.5"/>
<circle cx="148.1" cy="649.6" r="2.5"/>
<circle cx="148.4" cy="662" r="2.5"/>
<circle cx="148.7" cy="653.4" r="2.5"/>
<circle cx="149" cy="646.5" r="2.5"/>
<circle cx="149.2" cy="647.7" r="2.5"/>
<circle cx="149.5" cy="641.8" r="2.5"/>
<circle cx="149.8" cy="657.2" r="2.5"/>
<circle cx="150.1" cy="656.3" r="2.5"/>
<circle cx="150.4" cy="647.8" r="2.5"/>
<circle cx="150.7" cy="646.2" r="2.5"/>
<circle cx="151" cy="642.2" r="2.5"/>
<circle cx="151.2" cy="704" r="2.5"/>
<circle cx="151.5" cy="649.5" r="2.5"/>
<circle cx="151.8" cy="659.7" r="2.5"/>
<circle cx="152.1" cy="649.6" r="2.5"/>
<circle cx="152.4" cy="644.2" r="2.5"/>
<circle cx="152.7" cy="635.5" r="2.5"/>
<circle cx="153" cy="655.5" r="2.5"/>
<circle cx="153.3" cy="649.1" r="2.5"/>
<circle cx="153.5" cy="686" r="2.5"/>
<circle cx="153.8" cy="648.9" r="2.5"/>
<circle cx="154.1" cy="639.5" r="2.5"/>
<circle cx="154.4" cy="665.9" r="2.5"/>
<circle cx="154.7" cy="653.5" r="2.5"/>
<circle cx="155" cy="650.6" r="2.5"/>
<circle cx="155.3" cy="646.6" r="2.5"/>
<circle cx="155.5" cy="636.3" r="2.5"/>
<circle cx="155.8" cy="668" r="2.5"/>
<circle cx="156.1" cy="639.2" r="2.5"/>
<circle cx="156.4" cy="650.3" r="2.5"/>
<circle cx="156.7" cy="636" r="2.5"/>
<circle cx="157" cy="642.3" r="2.5"/>
<circle cx="157.3" cy="653.2" r="2.5"/>
<circle cx="157.6" cy="655.3" r="2.5"/>
<circle cx="157.8" cy="640.5" r="2.5"/>
<circle cx="158.1" cy="657" r="2.5"/>
<circle cx="158.4" cy="651" r="2.5"/>
<circle cx="158.7" cy="650.8" r="2.5"/>
<circle cx="159" cy="641.1" r="2.5"/>
<circle cx="159.3" cy="642.5" r="2.5"/>
<circle cx="159.6" cy="642.4" r="2.5"/>
<circle cx="159.8" cy="639.7" r="2.5"/>
<circle cx="160.1" cy="642.2" r="2.5"/>
<circle cx="160.4" cy="652.2" r="2.5"/>
<circle cx="160.7" cy="649.1" r="2.5"/>
<circle cx="161" cy="656.1" r="2.5"/>
<circle cx="161.3" cy="644.9" r="2.5"/>
<circle cx="161.6" cy="653" r="2.5"/>
<circle cx="161.8" cy="640" r="2.5"/>
<circle cx="162.1" cy="644.3" r="2.5"/>
<circle cx="162.4" cy="638.1" r="2.5"/>
<circle cx="162.7" cy="635.5" r="2.5"/>
<circle cx="163" cy="648.3" r="2.5"/>
<circle cx="163.3" cy="652.1" r="2.5"/>
<circle cx="163.6" cy="648.8" r="2.5"/>
<circle cx="163.9" cy="651.3" r="2.5"/>
<circle cx="164.1" cy="645.6" r="2.5"/>
<circle cx="164.4" cy="640.4" r="2.5"/>
<circle cx="164.7" cy="644.5" r="2.5"/>
<circle cx="165" cy="642.1" r="2.5"/>
<circle cx="165.3" cy="638.1" r="2.5"/>
<circle cx="165.6" cy="635" r="2.5"/>
<circle cx="165.9" cy="636" r="2.5"/>
<circle cx="166.1" cy="643.6" r="2.5"/>
<circle cx="166.4" cy="644.4" r="2.5"/>
<circle cx="166.7" cy="641" r="2.5"/>
<circle cx="167" cy="650.8" r="2.5"/>
<circle cx="167.3" cy="655" r="2.5"/>
<circle cx="167.6" cy="646.3" r="2.5"/>
<circle cx="167.9" cy="649.5" r="2.5"/>
<circle cx="168.2" cy="638.8" r="2.5"/>
<circle cx="168.4" cy="632.7" r="2.5"/>
<circle cx="168.7" cy="646.8" r="2.5"/>
<circle cx="169" cy="639.2" r="2.5"/>
<circle cx="169.3" cy="649.6" r="2.5"/>
<circle cx="169.6" cy="644.4" r="2.5"/>
<circle cx="169.9" cy="647.8" r="2.5"/>
<circle cx="170.2" cy="646.5" r="2.5"/>
<circle cx="170.4" cy="631.6" r="2.5"/>
<circle cx="170.7" cy="646.1" r="2.5"/>
<circle cx="171" cy="638.8" r="2.5"/>
<circle cx="171.3" cy="638.3" r="2.5"/>
<circle cx="171.6" cy="639.9" r="2.5"/>
<circle cx="171.9" cy="646" r="2.5"/>
<circle cx="172.2" cy="646.6" r="2.5"/>
<circle cx="172.4" cy="647.2" r="2.5"/>
<circle cx="172.7" cy="633.2" r="2.5"/>
<circle cx="173" cy="638.7" r="2.5"/>
<circle cx="173.3" cy="629.3" r="2.5"/>
<circle cx="173.6" cy="653" r="2.5"/>
<circle cx="173.9" cy="644.7" r="2.5"/>
<circle cx="174.2" cy="637.5" r="2.5"/>
<circle cx="174.5" cy="642.7" r="2.5"/>
<circle cx="174.7" cy="642.6" r="2.5"/>
<circle cx="175" cy="646.5" r="2.5"/>
<circle cx="175.3" cy="637" r="2.5"/>
<circle cx="175.6" cy="636.9" r="2.5"/>
<circle cx="175.9" cy="637.1" r="2.5"/>
<circle cx="176.2" cy="650.2" r="2.5"/>
<circle cx="176.5" cy="646.7" r="2.5"/>
<circle cx="176.7" cy="640.3" r="2.5"/>
<circle cx="177" cy="642.1" r="2.5"/>
<circle cx="177.3" cy="641.4" r="2.5"/>
<circle cx="177.6" cy="641.8" r="2.5"/>
<circle cx="177.9" cy="639.7" r="2.5"/>
<circle cx="178.2" cy="638.9" r="2.5"/>
<circle cx="178.5" cy="634.1" r="2.5"/>
<circle cx="178.8" cy="637.3" r="2.5"/>
<circle cx="179" cy="649.1" r="2.5"/>
<circle cx="179.3" cy="643.3" r="2.5"/>
<circle cx="179.6" cy="640.8" r="2.5"/>
<circle cx="179.9" cy="654" r="2.5"/>
<circle cx="180.2" cy="640.7" r="2.5"/>
<circle cx="180.5" cy="642.1" r="2.5"/>
<circle cx="180.8" cy="636.9" r="2.5"/>
<circle cx="181" cy="641.2" r="2.5"/>
<circle cx="181.3" cy="641.4" r="2.5"/>
<circle cx="181.6" cy="636.2" r="2.5"/>
<circle cx="181.9" cy="636" r="2.5"/>
<circle cx="182.2" cy="636.3" r="2.5"/>
<circle cx="182.5" cy="636" r="2.5"/>
<circle cx="182.8" cy="643.4" r="2.5"/>
<circle cx="183" cy="631" r="2.5"/>
<circle cx="183.3" cy="638.9" r="2.5"/>
<circle cx="183.6" cy="637.5" r="2.5"/>
<circle cx="183.9" cy="637.5" r="2.5"/>
<circle cx="184.2" cy="640.1" r="2.5"/>
<circle cx="184.5" cy="652" r="2.5"/>
<circle cx="184.8" cy="640" r="2.5"/>
<circle cx="185.1" cy="639.1" r="2.5"/>
<circle cx="185.3" cy="637.3" r="2.5"/>
<circle cx="185.6" cy="639.1" r="2.5"/>
<circle cx="185.9" cy="643" r="2.5"/>
<circle cx="186.2" cy="638" r="2.5"/>
<circle cx="186.5" cy="635.1" r="2.5"/>
<circle cx="186.8" cy="634.6" r="2.5"/>
<circle cx="187.1" cy="635.2" r="2.5"/>
<circle cx="187.3" cy="634.1" r="2.5"/>
<circle cx="187.6" cy="643.5" r="2.5"/>
<circle cx="187.9" cy="640.6" r="2.5"/>
<circle cx="188.2" cy="638.3" r="2.5"/>
<circle cx="188.5" cy="644.7" r="2.5"/>
<circle cx="188.8" cy="636.7" r="2.5"/>
<circle cx="189.1" cy="642" r="2.5"/>
<circle cx="189.4" cy="642.1" r="2.5"/>
<circle cx="189.6" cy="633.2" r="2.5"/>
<circle cx="189.9" cy="633.1" r="2.5"/>
<circle cx="190.2" cy="635.5" r="2.5"/>
<circle cx="190.5" cy="642.4" r="2.5"/>
<circle cx="190.8" cy="671" r="2.5"/>
<circle cx="191.1" cy="634.2" r="2.5"/>
<circle cx="191.4" cy="642.8" r="2.5"/>
<circle cx="191.6" cy="637.3" r="2.5"/>
<circle cx="191.9" cy="637.2" r="2.5"/>
<circle cx="192.2" cy="636.6" r="2.5"/>
<circle cx="192.5" cy="637.4" r="2.5"/>
<circle cx="192.8" cy="631.7" r="2.5"/>
<circle cx="193.1" cy="634.8" r="2.5"/>
<circle cx="193.4" cy="633.8" r="2.5"/>
<circle cx="193.7" cy="656" r="2.5"/>
<circle cx="193.9" cy="646.4" r="2.5"/>
<circle cx="194.2" cy="648.8" r="2.5"/>
<circle cx="194.5" cy="637.1" r="2.5"/>
<circle cx="194.8" cy="631.8" r="2.5"/>
<circle cx="195.1" cy="636.7" r="2.5"/>
<circle cx="195.4" cy="634.7" r="2.5"/>
<circle cx="195.7" cy="645.7" r="2.5"/>
<circle cx="195.9" cy="640.3" r="2.5"/>
<circle cx="196.2" cy="635.4" r="2.5"/>
<circle cx="196.5" cy="641.6" r="2.5"/>
<circle cx="196.8" cy="640.1" r="2.5"/>
<circle cx="197.1" cy="631.8" r="2.5"/>
<circle cx="197.4" cy="635.9" r="2.5"/>
<circle cx="197.7" cy="637" r="2.5"/>
<circle cx="197.9" cy="637.9" r="2.5"/>
<circle cx="198.2" cy="638.3" r="2.5"/>
<circle cx="198.5" cy="636.5" r="2.5"/>
<circle cx="198.8" cy="638.5" r="2.5"/>
<circle cx="199.1" cy="635.5" r="2.5"/>
<circle cx="199.4" cy="634.2" r="2.5"/>
<circle cx="199.7" cy="643.4" r="2.5"/>
<circle cx="200" cy="638.9" r="2.5"/>
<circle cx="200.2" cy="639.2" r="2.5"/>
<circle cx="200.5" cy="631.4" r="2.5"/>
<circle cx="200.8" cy="636.8" r="2.5"/>
<circle cx="201.1" cy="640.5" r="2.5"/>
<circle cx="201.4" cy="632.5" r="2.5"/>
<circle cx="201.7" cy="641.5" r="2.5"/>
<circle cx="202" cy="635.8" r="2.5"/>
<circle cx="202.2" cy="638.8" r="2.5"/>
<circle cx="202.5" cy="636.7" r="2.5"/>
<circle cx="202.8" cy="638" r="2.5"/>
<circle cx="203.1" cy="641.7" r="2.5"/>
<circle cx="203.4" cy="653" r="2.5"/>
<circle cx="203.7" cy="643" r="2.5"/>
<circle cx="204" cy="634" r="2.5"/>
<circle cx="204.3" cy="633.4" r="2.5"/>
<circle cx="204.5" cy="639.6" r="2.5"/>
<circle cx="204.8" cy="632.8" r="2.5"/>
<circle cx="205.1" cy="635.4" r="2.5"/>
<circle cx="205.4" cy="640.2" r="2.5"/>
<circle cx="205.7" cy="641.3" r="2.5"/>
<circle cx="206" cy="629.9" r="2.5"/>
<circle cx="206.3" cy="638.6" r="2.5"/>
<circle cx="206.5" cy="643.8" r="2.5"/>
<circle cx="206.8" cy="641.1" r="2.5"/>
<circle cx="207.1" cy="635.6" r="2.5"/>
<circle cx="207.4" cy="634.2" r="2.5"/>
<circle cx="207.7" cy="635.3" r="2.5"/>
<circle cx="208" cy="632" r="2.5"/>
<circle cx="208.3" cy="635.4" r="2.5"/>
<circle cx="208.5" cy="635.6" r="2.5"/>
<circle cx="208.8" cy="635.7" r="2.5"/>
<circle cx="209.1" cy="640.7" r="2.5"/>
<circle cx="209.4" cy="635.3" r="2.5"/>
<circle cx="209.7" cy="630.6" r="2.5"/>
<circle cx="210" cy="640.1" r="2.5"/>
<circle cx="210.3" cy="632" r="2.5"/>
<circle cx="210.6" cy="634.3" r="2.5"/>
<circle cx="210.8" cy="635.5" r="2.5"/>
<circle cx="211.1" cy="634.7" r="2.5"/>
<circle cx="211.4" cy="632.1" r="2.5"/>
<circle cx="211.7" cy="634.9" r="2.5"/>
<circle cx="212" cy="644.1" r="2.5"/>
<circle cx="212.3" cy="633.5" r="2.5"/>
<circle cx="212.6" cy="635.3" r="2.5"/>
<circle cx="212.8" cy="640" r="2.5"/>
<circle cx="213.1" cy="638.5" r="2.5"/>
<circle cx="213.4" cy="638.6" r="2.5"/>
<circle cx="213.7" cy="638.9" r="2.5"/>
<circle cx="214" cy="628.1" r="2.5"/>
<circle cx="214.3" cy="632.3" r="2.5"/>
<circle cx="214.6" cy="636" r="2.5"/>
<circle cx="214.9" cy="637.4" r="2.5"/>
<circle cx="215.1" cy="640.4" r="2.5"/>
<circle cx="215.4" cy="637.2" r="2.5"/>
<circle cx="215.7" cy="634.5" r="2.5"/>
<circle cx="216" cy="635.5" r="2.5"/>
<circle cx="216.3" cy="634.5" r="2.5"/>
<circle cx="216.6" cy="636.2" r="2.5"/>
<circle cx="216.9" cy="637.8" r="2.5"/>
<circle cx="217.1" cy="633.9" r="2.5"/>
<circle cx="217.4" cy="632.1" r="2.5"/>
<circle cx="217.7" cy="631.9" r="2.5"/>
<circle cx="218" cy="639.3" r="2.5"/>
<circle cx="218.3" cy="639.9" r="2.5"/>
<circle cx="218.6" cy="638.8" r="2.5"/>
<circle cx="218.9" cy="638.2" r="2.5"/>
<circle cx="219.1" cy="638.1" r="2.5"/>
<circle cx="219.4" cy="634.9" r="2.5"/>
<circle cx="219.7" cy="637.4" r="2.5"/>
<circle cx="220" cy="630.8" r="2.5"/>
<circle cx="220.3" cy="634" r="2.5"/>
<circle cx="220.6" cy="632" r="2.5"/>
<circle cx="220.9" cy="637.5" r="2.5"/>
<circle cx="221.2" cy="632.5" r="2.5"/>
<circle cx="221.4" cy="634.2" r="2.5"/>
<circle cx="221.7" cy="636.1" r="2.5"/>
<circle cx="222" cy="639.7" r="2.5"/>
<circle cx="222.3" cy="631.5" r="2.5"/>
<circle cx="222.6" cy="630.9" r="2.5"/>
<circle cx="222.9" cy="637.5" r="2.5"/>
<circle cx="223.2" cy="630.2" r="2.5"/>
<circle cx="223.4" cy="636" r="2.5"/>
<circle cx="223.7" cy="632.1" r="2.5"/>
<circle cx="224" cy="633.8" r="2.5"/>
<circle cx="224.3" cy="627.3" r="2.5"/>
<circle cx="224.6" cy="654" r="2.5"/>
<circle cx="224.9" cy="632.2" r="2.5"/>
<circle cx="225.2" cy="630.6" r="2.5"/>
<circle cx="225.5" cy="641.9" r="2.5"/>
<circle cx="225.7" cy="636.6" r="2.5"/>
<circle cx="226" cy="647.2" r="2.5"/>
<circle cx="226.3" cy="635.4" r="2.5"/>
<circle cx="226.6" cy="632.5" r="2.5"/>
<circle cx="226.9" cy="634.1" r="2.5"/>
<circle cx="227.2" cy="639.8" r="2.5"/>
<circle cx="227.5" cy="633.5" r="2.5"/>
<circle cx="227.7" cy="635.3" r="2.5"/>
<circle cx="228" cy="635.5" r="2.5"/>
<circle cx="228.3" cy="630" r="2.5"/>
<circle cx="228.6" cy="633.9" r="2.5"/>
<circle cx="228.9" cy="631.4" r="2.5"/>
<circle cx="229.2" cy="628.6" r="2.5"/>
<circle cx="229.5" cy="636.6" r="2.5"/>
<circle cx="229.7" cy="635.7" r="2.5"/>
<circle cx="230" cy="633.4" r="2.5"/>
<circle cx="230.3" cy="629.6" r="2.5"/>
<circle cx="230.6" cy="625.4" r="2.5"/>
<circle cx="230.9" cy="634.8" r="2.5"/>
<circle cx="231.2" cy="632.6" r="2.5"/>
<circle cx="231.5" cy="626.5" r="2.5"/>
<circle cx="231.8" cy="632.6" r="2.5"/>
<circle cx="232" cy="627" r="2.5"/>
<circle cx="232.3" cy="632.6" r="2.5"/>
<circle cx="232.6" cy="633.2" r="2.5"/>
<circle cx="232.9" cy="634" r="2.5"/>
<circle cx="233.2" cy="633.4" r="2.5"/>
<circle cx="233.5" cy="633.2" r="2.5"/>
<circle cx="233.8" cy="630.2" r="2.5"/>
<circle cx="234" cy="631.7" r="2.5"/>
<circle cx="234.3" cy="631.4" r="2.5"/>
<circle cx="234.6" cy="631.9" r="2.5"/>
<circle cx="234.9" cy="632.9" r="2.5"/>
<circle cx="235.2" cy="633.5" r="2.5"/>
<circle cx="235.5" cy="635.5" r="2.5"/>
<circle cx="235.8" cy="627" r="2.5"/>
<circle cx="236.1" cy="632.9" r="2.5"/>
<circle cx="236.3" cy="631.7" r="2.5"/>
<circle cx="236.6" cy="636.6" r="2.5"/>
<circle cx="236.9" cy="633.9" r="2.5"/>
<circle cx="237.2" cy="628.7" r="2.5"/>
<circle cx="237.5" cy="632.7" r="2.5"/>
<circle cx="237.8" cy="630.8" r="2.5"/>
<circle cx="238.1" cy="633.8" r="2.5"/>
<circle cx="238.3" cy="629.7" r="2.5"/>
<circle cx="238.6" cy="631.5" r="2.5"/>
<circle cx="238.9" cy="631.4" r="2.5"/>
<circle cx="239.2" cy="631.5" r="2.5"/>
<circle cx="239.5" cy="630.5" r="2.5"/>
<circle cx="239.8" cy="627.9" r="2.5"/>
<circle cx="240.1" cy="632.5" r="2.5"/>
<circle cx="240.3" cy="633.5" r="2.5"/>
<circle cx="240.6" cy="631.3" r="2.5"/>
<circle cx="240.9" cy="629.4" r="2.5"/>
<circle cx="241.2" cy="631.8" r="2.5"/>
<circle cx="241.5" cy="632.5" r="2.5"/>
<circle cx="241.8" cy="630.9" r="2.5"/>
<circle cx="242.1" cy="631.2" r="2.5"/>
<circle cx="242.4" cy="634" r="2.5"/>
<circle cx="242.6" cy="628.9" r="2.5"/>
<circle cx="242.9" cy="630" r="2.5"/>
<circle cx="243.2" cy="627.3" r="2.5"/>
<circle cx="243.5" cy="629.6" r="2.5"/>
<circle cx="243.8" cy="629.5" r="2.5"/>
<circle cx="244.1" cy="629" r="2.5"/>
<circle cx="244.4" cy="629.5" r="2.5"/>
<circle cx="244.6" cy="634.5" r="2.5"/>
<circle cx="244.9" cy="630.4" r="2.5"/>
<circle cx="245.2" cy="630.6" r="2.5"/>
<circle cx="245.5" cy="635.2" r="2.5"/>
<circle cx="245.8" cy="630.6" r="2.5"/>
<circle cx="246.1" cy="627.2" r="2.5"/>
<circle cx="246.4" cy="631.4" r="2.5"/>
<circle cx="246.7" cy="628.7" r="2.5"/>
<circle cx="246.9" cy="633.8" r="2.5"/>
<circle cx="247.2" cy="628" r="2.5"/>
<circle cx="247.5" cy="629.3" r="2.5"/>
<circle cx="247.8" cy="627.2" r="2.5"/>
<circle cx="248.1" cy="630.6" r="2.5"/>
<circle cx="248.4" cy="628.3" r="2.5"/>
<circle cx="248.7" cy="630.2" r="2.5"/>
<circle cx="248.9" cy="629.5" r="2.5"/>
<circle cx="249.2" cy="629" r="2.5"/>
<circle cx="249.5" cy="632.1" r="2.5"/>
<circle cx="249.8" cy="632" r="2.5"/>
<circle cx="250.1" cy="630.2" r="2.5"/>
<circle cx="250.4" cy="628.3" r="2.5"/>
<circle cx="250.7" cy="627.9" r="2.5"/>
<circle cx="251" cy="630.5" r="2.5"/>
<circle cx="251.2" cy="634.7" r="2.5"/>
<circle cx="251.5" cy="629" r="2.5"/>
<circle cx="251.8" cy="628.3" r="2.5"/>
<circle cx="252.1" cy="628.5" r="2.5"/>
<circle cx="252.4" cy="627.6" r="2.5"/>
<circle cx="252.7" cy="627.8" r="2.5"/>
<circle cx="253" cy="629.3" r="2.5"/>
<circle cx="253.2" cy="632.6" r="2.5"/>
<circle cx="253.5" cy="629.7" r="2.5"/>
<circle cx="253.8" cy="628.6" r="2.5"/>
<circle cx="254.1" cy="626.4" r="2.5"/>
<circle cx="254.4" cy="630" r="2.5"/>
<circle cx="254.7" cy="629.5" r="2.5"/>
<circle cx="255" cy="627" r="2.5"/>
<circle cx="255.2" cy="627.3" r="2.5"/>
<circle cx="255.5" cy="629.3" r="2.5"/>
<circle cx="255.8" cy="631.4" r="2.5"/>
<circle cx="256.1" cy="630.6" r="2.5"/>
<circle cx="256.4" cy="629.7" r="2.5"/>
<circle cx="256.7" cy="628.6" r="2.5"/>
<circle cx="257" cy="629.9" r="2.5"/>
<circle cx="257.3" cy="629.2" r="2.5"/>
<circle cx="257.5" cy="633.5" r="2.5"/>
<circle cx="257.8" cy="626.9" r="2.5"/>
<circle cx="258.1" cy="628.4" r="2.5"/>
<circle cx="258.4" cy="631.6" r="2.5"/>
<circle cx="258.7" cy="628.5" r="2.5"/>
<circle cx="259" cy="631.8" r="2.5"/>
<circle cx="259.3" cy="628.9" r="2.5"/>
<circle cx="259.5" cy="629.2" r="2.5"/>
<circle cx="259.8" cy="628.1" r="2.5"/>
<circle cx="260.1" cy="626.1" r="2.5"/>
<circle cx="260.4" cy="626.8" r="2.5"/>
<circle cx="260.7" cy="633.2" r="2.5"/>
<circle cx="261" cy="630" r="2.5"/>
<circle cx="261.3" cy="629.9" r="2.5"/>
<circle cx="261.6" cy="630.5" r="2.5"/>
<circle cx="261.8" cy="629.7" r="2.5"/>
<circle cx="262.1" cy="630.6" r="2.5"/>
<circle cx="262.4" cy="628" r="2.5"/>
<circle cx="262.7" cy="628" r="2.5"/>
<circle cx="263" cy="630.4" r="2.5"/>
<circle cx="263.3" cy="627.7" r="2.5"/>
<circle cx="263.6" cy="625.7" r="2.5"/>
<circle cx="263.8" cy="627.8" r="2.5"/>
<circle cx="264.1" cy="627.1" r="2.5"/>
<circle cx="264.4" cy="629.4" r="2.5"/>
<circle cx="264.7" cy="626.7" r="2.5"/>
<circle cx="265" cy="626" r="2.5"/>
<circle cx="265.3" cy="627.4" r="2.5"/>
<circle cx="265.6" cy="631.1" r="2.5"/>
<circle cx="265.8" cy="627.9" r="2.5"/>
<circle cx="266.1" cy="628.2" r="2.5"/>
<circle cx="266.4" cy="627.9" r="2.5"/>
<circle cx="266.7" cy="628.4" r="2.5"/>
<circle cx="267" cy="629.6" r="2.5"/>
<circle cx="267.3" cy="630.5" r="2.5"/>
<circle cx="267.6" cy="624.4" r="2.5"/>
<circle cx="267.9" cy="630.3" r="2.5"/>
<circle cx="268.1" cy="627.6" r="2.5"/>
<circle cx="268.4" cy="626.9" r="2.5"/>
<circle cx="268.7" cy="632.3" r="2.5"/>
<circle cx="269" cy="627.1" r="2.5"/>
<circle cx="269.3" cy="631.2" r="2.5"/>
<circle cx="269.6" cy="629.2" r="2.5"/>
<circle cx="269.9" cy="625.2" r="2.5"/>
<circle cx="270.1" cy="628.2" r="2.5"/>
<circle cx="270.4" cy="628.6" r="2.5"/>
<circle cx="270.7" cy="626.8" r="2.5"/>
<circle cx="271" cy="622.3" r="2.5"/>
<circle cx="271.3" cy="626.3" r="2.5"/>
<circle cx="271.6" cy="626.5" r="2.5"/>
<circle cx="271.9" cy="624.6" r="2.5"/>
<circle cx="272.2" cy="630.4" r="2.5"/>
<circle cx="272.4" cy="626.2" r="2.5"/>
<circle cx="272.7" cy="625.9" r="2.5"/>
<circle cx="273" cy="626" r="2.5"/>
<circle cx="273.3" cy="625" r="2.5"/>
<circle cx="273.6" cy="624.9" r="2.5"/>
<circle cx="273.9" cy="626.6" r="2.5"/>
<circle cx="274.2" cy="626.9" r="2.5"/>
<circle cx="274.4" cy="625.2" r="2.5"/>
<circle cx="274.7" cy="626" r="2.5"/>
<circle cx="275" cy="623.3" r="2.5"/>
<circle cx="275.3" cy="627" r="2.5"/>
<circle cx="275.6" cy="624.4" r="2.5"/>
<circle cx="275.9" cy="626.2" r="2.5"/>
<circle cx="276.2" cy="623.9" r="2.5"/>
<circle cx="276.4" cy="624.6" r="2.5"/>
<circle cx="276.7" cy="625.7" r="2.5"/>
<circle cx="277" cy="624.3" r="2.5"/>
<circle cx="277.3" cy="627.4" r="2.5"/>
<circle cx="277.6" cy="625" r="2.5"/>
<circle cx="277.9" cy="624.8" r="2.5"/>
<circle cx="278.2" cy="624" r="2.5"/>
<circle cx="278.5" cy="625.9" r="2.5"/>
<circle cx="278.7" cy="625.4" r="2.5"/>
<circle cx="279" cy="624.2" r="2.5"/>
<circle cx="279.3" cy="622.5" r="2.5"/>
<circle cx="279.6" cy="623" r="2.5"/>
<circle cx="279.9" cy="623.8" r="2.5"/>
<circle cx="280.2" cy="622.5" r="2.5"/>
<circle cx="280.5" cy="621.6" r="2.5"/>
<circle cx="280.7" cy="621.3" r="2.5"/>
<circle cx="281" cy="621.4" r="2.5"/>
<circle cx="281.3" cy="622" r="2.5"/>
<circle cx="281.6" cy="621.3" r="2.5"/>
<circle cx="281.9" cy="621.9" r="2.5"/>
<circle cx="282.2" cy="624.3" r="2.5"/>
<circle cx="282.5" cy="623.4" r="2.5"/>
<circle cx="282.8" cy="620.8" r="2.5"/>
<circle cx="283" cy="622" r="2.5"/>
<circle cx="283.3" cy="621.7" r="2.5"/>
<circle cx="283.6" cy="621.5" r="2.5"/>
<circle cx="283.9" cy="622.5" r="2.5"/>
<circle cx="284.2" cy="621.2" r="2.5"/>
<circle cx="284.5" cy="621.2" r="2.5"/>
<circle cx="284.8" cy="621.2" r="2.5"/>
<circle cx="285" cy="621.4" r="2.5"/>
<circle cx="285.3" cy="622.7" r="2.5"/>
<circle cx="285.6" cy="622.2" r="2.5"/>
<circle cx="285.9" cy="620.3" r="2.5"/>
<circle cx="286.2" cy="621.1" r="2.5"/>
<circle cx="286.5" cy="620.8" r="2.5"/>
<circle cx="286.8" cy="622.2" r="2.5"/>
<circle cx="287" cy="621.7" r="2.5"/>
<circle cx="287.3" cy="622.3" r="2.5"/>
<circle cx="287.6" cy="621.4" r="2.5"/>
<circle cx="287.9" cy="619.8" r="2.5"/>
<circle cx="288.2" cy="621.9" r="2.5"/>
<circle cx="288.5" cy="621.7" r="2.5"/>
<circle cx="288.8" cy="622" r="2.5"/>
<circle cx="289.1" cy="620.3" r="2.5"/>
<circle cx="289.3" cy="621.6" r="2.5"/>
<circle cx="289.6" cy="620.9" r="2.5"/>
<circle cx="289.9" cy="620.9" r="2.5"/>
<circle cx="290.2" cy="621.8" r="2.5"/>
<circle cx="290.5" cy="621.8" r="2.5"/>
<circle cx="290.8" cy="620.7" r="2.5"/>
<circle cx="291.1" cy="620" r="2.5"/>
<circle cx="291.3" cy="619.3" r="2.5"/>
<circle cx="291.6" cy="621" r="2.5"/>
<circle cx="291.9" cy="622.5" r="2.5"/>
<circle cx="292.2" cy="621.5" r="2.5"/>
<circle cx="292.5" cy="619.5" r="2.5"/>
<circle cx="292.8" cy="620.7" r="2.5"/>
<circle cx="293.1" cy="621.9" r="2.5"/>
<circle cx="293.4" cy="623" r="2.5"/>
<circle cx="293.6" cy="622.6" r="2.5"/>
<circle cx="293.9" cy="621.8" r="2.5"/>
<circle cx="294.2" cy="621.7" r="2.5"/>
<circle cx="294.5" cy="620.5" r="2.5"/>
<circle cx="294.8" cy="621.1" r="2.5"/>
<circle cx="295.1" cy="621.2" r="2.5"/>
<circle cx="295.4" cy="620.8" r="2.5"/>
<circle cx="295.6" cy="621.6" r="2.5"/>
<circle cx="295.9" cy="621.1" r="2.5"/>
<circle cx="296.2" cy="621.8" r="2.5"/>
<circle cx="296.5" cy="622.8" r="2.5"/>
<circle cx="296.8" cy="622.2" r="2.5"/>
<circle cx="297.1" cy="621.9" r="2.5"/>
<circle cx="297.4" cy="621.3" r="2.5"/>
<circle cx="297.6" cy="620.1" r="2.5"/>
<circle cx="297.9" cy="621.4" r="2.5"/>
<circle cx="298.2" cy="622" r="2.5"/>
<circle cx="298.5" cy="620.6" r="2.5"/>
<circle cx="298.8" cy="622.6" r="2.5"/>
<circle cx="299.1" cy="621.2" r="2.5"/>
<circle cx="299.4" cy="621.8" r="2.5"/>
<circle cx="299.7" cy="621.2" r="2.5"/>
<circle cx="299.9" cy="620.4" r="2.5"/>
<circle cx="300.2" cy="623.4" r="2.5"/>
<circle cx="300.5" cy="620.5" r="2.5"/>
<circle cx="300.8" cy="622.3" r="2.5"/>
<circle cx="301.1" cy="621" r="2.5"/>
<circle cx="301.4" cy="621.8" r="2.5"/>
<circle cx="301.7" cy="620.8" r="2.5"/>
<circle cx="301.9" cy="621.1" r="2.5"/>
<circle cx="302.2" cy="622.3" r="2.5"/>
<circle cx="302.5" cy="623.3" r="2.5"/>
<circle cx="302.8" cy="620.7" r="2.5"/>
<circle cx="303.1" cy="621.5" r="2.5"/>
<circle cx="303.4" cy="622.4" r="2.5"/>
<circle cx="303.7" cy="620.9" r="2.5"/>
<circle cx="304" cy="622.1" r="2.5"/>
<circle cx="304.2" cy="620.8" r="2.5"/>
<circle cx="304.5" cy="622" r="2.5"/>
<circle cx="304.8" cy="621.9" r="2.5"/>
<circle cx="305.1" cy="622.6" r="2.5"/>
<circle cx="305.4" cy="621.8" r="2.5"/>
<circle cx="305.7" cy="620.4" r="2.5"/>
<circle cx="306" cy="622.1" r="2.5"/>
<circle cx="306.2" cy="620.5" r="2.5"/>
<circle cx="306.5" cy="622.2" r="2.5"/>
<circle cx="306.8" cy="622.9" r="2.5"/>
<circle cx="307.1" cy="622" r="2.5"/>
<circle cx="307.4" cy="621" r="2.5"/>
<circle cx="307.7" cy="622.6" r="2.5"/>
<circle cx="308" cy="621.7" r="2.5"/>
<circle cx="308.2" cy="620.4" r="2.5"/>
<circle cx="308.5" cy="621.2" r="2.5"/>
<circle cx="308.8" cy="622.8" r="2.5"/>
<circle cx="309.1" cy="621.2" r="2.5"/>
<circle cx="309.4" cy="621.6" r="2.5"/>
<circle cx="309.7" cy="621.2" r="2.5"/>
<circle cx="310" cy="620" r="2.5"/>
<circle cx="310.3" cy="621" r="2.5"/>
<circle cx="310.5" cy="621.8" r="2.5"/>
<circle cx="310.8" cy="621.7" r="2.5"/>
<circle cx="311.1" cy="621.3" r="2.5"/>
<circle cx="311.4" cy="619.6" r="2.5"/>
<circle cx="311.7" cy="622.6" r="2.5"/>
<circle cx="312" cy="622.1" r="2.5"/>
<circle cx="312.3" cy="622.4" r="2.5"/>
<circle cx="312.5" cy="622.7" r="2.5"/>
<circle cx="312.8" cy="621.1" r="2.5"/>
<circle cx="313.1" cy="621" r="2.5"/>
<circle cx="313.4" cy="621.8" r="2.5"/>
<circle cx="313.7" cy="623" r="2.5"/>
<circle cx="314" cy="620" r="2.5"/>
<circle cx="314.3" cy="621.3" r="2.5"/>
<circle cx="314.6" cy="620.9" r="2.5"/>
<circle cx="314.8" cy="622" r="2.5"/>
<circle cx="315.1" cy="622.8" r="2.5"/>
<circle cx="315.4" cy="621.2" r="2.5"/>
<circle cx="315.7" cy="620.4" r="2.5"/>
<circle cx="316" cy="621.5" r="2.5"/>
<circle cx="316.3" cy="621.2" r="2.5"/>
<circle cx="316.6" cy="620.1" r="2.5"/>
<circle cx="316.8" cy="622.3" r="2.5"/>
<circle cx="317.1" cy="621" r="2.5"/>
<circle cx="317.4" cy="622.1" r="2.5"/>
<circle cx="317.7" cy="620.3" r="2.5"/>
<circle cx="318" cy="622.5" r="2.5"/>
<circle cx="318.3" cy="620.2" r="2.5"/>
<circle cx="318.6" cy="622.4" r="2.5"/>
<circle cx="318.9" cy="619.9" r="2.5"/>
<circle cx="319.1" cy="622.7" r="2.5"/>
<circle cx="319.4" cy="621.2" r="2.5"/>
<circle cx="319.7" cy="620.1" r="2.5"/>
<circle cx="320" cy="621.3" r="2.5"/>
<circle cx="320.3" cy="621.8" r="2.5"/>
<circle cx="320.6" cy="620.6" r="2.5"/>
<circle cx="320.9" cy="621.1" r="2.5"/>
<circle cx="321.1" cy="621.7" r="2.5"/>
<circle cx="321.4" cy="621.3" r="2.5"/>
<circle cx="321.7" cy="618.7" r="2.5"/>
<circle cx="322" cy="621.1" r="2.5"/>
<circle cx="322.3" cy="621.9" r="2.5"/>
<circle cx="322.6" cy="621.8" r="2.5"/>
<circle cx="322.9" cy="622.4" r="2.5"/>
<circle cx="323.1" cy="620.9" r="2.5"/>
<circle cx="323.4" cy="623.8" r="2.5"/>
<circle cx="323.7" cy="622.2" r="2.5"/>
<circle cx="324" cy="621.8" r="2.5"/>
<circle cx="324.3" cy="622.5" r="2.5"/>
<circle cx="324.6" cy="622.4" r="2.5"/>
<circle cx="324.9" cy="621.6" r="2.5"/>
<circle cx="325.2" cy="620.9" r="2.5"/>
<circle cx="325.4" cy="622.4" r="2.5"/>
<circle cx="325.7" cy="621.9" r="2.5"/>
<circle cx="326" cy="619.8" r="2.5"/>
<circle cx="326.3" cy="620.5" r="2.5"/>
<circle cx="326.6" cy="621.9" r="2.5"/>
<circle cx="326.9" cy="621.6" r="2.5"/>
<circle cx="327.2" cy="621.8" r="2.5"/>
<circle cx="327.4" cy="622.1" r="2.5"/>
<circle cx="327.7" cy="621.6" r="2.5"/>
<circle cx="328" cy="622.9" r="2.5"/>
<circle cx="328.3" cy="621" r="2.5"/>
<circle cx="328.6" cy="621.1" r="2.5"/>
<circle cx="328.9" cy="621.8" r="2.5"/>
<circle cx="329.2" cy="622.2" r="2.5"/>
<circle cx="329.5" cy="622.2" r="2.5"/>
<circle cx="329.7" cy="622.8" r="2.5"/>
<circle cx="330" cy="621.1" r="2.5"/>
<circle cx="330.3" cy="622.6" r="2.5"/>
<circle cx="330.6" cy="621.9" r="2.5"/>
<circle cx="330.9" cy="620.6" r="2.5"/>
<circle cx="331.2" cy="621.4" r="2.5"/>
<circle cx="331.5" cy="623.4" r="2.5"/>
<circle cx="331.7" cy="622.2" r="2.5"/>
<circle cx="332" cy="621.1" r="2.5"/>
<circle cx="332.3" cy="619.3" r="2.5"/>
<circle cx="332.6" cy="620.8" r="2.5"/>
<circle cx="332.9" cy="620.9" r="2.5"/>
<circle cx="333.2" cy="621.6" r="2.5"/>
<circle cx="333.5" cy="623.6" r="2.5"/>
<circle cx="333.7" cy="622.2" r="2.5"/>
<circle cx="334" cy="621.8" r="2.5"/>
<circle cx="334.3" cy="620.7" r="2.5"/>
<circle cx="334.6" cy="620.4" r="2.5"/>
<circle cx="334.9" cy="621.3" r="2.5"/>
<circle cx="335.2" cy="621.1" r="2.5"/>
<circle cx="335.5" cy="624.2" r="2.5"/>
<circle cx="335.8" cy="621.1" r="2.5"/>
<circle cx="336" cy="620.9" r="2.5"/>
<circle cx="336.3" cy="622.5" r="2.5"/>
<circle cx="336.6" cy="621.6" r="2.5"/>
<circle cx="336.9" cy="620.4" r="2.5"/>
<circle cx="337.2" cy="622.7" r="2.5"/>
<circle cx="337.5" cy="621.2" r="2.5"/>
<circle cx="337.8" cy="620.3" r="2.5"/>
<circle cx="338" cy="621.8" r="2.5"/>
<circle cx="338.3" cy="621.9" r="2.5"/>
<circle cx="338.6" cy="621.2" r="2.5"/>
<circle cx="338.9" cy="622.1" r="2.5"/>
<circle cx="339.2" cy="622.2" r="2.5"/>
<circle cx="339.5" cy="620.7" r="2.5"/>
<circle cx="339.8" cy="619.6" r="2.5"/>
<circle cx="340.1" cy="619.3" r="2.5"/>
<circle cx="340.3" cy="621.4" r="2.5"/>
<circle cx="340.6" cy="622.6" r="2.5"/>
<circle cx="340.9" cy="622.4" r="2.5"/>
<circle cx="341.2" cy="622.8" r="2.5"/>
<circle cx="341.5" cy="623.2" r="2.5"/>
<circle cx="341.8" cy="621.5" r="2.5"/>
<circle cx="342.1" cy="622.5" r="2.5"/>
<circle cx="342.3" cy="620.1" r="2.5"/>
<circle cx="342.6" cy="622.1" r="2.5"/>
<circle cx="342.9" cy="621.9" r="2.5"/>
<circle cx="343.2" cy="621.4" r="2.5"/>
<circle cx="343.5" cy="621.1" r="2.5"/>
<circle cx="343.8" cy="620.5" r="2.5"/>
<circle cx="344.1" cy="621.6" r="2.5"/>
<circle cx="344.3" cy="622.6" r="2.5"/>
<circle cx="344.6" cy="621.2" r="2.5"/>
<circle cx="344.9" cy="622" r="2.5"/>
<circle cx="345.2" cy="620.9" r="2.5"/>
<circle cx="345.5" cy="621.7" r="2.5"/>
<circle cx="345.8" cy="620.6" r="2.5"/>
<circle cx="346.1" cy="621.8" r="2.5"/>
<circle cx="346.4" cy="621.3" r="2.5"/>
<circle cx="346.6" cy="621.8" r="2.5"/>
<circle cx="346.9" cy="621" r="2.5"/>
<circle cx="347.2" cy="620.4" r="2.5"/>
<circle cx="347.5" cy="621.2" r="2.5"/>
<circle cx="347.8" cy="622.4" r="2.5"/>
<circle cx="348.1" cy="622.9" r="2.5"/>
<circle cx="348.4" cy="621.2" r="2.5"/>
<circle cx="348.6" cy="622.2" r="2.5"/>
<circle cx="348.9" cy="622.2" r="2.5"/>
<circle cx="349.2" cy="621.9" r="2.5"/>
<circle cx="349.5" cy="620.1" r="2.5"/>
<circle cx="349.8" cy="621.8" r="2.5"/>
<circle cx="350.1" cy="620.6" r="2.5"/>
<circle cx="350.4" cy="622.6" r="2.5"/>
<circle cx="350.7" cy="622.2" r="2.5"/>
<circle cx="350.9" cy="622.1" r="2.5"/>
<circle cx="351.2" cy="619.2" r="2.5"/>
<circle cx="351.5" cy="622.1" r="2.5"/>
<circle cx="351.8" cy="622.1" r="2.5"/>
<circle cx="352.1" cy="620.4" r="2.5"/>
<circle cx="352.4" cy="622.4" r="2.5"/>
<circle cx="352.7" cy="621.6" r="2.5"/>
<circle cx="352.9" cy="621.3" r="2.5"/>
<circle cx="353.2" cy="620.9" r="2.5"/>
<circle cx="353.5" cy="620.6" r="2.5"/>
<circle cx="353.8" cy="621.1" r="2.5"/>
<circle cx="354.1" cy="624.3" r="2.5"/>
<circle cx="354.4" cy="621.7" r="2.5"/>
<circle cx="354.7" cy="621.7" r="2.5"/>
<circle cx="354.9" cy="620.9" r="2.5"/>
<circle cx="355.2" cy="620.9" r="2.5"/>
<circle cx="355.5" cy="621" r="2.5"/>
<circle cx="355.8" cy="620.7" r="2.5"/>
<circle cx="356.1" cy="622.3" r="2.5"/>
<circle cx="356.4" cy="621.3" r="2.5"/>
<circle cx="356.7" cy="622.3" r="2.5"/>
<circle cx="357" cy="620.5" r="2.5"/>
<circle cx="357.2" cy="622.3" r="2.5"/>
<circle cx="357.5" cy="621.5" r="2.5"/>
<circle cx="357.8" cy="622.1" r="2.5"/>
<circle cx="358.1" cy="621.4" r="2.5"/>
<circle cx="358.4" cy="620.7" r="2.5"/>
<circle cx="358.7" cy="622.6" r="2.5"/>
<circle cx="359" cy="621.1" r="2.5"/>
<circle cx="359.2" cy="621.4" r="2.5"/>
<circle cx="359.5" cy="620.7" r="2.5"/>
<circle cx="359.8" cy="621.7" r="2.5"/>
<circle cx="360.1" cy="621.1" r="2.5"/>
<circle cx="360.4" cy="621.8" r="2.5"/>
<circle cx="360.7" cy="621.8" r="2.5"/>
<circle cx="361" cy="620.9" r="2.5"/>
<circle cx="361.3" cy="620.2" r="2.5"/>
<circle cx="361.5" cy="621.9" r="2.5"/>
<circle cx="361.8" cy="622.3" r="2.5"/>
<circle cx="362.1" cy="622.1" r="2.5"/>
<circle cx="362.4" cy="620.5" r="2.5"/>
<circle cx="362.7" cy="622" r="2.5"/>
<circle cx="363" cy="621.8" r="2.5"/>
<circle cx="363.3" cy="621.8" r="2.5"/>
<circle cx="363.5" cy="621.9" r="2.5"/>
<circle cx="363.8" cy="621.2" r="2.5"/>
<circle cx="364.1" cy="621.7" r="2.5"/>
<circle cx="364.4" cy="622.3" r="2.5"/>
<circle cx="364.7" cy="621" r="2.5"/>
<circle cx="365" cy="620.2" r="2.5"/>
<circle cx="365.3" cy="621.4" r="2.5"/>
<circle cx="365.6" cy="621.7" r="2.5"/>
<circle cx="365.8" cy="619.8" r="2.5"/>
<circle cx="366.1" cy="620.9" r="2.5"/>
<circle cx="366.4" cy="622" r="2.5"/>
<circle cx="366.7" cy="621.4" r="2.5"/>
<circle cx="367" cy="621.6" r="2.5"/>
<circle cx="367.3" cy="620.4" r="2.5"/>
<circle cx="367.6" cy="622.3" r="2.5"/>
<circle cx="367.8" cy="623.1" r="2.5"/>
<circle cx="368.1" cy="621.3" r="2.5"/>
<circle cx="368.4" cy="620.8" r="2.5"/>
<circle cx="368.7" cy="620.5" r="2.5"/>
<circle cx="369" cy="622.3" r="2.5"/>
<circle cx="369.3" cy="621.6" r="2.5"/>
<circle cx="369.6" cy="620.8" r="2.5"/>
<circle cx="369.8" cy="622.6" r="2.5"/>
<circle cx="370.1" cy="622.2" r="2.5"/>
<circle cx="370.4" cy="622" r="2.5"/>
<circle cx="370.7" cy="619.9" r="2.5"/>
<circle cx="371" cy="621.4" r="2.5"/>
<circle cx="371.3" cy="622.1" r="2.5"/>
<circle cx="371.6" cy="620.4" r="2.5"/>
<circle cx="371.9" cy="622.3" r="2.5"/>
<circle cx="372.1" cy="622.8" r="2.5"/>
<circle cx="372.4" cy="622.4" r="2.5"/>
<circle cx="372.7" cy="620.9" r="2.5"/>
<circle cx="373" cy="620.9" r="2.5"/>
<circle cx="373.3" cy="622.3" r="2.5"/>
<circle cx="373.6" cy="622.4" r="2.5"/>
<circle cx="373.9" cy="622.6" r="2.5"/>
<circle cx="374.1" cy="622.6" r="2.5"/>
<circle cx="374.4" cy="621.4" r="2.5"/>
<circle cx="374.7" cy="621.1" r="2.5"/>
<circle cx="375" cy="619.8" r="2.5"/>
<circle cx="375.3" cy="622.2" r="2.5"/>
<circle cx="375.6" cy="623.5" r="2.5"/>
<circle cx="375.9" cy="621.1" r="2.5"/>
<circle cx="376.2" cy="621.1" r="2.5"/>
<circle cx="376.4" cy="622.1" r="2.5"/>
<circle cx="376.7" cy="621.8" r="2.5"/>
<circle cx="377" cy="620.3" r="2.5"/>
<circle cx="377.3" cy="620.9" r="2.5"/>
<circle cx="377.6" cy="620.5" r="2.5"/>
<circle cx="377.9" cy="623.3" r="2.5"/>
<circle cx="378.2" cy="620.9" r="2.5"/>
<circle cx="378.4" cy="622.3" r="2.5"/>
<circle cx="378.7" cy="623.2" r="2.5"/>
<circle cx="379" cy="623.2" r="2.5"/>
<circle cx="379.3" cy="622.8" r="2.5"/>
<circle cx="379.6" cy="623" r="2.5"/>
<circle cx="379.9" cy="620.4" r="2.5"/>
<circle cx="380.2" cy="621.2" r="2.5"/>
<circle cx="380.4" cy="620.8" r="2.5"/>
<circle cx="380.7" cy="621.2" r="2.5"/>
<circle cx="381" cy="623.9" r="2.5"/>
<circle cx="381.3" cy="620" r="2.5"/>
<circle cx="381.6" cy="622" r="2.5"/>
<circle cx="381.9" cy="620.4" r="2.5"/>
<circle cx="382.2" cy="622.7" r="2.5"/>
<circle cx="382.5" cy="622.7" r="2.5"/>
<circle cx="382.7" cy="621" r="2.5"/>
<circle cx="383" cy="623.4" r="2.5"/>
<circle cx="383.3" cy="621.6" r="2.5"/>
<circle cx="383.6" cy="622.7" r="2.5"/>
<circle cx="383.9" cy="621.8" r="2.5"/>
<circle cx="384.2" cy="621" r="2.5"/>
<circle cx="384.5" cy="621.2" r="2.5"/>
<circle cx="384.7" cy="621.4" r="2.5"/>
<circle cx="385" cy="622.1" r="2.5"/>
<circle cx="385.3" cy="621.6" r="2.5"/>
<circle cx="385.6" cy="623.6" r="2.5"/>
<circle cx="385.9" cy="621.3" r="2.5"/>
<circle cx="386.2" cy="621.1" r="2.5"/>
<circle cx="386.5" cy="620.9" r="2.5"/>
<circle cx="386.8" cy="620.8" r="2.5"/>
<circle cx="387" cy="620.2" r="2.5"/>
<circle cx="387.3" cy="620.6" r="2.5"/>
<circle cx="387.6" cy="622.3" r="2.5"/>
<circle cx="387.9" cy="621.6" r="2.5"/>
<circle cx="388.2" cy="621.3" r="2.5"/>
<circle cx="388.5" cy="621.8" r="2.5"/>
<circle cx="388.8" cy="622.5" r="2.5"/>
<circle cx="389" cy="622.1" r="2.5"/>
<circle cx="389.3" cy="622.2" r="2.5"/>
<circle cx="389.6" cy="621" r="2.5"/>
<circle cx="389.9" cy="621.3" r="2.5"/>
<circle cx="390.2" cy="620.8" r="2.5"/>
<circle cx="390.5" cy="621.4" r="2.5"/>
<circle cx="390.8" cy="620.8" r="2.5"/>
<circle cx="391" cy="621.2" r="2.5"/>
<circle cx="391.3" cy="621.3" r="2.5"/>
<circle cx="391.6" cy="621.3" r="2.5"/>
<circle cx="391.9" cy="621.3" r="2.5"/>
<circle cx="392.2" cy="621.1" r="2.5"/>
<circle cx="392.5" cy="622.7" r="2.5"/>
<circle cx="392.8" cy="621.2" r="2.5"/>
<circle cx="393.1" cy="620.6" r="2.5"/>
<circle cx="393.3" cy="621.7" r="2.5"/>
<circle cx="393.6" cy="620.5" r="2.5"/>
<circle cx="393.9" cy="620.5" r="2.5"/>
<circle cx="394.2" cy="621.6" r="2.5"/>
<circle cx="394.5" cy="620" r="2.5"/>
<circle cx="394.8" cy="618.6" r="2.5"/>
<circle cx="395.1" cy="621.8" r="2.5"/>
<circle cx="395.3" cy="622.4" r="2.5"/>
<circle cx="395.6" cy="620" r="2.5"/>
<circle cx="395.9" cy="620.7" r="2.5"/>
<circle cx="396.2" cy="622" r="2.5"/>
<circle cx="396.5" cy="619.7" r="2.5"/>
<circle cx="396.8" cy="620.7" r="2.5"/>
<circle cx="397.1" cy="620.4" r="2.5"/>
<circle cx="397.4" cy="621.3" r="2.5"/>
<circle cx="397.6" cy="619.7" r="2.5"/>
<circle cx="397.9" cy="622.3" r="2.5"/>
<circle cx="398.2" cy="621.4" r="2.5"/>
<circle cx="398.5" cy="621.8" r="2.5"/>
<circle cx="398.8" cy="621.2" r="2.5"/>
<circle cx="399.1" cy="619.6" r="2.5"/>
<circle cx="399.4" cy="621.4" r="2.5"/>
<circle cx="399.6" cy="620.3" r="2.5"/>
<circle cx="399.9" cy="621.5" r="2.5"/>
<circle cx="400.2" cy="620.7" r="2.5"/>
<circle cx="400.5" cy="621.2" r="2.5"/>
<circle cx="400.8" cy="621.3" r="2.5"/>
<circle cx="401.1" cy="622.2" r="2.5"/>
<circle cx="401.4" cy="622.2" r="2.5"/>
<circle cx="401.6" cy="620.6" r="2.5"/>
<circle cx="401.9" cy="621.5" r="2.5"/>
<circle cx="402.2" cy="622.8" r="2.5"/>
<circle cx="402.5" cy="621.9" r="2.5"/>
<circle cx="402.8" cy="620.8" r="2.5"/>
<circle cx="403.1" cy="621.4" r="2.5"/>
<circle cx="403.4" cy="621.2" r="2.5"/>
<circle cx="403.7" cy="622.3" r="2.5"/>
<circle cx="403.9" cy="621.5" r="2.5"/>
<circle cx="404.2" cy="621.8" r="2.5"/>
<circle cx="404.5" cy="623.5" r="2.5"/>
<circle cx="404.8" cy="620.3" r="2.5"/>
<circle cx="405.1" cy="620.6" r="2.5"/>
<circle cx="405.4" cy="619.9" r="2.5"/>
<circle cx="405.7" cy="620.1" r="2.5"/>
<circle cx="405.9" cy="622.3" r="2.5"/>
<circle cx="406.2" cy="621.8" r="2.5"/>
<circle cx="406.5" cy="623" r="2.5"/>
<circle cx="406.8" cy="619.7" r="2.5"/>
<circle cx="407.1" cy="620.7" r="2.5"/>
<circle cx="407.4" cy="622.8" r="2.5"/>
<circle cx="407.7" cy="622.4" r="2.5"/>
<circle cx="408" cy="622.3" r="2.5"/>
<circle cx="408.2" cy="622.3" r="2.5"/>
<circle cx="408.5" cy="621.5" r="2.5"/>
<circle cx="408.8" cy="621.5" r="2.5"/>
<circle cx="409.1" cy="621.5" r="2.5"/>
<circle cx="409.4" cy="622.3" r="2.5"/>
<circle cx="409.7" cy="621.4" r="2.5"/>
<circle cx="410" cy="621.8" r="2.5"/>
<circle cx="410.2" cy="622.8" r="2.5"/>
<circle cx="410.5" cy="620.5" r="2.5"/>
<circle cx="410.8" cy="620.8" r="2.5"/>
<circle cx="411.1" cy="622" r="2.5"/>
<circle cx="411.4" cy="621.3" r="2.5"/>
<circle cx="411.7" cy="621.4" r="2.5"/>
<circle cx="412" cy="623.4" r="2.5"/>
<circle cx="412.2" cy="621.9" r="2.5"/>
<circle cx="412.5" cy="621.1" r="2.5"/>
<circle cx="412.8" cy="622.5" r="2.5"/>
<circle cx="413.1" cy="623.8" r="2.5"/>
<circle cx="413.4" cy="620.5" r="2.5"/>
<circle cx="413.7" cy="620.9" r="2.5"/>
<circle cx="414" cy="621.6" r="2.5"/>
<circle cx="414.3" cy="620.9" r="2.5"/>
<circle cx="414.5" cy="623.5" r="2.5"/>
<circle cx="414.8" cy="622" r="2.5"/>
<circle cx="415.1" cy="621.1" r="2.5"/>
<circle cx="415.4" cy="621.9" r="2.5"/>
<circle cx="415.7" cy="620.8" r="2.5"/>
<circle cx="416" cy="621" r="2.5"/>
<circle cx="416.3" cy="621.6" r="2.5"/>
<circle cx="416.5" cy="623.6" r="2.5"/>
<circle cx="416.8" cy="619.5" r="2.5"/>
<circle cx="417.1" cy="621.9" r="2.5"/>
<circle cx="417.4" cy="622.7" r="2.5"/>
<circle cx="417.7" cy="622.2" r="2.5"/>
<circle cx="418" cy="623.2" r="2.5"/>
<circle cx="418.3" cy="621.9" r="2.5"/>
<circle cx="418.6" cy="621.6" r="2.5"/>
<circle cx="418.8" cy="621.4" r="2.5"/>
<circle cx="419.1" cy="620.7" r="2.5"/>
<circle cx="419.4" cy="623" r="2.5"/>
<circle cx="419.7" cy="620.4" r="2.5"/>
<circle cx="420" cy="621.4" r="2.5"/>
<circle cx="420.3" cy="621" r="2.5"/>
<circle cx="420.6" cy="620.8" r="2.5"/>
<circle cx="420.8" cy="619.5" r="2.5"/>
<circle cx="421.1" cy="621.2" r="2.5"/>
<circle cx="421.4" cy="621.6" r="2.5"/>
<circle cx="421.7" cy="621.6" r="2.5"/>
<circle cx="422" cy="622.3" r="2.5"/>
<circle cx="422.3" cy="621.4" r="2.5"/>
<circle cx="422.6" cy="620.9" r="2.5"/>
<circle cx="422.9" cy="621.8" r="2.5"/>
<circle cx="423.1" cy="622.1" r="2.5"/>
<circle cx="423.4" cy="620.7" r="2.5"/>
<circle cx="423.7" cy="620.1" r="2.5"/>
<circle cx="424" cy="620.6" r="2.5"/>
<circle cx="424.3" cy="622.5" r="2.5"/>
<circle cx="424.6" cy="622.4" r="2.5"/>
<circle cx="424.9" cy="620.7" r="2.5"/>
<circle cx="425.1" cy="621.6" r="2.5"/>
<circle cx="425.4" cy="622.3" r="2.5"/>
<circle cx="425.7" cy="622.7" r="2.5"/>
<circle cx="426" cy="620.9" r="2.5"/>
<circle cx="426.3" cy="621.3" r="2.5"/>
<circle cx="426.6" cy="622.8" r="2.5"/>
<circle cx="426.9" cy="623.7" r="2.5"/>
<circle cx="427.1" cy="622.9" r="2.5"/>
<circle cx="427.4" cy="620.5" r="2.5"/>
<circle cx="427.7" cy="621.9" r="2.5"/>
<circle cx="428" cy="621.2" r="2.5"/>
<circle cx="428.3" cy="621.4" r="2.5"/>
<circle cx="428.6" cy="620.9" r="2.5"/>
<circle cx="428.9" cy="621.1" r="2.5"/>
<circle cx="429.2" cy="621.5" r="2.5"/>
<circle cx="429.4" cy="623.1" r="2.5"/>
<circle cx="429.7" cy="622.1" r="2.5"/>
<circle cx="430" cy="621.9" r="2.5"/>
<circle cx="430.3" cy="621.5" r="2.5"/>
<circle cx="430.6" cy="620.8" r="2.5"/>
<circle cx="430.9" cy="621.3" r="2.5"/>
<circle cx="431.2" cy="622.6" r="2.5"/>
<circle cx="431.4" cy="622.2" r="2.5"/>
<circle cx="431.7" cy="623.3" r="2.5"/>
<circle cx="432" cy="621.7" r="2.5"/>
<circle cx="432.3" cy="621.5" r="2.5"/>
<circle cx="432.6" cy="620" r="2.5"/>
<circle cx="432.9" cy="621.9" r="2.5"/>
<circle cx="433.2" cy="619.9" r="2.5"/>
<circle cx="433.5" cy="622.9" r="2.5"/>
<circle cx="433.7" cy="620.9" r="2.5"/>
<circle cx="434" cy="621.5" r="2.5"/>
<circle cx="434.3" cy="620.3" r="2.5"/>
<circle cx="434.6" cy="621.1" r="2.5"/>
<circle cx="434.9" cy="620.7" r="2.5"/>
<circle cx="435.2" cy="622.5" r="2.5"/>
<circle cx="435.5" cy="621.7" r="2.5"/>
<circle cx="435.7" cy="620.4" r="2.5"/>
<circle cx="436" cy="619.8" r="2.5"/>
<circle cx="436.3" cy="621.4" r="2.5"/>
<circle cx="436.6" cy="621.1" r="2.5"/>
<circle cx="436.9" cy="620.5" r="2.5"/>
<circle cx="437.2" cy="622" r="2.5"/>
<circle cx="437.5" cy="621.3" r="2.5"/>
<circle cx="437.7" cy="621.6" r="2.5"/>
<circle cx="438" cy="621" r="2.5"/>
<circle cx="438.3" cy="621" r="2.5"/>
<circle cx="438.6" cy="621.1" r="2.5"/>
<circle cx="438.9" cy="620.1" r="2.5"/>
<circle cx="439.2" cy="622.1" r="2.5"/>
<circle cx="439.5" cy="621.9" r="2.5"/>
<circle cx="439.8" cy="619.9" r="2.5"/>
<circle cx="440" cy="621.6" r="2.5"/>
<circle cx="440.3" cy="622.5" r="2.5"/>
<circle cx="440.6" cy="621.7" r="2.5"/>
<circle cx="440.9" cy="622.7" r="2.5"/>
<circle cx="441.2" cy="621.3" r="2.5"/>
<circle cx="441.5" cy="621.5" r="2.5"/>
<circle cx="441.8" cy="620.3" r="2.5"/>
<circle cx="442" cy="620.7" r="2.5"/>
<circle cx="442.3" cy="619.9" r="2.5"/>
<circle cx="442.6" cy="620.7" r="2.5"/>
<circle cx="442.9" cy="621.7" r="2.5"/>
<circle cx="443.2" cy="622" r="2.5"/>
<circle cx="443.5" cy="622.5" r="2.5"/>
<circle cx="443.8" cy="621.6" r="2.5"/>
<circle cx="444.1" cy="620.6" r="2.5"/>
<circle cx="444.3" cy="621.9" r="2.5"/>
<circle cx="444.6" cy="621.4" r="2.5"/>
<circle cx="444.9" cy="623.1" r="2.5"/>
<circle cx="445.2" cy="623.3" r="2.5"/>
<circle cx="445.5" cy="622.4" r="2.5"/>
<circle cx="445.8" cy="620.5" r="2.5"/>
<circle cx="446.1" cy="621" r="2.5"/>
<circle cx="446.3" cy="621.7" r="2.5"/>
<circle cx="446.6" cy="620.9" r="2.5"/>
<circle cx="446.9" cy="622" r="2.5"/>
<circle cx="447.2" cy="622.1" r="2.5"/>
<circle cx="447.5" cy="622.3" r="2.5"/>
<circle cx="447.8" cy="621.7" r="2.5"/>
<circle cx="448.1" cy="620.7" r="2.5"/>
<circle cx="448.3" cy="620.7" r="2.5"/>
<circle cx="448.6" cy="621.4" r="2.5"/>
<circle cx="448.9" cy="622.7" r="2.5"/>
<circle cx="449.2" cy="622.9" r="2.5"/>
<circle cx="449.5" cy="622.4" r="2.5"/>
<circle cx="449.8" cy="621.8" r="2.5"/>
<circle cx="450.1" cy="622.1" r="2.5"/>
<circle cx="450.4" cy="622.2" r="2.5"/>
<circle cx="450.6" cy="622.7" r="2.5"/>
<circle cx="450.9" cy="622.3" r="2.5"/>
<circle cx="451.2" cy="620.1" r="2.5"/>
<circle cx="451.5" cy="622.4" r="2.5"/>
</g>
<rect x="97.5" y="412.5" width="366.3" height="295.0" fill="none" stroke="#000" stroke-width="2.3"/>
<path d="M97.5,433.6h5.8 M97.5,429.4h3.6 M97.5,426.8h3.6 M97.5,422.3h3.6 M97.5,454.6h5.8 M97.5,450.4h3.6 M97.5,447.8h3.6 M97.5,443.3h3.6 M97.5,475.7h5.8 M97.5,471.5h3.6 M97.5,468.9h3.6 M97.5,464.4h3.6 M97.5,496.8h5.8 M97.5,492.6h3.6 M97.5,490h3.6 M97.5,485.5h3.6 M97.5,517.9h5.8 M97.5,513.7h3.6 M97.5,511.1h3.6 M97.5,506.6h3.6 M97.5,538.9h5.8 M97.5,534.7h3.6 M97.5,532.1h3.6 M97.5,527.6h3.6 M97.5,560h5.8 M97.5,555.8h3.6 M97.5,553.2h3.6 M97.5,548.7h3.6 M97.5,581.1h5.8 M97.5,576.9h3.6 M97.5,574.3h3.6 M97.5,569.8h3.6 M97.5,602.1h5.8 M97.5,597.9h3.6 M97.5,595.3h3.6 M97.5,590.8h3.6 M97.5,623.2h5.8 M97.5,619h3.6 M97.5,616.4h3.6 M97.5,611.9h3.6 M97.5,644.3h5.8 M97.5,640.1h3.6 M97.5,637.5h3.6 M97.5,633h3.6 M97.5,665.4h5.8 M97.5,661.2h3.6 M97.5,658.6h3.6 M97.5,654.1h3.6 M97.5,686.4h5.8 M97.5,682.2h3.6 M97.5,679.6h3.6 M97.5,675.1h3.6 M97.5,703.3h3.6 M97.5,700.7h3.6 M97.5,696.2h3.6 M107.7,707.5v-7 M136.4,707.5v-4 M165,707.5v-7 M193.7,707.5v-4 M222.3,707.5v-7 M251,707.5v-4 M279.6,707.5v-7 M308.2,707.5v-4 M336.9,707.5v-7 M365.6,707.5v-4 M394.2,707.5v-7 M422.9,707.5v-4 M451.5,707.5v-7" stroke="#000" stroke-width="2" fill="none"/>
<text x="90" y="418.9" font-size="18.2" text-anchor="end" fill="#000" >10<tspan font-size="12" baseline-shift="7.8">-1</tspan></text>
<text x="90" y="461" font-size="18.2" text-anchor="end" fill="#000" >10<tspan font-size="12" baseline-shift="7.8">-3</tspan></text>
<text x="90" y="503.2" font-size="18.2" text-anchor="end" fill="#000" >10<tspan font-size="12" baseline-shift="7.8">-5</tspan></text>
<text x="90" y="545.3" font-size="18.2" text-anchor="end" fill="#000" >10<tspan font-size="12" baseline-shift="7.8">-7</tspan></text>
<text x="90" y="587.5" font-size="18.2" text-anchor="end" fill="#000" >10<tspan font-size="12" baseline-shift="7.8">-9</tspan></text>
<text x="90" y="629.6" font-size="18.2" text-anchor="end" fill="#000" >10<tspan font-size="12" baseline-shift="7.8">-11</tspan></text>
<text x="90" y="671.8" font-size="18.2" text-anchor="end" fill="#000" >10<tspan font-size="12" baseline-shift="7.8">-13</tspan></text>
<text x="90" y="713.9" font-size="18.2" text-anchor="end" fill="#000" >10<tspan font-size="12" baseline-shift="7.8">-15</tspan></text>
<text x="108.5" y="727" font-size="16.3" text-anchor="middle" fill="#000" >-30</text>
<text x="165.8" y="727" font-size="16.3" text-anchor="middle" fill="#000" >-20</text>
<text x="223.1" y="727" font-size="16.3" text-anchor="middle" fill="#000" >-10</text>
<text x="279.6" y="727" font-size="16.3" text-anchor="middle" fill="#000" >0</text>
<text x="336.9" y="727" font-size="16.3" text-anchor="middle" fill="#000" >10</text>
<text x="394.2" y="727" font-size="16.3" text-anchor="middle" fill="#000" >20</text>
<text x="451.5" y="727" font-size="16.3" text-anchor="middle" fill="#000" >30</text>
<text x="279.8" y="763.3" font-size="25" text-anchor="middle" fill="#000" >Voltage (V)</text>
<text transform="translate(48.5,561.5) rotate(-90)" font-size="25" text-anchor="middle">Current (A)</text>
<line x1="121.5" y1="426.3" x2="151.5" y2="426.3" stroke="#8a7f8a" stroke-width="1.2"/>
<circle cx="136.5" cy="426.3" r="2.1" fill="#e24af5"/>
<text x="158.7" y="431.1" font-size="14.2" text-anchor="start" fill="#000" >3 mW/cm<tspan font-size="9" baseline-shift="5">2</tspan></text>
<line x1="121.5" y1="447.1" x2="151.5" y2="447.1" stroke="#2fae6e" stroke-width="1.2"/>
<circle cx="136.5" cy="447.1" r="2.1" fill="#2fae6e"/>
<text x="158.7" y="451.9" font-size="14.2" text-anchor="start" fill="#000" >3&#160; &#956;W/cm<tspan font-size="9" baseline-shift="5">2</tspan></text>
<line x1="121.5" y1="468.7" x2="151.5" y2="468.7" stroke="#1fd0c6" stroke-width="1.2"/>
<circle cx="136.5" cy="468.7" r="2.1" fill="#1fd0c6"/>
<text x="158.7" y="473.5" font-size="14.2" text-anchor="start" fill="#000" >3&#160; nW/cm<tspan font-size="9" baseline-shift="5">2</tspan></text>
<line x1="225" y1="426.3" x2="255" y2="426.3" stroke="#f03c46" stroke-width="1.2"/>
<circle cx="240" cy="426.3" r="2.1" fill="#f03c46"/>
<text x="258.3" y="431.1" font-size="14.2" text-anchor="start" fill="#000" >300 &#956;W/cm<tspan font-size="9" baseline-shift="5">2</tspan></text>
<line x1="225" y1="447.1" x2="255" y2="447.1" stroke="#b47be6" stroke-width="1.2"/>
<circle cx="240" cy="447.1" r="2.1" fill="#b47be6"/>
<text x="258.3" y="451.9" font-size="14.2" text-anchor="start" fill="#000" >300 nW/cm<tspan font-size="9" baseline-shift="5">2</tspan></text>
<line x1="225" y1="468.7" x2="255" y2="468.7" stroke="#7a3b55" stroke-width="1.2"/>
<circle cx="240" cy="468.7" r="2.1" fill="#f2418f"/>
<text x="258.3" y="473.5" font-size="14.2" text-anchor="start" fill="#000" >300 pW/cm<tspan font-size="9" baseline-shift="5">2</tspan></text>
<line x1="335.5" y1="426.3" x2="365.5" y2="426.3" stroke="#2468e0" stroke-width="1.2"/>
<circle cx="350.5" cy="426.3" r="2.1" fill="#2468e0"/>
<text x="369.6" y="431.1" font-size="14.2" text-anchor="start" fill="#000" >30 &#956;W/cm<tspan font-size="9" baseline-shift="5">2</tspan></text>
<line x1="335.5" y1="447.1" x2="365.5" y2="447.1" stroke="#cf9a0e" stroke-width="1.2"/>
<circle cx="350.5" cy="447.1" r="2.1" fill="#cf9a0e"/>
<text x="369.6" y="451.9" font-size="14.2" text-anchor="start" fill="#000" >30 nW/cm<tspan font-size="9" baseline-shift="5">2</tspan></text>
<line x1="335.5" y1="468.7" x2="365.5" y2="468.7" stroke="#a8a400" stroke-width="1.2"/>
<circle cx="350.5" cy="468.7" r="2.1" fill="#000"/>
<text x="369.6" y="473.5" font-size="14.2" text-anchor="start" fill="#000" >Dark</text>
</g>
<g id="pd">
<text x="455.5" y="388.7" font-size="33" text-anchor="start" fill="#000" >(d)</text>
<line x1="618.2" y1="656.8" x2="886.7" y2="478.2" stroke="#ea3a40" stroke-width="1"/>
<line x1="628" y1="656.8" x2="884" y2="656.8" stroke="#000" stroke-width="1" stroke-dasharray="11.3 8.3"/>
<line x1="888.2" y1="480.5" x2="888.2" y2="656" stroke="#000" stroke-width="1" stroke-dasharray="10.8 8.4"/>
<path d="M889.5,656.8 l-6.5,-2.6 v5.2z" fill="#000"/>
<line x1="886" y1="656.8" x2="893" y2="656.8" stroke="#000" stroke-width="1.1"/>
<circle cx="651.5" cy="624.6" r="5.6" fill="url(#gb)"/>
<circle cx="684.9" cy="608.9" r="5.6" fill="url(#gb)"/>
<circle cx="718.4" cy="597.4" r="5.6" fill="url(#gb)"/>
<circle cx="751.8" cy="558.2" r="5.6" fill="url(#gb)"/>
<circle cx="785.3" cy="532" r="5.6" fill="url(#gb)"/>
<circle cx="818.7" cy="506.4" r="5.6" fill="url(#gb)"/>
<circle cx="852.2" cy="486" r="5.6" fill="url(#gb)"/>
<circle cx="885.6" cy="473.5" r="5.6" fill="url(#gb)"/>
<circle cx="618.2" cy="656.8" r="5.4" fill="url(#gg)"/>
<text x="602.5" y="606.5" font-size="17.5" text-anchor="start" fill="#000" >I<tspan font-size="11.5" baseline-shift="-3" letter-spacing="0.4">dark</tspan></text>
<line x1="617" y1="619" x2="617" y2="639" stroke="#000" stroke-width="1"/>
<path d="M617,645 l-2.4,-7 h4.8z" fill="#000"/>
<text x="754.8" y="645.5" font-size="16.6" text-anchor="start" fill="#000" >LDR=140 dB</text>
<rect x="569.5" y="401.2" width="367.5" height="295.8" fill="none" stroke="#000" stroke-width="2.2"/>
<path d="M569.5,671.3h7 M569.5,641h7 M569.5,610.8h7 M569.5,580.5h7 M569.5,550.3h7 M569.5,520h7 M569.5,489.8h7 M569.5,459.6h7 M569.5,429.3h7 M602.9,697.0v-7 M636.3,697.0v-7 M669.7,697.0v-7 M703.1,697.0v-7 M736.5,697.0v-7 M770,697.0v-7 M803.4,697.0v-7 M836.8,697.0v-7 M870.2,697.0v-7 M903.6,697.0v-7" stroke="#000" stroke-width="1.8" fill="none"/>
<path d="M569.5,692.4h3.8 M569.5,687.1h3.8 M569.5,683.3h3.8 M569.5,680.4h3.8 M569.5,678h3.8 M569.5,676h3.8 M569.5,674.2h3.8 M569.5,672.7h3.8 M569.5,662.2h3.8 M569.5,656.9h3.8 M569.5,653.1h3.8 M569.5,650.2h3.8 M569.5,647.8h3.8 M569.5,645.7h3.8 M569.5,644h3.8 M569.5,642.4h3.8 M569.5,631.9h3.8 M569.5,626.6h3.8 M569.5,622.8h3.8 M569.5,619.9h3.8 M569.5,617.5h3.8 M569.5,615.5h3.8 M569.5,613.7h3.8 M569.5,612.2h3.8 M569.5,601.7h3.8 M569.5,596.4h3.8 M569.5,592.6h3.8 M569.5,589.7h3.8 M569.5,587.3h3.8 M569.5,585.2h3.8 M569.5,583.5h3.8 M569.5,581.9h3.8 M569.5,571.4h3.8 M569.5,566.1h3.8 M569.5,562.3h3.8 M569.5,559.4h3.8 M569.5,557h3.8 M569.5,555h3.8 M569.5,553.2h3.8 M569.5,551.7h3.8 M569.5,541.2h3.8 M569.5,535.9h3.8 M569.5,532.1h3.8 M569.5,529.2h3.8 M569.5,526.8h3.8 M569.5,524.7h3.8 M569.5,523h3.8 M569.5,521.4h3.8 M569.5,510.9h3.8 M569.5,505.6h3.8 M569.5,501.8h3.8 M569.5,498.9h3.8 M569.5,496.5h3.8 M569.5,494.5h3.8 M569.5,492.7h3.8 M569.5,491.2h3.8 M569.5,480.7h3.8 M569.5,475.4h3.8 M569.5,471.6h3.8 M569.5,468.7h3.8 M569.5,466.3h3.8 M569.5,464.2h3.8 M569.5,462.5h3.8 M569.5,460.9h3.8 M569.5,450.4h3.8 M569.5,445.1h3.8 M569.5,441.3h3.8 M569.5,438.4h3.8 M569.5,436h3.8 M569.5,434h3.8 M569.5,432.2h3.8 M569.5,430.7h3.8 M569.5,420.2h3.8 M569.5,414.9h3.8 M569.5,411.1h3.8 M569.5,408.2h3.8 M569.5,405.8h3.8 M569.5,403.7h3.8 M569.5,402h3.8 M579.6,697.0v-3.8 M585.4,697.0v-3.8 M589.6,697.0v-3.8 M592.9,697.0v-3.8 M595.5,697.0v-3.8 M597.7,697.0v-3.8 M599.7,697.0v-3.8 M601.4,697.0v-3.8 M613,697.0v-3.8 M618.8,697.0v-3.8 M623,697.0v-3.8 M626.3,697.0v-3.8 M628.9,697.0v-3.8 M631.1,697.0v-3.8 M633.1,697.0v-3.8 M634.8,697.0v-3.8 M646.4,697.0v-3.8 M652.3,697.0v-3.8 M656.4,697.0v-3.8 M659.7,697.0v-3.8 M662.3,697.0v-3.8 M664.6,697.0v-3.8 M666.5,697.0v-3.8 M668.2,697.0v-3.8 M679.8,697.0v-3.8 M685.7,697.0v-3.8 M689.8,697.0v-3.8 M693.1,697.0v-3.8 M695.7,697.0v-3.8 M698,697.0v-3.8 M699.9,697.0v-3.8 M701.6,697.0v-3.8 M713.2,697.0v-3.8 M719.1,697.0v-3.8 M723.3,697.0v-3.8 M726.5,697.0v-3.8 M729.1,697.0v-3.8 M731.4,697.0v-3.8 M733.3,697.0v-3.8 M735,697.0v-3.8 M746.6,697.0v-3.8 M752.5,697.0v-3.8 M756.7,697.0v-3.8 M759.9,697.0v-3.8 M762.5,697.0v-3.8 M764.8,697.0v-3.8 M766.7,697.0v-3.8 M768.4,697.0v-3.8 M780,697.0v-3.8 M785.9,697.0v-3.8 M790.1,697.0v-3.8 M793.3,697.0v-3.8 M796,697.0v-3.8 M798.2,697.0v-3.8 M800.1,697.0v-3.8 M801.8,697.0v-3.8 M813.4,697.0v-3.8 M819.3,697.0v-3.8 M823.5,697.0v-3.8 M826.7,697.0v-3.8 M829.4,697.0v-3.8 M831.6,697.0v-3.8 M833.5,697.0v-3.8 M835.2,697.0v-3.8 M846.8,697.0v-3.8 M852.7,697.0v-3.8 M856.9,697.0v-3.8 M860.1,697.0v-3.8 M862.8,697.0v-3.8 M865,697.0v-3.8 M866.9,697.0v-3.8 M868.7,697.0v-3.8 M880.2,697.0v-3.8 M886.1,697.0v-3.8 M890.3,697.0v-3.8 M893.5,697.0v-3.8 M896.2,697.0v-3.8 M898.4,697.0v-3.8 M900.4,697.0v-3.8 M902.1,697.0v-3.8 M913.6,697.0v-3.8 M919.5,697.0v-3.8 M923.7,697.0v-3.8 M926.9,697.0v-3.8 M929.6,697.0v-3.8 M931.8,697.0v-3.8 M933.8,697.0v-3.8 M935.5,697.0v-3.8" stroke="#000" stroke-width="1.1" fill="none"/>
<text x="561.8" y="677.5" font-size="18" text-anchor="end" fill="#000" >10<tspan font-size="11.8" baseline-shift="8.6">-12</tspan></text>
<text x="561.8" y="647.2" font-size="18" text-anchor="end" fill="#000" >10<tspan font-size="11.8" baseline-shift="8.6">-11</tspan></text>
<text x="561.8" y="617" font-size="18" text-anchor="end" fill="#000" >10<tspan font-size="11.8" baseline-shift="8.6">-10</tspan></text>
<text x="561.8" y="586.8" font-size="18" text-anchor="end" fill="#000" >10<tspan font-size="11.8" baseline-shift="8.6">-9</tspan></text>
<text x="561.8" y="556.5" font-size="18" text-anchor="end" fill="#000" >10<tspan font-size="11.8" baseline-shift="8.6">-8</tspan></text>
<text x="561.8" y="526.2" font-size="18" text-anchor="end" fill="#000" >10<tspan font-size="11.8" baseline-shift="8.6">-7</tspan></text>
<text x="561.8" y="496" font-size="18" text-anchor="end" fill="#000" >10<tspan font-size="11.8" baseline-shift="8.6">-6</tspan></text>
<text x="561.8" y="465.8" font-size="18" text-anchor="end" fill="#000" >10<tspan font-size="11.8" baseline-shift="8.6">-5</tspan></text>
<text x="561.8" y="435.5" font-size="18" text-anchor="end" fill="#000" >10<tspan font-size="11.8" baseline-shift="8.6">-4</tspan></text>
<text x="569.2" y="720.8" font-size="18" text-anchor="middle" fill="#000" >10<tspan font-size="11.8" baseline-shift="8.6">-6</tspan></text>
<text x="602.6" y="720.8" font-size="18" text-anchor="middle" fill="#000" >10<tspan font-size="11.8" baseline-shift="8.6">-5</tspan></text>
<text x="636" y="720.8" font-size="18" text-anchor="middle" fill="#000" >10<tspan font-size="11.8" baseline-shift="8.6">-4</tspan></text>
<text x="669.4" y="720.8" font-size="18" text-anchor="middle" fill="#000" >10<tspan font-size="11.8" baseline-shift="8.6">-3</tspan></text>
<text x="702.8" y="720.8" font-size="18" text-anchor="middle" fill="#000" >10<tspan font-size="11.8" baseline-shift="8.6">-2</tspan></text>
<text x="736.2" y="720.8" font-size="18" text-anchor="middle" fill="#000" >10<tspan font-size="11.8" baseline-shift="8.6">-1</tspan></text>
<text x="769.7" y="720.8" font-size="18" text-anchor="middle" fill="#000" >10<tspan font-size="11.8" baseline-shift="8.6">0</tspan></text>
<text x="803.1" y="720.8" font-size="18" text-anchor="middle" fill="#000" >10<tspan font-size="11.8" baseline-shift="8.6">1</tspan></text>
<text x="836.5" y="720.8" font-size="18" text-anchor="middle" fill="#000" >10<tspan font-size="11.8" baseline-shift="8.6">2</tspan></text>
<text x="869.9" y="720.8" font-size="18" text-anchor="middle" fill="#000" >10<tspan font-size="11.8" baseline-shift="8.6">3</tspan></text>
<text x="903.3" y="720.8" font-size="18" text-anchor="middle" fill="#000" >10<tspan font-size="11.8" baseline-shift="8.6">4</tspan></text>
<text x="936.7" y="720.8" font-size="18" text-anchor="middle" fill="#000" >10<tspan font-size="11.8" baseline-shift="8.6">5</tspan></text>
<text x="751.5" y="758" font-size="25" text-anchor="middle">Light intensity (&#956;W/cm<tspan font-size="16.5" baseline-shift="9">2</tspan>)</text>
<text transform="translate(514,549.5) rotate(-90)" font-size="25" text-anchor="middle"><tspan font-style="italic">I</tspan><tspan font-size="17" baseline-shift="-5">ph</tspan> (A)</text>
</g>
</svg>
</body></html>
